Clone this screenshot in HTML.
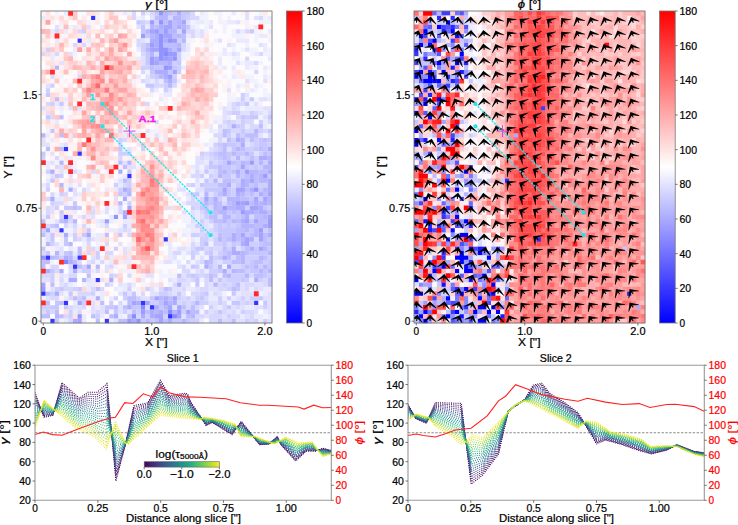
<!DOCTYPE html><html><head><meta charset="utf-8"><style>html,body{margin:0;padding:0;background:#fff;overflow:hidden}svg{display:block}</style></head><body><svg width="738" height="525" viewBox="0 0 738 525" font-family='"Liberation Sans", sans-serif'>
<style>text{stroke:#000;stroke-width:0.22px}</style>
<rect width="738" height="525" fill="#fff"/>
<g transform="translate(41,11) scale(4.5294,4.5217)">
<path fill="#3434ff" d="M11 1h1.06v1.06h-1.06zM8 6h1.06v1.06h-1.06zM5 30h1.06v1.06h-1.06zM8 31h1.06v1.06h-1.06zM19 36h1.06v1.06h-1.06zM5 45h1.06v1.06h-1.06zM4 48h1.06v1.06h-1.06zM27 50h1.06v1.06h-1.06zM1 54h1.06v1.06h-1.06zM8 54h1.06v1.06h-1.06zM7 56h1.06v1.06h-1.06zM12 59h1.06v1.06h-1.06zM0 62h1.06v1.06h-1.06zM5 64h1.06v1.06h-1.06zM22 64h1.06v1.06h-1.06zM47 64h1.06v1.06h-1.06zM24 65h1.06v1.06h-1.06zM28 67h1.06v1.06h-1.06zM2 68h1.06v1.06h-1.06zM14 68h1.06v1.06h-1.06z"/>
<path fill="#8282ff" d="M5 55h1.06v1.06h-1.06z"/>
<path fill="#8a8aff" d="M27 9h1.06v1.06h-1.06zM22 65h1.06v1.06h-1.06zM28 66h1.06v1.06h-1.06zM20 67h1.06v1.06h-1.06zM29 67h1.06v1.06h-1.06z"/>
<path fill="#9393ff" d="M26 0h1.06v1.06h-1.06zM26 2h1.06v1.06h-1.06zM26 5h1.06v1.06h-1.06zM26 6h1.06v1.06h-1.06zM28 6h1.06v1.06h-1.06zM26 7h1.06v1.06h-1.06zM26 8h1.06v1.06h-1.06zM27 8h1.06v1.06h-1.06zM26 9h1.06v1.06h-1.06zM26 10h1.06v1.06h-1.06zM29 10h1.06v1.06h-1.06zM27 12h1.06v1.06h-1.06zM47 39h1.06v1.06h-1.06zM16 45h1.06v1.06h-1.06zM0 54h1.06v1.06h-1.06zM8 67h1.06v1.06h-1.06zM21 68h1.06v1.06h-1.06z"/>
<path fill="#9c9cff" d="M24 2h1.06v1.06h-1.06zM25 4h1.06v1.06h-1.06zM27 4h1.06v1.06h-1.06zM22 5h1.06v1.06h-1.06zM29 6h1.06v1.06h-1.06zM24 7h1.06v1.06h-1.06zM28 9h1.06v1.06h-1.06zM29 9h1.06v1.06h-1.06zM24 10h1.06v1.06h-1.06zM27 10h1.06v1.06h-1.06zM24 11h1.06v1.06h-1.06zM28 12h1.06v1.06h-1.06zM28 14h1.06v1.06h-1.06zM46 33h1.06v1.06h-1.06zM45 35h1.06v1.06h-1.06zM49 36h1.06v1.06h-1.06zM43 42h1.06v1.06h-1.06zM45 42h1.06v1.06h-1.06zM40 43h1.06v1.06h-1.06zM44 44h1.06v1.06h-1.06zM14 46h1.06v1.06h-1.06zM50 46h1.06v1.06h-1.06zM50 47h1.06v1.06h-1.06zM48 48h1.06v1.06h-1.06zM0 61h1.06v1.06h-1.06zM22 66h1.06v1.06h-1.06zM30 66h1.06v1.06h-1.06zM19 68h1.06v1.06h-1.06z"/>
<path fill="#a4a4ff" d="M28 2h1.06v1.06h-1.06zM31 2h1.06v1.06h-1.06zM27 3h1.06v1.06h-1.06zM28 3h1.06v1.06h-1.06zM24 4h1.06v1.06h-1.06zM31 4h1.06v1.06h-1.06zM27 5h1.06v1.06h-1.06zM28 5h1.06v1.06h-1.06zM24 8h1.06v1.06h-1.06zM25 8h1.06v1.06h-1.06zM30 8h1.06v1.06h-1.06zM28 10h1.06v1.06h-1.06zM25 11h1.06v1.06h-1.06zM29 13h1.06v1.06h-1.06zM41 33h1.06v1.06h-1.06zM44 34h1.06v1.06h-1.06zM46 37h1.06v1.06h-1.06zM40 39h1.06v1.06h-1.06zM43 39h1.06v1.06h-1.06zM44 39h1.06v1.06h-1.06zM50 40h1.06v1.06h-1.06zM36 41h1.06v1.06h-1.06zM47 41h1.06v1.06h-1.06zM49 41h1.06v1.06h-1.06zM44 42h1.06v1.06h-1.06zM19 43h1.06v1.06h-1.06zM46 43h1.06v1.06h-1.06zM47 43h1.06v1.06h-1.06zM18 45h1.06v1.06h-1.06zM50 45h1.06v1.06h-1.06zM45 46h1.06v1.06h-1.06zM47 46h1.06v1.06h-1.06zM1 48h1.06v1.06h-1.06zM10 49h1.06v1.06h-1.06zM44 49h1.06v1.06h-1.06zM48 49h1.06v1.06h-1.06zM45 50h1.06v1.06h-1.06zM48 50h1.06v1.06h-1.06zM45 51h1.06v1.06h-1.06zM48 52h1.06v1.06h-1.06zM10 56h1.06v1.06h-1.06zM41 56h1.06v1.06h-1.06zM0 60h1.06v1.06h-1.06zM25 63h1.06v1.06h-1.06zM29 63h1.06v1.06h-1.06zM8 64h1.06v1.06h-1.06zM20 64h1.06v1.06h-1.06zM23 64h1.06v1.06h-1.06zM27 64h1.06v1.06h-1.06zM28 65h1.06v1.06h-1.06zM30 65h1.06v1.06h-1.06zM32 66h1.06v1.06h-1.06zM25 67h1.06v1.06h-1.06zM26 67h1.06v1.06h-1.06zM30 67h1.06v1.06h-1.06zM8 68h1.06v1.06h-1.06zM26 68h1.06v1.06h-1.06z"/>
<path fill="#adadff" d="M30 0h1.06v1.06h-1.06zM26 3h1.06v1.06h-1.06zM30 3h1.06v1.06h-1.06zM25 5h1.06v1.06h-1.06zM24 6h1.06v1.06h-1.06zM25 6h1.06v1.06h-1.06zM27 6h1.06v1.06h-1.06zM25 7h1.06v1.06h-1.06zM28 8h1.06v1.06h-1.06zM25 10h1.06v1.06h-1.06zM28 11h1.06v1.06h-1.06zM25 13h1.06v1.06h-1.06zM26 13h1.06v1.06h-1.06zM27 13h1.06v1.06h-1.06zM27 14h1.06v1.06h-1.06zM28 15h1.06v1.06h-1.06zM42 25h1.06v1.06h-1.06zM43 28h1.06v1.06h-1.06zM44 29h1.06v1.06h-1.06zM50 30h1.06v1.06h-1.06zM48 32h1.06v1.06h-1.06zM49 32h1.06v1.06h-1.06zM50 33h1.06v1.06h-1.06zM2 35h1.06v1.06h-1.06zM17 35h1.06v1.06h-1.06zM43 35h1.06v1.06h-1.06zM50 35h1.06v1.06h-1.06zM46 36h1.06v1.06h-1.06zM44 37h1.06v1.06h-1.06zM50 37h1.06v1.06h-1.06zM41 38h1.06v1.06h-1.06zM44 38h1.06v1.06h-1.06zM50 38h1.06v1.06h-1.06zM6 39h1.06v1.06h-1.06zM18 39h1.06v1.06h-1.06zM46 39h1.06v1.06h-1.06zM50 39h1.06v1.06h-1.06zM40 40h1.06v1.06h-1.06zM43 40h1.06v1.06h-1.06zM48 40h1.06v1.06h-1.06zM2 41h1.06v1.06h-1.06zM18 41h1.06v1.06h-1.06zM38 41h1.06v1.06h-1.06zM47 42h1.06v1.06h-1.06zM49 42h1.06v1.06h-1.06zM43 43h1.06v1.06h-1.06zM44 43h1.06v1.06h-1.06zM48 43h1.06v1.06h-1.06zM18 44h1.06v1.06h-1.06zM45 44h1.06v1.06h-1.06zM46 44h1.06v1.06h-1.06zM48 44h1.06v1.06h-1.06zM49 44h1.06v1.06h-1.06zM45 45h1.06v1.06h-1.06zM44 46h1.06v1.06h-1.06zM49 47h1.06v1.06h-1.06zM5 49h1.06v1.06h-1.06zM42 49h1.06v1.06h-1.06zM50 49h1.06v1.06h-1.06zM42 50h1.06v1.06h-1.06zM46 50h1.06v1.06h-1.06zM44 51h1.06v1.06h-1.06zM42 52h1.06v1.06h-1.06zM46 52h1.06v1.06h-1.06zM42 53h1.06v1.06h-1.06zM43 53h1.06v1.06h-1.06zM5 54h1.06v1.06h-1.06zM40 54h1.06v1.06h-1.06zM6 55h1.06v1.06h-1.06zM36 56h1.06v1.06h-1.06zM1 57h1.06v1.06h-1.06zM4 57h1.06v1.06h-1.06zM7 57h1.06v1.06h-1.06zM40 57h1.06v1.06h-1.06zM6 59h1.06v1.06h-1.06zM7 59h1.06v1.06h-1.06zM15 59h1.06v1.06h-1.06zM47 59h1.06v1.06h-1.06zM30 60h1.06v1.06h-1.06zM3 62h1.06v1.06h-1.06zM12 63h1.06v1.06h-1.06zM27 63h1.06v1.06h-1.06zM21 64h1.06v1.06h-1.06zM29 64h1.06v1.06h-1.06zM19 65h1.06v1.06h-1.06zM25 65h1.06v1.06h-1.06zM24 66h1.06v1.06h-1.06zM26 66h1.06v1.06h-1.06zM16 67h1.06v1.06h-1.06zM22 67h1.06v1.06h-1.06zM24 67h1.06v1.06h-1.06zM7 68h1.06v1.06h-1.06zM20 68h1.06v1.06h-1.06zM28 68h1.06v1.06h-1.06z"/>
<path fill="#b6b6ff" d="M27 0h1.06v1.06h-1.06zM26 1h1.06v1.06h-1.06zM27 1h1.06v1.06h-1.06zM29 1h1.06v1.06h-1.06zM30 1h1.06v1.06h-1.06zM30 2h1.06v1.06h-1.06zM24 3h1.06v1.06h-1.06zM31 3h1.06v1.06h-1.06zM23 4h1.06v1.06h-1.06zM26 4h1.06v1.06h-1.06zM28 4h1.06v1.06h-1.06zM29 4h1.06v1.06h-1.06zM24 5h1.06v1.06h-1.06zM30 5h1.06v1.06h-1.06zM31 6h1.06v1.06h-1.06zM30 7h1.06v1.06h-1.06zM23 8h1.06v1.06h-1.06zM24 9h1.06v1.06h-1.06zM26 11h1.06v1.06h-1.06zM27 11h1.06v1.06h-1.06zM3 12h1.06v1.06h-1.06zM26 14h1.06v1.06h-1.06zM28 16h1.06v1.06h-1.06zM47 26h1.06v1.06h-1.06zM0 27h1.06v1.06h-1.06zM44 28h1.06v1.06h-1.06zM43 30h1.06v1.06h-1.06zM42 31h1.06v1.06h-1.06zM45 31h1.06v1.06h-1.06zM43 32h1.06v1.06h-1.06zM50 32h1.06v1.06h-1.06zM4 33h1.06v1.06h-1.06zM19 33h1.06v1.06h-1.06zM44 33h1.06v1.06h-1.06zM48 33h1.06v1.06h-1.06zM49 34h1.06v1.06h-1.06zM50 34h1.06v1.06h-1.06zM40 35h1.06v1.06h-1.06zM46 35h1.06v1.06h-1.06zM47 35h1.06v1.06h-1.06zM39 36h1.06v1.06h-1.06zM43 36h1.06v1.06h-1.06zM48 36h1.06v1.06h-1.06zM38 37h1.06v1.06h-1.06zM45 37h1.06v1.06h-1.06zM48 37h1.06v1.06h-1.06zM49 37h1.06v1.06h-1.06zM4 38h1.06v1.06h-1.06zM45 38h1.06v1.06h-1.06zM49 39h1.06v1.06h-1.06zM19 40h1.06v1.06h-1.06zM36 40h1.06v1.06h-1.06zM44 40h1.06v1.06h-1.06zM41 41h1.06v1.06h-1.06zM42 41h1.06v1.06h-1.06zM43 41h1.06v1.06h-1.06zM50 41h1.06v1.06h-1.06zM17 42h1.06v1.06h-1.06zM36 42h1.06v1.06h-1.06zM38 42h1.06v1.06h-1.06zM42 42h1.06v1.06h-1.06zM48 42h1.06v1.06h-1.06zM50 42h1.06v1.06h-1.06zM38 43h1.06v1.06h-1.06zM41 43h1.06v1.06h-1.06zM42 43h1.06v1.06h-1.06zM39 44h1.06v1.06h-1.06zM40 44h1.06v1.06h-1.06zM47 44h1.06v1.06h-1.06zM40 45h1.06v1.06h-1.06zM41 45h1.06v1.06h-1.06zM49 45h1.06v1.06h-1.06zM5 46h1.06v1.06h-1.06zM7 46h1.06v1.06h-1.06zM40 46h1.06v1.06h-1.06zM42 46h1.06v1.06h-1.06zM44 47h1.06v1.06h-1.06zM45 47h1.06v1.06h-1.06zM46 47h1.06v1.06h-1.06zM45 48h1.06v1.06h-1.06zM47 48h1.06v1.06h-1.06zM47 49h1.06v1.06h-1.06zM39 50h1.06v1.06h-1.06zM44 50h1.06v1.06h-1.06zM1 51h1.06v1.06h-1.06zM6 51h1.06v1.06h-1.06zM49 52h1.06v1.06h-1.06zM3 53h1.06v1.06h-1.06zM44 53h1.06v1.06h-1.06zM50 53h1.06v1.06h-1.06zM2 54h1.06v1.06h-1.06zM6 54h1.06v1.06h-1.06zM44 54h1.06v1.06h-1.06zM48 54h1.06v1.06h-1.06zM36 55h1.06v1.06h-1.06zM44 55h1.06v1.06h-1.06zM12 56h1.06v1.06h-1.06zM39 56h1.06v1.06h-1.06zM47 56h1.06v1.06h-1.06zM49 56h1.06v1.06h-1.06zM42 57h1.06v1.06h-1.06zM48 57h1.06v1.06h-1.06zM50 57h1.06v1.06h-1.06zM41 58h1.06v1.06h-1.06zM45 58h1.06v1.06h-1.06zM9 59h1.06v1.06h-1.06zM38 60h1.06v1.06h-1.06zM26 63h1.06v1.06h-1.06zM28 64h1.06v1.06h-1.06zM34 64h1.06v1.06h-1.06zM27 65h1.06v1.06h-1.06zM25 66h1.06v1.06h-1.06zM29 66h1.06v1.06h-1.06zM3 67h1.06v1.06h-1.06zM33 67h1.06v1.06h-1.06zM23 68h1.06v1.06h-1.06zM31 68h1.06v1.06h-1.06z"/>
<path fill="#bebeff" d="M28 0h1.06v1.06h-1.06zM25 1h1.06v1.06h-1.06zM27 2h1.06v1.06h-1.06zM29 2h1.06v1.06h-1.06zM25 3h1.06v1.06h-1.06zM29 3h1.06v1.06h-1.06zM29 5h1.06v1.06h-1.06zM31 5h1.06v1.06h-1.06zM23 7h1.06v1.06h-1.06zM27 7h1.06v1.06h-1.06zM28 7h1.06v1.06h-1.06zM29 7h1.06v1.06h-1.06zM29 8h1.06v1.06h-1.06zM24 12h1.06v1.06h-1.06zM27 15h1.06v1.06h-1.06zM3 19h1.06v1.06h-1.06zM4 23h1.06v1.06h-1.06zM48 25h1.06v1.06h-1.06zM40 26h1.06v1.06h-1.06zM4 27h1.06v1.06h-1.06zM40 27h1.06v1.06h-1.06zM43 27h1.06v1.06h-1.06zM45 27h1.06v1.06h-1.06zM46 27h1.06v1.06h-1.06zM47 27h1.06v1.06h-1.06zM41 28h1.06v1.06h-1.06zM46 28h1.06v1.06h-1.06zM49 28h1.06v1.06h-1.06zM40 29h1.06v1.06h-1.06zM1 30h1.06v1.06h-1.06zM4 30h1.06v1.06h-1.06zM40 30h1.06v1.06h-1.06zM44 30h1.06v1.06h-1.06zM48 30h1.06v1.06h-1.06zM39 31h1.06v1.06h-1.06zM40 31h1.06v1.06h-1.06zM49 31h1.06v1.06h-1.06zM40 32h1.06v1.06h-1.06zM46 32h1.06v1.06h-1.06zM17 33h1.06v1.06h-1.06zM42 33h1.06v1.06h-1.06zM45 33h1.06v1.06h-1.06zM18 34h1.06v1.06h-1.06zM39 34h1.06v1.06h-1.06zM39 35h1.06v1.06h-1.06zM42 35h1.06v1.06h-1.06zM48 35h1.06v1.06h-1.06zM49 35h1.06v1.06h-1.06zM45 36h1.06v1.06h-1.06zM47 36h1.06v1.06h-1.06zM18 37h1.06v1.06h-1.06zM40 37h1.06v1.06h-1.06zM41 37h1.06v1.06h-1.06zM47 37h1.06v1.06h-1.06zM39 38h1.06v1.06h-1.06zM40 38h1.06v1.06h-1.06zM47 38h1.06v1.06h-1.06zM19 39h1.06v1.06h-1.06zM45 39h1.06v1.06h-1.06zM39 40h1.06v1.06h-1.06zM46 40h1.06v1.06h-1.06zM49 40h1.06v1.06h-1.06zM44 41h1.06v1.06h-1.06zM45 41h1.06v1.06h-1.06zM39 42h1.06v1.06h-1.06zM41 42h1.06v1.06h-1.06zM46 42h1.06v1.06h-1.06zM7 43h1.06v1.06h-1.06zM39 43h1.06v1.06h-1.06zM38 44h1.06v1.06h-1.06zM42 44h1.06v1.06h-1.06zM50 44h1.06v1.06h-1.06zM37 45h1.06v1.06h-1.06zM38 45h1.06v1.06h-1.06zM44 45h1.06v1.06h-1.06zM47 45h1.06v1.06h-1.06zM48 45h1.06v1.06h-1.06zM0 46h1.06v1.06h-1.06zM4 46h1.06v1.06h-1.06zM38 46h1.06v1.06h-1.06zM39 46h1.06v1.06h-1.06zM43 46h1.06v1.06h-1.06zM48 46h1.06v1.06h-1.06zM49 46h1.06v1.06h-1.06zM3 47h1.06v1.06h-1.06zM47 47h1.06v1.06h-1.06zM48 47h1.06v1.06h-1.06zM43 48h1.06v1.06h-1.06zM44 48h1.06v1.06h-1.06zM50 48h1.06v1.06h-1.06zM0 49h1.06v1.06h-1.06zM14 49h1.06v1.06h-1.06zM39 49h1.06v1.06h-1.06zM43 49h1.06v1.06h-1.06zM46 49h1.06v1.06h-1.06zM49 49h1.06v1.06h-1.06zM41 50h1.06v1.06h-1.06zM43 50h1.06v1.06h-1.06zM49 50h1.06v1.06h-1.06zM36 51h1.06v1.06h-1.06zM49 51h1.06v1.06h-1.06zM50 51h1.06v1.06h-1.06zM8 52h1.06v1.06h-1.06zM40 52h1.06v1.06h-1.06zM45 52h1.06v1.06h-1.06zM6 53h1.06v1.06h-1.06zM8 53h1.06v1.06h-1.06zM41 53h1.06v1.06h-1.06zM45 53h1.06v1.06h-1.06zM3 54h1.06v1.06h-1.06zM37 54h1.06v1.06h-1.06zM41 54h1.06v1.06h-1.06zM43 54h1.06v1.06h-1.06zM49 54h1.06v1.06h-1.06zM0 55h1.06v1.06h-1.06zM1 55h1.06v1.06h-1.06zM7 55h1.06v1.06h-1.06zM37 55h1.06v1.06h-1.06zM42 55h1.06v1.06h-1.06zM43 55h1.06v1.06h-1.06zM47 55h1.06v1.06h-1.06zM48 55h1.06v1.06h-1.06zM0 56h1.06v1.06h-1.06zM8 56h1.06v1.06h-1.06zM45 56h1.06v1.06h-1.06zM43 57h1.06v1.06h-1.06zM44 57h1.06v1.06h-1.06zM10 58h1.06v1.06h-1.06zM30 58h1.06v1.06h-1.06zM37 58h1.06v1.06h-1.06zM40 58h1.06v1.06h-1.06zM47 58h1.06v1.06h-1.06zM48 58h1.06v1.06h-1.06zM37 59h1.06v1.06h-1.06zM50 59h1.06v1.06h-1.06zM2 60h1.06v1.06h-1.06zM43 60h1.06v1.06h-1.06zM50 60h1.06v1.06h-1.06zM12 61h1.06v1.06h-1.06zM27 61h1.06v1.06h-1.06zM42 61h1.06v1.06h-1.06zM1 62h1.06v1.06h-1.06zM7 63h1.06v1.06h-1.06zM9 63h1.06v1.06h-1.06zM19 63h1.06v1.06h-1.06zM20 63h1.06v1.06h-1.06zM28 63h1.06v1.06h-1.06zM1 64h1.06v1.06h-1.06zM4 64h1.06v1.06h-1.06zM13 64h1.06v1.06h-1.06zM19 64h1.06v1.06h-1.06zM26 64h1.06v1.06h-1.06zM16 65h1.06v1.06h-1.06zM18 65h1.06v1.06h-1.06zM31 65h1.06v1.06h-1.06zM33 65h1.06v1.06h-1.06zM3 66h1.06v1.06h-1.06zM14 66h1.06v1.06h-1.06zM20 66h1.06v1.06h-1.06zM23 66h1.06v1.06h-1.06zM27 66h1.06v1.06h-1.06zM33 66h1.06v1.06h-1.06zM34 66h1.06v1.06h-1.06zM0 67h1.06v1.06h-1.06zM1 67h1.06v1.06h-1.06zM4 67h1.06v1.06h-1.06zM11 67h1.06v1.06h-1.06zM15 67h1.06v1.06h-1.06zM19 67h1.06v1.06h-1.06zM32 67h1.06v1.06h-1.06zM12 68h1.06v1.06h-1.06zM17 68h1.06v1.06h-1.06zM18 68h1.06v1.06h-1.06zM25 68h1.06v1.06h-1.06zM27 68h1.06v1.06h-1.06zM39 68h1.06v1.06h-1.06zM42 68h1.06v1.06h-1.06z"/>
<path fill="#c7c7ff" d="M25 0h1.06v1.06h-1.06zM29 0h1.06v1.06h-1.06zM31 0h1.06v1.06h-1.06zM32 0h1.06v1.06h-1.06zM31 1h1.06v1.06h-1.06zM21 2h1.06v1.06h-1.06zM22 3h1.06v1.06h-1.06zM32 3h1.06v1.06h-1.06zM22 4h1.06v1.06h-1.06zM46 4h1.06v1.06h-1.06zM23 5h1.06v1.06h-1.06zM23 9h1.06v1.06h-1.06zM23 10h1.06v1.06h-1.06zM23 11h1.06v1.06h-1.06zM30 11h1.06v1.06h-1.06zM25 12h1.06v1.06h-1.06zM26 12h1.06v1.06h-1.06zM29 12h1.06v1.06h-1.06zM24 13h1.06v1.06h-1.06zM28 13h1.06v1.06h-1.06zM25 14h1.06v1.06h-1.06zM29 15h1.06v1.06h-1.06zM23 16h1.06v1.06h-1.06zM24 16h1.06v1.06h-1.06zM1 18h1.06v1.06h-1.06zM46 19h1.06v1.06h-1.06zM4 20h1.06v1.06h-1.06zM45 20h1.06v1.06h-1.06zM1 23h1.06v1.06h-1.06zM44 23h1.06v1.06h-1.06zM46 23h1.06v1.06h-1.06zM47 23h1.06v1.06h-1.06zM50 23h1.06v1.06h-1.06zM43 25h1.06v1.06h-1.06zM2 26h1.06v1.06h-1.06zM41 26h1.06v1.06h-1.06zM44 26h1.06v1.06h-1.06zM50 26h1.06v1.06h-1.06zM48 28h1.06v1.06h-1.06zM50 28h1.06v1.06h-1.06zM39 29h1.06v1.06h-1.06zM41 29h1.06v1.06h-1.06zM42 29h1.06v1.06h-1.06zM48 29h1.06v1.06h-1.06zM49 29h1.06v1.06h-1.06zM17 30h1.06v1.06h-1.06zM42 30h1.06v1.06h-1.06zM47 30h1.06v1.06h-1.06zM49 30h1.06v1.06h-1.06zM0 31h1.06v1.06h-1.06zM38 31h1.06v1.06h-1.06zM41 31h1.06v1.06h-1.06zM43 31h1.06v1.06h-1.06zM44 31h1.06v1.06h-1.06zM46 31h1.06v1.06h-1.06zM50 31h1.06v1.06h-1.06zM39 32h1.06v1.06h-1.06zM41 32h1.06v1.06h-1.06zM37 33h1.06v1.06h-1.06zM40 33h1.06v1.06h-1.06zM43 33h1.06v1.06h-1.06zM37 34h1.06v1.06h-1.06zM38 34h1.06v1.06h-1.06zM40 34h1.06v1.06h-1.06zM41 34h1.06v1.06h-1.06zM43 34h1.06v1.06h-1.06zM45 34h1.06v1.06h-1.06zM47 34h1.06v1.06h-1.06zM19 35h1.06v1.06h-1.06zM36 35h1.06v1.06h-1.06zM41 35h1.06v1.06h-1.06zM44 35h1.06v1.06h-1.06zM3 36h1.06v1.06h-1.06zM40 36h1.06v1.06h-1.06zM41 36h1.06v1.06h-1.06zM44 36h1.06v1.06h-1.06zM50 36h1.06v1.06h-1.06zM2 37h1.06v1.06h-1.06zM36 37h1.06v1.06h-1.06zM42 37h1.06v1.06h-1.06zM35 38h1.06v1.06h-1.06zM43 38h1.06v1.06h-1.06zM46 38h1.06v1.06h-1.06zM36 39h1.06v1.06h-1.06zM37 39h1.06v1.06h-1.06zM38 39h1.06v1.06h-1.06zM39 39h1.06v1.06h-1.06zM41 39h1.06v1.06h-1.06zM48 39h1.06v1.06h-1.06zM17 40h1.06v1.06h-1.06zM34 40h1.06v1.06h-1.06zM41 40h1.06v1.06h-1.06zM45 40h1.06v1.06h-1.06zM37 41h1.06v1.06h-1.06zM46 41h1.06v1.06h-1.06zM7 42h1.06v1.06h-1.06zM37 42h1.06v1.06h-1.06zM5 43h1.06v1.06h-1.06zM6 43h1.06v1.06h-1.06zM8 43h1.06v1.06h-1.06zM35 43h1.06v1.06h-1.06zM36 43h1.06v1.06h-1.06zM49 43h1.06v1.06h-1.06zM4 44h1.06v1.06h-1.06zM36 44h1.06v1.06h-1.06zM41 44h1.06v1.06h-1.06zM43 44h1.06v1.06h-1.06zM1 45h1.06v1.06h-1.06zM43 45h1.06v1.06h-1.06zM41 46h1.06v1.06h-1.06zM46 46h1.06v1.06h-1.06zM2 47h1.06v1.06h-1.06zM39 47h1.06v1.06h-1.06zM41 47h1.06v1.06h-1.06zM43 47h1.06v1.06h-1.06zM10 48h1.06v1.06h-1.06zM39 48h1.06v1.06h-1.06zM40 48h1.06v1.06h-1.06zM41 48h1.06v1.06h-1.06zM42 48h1.06v1.06h-1.06zM46 48h1.06v1.06h-1.06zM2 49h1.06v1.06h-1.06zM9 49h1.06v1.06h-1.06zM17 49h1.06v1.06h-1.06zM40 49h1.06v1.06h-1.06zM41 49h1.06v1.06h-1.06zM45 49h1.06v1.06h-1.06zM2 50h1.06v1.06h-1.06zM5 50h1.06v1.06h-1.06zM40 50h1.06v1.06h-1.06zM50 50h1.06v1.06h-1.06zM5 51h1.06v1.06h-1.06zM40 51h1.06v1.06h-1.06zM42 51h1.06v1.06h-1.06zM48 51h1.06v1.06h-1.06zM0 52h1.06v1.06h-1.06zM34 52h1.06v1.06h-1.06zM35 52h1.06v1.06h-1.06zM47 52h1.06v1.06h-1.06zM50 52h1.06v1.06h-1.06zM1 53h1.06v1.06h-1.06zM5 53h1.06v1.06h-1.06zM37 53h1.06v1.06h-1.06zM40 53h1.06v1.06h-1.06zM46 53h1.06v1.06h-1.06zM47 53h1.06v1.06h-1.06zM48 53h1.06v1.06h-1.06zM49 53h1.06v1.06h-1.06zM39 54h1.06v1.06h-1.06zM46 55h1.06v1.06h-1.06zM50 55h1.06v1.06h-1.06zM33 56h1.06v1.06h-1.06zM37 56h1.06v1.06h-1.06zM46 56h1.06v1.06h-1.06zM50 56h1.06v1.06h-1.06zM2 57h1.06v1.06h-1.06zM39 57h1.06v1.06h-1.06zM46 57h1.06v1.06h-1.06zM47 57h1.06v1.06h-1.06zM49 57h1.06v1.06h-1.06zM33 58h1.06v1.06h-1.06zM38 58h1.06v1.06h-1.06zM49 58h1.06v1.06h-1.06zM34 59h1.06v1.06h-1.06zM39 59h1.06v1.06h-1.06zM44 59h1.06v1.06h-1.06zM34 60h1.06v1.06h-1.06zM4 61h1.06v1.06h-1.06zM8 61h1.06v1.06h-1.06zM28 61h1.06v1.06h-1.06zM43 61h1.06v1.06h-1.06zM6 62h1.06v1.06h-1.06zM18 62h1.06v1.06h-1.06zM20 62h1.06v1.06h-1.06zM30 62h1.06v1.06h-1.06zM36 62h1.06v1.06h-1.06zM42 62h1.06v1.06h-1.06zM24 63h1.06v1.06h-1.06zM35 63h1.06v1.06h-1.06zM48 63h1.06v1.06h-1.06zM3 64h1.06v1.06h-1.06zM42 64h1.06v1.06h-1.06zM43 64h1.06v1.06h-1.06zM49 64h1.06v1.06h-1.06zM2 65h1.06v1.06h-1.06zM3 65h1.06v1.06h-1.06zM5 65h1.06v1.06h-1.06zM14 65h1.06v1.06h-1.06zM15 65h1.06v1.06h-1.06zM20 65h1.06v1.06h-1.06zM21 65h1.06v1.06h-1.06zM26 65h1.06v1.06h-1.06zM41 65h1.06v1.06h-1.06zM1 66h1.06v1.06h-1.06zM16 66h1.06v1.06h-1.06zM39 66h1.06v1.06h-1.06zM3 68h1.06v1.06h-1.06zM22 68h1.06v1.06h-1.06zM24 68h1.06v1.06h-1.06zM29 68h1.06v1.06h-1.06zM30 68h1.06v1.06h-1.06zM32 68h1.06v1.06h-1.06z"/>
<path fill="#cfcfff" d="M22 0h1.06v1.06h-1.06zM32 1h1.06v1.06h-1.06zM22 2h1.06v1.06h-1.06zM25 2h1.06v1.06h-1.06zM9 4h1.06v1.06h-1.06zM30 6h1.06v1.06h-1.06zM22 7h1.06v1.06h-1.06zM1 8h1.06v1.06h-1.06zM22 8h1.06v1.06h-1.06zM30 9h1.06v1.06h-1.06zM30 10h1.06v1.06h-1.06zM29 11h1.06v1.06h-1.06zM22 12h1.06v1.06h-1.06zM23 12h1.06v1.06h-1.06zM30 12h1.06v1.06h-1.06zM30 13h1.06v1.06h-1.06zM24 14h1.06v1.06h-1.06zM29 14h1.06v1.06h-1.06zM2 16h1.06v1.06h-1.06zM27 16h1.06v1.06h-1.06zM1 17h1.06v1.06h-1.06zM27 17h1.06v1.06h-1.06zM44 18h1.06v1.06h-1.06zM44 19h1.06v1.06h-1.06zM2 20h1.06v1.06h-1.06zM43 20h1.06v1.06h-1.06zM42 22h1.06v1.06h-1.06zM43 22h1.06v1.06h-1.06zM46 22h1.06v1.06h-1.06zM45 23h1.06v1.06h-1.06zM41 24h1.06v1.06h-1.06zM44 24h1.06v1.06h-1.06zM48 24h1.06v1.06h-1.06zM44 25h1.06v1.06h-1.06zM48 26h1.06v1.06h-1.06zM41 27h1.06v1.06h-1.06zM44 27h1.06v1.06h-1.06zM17 28h1.06v1.06h-1.06zM42 28h1.06v1.06h-1.06zM47 28h1.06v1.06h-1.06zM38 29h1.06v1.06h-1.06zM43 29h1.06v1.06h-1.06zM47 29h1.06v1.06h-1.06zM50 29h1.06v1.06h-1.06zM22 30h1.06v1.06h-1.06zM39 30h1.06v1.06h-1.06zM45 30h1.06v1.06h-1.06zM46 30h1.06v1.06h-1.06zM17 31h1.06v1.06h-1.06zM18 31h1.06v1.06h-1.06zM19 31h1.06v1.06h-1.06zM35 31h1.06v1.06h-1.06zM37 31h1.06v1.06h-1.06zM48 31h1.06v1.06h-1.06zM0 32h1.06v1.06h-1.06zM38 32h1.06v1.06h-1.06zM45 32h1.06v1.06h-1.06zM47 32h1.06v1.06h-1.06zM39 33h1.06v1.06h-1.06zM47 33h1.06v1.06h-1.06zM49 33h1.06v1.06h-1.06zM42 34h1.06v1.06h-1.06zM46 34h1.06v1.06h-1.06zM48 34h1.06v1.06h-1.06zM1 35h1.06v1.06h-1.06zM4 36h1.06v1.06h-1.06zM35 36h1.06v1.06h-1.06zM37 36h1.06v1.06h-1.06zM19 37h1.06v1.06h-1.06zM43 37h1.06v1.06h-1.06zM16 38h1.06v1.06h-1.06zM19 38h1.06v1.06h-1.06zM33 38h1.06v1.06h-1.06zM36 38h1.06v1.06h-1.06zM37 38h1.06v1.06h-1.06zM38 38h1.06v1.06h-1.06zM48 38h1.06v1.06h-1.06zM49 38h1.06v1.06h-1.06zM1 39h1.06v1.06h-1.06zM17 39h1.06v1.06h-1.06zM42 39h1.06v1.06h-1.06zM4 40h1.06v1.06h-1.06zM18 40h1.06v1.06h-1.06zM33 40h1.06v1.06h-1.06zM38 40h1.06v1.06h-1.06zM42 40h1.06v1.06h-1.06zM47 40h1.06v1.06h-1.06zM39 41h1.06v1.06h-1.06zM48 41h1.06v1.06h-1.06zM2 42h1.06v1.06h-1.06zM19 42h1.06v1.06h-1.06zM35 42h1.06v1.06h-1.06zM3 43h1.06v1.06h-1.06zM33 43h1.06v1.06h-1.06zM45 43h1.06v1.06h-1.06zM50 43h1.06v1.06h-1.06zM37 44h1.06v1.06h-1.06zM4 45h1.06v1.06h-1.06zM6 45h1.06v1.06h-1.06zM36 45h1.06v1.06h-1.06zM42 45h1.06v1.06h-1.06zM35 46h1.06v1.06h-1.06zM37 46h1.06v1.06h-1.06zM18 47h1.06v1.06h-1.06zM34 47h1.06v1.06h-1.06zM38 47h1.06v1.06h-1.06zM40 47h1.06v1.06h-1.06zM42 47h1.06v1.06h-1.06zM0 48h1.06v1.06h-1.06zM35 48h1.06v1.06h-1.06zM38 48h1.06v1.06h-1.06zM49 48h1.06v1.06h-1.06zM7 49h1.06v1.06h-1.06zM33 49h1.06v1.06h-1.06zM34 49h1.06v1.06h-1.06zM36 49h1.06v1.06h-1.06zM37 49h1.06v1.06h-1.06zM7 50h1.06v1.06h-1.06zM10 50h1.06v1.06h-1.06zM35 50h1.06v1.06h-1.06zM36 50h1.06v1.06h-1.06zM38 50h1.06v1.06h-1.06zM2 51h1.06v1.06h-1.06zM35 51h1.06v1.06h-1.06zM38 51h1.06v1.06h-1.06zM39 51h1.06v1.06h-1.06zM43 51h1.06v1.06h-1.06zM46 51h1.06v1.06h-1.06zM47 51h1.06v1.06h-1.06zM16 52h1.06v1.06h-1.06zM37 52h1.06v1.06h-1.06zM41 52h1.06v1.06h-1.06zM44 52h1.06v1.06h-1.06zM12 53h1.06v1.06h-1.06zM33 53h1.06v1.06h-1.06zM36 53h1.06v1.06h-1.06zM39 53h1.06v1.06h-1.06zM4 54h1.06v1.06h-1.06zM12 54h1.06v1.06h-1.06zM33 54h1.06v1.06h-1.06zM38 54h1.06v1.06h-1.06zM45 54h1.06v1.06h-1.06zM46 54h1.06v1.06h-1.06zM47 54h1.06v1.06h-1.06zM50 54h1.06v1.06h-1.06zM40 55h1.06v1.06h-1.06zM41 55h1.06v1.06h-1.06zM45 55h1.06v1.06h-1.06zM49 55h1.06v1.06h-1.06zM9 56h1.06v1.06h-1.06zM34 56h1.06v1.06h-1.06zM44 56h1.06v1.06h-1.06zM48 56h1.06v1.06h-1.06zM9 57h1.06v1.06h-1.06zM10 57h1.06v1.06h-1.06zM37 57h1.06v1.06h-1.06zM38 57h1.06v1.06h-1.06zM45 57h1.06v1.06h-1.06zM2 58h1.06v1.06h-1.06zM15 58h1.06v1.06h-1.06zM32 58h1.06v1.06h-1.06zM34 58h1.06v1.06h-1.06zM36 58h1.06v1.06h-1.06zM42 58h1.06v1.06h-1.06zM43 58h1.06v1.06h-1.06zM44 58h1.06v1.06h-1.06zM50 58h1.06v1.06h-1.06zM2 59h1.06v1.06h-1.06zM41 59h1.06v1.06h-1.06zM42 59h1.06v1.06h-1.06zM43 59h1.06v1.06h-1.06zM45 59h1.06v1.06h-1.06zM48 59h1.06v1.06h-1.06zM14 60h1.06v1.06h-1.06zM40 60h1.06v1.06h-1.06zM42 60h1.06v1.06h-1.06zM3 61h1.06v1.06h-1.06zM7 61h1.06v1.06h-1.06zM19 61h1.06v1.06h-1.06zM23 61h1.06v1.06h-1.06zM41 61h1.06v1.06h-1.06zM2 62h1.06v1.06h-1.06zM11 62h1.06v1.06h-1.06zM26 62h1.06v1.06h-1.06zM27 62h1.06v1.06h-1.06zM35 62h1.06v1.06h-1.06zM8 63h1.06v1.06h-1.06zM16 63h1.06v1.06h-1.06zM18 63h1.06v1.06h-1.06zM21 63h1.06v1.06h-1.06zM30 63h1.06v1.06h-1.06zM32 63h1.06v1.06h-1.06zM34 63h1.06v1.06h-1.06zM39 63h1.06v1.06h-1.06zM41 63h1.06v1.06h-1.06zM44 63h1.06v1.06h-1.06zM46 63h1.06v1.06h-1.06zM47 63h1.06v1.06h-1.06zM9 64h1.06v1.06h-1.06zM15 64h1.06v1.06h-1.06zM24 64h1.06v1.06h-1.06zM25 64h1.06v1.06h-1.06zM31 64h1.06v1.06h-1.06zM33 64h1.06v1.06h-1.06zM35 64h1.06v1.06h-1.06zM36 64h1.06v1.06h-1.06zM39 64h1.06v1.06h-1.06zM45 64h1.06v1.06h-1.06zM0 65h1.06v1.06h-1.06zM1 65h1.06v1.06h-1.06zM37 65h1.06v1.06h-1.06zM49 65h1.06v1.06h-1.06zM6 66h1.06v1.06h-1.06zM18 66h1.06v1.06h-1.06zM21 66h1.06v1.06h-1.06zM31 66h1.06v1.06h-1.06zM36 66h1.06v1.06h-1.06zM44 66h1.06v1.06h-1.06zM6 67h1.06v1.06h-1.06zM12 67h1.06v1.06h-1.06zM23 67h1.06v1.06h-1.06zM27 67h1.06v1.06h-1.06zM41 67h1.06v1.06h-1.06zM33 68h1.06v1.06h-1.06zM34 68h1.06v1.06h-1.06zM45 68h1.06v1.06h-1.06zM47 68h1.06v1.06h-1.06zM49 68h1.06v1.06h-1.06z"/>
<path fill="#d8d8ff" d="M20 0h1.06v1.06h-1.06zM24 0h1.06v1.06h-1.06zM33 0h1.06v1.06h-1.06zM20 1h1.06v1.06h-1.06zM28 1h1.06v1.06h-1.06zM33 1h1.06v1.06h-1.06zM34 1h1.06v1.06h-1.06zM48 1h1.06v1.06h-1.06zM23 2h1.06v1.06h-1.06zM3 4h1.06v1.06h-1.06zM8 4h1.06v1.06h-1.06zM30 4h1.06v1.06h-1.06zM32 4h1.06v1.06h-1.06zM33 4h1.06v1.06h-1.06zM43 4h1.06v1.06h-1.06zM45 4h1.06v1.06h-1.06zM33 5h1.06v1.06h-1.06zM21 6h1.06v1.06h-1.06zM7 7h1.06v1.06h-1.06zM9 7h1.06v1.06h-1.06zM21 7h1.06v1.06h-1.06zM31 7h1.06v1.06h-1.06zM31 8h1.06v1.06h-1.06zM0 9h1.06v1.06h-1.06zM3 9h1.06v1.06h-1.06zM22 9h1.06v1.06h-1.06zM25 9h1.06v1.06h-1.06zM48 9h1.06v1.06h-1.06zM45 10h1.06v1.06h-1.06zM47 11h1.06v1.06h-1.06zM22 13h1.06v1.06h-1.06zM47 13h1.06v1.06h-1.06zM2 14h1.06v1.06h-1.06zM8 14h1.06v1.06h-1.06zM22 15h1.06v1.06h-1.06zM25 15h1.06v1.06h-1.06zM25 16h1.06v1.06h-1.06zM26 16h1.06v1.06h-1.06zM29 16h1.06v1.06h-1.06zM24 17h1.06v1.06h-1.06zM1 20h1.06v1.06h-1.06zM23 20h1.06v1.06h-1.06zM42 20h1.06v1.06h-1.06zM44 20h1.06v1.06h-1.06zM42 21h1.06v1.06h-1.06zM41 22h1.06v1.06h-1.06zM47 22h1.06v1.06h-1.06zM50 22h1.06v1.06h-1.06zM2 23h1.06v1.06h-1.06zM43 23h1.06v1.06h-1.06zM25 24h1.06v1.06h-1.06zM40 24h1.06v1.06h-1.06zM42 24h1.06v1.06h-1.06zM45 24h1.06v1.06h-1.06zM46 24h1.06v1.06h-1.06zM50 24h1.06v1.06h-1.06zM39 25h1.06v1.06h-1.06zM41 25h1.06v1.06h-1.06zM46 25h1.06v1.06h-1.06zM47 25h1.06v1.06h-1.06zM17 26h1.06v1.06h-1.06zM42 26h1.06v1.06h-1.06zM43 26h1.06v1.06h-1.06zM45 26h1.06v1.06h-1.06zM46 26h1.06v1.06h-1.06zM49 26h1.06v1.06h-1.06zM38 27h1.06v1.06h-1.06zM39 27h1.06v1.06h-1.06zM50 27h1.06v1.06h-1.06zM18 28h1.06v1.06h-1.06zM39 28h1.06v1.06h-1.06zM45 28h1.06v1.06h-1.06zM17 29h1.06v1.06h-1.06zM46 29h1.06v1.06h-1.06zM38 30h1.06v1.06h-1.06zM36 31h1.06v1.06h-1.06zM3 32h1.06v1.06h-1.06zM17 32h1.06v1.06h-1.06zM35 32h1.06v1.06h-1.06zM37 32h1.06v1.06h-1.06zM42 32h1.06v1.06h-1.06zM44 32h1.06v1.06h-1.06zM38 33h1.06v1.06h-1.06zM3 34h1.06v1.06h-1.06zM36 34h1.06v1.06h-1.06zM7 35h1.06v1.06h-1.06zM11 35h1.06v1.06h-1.06zM34 35h1.06v1.06h-1.06zM38 35h1.06v1.06h-1.06zM33 36h1.06v1.06h-1.06zM34 36h1.06v1.06h-1.06zM38 36h1.06v1.06h-1.06zM42 36h1.06v1.06h-1.06zM37 37h1.06v1.06h-1.06zM1 38h1.06v1.06h-1.06zM18 38h1.06v1.06h-1.06zM32 38h1.06v1.06h-1.06zM42 38h1.06v1.06h-1.06zM9 39h1.06v1.06h-1.06zM2 40h1.06v1.06h-1.06zM5 40h1.06v1.06h-1.06zM1 41h1.06v1.06h-1.06zM33 41h1.06v1.06h-1.06zM35 41h1.06v1.06h-1.06zM3 42h1.06v1.06h-1.06zM4 42h1.06v1.06h-1.06zM32 42h1.06v1.06h-1.06zM33 42h1.06v1.06h-1.06zM34 42h1.06v1.06h-1.06zM40 42h1.06v1.06h-1.06zM1 43h1.06v1.06h-1.06zM17 43h1.06v1.06h-1.06zM34 43h1.06v1.06h-1.06zM37 43h1.06v1.06h-1.06zM1 44h1.06v1.06h-1.06zM11 44h1.06v1.06h-1.06zM17 44h1.06v1.06h-1.06zM35 44h1.06v1.06h-1.06zM9 45h1.06v1.06h-1.06zM39 45h1.06v1.06h-1.06zM46 45h1.06v1.06h-1.06zM6 46h1.06v1.06h-1.06zM1 47h1.06v1.06h-1.06zM5 47h1.06v1.06h-1.06zM7 47h1.06v1.06h-1.06zM9 47h1.06v1.06h-1.06zM14 47h1.06v1.06h-1.06zM35 47h1.06v1.06h-1.06zM18 48h1.06v1.06h-1.06zM37 48h1.06v1.06h-1.06zM19 49h1.06v1.06h-1.06zM35 49h1.06v1.06h-1.06zM38 49h1.06v1.06h-1.06zM8 50h1.06v1.06h-1.06zM47 50h1.06v1.06h-1.06zM10 51h1.06v1.06h-1.06zM14 51h1.06v1.06h-1.06zM33 51h1.06v1.06h-1.06zM41 51h1.06v1.06h-1.06zM11 52h1.06v1.06h-1.06zM33 52h1.06v1.06h-1.06zM36 52h1.06v1.06h-1.06zM38 52h1.06v1.06h-1.06zM39 52h1.06v1.06h-1.06zM0 53h1.06v1.06h-1.06zM10 53h1.06v1.06h-1.06zM14 53h1.06v1.06h-1.06zM15 53h1.06v1.06h-1.06zM29 53h1.06v1.06h-1.06zM30 53h1.06v1.06h-1.06zM34 53h1.06v1.06h-1.06zM7 54h1.06v1.06h-1.06zM42 54h1.06v1.06h-1.06zM8 55h1.06v1.06h-1.06zM11 55h1.06v1.06h-1.06zM13 55h1.06v1.06h-1.06zM32 55h1.06v1.06h-1.06zM35 55h1.06v1.06h-1.06zM38 55h1.06v1.06h-1.06zM2 56h1.06v1.06h-1.06zM3 56h1.06v1.06h-1.06zM6 56h1.06v1.06h-1.06zM15 56h1.06v1.06h-1.06zM31 56h1.06v1.06h-1.06zM38 56h1.06v1.06h-1.06zM42 56h1.06v1.06h-1.06zM43 56h1.06v1.06h-1.06zM3 57h1.06v1.06h-1.06zM12 57h1.06v1.06h-1.06zM31 57h1.06v1.06h-1.06zM32 57h1.06v1.06h-1.06zM35 57h1.06v1.06h-1.06zM41 57h1.06v1.06h-1.06zM0 58h1.06v1.06h-1.06zM1 58h1.06v1.06h-1.06zM6 58h1.06v1.06h-1.06zM7 58h1.06v1.06h-1.06zM16 58h1.06v1.06h-1.06zM19 58h1.06v1.06h-1.06zM35 58h1.06v1.06h-1.06zM46 58h1.06v1.06h-1.06zM4 59h1.06v1.06h-1.06zM30 59h1.06v1.06h-1.06zM31 59h1.06v1.06h-1.06zM33 59h1.06v1.06h-1.06zM36 59h1.06v1.06h-1.06zM40 59h1.06v1.06h-1.06zM49 59h1.06v1.06h-1.06zM5 60h1.06v1.06h-1.06zM19 60h1.06v1.06h-1.06zM29 60h1.06v1.06h-1.06zM36 60h1.06v1.06h-1.06zM39 60h1.06v1.06h-1.06zM41 60h1.06v1.06h-1.06zM45 60h1.06v1.06h-1.06zM46 60h1.06v1.06h-1.06zM49 60h1.06v1.06h-1.06zM5 61h1.06v1.06h-1.06zM6 61h1.06v1.06h-1.06zM11 61h1.06v1.06h-1.06zM13 61h1.06v1.06h-1.06zM26 61h1.06v1.06h-1.06zM31 61h1.06v1.06h-1.06zM35 61h1.06v1.06h-1.06zM36 61h1.06v1.06h-1.06zM39 61h1.06v1.06h-1.06zM40 61h1.06v1.06h-1.06zM45 61h1.06v1.06h-1.06zM47 61h1.06v1.06h-1.06zM8 62h1.06v1.06h-1.06zM9 62h1.06v1.06h-1.06zM10 62h1.06v1.06h-1.06zM22 62h1.06v1.06h-1.06zM28 62h1.06v1.06h-1.06zM33 62h1.06v1.06h-1.06zM34 62h1.06v1.06h-1.06zM38 62h1.06v1.06h-1.06zM2 63h1.06v1.06h-1.06zM3 63h1.06v1.06h-1.06zM6 63h1.06v1.06h-1.06zM31 63h1.06v1.06h-1.06zM36 63h1.06v1.06h-1.06zM17 64h1.06v1.06h-1.06zM30 64h1.06v1.06h-1.06zM32 64h1.06v1.06h-1.06zM40 64h1.06v1.06h-1.06zM44 64h1.06v1.06h-1.06zM46 64h1.06v1.06h-1.06zM6 65h1.06v1.06h-1.06zM9 65h1.06v1.06h-1.06zM23 65h1.06v1.06h-1.06zM32 65h1.06v1.06h-1.06zM34 65h1.06v1.06h-1.06zM40 65h1.06v1.06h-1.06zM43 65h1.06v1.06h-1.06zM0 66h1.06v1.06h-1.06zM2 66h1.06v1.06h-1.06zM8 66h1.06v1.06h-1.06zM12 66h1.06v1.06h-1.06zM38 66h1.06v1.06h-1.06zM40 66h1.06v1.06h-1.06zM42 66h1.06v1.06h-1.06zM45 66h1.06v1.06h-1.06zM46 66h1.06v1.06h-1.06zM5 67h1.06v1.06h-1.06zM21 67h1.06v1.06h-1.06zM34 67h1.06v1.06h-1.06zM35 67h1.06v1.06h-1.06zM37 67h1.06v1.06h-1.06zM38 67h1.06v1.06h-1.06zM39 67h1.06v1.06h-1.06zM42 67h1.06v1.06h-1.06zM43 67h1.06v1.06h-1.06zM46 67h1.06v1.06h-1.06zM6 68h1.06v1.06h-1.06zM37 68h1.06v1.06h-1.06zM38 68h1.06v1.06h-1.06zM40 68h1.06v1.06h-1.06zM41 68h1.06v1.06h-1.06zM46 68h1.06v1.06h-1.06z"/>
<path fill="#e1e1ff" d="M45 0h1.06v1.06h-1.06zM24 1h1.06v1.06h-1.06zM45 1h1.06v1.06h-1.06zM47 1h1.06v1.06h-1.06zM32 2h1.06v1.06h-1.06zM43 2h1.06v1.06h-1.06zM3 3h1.06v1.06h-1.06zM10 3h1.06v1.06h-1.06zM21 3h1.06v1.06h-1.06zM37 3h1.06v1.06h-1.06zM35 4h1.06v1.06h-1.06zM35 5h1.06v1.06h-1.06zM22 6h1.06v1.06h-1.06zM39 6h1.06v1.06h-1.06zM41 7h1.06v1.06h-1.06zM48 7h1.06v1.06h-1.06zM45 8h1.06v1.06h-1.06zM6 9h1.06v1.06h-1.06zM42 9h1.06v1.06h-1.06zM22 10h1.06v1.06h-1.06zM4 11h1.06v1.06h-1.06zM22 11h1.06v1.06h-1.06zM43 11h1.06v1.06h-1.06zM23 14h1.06v1.06h-1.06zM23 15h1.06v1.06h-1.06zM45 15h1.06v1.06h-1.06zM49 15h1.06v1.06h-1.06zM1 16h1.06v1.06h-1.06zM28 17h1.06v1.06h-1.06zM41 17h1.06v1.06h-1.06zM45 18h1.06v1.06h-1.06zM48 19h1.06v1.06h-1.06zM49 19h1.06v1.06h-1.06zM47 20h1.06v1.06h-1.06zM0 21h1.06v1.06h-1.06zM6 21h1.06v1.06h-1.06zM8 21h1.06v1.06h-1.06zM40 21h1.06v1.06h-1.06zM43 21h1.06v1.06h-1.06zM49 21h1.06v1.06h-1.06zM50 21h1.06v1.06h-1.06zM1 22h1.06v1.06h-1.06zM40 22h1.06v1.06h-1.06zM44 22h1.06v1.06h-1.06zM45 22h1.06v1.06h-1.06zM48 22h1.06v1.06h-1.06zM40 23h1.06v1.06h-1.06zM49 23h1.06v1.06h-1.06zM43 24h1.06v1.06h-1.06zM40 25h1.06v1.06h-1.06zM23 26h1.06v1.06h-1.06zM39 26h1.06v1.06h-1.06zM25 27h1.06v1.06h-1.06zM42 27h1.06v1.06h-1.06zM48 27h1.06v1.06h-1.06zM0 28h1.06v1.06h-1.06zM0 29h1.06v1.06h-1.06zM1 29h1.06v1.06h-1.06zM5 29h1.06v1.06h-1.06zM45 29h1.06v1.06h-1.06zM19 30h1.06v1.06h-1.06zM37 30h1.06v1.06h-1.06zM41 30h1.06v1.06h-1.06zM2 31h1.06v1.06h-1.06zM47 31h1.06v1.06h-1.06zM34 32h1.06v1.06h-1.06zM36 32h1.06v1.06h-1.06zM2 33h1.06v1.06h-1.06zM18 33h1.06v1.06h-1.06zM34 33h1.06v1.06h-1.06zM35 33h1.06v1.06h-1.06zM4 34h1.06v1.06h-1.06zM6 34h1.06v1.06h-1.06zM19 34h1.06v1.06h-1.06zM20 34h1.06v1.06h-1.06zM34 34h1.06v1.06h-1.06zM4 35h1.06v1.06h-1.06zM37 35h1.06v1.06h-1.06zM2 36h1.06v1.06h-1.06zM6 36h1.06v1.06h-1.06zM17 37h1.06v1.06h-1.06zM34 37h1.06v1.06h-1.06zM39 37h1.06v1.06h-1.06zM8 38h1.06v1.06h-1.06zM7 39h1.06v1.06h-1.06zM30 39h1.06v1.06h-1.06zM31 39h1.06v1.06h-1.06zM34 39h1.06v1.06h-1.06zM35 39h1.06v1.06h-1.06zM7 40h1.06v1.06h-1.06zM32 40h1.06v1.06h-1.06zM37 40h1.06v1.06h-1.06zM6 41h1.06v1.06h-1.06zM16 41h1.06v1.06h-1.06zM40 41h1.06v1.06h-1.06zM2 43h1.06v1.06h-1.06zM11 43h1.06v1.06h-1.06zM14 43h1.06v1.06h-1.06zM28 43h1.06v1.06h-1.06zM2 44h1.06v1.06h-1.06zM14 44h1.06v1.06h-1.06zM31 44h1.06v1.06h-1.06zM33 44h1.06v1.06h-1.06zM11 45h1.06v1.06h-1.06zM19 45h1.06v1.06h-1.06zM33 45h1.06v1.06h-1.06zM35 45h1.06v1.06h-1.06zM3 46h1.06v1.06h-1.06zM13 46h1.06v1.06h-1.06zM33 46h1.06v1.06h-1.06zM36 46h1.06v1.06h-1.06zM36 47h1.06v1.06h-1.06zM3 48h1.06v1.06h-1.06zM7 48h1.06v1.06h-1.06zM17 48h1.06v1.06h-1.06zM19 48h1.06v1.06h-1.06zM36 48h1.06v1.06h-1.06zM1 49h1.06v1.06h-1.06zM1 50h1.06v1.06h-1.06zM11 50h1.06v1.06h-1.06zM37 50h1.06v1.06h-1.06zM3 51h1.06v1.06h-1.06zM17 51h1.06v1.06h-1.06zM4 52h1.06v1.06h-1.06zM18 52h1.06v1.06h-1.06zM30 52h1.06v1.06h-1.06zM31 52h1.06v1.06h-1.06zM43 52h1.06v1.06h-1.06zM4 53h1.06v1.06h-1.06zM18 53h1.06v1.06h-1.06zM32 53h1.06v1.06h-1.06zM38 53h1.06v1.06h-1.06zM11 54h1.06v1.06h-1.06zM29 54h1.06v1.06h-1.06zM35 54h1.06v1.06h-1.06zM10 55h1.06v1.06h-1.06zM27 55h1.06v1.06h-1.06zM28 55h1.06v1.06h-1.06zM34 55h1.06v1.06h-1.06zM39 55h1.06v1.06h-1.06zM14 56h1.06v1.06h-1.06zM30 56h1.06v1.06h-1.06zM6 57h1.06v1.06h-1.06zM8 57h1.06v1.06h-1.06zM14 57h1.06v1.06h-1.06zM34 57h1.06v1.06h-1.06zM4 58h1.06v1.06h-1.06zM23 58h1.06v1.06h-1.06zM24 58h1.06v1.06h-1.06zM31 58h1.06v1.06h-1.06zM0 59h1.06v1.06h-1.06zM1 59h1.06v1.06h-1.06zM10 59h1.06v1.06h-1.06zM13 59h1.06v1.06h-1.06zM28 59h1.06v1.06h-1.06zM32 59h1.06v1.06h-1.06zM38 59h1.06v1.06h-1.06zM4 60h1.06v1.06h-1.06zM15 60h1.06v1.06h-1.06zM17 60h1.06v1.06h-1.06zM31 60h1.06v1.06h-1.06zM32 60h1.06v1.06h-1.06zM37 60h1.06v1.06h-1.06zM44 60h1.06v1.06h-1.06zM47 60h1.06v1.06h-1.06zM48 60h1.06v1.06h-1.06zM2 61h1.06v1.06h-1.06zM24 61h1.06v1.06h-1.06zM29 61h1.06v1.06h-1.06zM30 61h1.06v1.06h-1.06zM34 61h1.06v1.06h-1.06zM37 61h1.06v1.06h-1.06zM38 61h1.06v1.06h-1.06zM44 61h1.06v1.06h-1.06zM48 61h1.06v1.06h-1.06zM4 62h1.06v1.06h-1.06zM17 62h1.06v1.06h-1.06zM19 62h1.06v1.06h-1.06zM24 62h1.06v1.06h-1.06zM25 62h1.06v1.06h-1.06zM29 62h1.06v1.06h-1.06zM31 62h1.06v1.06h-1.06zM39 62h1.06v1.06h-1.06zM44 62h1.06v1.06h-1.06zM45 62h1.06v1.06h-1.06zM46 62h1.06v1.06h-1.06zM50 62h1.06v1.06h-1.06zM1 63h1.06v1.06h-1.06zM22 63h1.06v1.06h-1.06zM23 63h1.06v1.06h-1.06zM33 63h1.06v1.06h-1.06zM43 63h1.06v1.06h-1.06zM45 63h1.06v1.06h-1.06zM49 63h1.06v1.06h-1.06zM50 63h1.06v1.06h-1.06zM11 64h1.06v1.06h-1.06zM37 64h1.06v1.06h-1.06zM38 64h1.06v1.06h-1.06zM50 64h1.06v1.06h-1.06zM7 65h1.06v1.06h-1.06zM8 65h1.06v1.06h-1.06zM11 65h1.06v1.06h-1.06zM13 65h1.06v1.06h-1.06zM17 65h1.06v1.06h-1.06zM29 65h1.06v1.06h-1.06zM35 65h1.06v1.06h-1.06zM38 65h1.06v1.06h-1.06zM42 65h1.06v1.06h-1.06zM44 65h1.06v1.06h-1.06zM47 65h1.06v1.06h-1.06zM48 65h1.06v1.06h-1.06zM50 65h1.06v1.06h-1.06zM11 66h1.06v1.06h-1.06zM13 66h1.06v1.06h-1.06zM17 66h1.06v1.06h-1.06zM19 66h1.06v1.06h-1.06zM37 66h1.06v1.06h-1.06zM41 66h1.06v1.06h-1.06zM47 66h1.06v1.06h-1.06zM50 66h1.06v1.06h-1.06zM31 67h1.06v1.06h-1.06zM36 67h1.06v1.06h-1.06zM40 67h1.06v1.06h-1.06zM45 67h1.06v1.06h-1.06zM16 68h1.06v1.06h-1.06zM43 68h1.06v1.06h-1.06zM44 68h1.06v1.06h-1.06zM50 68h1.06v1.06h-1.06z"/>
<path fill="#e9e9ff" d="M5 0h1.06v1.06h-1.06zM18 0h1.06v1.06h-1.06zM23 0h1.06v1.06h-1.06zM35 0h1.06v1.06h-1.06zM42 0h1.06v1.06h-1.06zM0 1h1.06v1.06h-1.06zM22 1h1.06v1.06h-1.06zM50 1h1.06v1.06h-1.06zM34 2h1.06v1.06h-1.06zM35 2h1.06v1.06h-1.06zM37 2h1.06v1.06h-1.06zM41 2h1.06v1.06h-1.06zM42 2h1.06v1.06h-1.06zM7 3h1.06v1.06h-1.06zM13 3h1.06v1.06h-1.06zM23 3h1.06v1.06h-1.06zM33 3h1.06v1.06h-1.06zM47 3h1.06v1.06h-1.06zM2 4h1.06v1.06h-1.06zM5 4h1.06v1.06h-1.06zM34 4h1.06v1.06h-1.06zM44 4h1.06v1.06h-1.06zM50 4h1.06v1.06h-1.06zM32 5h1.06v1.06h-1.06zM34 5h1.06v1.06h-1.06zM48 5h1.06v1.06h-1.06zM49 5h1.06v1.06h-1.06zM3 6h1.06v1.06h-1.06zM10 6h1.06v1.06h-1.06zM23 6h1.06v1.06h-1.06zM43 6h1.06v1.06h-1.06zM44 6h1.06v1.06h-1.06zM45 6h1.06v1.06h-1.06zM32 7h1.06v1.06h-1.06zM42 7h1.06v1.06h-1.06zM49 7h1.06v1.06h-1.06zM7 8h1.06v1.06h-1.06zM21 8h1.06v1.06h-1.06zM32 8h1.06v1.06h-1.06zM40 8h1.06v1.06h-1.06zM49 8h1.06v1.06h-1.06zM2 9h1.06v1.06h-1.06zM40 9h1.06v1.06h-1.06zM43 9h1.06v1.06h-1.06zM47 9h1.06v1.06h-1.06zM2 10h1.06v1.06h-1.06zM21 10h1.06v1.06h-1.06zM39 10h1.06v1.06h-1.06zM50 10h1.06v1.06h-1.06zM39 11h1.06v1.06h-1.06zM45 11h1.06v1.06h-1.06zM46 11h1.06v1.06h-1.06zM31 12h1.06v1.06h-1.06zM40 12h1.06v1.06h-1.06zM42 12h1.06v1.06h-1.06zM45 12h1.06v1.06h-1.06zM49 12h1.06v1.06h-1.06zM21 14h1.06v1.06h-1.06zM42 14h1.06v1.06h-1.06zM49 14h1.06v1.06h-1.06zM24 15h1.06v1.06h-1.06zM26 15h1.06v1.06h-1.06zM30 15h1.06v1.06h-1.06zM43 16h1.06v1.06h-1.06zM47 16h1.06v1.06h-1.06zM25 17h1.06v1.06h-1.06zM46 17h1.06v1.06h-1.06zM27 18h1.06v1.06h-1.06zM28 18h1.06v1.06h-1.06zM5 19h1.06v1.06h-1.06zM26 19h1.06v1.06h-1.06zM43 19h1.06v1.06h-1.06zM45 19h1.06v1.06h-1.06zM50 19h1.06v1.06h-1.06zM3 20h1.06v1.06h-1.06zM41 20h1.06v1.06h-1.06zM4 21h1.06v1.06h-1.06zM41 21h1.06v1.06h-1.06zM45 21h1.06v1.06h-1.06zM46 21h1.06v1.06h-1.06zM47 21h1.06v1.06h-1.06zM48 21h1.06v1.06h-1.06zM49 22h1.06v1.06h-1.06zM41 23h1.06v1.06h-1.06zM3 24h1.06v1.06h-1.06zM38 24h1.06v1.06h-1.06zM49 24h1.06v1.06h-1.06zM37 25h1.06v1.06h-1.06zM45 25h1.06v1.06h-1.06zM49 25h1.06v1.06h-1.06zM37 26h1.06v1.06h-1.06zM1 27h1.06v1.06h-1.06zM6 27h1.06v1.06h-1.06zM18 27h1.06v1.06h-1.06zM2 28h1.06v1.06h-1.06zM27 28h1.06v1.06h-1.06zM40 28h1.06v1.06h-1.06zM4 29h1.06v1.06h-1.06zM21 29h1.06v1.06h-1.06zM36 29h1.06v1.06h-1.06zM6 32h1.06v1.06h-1.06zM1 33h1.06v1.06h-1.06zM36 33h1.06v1.06h-1.06zM1 34h1.06v1.06h-1.06zM33 34h1.06v1.06h-1.06zM8 35h1.06v1.06h-1.06zM35 35h1.06v1.06h-1.06zM18 36h1.06v1.06h-1.06zM1 37h1.06v1.06h-1.06zM7 37h1.06v1.06h-1.06zM0 38h1.06v1.06h-1.06zM6 38h1.06v1.06h-1.06zM10 38h1.06v1.06h-1.06zM17 38h1.06v1.06h-1.06zM30 38h1.06v1.06h-1.06zM34 38h1.06v1.06h-1.06zM10 39h1.06v1.06h-1.06zM14 39h1.06v1.06h-1.06zM16 39h1.06v1.06h-1.06zM8 40h1.06v1.06h-1.06zM29 40h1.06v1.06h-1.06zM35 40h1.06v1.06h-1.06zM3 41h1.06v1.06h-1.06zM4 41h1.06v1.06h-1.06zM30 41h1.06v1.06h-1.06zM32 41h1.06v1.06h-1.06zM34 41h1.06v1.06h-1.06zM5 42h1.06v1.06h-1.06zM31 42h1.06v1.06h-1.06zM7 44h1.06v1.06h-1.06zM34 44h1.06v1.06h-1.06zM0 45h1.06v1.06h-1.06zM8 45h1.06v1.06h-1.06zM10 45h1.06v1.06h-1.06zM15 45h1.06v1.06h-1.06zM34 45h1.06v1.06h-1.06zM12 46h1.06v1.06h-1.06zM15 46h1.06v1.06h-1.06zM18 46h1.06v1.06h-1.06zM19 46h1.06v1.06h-1.06zM34 46h1.06v1.06h-1.06zM6 47h1.06v1.06h-1.06zM13 47h1.06v1.06h-1.06zM19 47h1.06v1.06h-1.06zM32 47h1.06v1.06h-1.06zM33 47h1.06v1.06h-1.06zM37 47h1.06v1.06h-1.06zM2 48h1.06v1.06h-1.06zM15 48h1.06v1.06h-1.06zM16 48h1.06v1.06h-1.06zM33 48h1.06v1.06h-1.06zM34 48h1.06v1.06h-1.06zM4 49h1.06v1.06h-1.06zM6 49h1.06v1.06h-1.06zM12 49h1.06v1.06h-1.06zM13 49h1.06v1.06h-1.06zM28 49h1.06v1.06h-1.06zM31 49h1.06v1.06h-1.06zM9 50h1.06v1.06h-1.06zM12 50h1.06v1.06h-1.06zM33 50h1.06v1.06h-1.06zM28 51h1.06v1.06h-1.06zM34 51h1.06v1.06h-1.06zM3 52h1.06v1.06h-1.06zM6 52h1.06v1.06h-1.06zM12 52h1.06v1.06h-1.06zM19 52h1.06v1.06h-1.06zM28 52h1.06v1.06h-1.06zM32 52h1.06v1.06h-1.06zM7 53h1.06v1.06h-1.06zM28 53h1.06v1.06h-1.06zM15 54h1.06v1.06h-1.06zM19 54h1.06v1.06h-1.06zM28 54h1.06v1.06h-1.06zM15 55h1.06v1.06h-1.06zM18 55h1.06v1.06h-1.06zM19 55h1.06v1.06h-1.06zM30 55h1.06v1.06h-1.06zM11 57h1.06v1.06h-1.06zM36 57h1.06v1.06h-1.06zM5 58h1.06v1.06h-1.06zM39 58h1.06v1.06h-1.06zM11 59h1.06v1.06h-1.06zM22 59h1.06v1.06h-1.06zM29 59h1.06v1.06h-1.06zM46 59h1.06v1.06h-1.06zM6 60h1.06v1.06h-1.06zM10 60h1.06v1.06h-1.06zM11 60h1.06v1.06h-1.06zM18 60h1.06v1.06h-1.06zM20 60h1.06v1.06h-1.06zM25 60h1.06v1.06h-1.06zM10 61h1.06v1.06h-1.06zM16 61h1.06v1.06h-1.06zM18 61h1.06v1.06h-1.06zM32 61h1.06v1.06h-1.06zM33 61h1.06v1.06h-1.06zM46 61h1.06v1.06h-1.06zM49 61h1.06v1.06h-1.06zM50 61h1.06v1.06h-1.06zM13 62h1.06v1.06h-1.06zM37 62h1.06v1.06h-1.06zM43 62h1.06v1.06h-1.06zM49 62h1.06v1.06h-1.06zM5 63h1.06v1.06h-1.06zM10 63h1.06v1.06h-1.06zM11 63h1.06v1.06h-1.06zM13 63h1.06v1.06h-1.06zM15 63h1.06v1.06h-1.06zM37 63h1.06v1.06h-1.06zM38 63h1.06v1.06h-1.06zM40 63h1.06v1.06h-1.06zM42 63h1.06v1.06h-1.06zM7 64h1.06v1.06h-1.06zM12 65h1.06v1.06h-1.06zM39 65h1.06v1.06h-1.06zM45 65h1.06v1.06h-1.06zM46 65h1.06v1.06h-1.06zM7 66h1.06v1.06h-1.06zM43 66h1.06v1.06h-1.06zM49 66h1.06v1.06h-1.06zM9 67h1.06v1.06h-1.06zM13 67h1.06v1.06h-1.06zM17 67h1.06v1.06h-1.06zM44 67h1.06v1.06h-1.06zM47 67h1.06v1.06h-1.06zM48 67h1.06v1.06h-1.06zM50 67h1.06v1.06h-1.06zM5 68h1.06v1.06h-1.06zM9 68h1.06v1.06h-1.06zM15 68h1.06v1.06h-1.06zM35 68h1.06v1.06h-1.06zM48 68h1.06v1.06h-1.06z"/>
<path fill="#f2f2ff" d="M3 0h1.06v1.06h-1.06zM16 0h1.06v1.06h-1.06zM19 0h1.06v1.06h-1.06zM36 0h1.06v1.06h-1.06zM38 0h1.06v1.06h-1.06zM39 0h1.06v1.06h-1.06zM48 0h1.06v1.06h-1.06zM12 1h1.06v1.06h-1.06zM21 1h1.06v1.06h-1.06zM35 1h1.06v1.06h-1.06zM36 1h1.06v1.06h-1.06zM39 1h1.06v1.06h-1.06zM41 1h1.06v1.06h-1.06zM49 1h1.06v1.06h-1.06zM2 2h1.06v1.06h-1.06zM10 2h1.06v1.06h-1.06zM33 2h1.06v1.06h-1.06zM36 2h1.06v1.06h-1.06zM39 2h1.06v1.06h-1.06zM40 2h1.06v1.06h-1.06zM45 2h1.06v1.06h-1.06zM48 2h1.06v1.06h-1.06zM49 2h1.06v1.06h-1.06zM50 2h1.06v1.06h-1.06zM4 3h1.06v1.06h-1.06zM6 3h1.06v1.06h-1.06zM34 3h1.06v1.06h-1.06zM36 3h1.06v1.06h-1.06zM40 3h1.06v1.06h-1.06zM45 3h1.06v1.06h-1.06zM36 4h1.06v1.06h-1.06zM38 4h1.06v1.06h-1.06zM40 4h1.06v1.06h-1.06zM42 4h1.06v1.06h-1.06zM47 4h1.06v1.06h-1.06zM0 5h1.06v1.06h-1.06zM9 5h1.06v1.06h-1.06zM42 5h1.06v1.06h-1.06zM43 5h1.06v1.06h-1.06zM44 5h1.06v1.06h-1.06zM47 5h1.06v1.06h-1.06zM32 6h1.06v1.06h-1.06zM38 6h1.06v1.06h-1.06zM47 6h1.06v1.06h-1.06zM50 6h1.06v1.06h-1.06zM10 7h1.06v1.06h-1.06zM36 7h1.06v1.06h-1.06zM45 7h1.06v1.06h-1.06zM42 8h1.06v1.06h-1.06zM44 8h1.06v1.06h-1.06zM46 8h1.06v1.06h-1.06zM47 8h1.06v1.06h-1.06zM50 8h1.06v1.06h-1.06zM7 9h1.06v1.06h-1.06zM31 9h1.06v1.06h-1.06zM32 9h1.06v1.06h-1.06zM36 9h1.06v1.06h-1.06zM38 9h1.06v1.06h-1.06zM41 9h1.06v1.06h-1.06zM46 9h1.06v1.06h-1.06zM49 9h1.06v1.06h-1.06zM50 9h1.06v1.06h-1.06zM31 10h1.06v1.06h-1.06zM42 10h1.06v1.06h-1.06zM43 10h1.06v1.06h-1.06zM9 11h1.06v1.06h-1.06zM12 11h1.06v1.06h-1.06zM44 11h1.06v1.06h-1.06zM48 11h1.06v1.06h-1.06zM39 12h1.06v1.06h-1.06zM46 12h1.06v1.06h-1.06zM47 12h1.06v1.06h-1.06zM50 12h1.06v1.06h-1.06zM23 13h1.06v1.06h-1.06zM42 13h1.06v1.06h-1.06zM49 13h1.06v1.06h-1.06zM4 14h1.06v1.06h-1.06zM40 14h1.06v1.06h-1.06zM43 14h1.06v1.06h-1.06zM45 14h1.06v1.06h-1.06zM46 14h1.06v1.06h-1.06zM50 14h1.06v1.06h-1.06zM20 15h1.06v1.06h-1.06zM46 15h1.06v1.06h-1.06zM47 15h1.06v1.06h-1.06zM41 16h1.06v1.06h-1.06zM44 16h1.06v1.06h-1.06zM48 16h1.06v1.06h-1.06zM43 17h1.06v1.06h-1.06zM45 17h1.06v1.06h-1.06zM47 17h1.06v1.06h-1.06zM49 17h1.06v1.06h-1.06zM0 18h1.06v1.06h-1.06zM24 18h1.06v1.06h-1.06zM26 18h1.06v1.06h-1.06zM41 18h1.06v1.06h-1.06zM49 18h1.06v1.06h-1.06zM50 18h1.06v1.06h-1.06zM41 19h1.06v1.06h-1.06zM42 19h1.06v1.06h-1.06zM47 19h1.06v1.06h-1.06zM5 20h1.06v1.06h-1.06zM27 20h1.06v1.06h-1.06zM29 20h1.06v1.06h-1.06zM46 20h1.06v1.06h-1.06zM48 20h1.06v1.06h-1.06zM3 21h1.06v1.06h-1.06zM39 21h1.06v1.06h-1.06zM44 21h1.06v1.06h-1.06zM4 22h1.06v1.06h-1.06zM27 23h1.06v1.06h-1.06zM38 23h1.06v1.06h-1.06zM39 23h1.06v1.06h-1.06zM48 23h1.06v1.06h-1.06zM2 24h1.06v1.06h-1.06zM39 24h1.06v1.06h-1.06zM5 25h1.06v1.06h-1.06zM50 25h1.06v1.06h-1.06zM1 26h1.06v1.06h-1.06zM20 26h1.06v1.06h-1.06zM21 26h1.06v1.06h-1.06zM24 26h1.06v1.06h-1.06zM25 26h1.06v1.06h-1.06zM38 26h1.06v1.06h-1.06zM23 27h1.06v1.06h-1.06zM26 27h1.06v1.06h-1.06zM49 27h1.06v1.06h-1.06zM16 28h1.06v1.06h-1.06zM24 28h1.06v1.06h-1.06zM34 28h1.06v1.06h-1.06zM37 28h1.06v1.06h-1.06zM38 28h1.06v1.06h-1.06zM37 29h1.06v1.06h-1.06zM18 30h1.06v1.06h-1.06zM15 31h1.06v1.06h-1.06zM4 32h1.06v1.06h-1.06zM8 32h1.06v1.06h-1.06zM19 32h1.06v1.06h-1.06zM3 33h1.06v1.06h-1.06zM7 33h1.06v1.06h-1.06zM16 33h1.06v1.06h-1.06zM7 34h1.06v1.06h-1.06zM13 34h1.06v1.06h-1.06zM17 34h1.06v1.06h-1.06zM21 34h1.06v1.06h-1.06zM35 34h1.06v1.06h-1.06zM5 35h1.06v1.06h-1.06zM14 35h1.06v1.06h-1.06zM33 35h1.06v1.06h-1.06zM1 36h1.06v1.06h-1.06zM12 36h1.06v1.06h-1.06zM17 36h1.06v1.06h-1.06zM32 36h1.06v1.06h-1.06zM36 36h1.06v1.06h-1.06zM16 37h1.06v1.06h-1.06zM35 37h1.06v1.06h-1.06zM5 38h1.06v1.06h-1.06zM0 39h1.06v1.06h-1.06zM5 39h1.06v1.06h-1.06zM3 40h1.06v1.06h-1.06zM31 40h1.06v1.06h-1.06zM7 41h1.06v1.06h-1.06zM19 41h1.06v1.06h-1.06zM18 42h1.06v1.06h-1.06zM15 43h1.06v1.06h-1.06zM16 43h1.06v1.06h-1.06zM0 44h1.06v1.06h-1.06zM13 44h1.06v1.06h-1.06zM16 44h1.06v1.06h-1.06zM32 44h1.06v1.06h-1.06zM17 45h1.06v1.06h-1.06zM31 45h1.06v1.06h-1.06zM32 45h1.06v1.06h-1.06zM1 46h1.06v1.06h-1.06zM2 46h1.06v1.06h-1.06zM16 46h1.06v1.06h-1.06zM29 46h1.06v1.06h-1.06zM31 46h1.06v1.06h-1.06zM32 46h1.06v1.06h-1.06zM8 47h1.06v1.06h-1.06zM10 47h1.06v1.06h-1.06zM12 47h1.06v1.06h-1.06zM17 47h1.06v1.06h-1.06zM5 48h1.06v1.06h-1.06zM6 48h1.06v1.06h-1.06zM31 48h1.06v1.06h-1.06zM32 48h1.06v1.06h-1.06zM11 49h1.06v1.06h-1.06zM32 49h1.06v1.06h-1.06zM0 50h1.06v1.06h-1.06zM4 50h1.06v1.06h-1.06zM15 50h1.06v1.06h-1.06zM34 50h1.06v1.06h-1.06zM0 51h1.06v1.06h-1.06zM4 51h1.06v1.06h-1.06zM9 51h1.06v1.06h-1.06zM12 51h1.06v1.06h-1.06zM19 51h1.06v1.06h-1.06zM27 51h1.06v1.06h-1.06zM32 51h1.06v1.06h-1.06zM37 51h1.06v1.06h-1.06zM2 52h1.06v1.06h-1.06zM7 52h1.06v1.06h-1.06zM9 52h1.06v1.06h-1.06zM29 52h1.06v1.06h-1.06zM2 53h1.06v1.06h-1.06zM31 53h1.06v1.06h-1.06zM35 53h1.06v1.06h-1.06zM13 54h1.06v1.06h-1.06zM31 54h1.06v1.06h-1.06zM34 54h1.06v1.06h-1.06zM36 54h1.06v1.06h-1.06zM2 55h1.06v1.06h-1.06zM12 55h1.06v1.06h-1.06zM14 55h1.06v1.06h-1.06zM26 55h1.06v1.06h-1.06zM29 55h1.06v1.06h-1.06zM33 55h1.06v1.06h-1.06zM16 56h1.06v1.06h-1.06zM32 56h1.06v1.06h-1.06zM35 56h1.06v1.06h-1.06zM40 56h1.06v1.06h-1.06zM18 57h1.06v1.06h-1.06zM19 57h1.06v1.06h-1.06zM20 57h1.06v1.06h-1.06zM26 57h1.06v1.06h-1.06zM28 57h1.06v1.06h-1.06zM33 57h1.06v1.06h-1.06zM22 58h1.06v1.06h-1.06zM26 58h1.06v1.06h-1.06zM27 58h1.06v1.06h-1.06zM28 58h1.06v1.06h-1.06zM29 58h1.06v1.06h-1.06zM3 59h1.06v1.06h-1.06zM5 59h1.06v1.06h-1.06zM24 59h1.06v1.06h-1.06zM26 59h1.06v1.06h-1.06zM35 59h1.06v1.06h-1.06zM7 60h1.06v1.06h-1.06zM9 60h1.06v1.06h-1.06zM23 60h1.06v1.06h-1.06zM28 60h1.06v1.06h-1.06zM1 61h1.06v1.06h-1.06zM17 61h1.06v1.06h-1.06zM21 61h1.06v1.06h-1.06zM25 61h1.06v1.06h-1.06zM5 62h1.06v1.06h-1.06zM12 62h1.06v1.06h-1.06zM21 62h1.06v1.06h-1.06zM40 62h1.06v1.06h-1.06zM48 62h1.06v1.06h-1.06zM0 63h1.06v1.06h-1.06zM18 64h1.06v1.06h-1.06zM41 64h1.06v1.06h-1.06zM4 65h1.06v1.06h-1.06zM10 66h1.06v1.06h-1.06zM15 66h1.06v1.06h-1.06zM35 66h1.06v1.06h-1.06zM18 67h1.06v1.06h-1.06zM49 67h1.06v1.06h-1.06zM4 68h1.06v1.06h-1.06z"/>
<path fill="#fbfbff" d="M4 0h1.06v1.06h-1.06zM8 0h1.06v1.06h-1.06zM9 0h1.06v1.06h-1.06zM13 0h1.06v1.06h-1.06zM21 0h1.06v1.06h-1.06zM34 0h1.06v1.06h-1.06zM40 0h1.06v1.06h-1.06zM41 0h1.06v1.06h-1.06zM43 0h1.06v1.06h-1.06zM47 0h1.06v1.06h-1.06zM8 1h1.06v1.06h-1.06zM10 1h1.06v1.06h-1.06zM17 1h1.06v1.06h-1.06zM23 1h1.06v1.06h-1.06zM43 1h1.06v1.06h-1.06zM44 1h1.06v1.06h-1.06zM46 1h1.06v1.06h-1.06zM3 2h1.06v1.06h-1.06zM13 2h1.06v1.06h-1.06zM47 2h1.06v1.06h-1.06zM35 3h1.06v1.06h-1.06zM41 3h1.06v1.06h-1.06zM49 3h1.06v1.06h-1.06zM18 4h1.06v1.06h-1.06zM21 4h1.06v1.06h-1.06zM39 4h1.06v1.06h-1.06zM49 4h1.06v1.06h-1.06zM21 5h1.06v1.06h-1.06zM40 5h1.06v1.06h-1.06zM41 5h1.06v1.06h-1.06zM46 5h1.06v1.06h-1.06zM6 6h1.06v1.06h-1.06zM37 6h1.06v1.06h-1.06zM40 6h1.06v1.06h-1.06zM46 6h1.06v1.06h-1.06zM48 6h1.06v1.06h-1.06zM49 6h1.06v1.06h-1.06zM20 7h1.06v1.06h-1.06zM33 7h1.06v1.06h-1.06zM35 7h1.06v1.06h-1.06zM38 7h1.06v1.06h-1.06zM39 7h1.06v1.06h-1.06zM43 7h1.06v1.06h-1.06zM44 7h1.06v1.06h-1.06zM47 7h1.06v1.06h-1.06zM33 8h1.06v1.06h-1.06zM37 8h1.06v1.06h-1.06zM39 8h1.06v1.06h-1.06zM43 8h1.06v1.06h-1.06zM8 9h1.06v1.06h-1.06zM9 9h1.06v1.06h-1.06zM21 9h1.06v1.06h-1.06zM40 10h1.06v1.06h-1.06zM41 10h1.06v1.06h-1.06zM44 10h1.06v1.06h-1.06zM46 10h1.06v1.06h-1.06zM47 10h1.06v1.06h-1.06zM48 10h1.06v1.06h-1.06zM49 10h1.06v1.06h-1.06zM31 11h1.06v1.06h-1.06zM38 11h1.06v1.06h-1.06zM41 11h1.06v1.06h-1.06zM42 11h1.06v1.06h-1.06zM50 11h1.06v1.06h-1.06zM0 12h1.06v1.06h-1.06zM41 12h1.06v1.06h-1.06zM43 12h1.06v1.06h-1.06zM44 12h1.06v1.06h-1.06zM7 13h1.06v1.06h-1.06zM45 13h1.06v1.06h-1.06zM46 13h1.06v1.06h-1.06zM48 13h1.06v1.06h-1.06zM50 13h1.06v1.06h-1.06zM6 14h1.06v1.06h-1.06zM22 14h1.06v1.06h-1.06zM41 14h1.06v1.06h-1.06zM47 14h1.06v1.06h-1.06zM4 15h1.06v1.06h-1.06zM6 15h1.06v1.06h-1.06zM40 15h1.06v1.06h-1.06zM42 15h1.06v1.06h-1.06zM43 15h1.06v1.06h-1.06zM44 15h1.06v1.06h-1.06zM48 15h1.06v1.06h-1.06zM5 16h1.06v1.06h-1.06zM22 16h1.06v1.06h-1.06zM46 16h1.06v1.06h-1.06zM49 16h1.06v1.06h-1.06zM0 17h1.06v1.06h-1.06zM23 17h1.06v1.06h-1.06zM26 17h1.06v1.06h-1.06zM29 17h1.06v1.06h-1.06zM30 17h1.06v1.06h-1.06zM48 17h1.06v1.06h-1.06zM50 17h1.06v1.06h-1.06zM39 18h1.06v1.06h-1.06zM46 18h1.06v1.06h-1.06zM47 18h1.06v1.06h-1.06zM48 18h1.06v1.06h-1.06zM23 19h1.06v1.06h-1.06zM24 19h1.06v1.06h-1.06zM28 19h1.06v1.06h-1.06zM39 19h1.06v1.06h-1.06zM40 19h1.06v1.06h-1.06zM7 20h1.06v1.06h-1.06zM24 20h1.06v1.06h-1.06zM26 20h1.06v1.06h-1.06zM50 20h1.06v1.06h-1.06zM21 21h1.06v1.06h-1.06zM22 21h1.06v1.06h-1.06zM25 21h1.06v1.06h-1.06zM5 22h1.06v1.06h-1.06zM6 22h1.06v1.06h-1.06zM0 23h1.06v1.06h-1.06zM5 23h1.06v1.06h-1.06zM42 23h1.06v1.06h-1.06zM4 24h1.06v1.06h-1.06zM0 25h1.06v1.06h-1.06zM6 25h1.06v1.06h-1.06zM30 25h1.06v1.06h-1.06zM0 26h1.06v1.06h-1.06zM29 26h1.06v1.06h-1.06zM36 26h1.06v1.06h-1.06zM36 27h1.06v1.06h-1.06zM9 28h1.06v1.06h-1.06zM35 28h1.06v1.06h-1.06zM18 29h1.06v1.06h-1.06zM19 29h1.06v1.06h-1.06zM0 30h1.06v1.06h-1.06zM33 30h1.06v1.06h-1.06zM34 30h1.06v1.06h-1.06zM36 30h1.06v1.06h-1.06zM20 31h1.06v1.06h-1.06zM1 32h1.06v1.06h-1.06zM27 32h1.06v1.06h-1.06zM9 33h1.06v1.06h-1.06zM10 33h1.06v1.06h-1.06zM33 33h1.06v1.06h-1.06zM9 34h1.06v1.06h-1.06zM30 34h1.06v1.06h-1.06zM13 35h1.06v1.06h-1.06zM16 35h1.06v1.06h-1.06zM16 36h1.06v1.06h-1.06zM4 37h1.06v1.06h-1.06zM15 37h1.06v1.06h-1.06zM32 37h1.06v1.06h-1.06zM33 37h1.06v1.06h-1.06zM15 38h1.06v1.06h-1.06zM27 38h1.06v1.06h-1.06zM28 38h1.06v1.06h-1.06zM31 38h1.06v1.06h-1.06zM2 39h1.06v1.06h-1.06zM3 39h1.06v1.06h-1.06zM8 39h1.06v1.06h-1.06zM11 39h1.06v1.06h-1.06zM32 39h1.06v1.06h-1.06zM33 39h1.06v1.06h-1.06zM1 40h1.06v1.06h-1.06zM6 40h1.06v1.06h-1.06zM15 40h1.06v1.06h-1.06zM27 40h1.06v1.06h-1.06zM13 41h1.06v1.06h-1.06zM15 41h1.06v1.06h-1.06zM30 42h1.06v1.06h-1.06zM32 43h1.06v1.06h-1.06zM15 44h1.06v1.06h-1.06zM28 44h1.06v1.06h-1.06zM30 44h1.06v1.06h-1.06zM13 45h1.06v1.06h-1.06zM14 45h1.06v1.06h-1.06zM4 47h1.06v1.06h-1.06zM15 47h1.06v1.06h-1.06zM29 47h1.06v1.06h-1.06zM30 47h1.06v1.06h-1.06zM31 47h1.06v1.06h-1.06zM20 48h1.06v1.06h-1.06zM29 48h1.06v1.06h-1.06zM30 49h1.06v1.06h-1.06zM3 50h1.06v1.06h-1.06zM6 50h1.06v1.06h-1.06zM17 50h1.06v1.06h-1.06zM7 51h1.06v1.06h-1.06zM11 51h1.06v1.06h-1.06zM15 51h1.06v1.06h-1.06zM16 51h1.06v1.06h-1.06zM30 51h1.06v1.06h-1.06zM5 52h1.06v1.06h-1.06zM27 52h1.06v1.06h-1.06zM27 53h1.06v1.06h-1.06zM10 54h1.06v1.06h-1.06zM30 54h1.06v1.06h-1.06zM32 54h1.06v1.06h-1.06zM9 55h1.06v1.06h-1.06zM31 55h1.06v1.06h-1.06zM5 56h1.06v1.06h-1.06zM26 56h1.06v1.06h-1.06zM27 56h1.06v1.06h-1.06zM28 56h1.06v1.06h-1.06zM29 56h1.06v1.06h-1.06zM5 57h1.06v1.06h-1.06zM16 57h1.06v1.06h-1.06zM27 57h1.06v1.06h-1.06zM30 57h1.06v1.06h-1.06zM8 58h1.06v1.06h-1.06zM12 58h1.06v1.06h-1.06zM8 59h1.06v1.06h-1.06zM18 59h1.06v1.06h-1.06zM19 59h1.06v1.06h-1.06zM27 59h1.06v1.06h-1.06zM16 60h1.06v1.06h-1.06zM27 60h1.06v1.06h-1.06zM33 60h1.06v1.06h-1.06zM35 60h1.06v1.06h-1.06zM15 62h1.06v1.06h-1.06zM16 62h1.06v1.06h-1.06zM23 62h1.06v1.06h-1.06zM41 62h1.06v1.06h-1.06zM14 63h1.06v1.06h-1.06zM2 64h1.06v1.06h-1.06zM14 64h1.06v1.06h-1.06zM48 64h1.06v1.06h-1.06zM48 66h1.06v1.06h-1.06zM10 67h1.06v1.06h-1.06zM1 68h1.06v1.06h-1.06zM10 68h1.06v1.06h-1.06zM11 68h1.06v1.06h-1.06zM13 68h1.06v1.06h-1.06zM36 68h1.06v1.06h-1.06z"/>
<path fill="#fffbfb" d="M2 0h1.06v1.06h-1.06zM37 0h1.06v1.06h-1.06zM46 0h1.06v1.06h-1.06zM50 0h1.06v1.06h-1.06zM13 1h1.06v1.06h-1.06zM18 1h1.06v1.06h-1.06zM37 1h1.06v1.06h-1.06zM38 1h1.06v1.06h-1.06zM40 1h1.06v1.06h-1.06zM42 1h1.06v1.06h-1.06zM6 2h1.06v1.06h-1.06zM7 2h1.06v1.06h-1.06zM19 2h1.06v1.06h-1.06zM20 2h1.06v1.06h-1.06zM38 2h1.06v1.06h-1.06zM46 2h1.06v1.06h-1.06zM1 3h1.06v1.06h-1.06zM2 3h1.06v1.06h-1.06zM12 3h1.06v1.06h-1.06zM20 3h1.06v1.06h-1.06zM38 3h1.06v1.06h-1.06zM39 3h1.06v1.06h-1.06zM42 3h1.06v1.06h-1.06zM43 3h1.06v1.06h-1.06zM44 3h1.06v1.06h-1.06zM50 3h1.06v1.06h-1.06zM15 4h1.06v1.06h-1.06zM37 4h1.06v1.06h-1.06zM41 4h1.06v1.06h-1.06zM11 5h1.06v1.06h-1.06zM13 5h1.06v1.06h-1.06zM37 5h1.06v1.06h-1.06zM38 5h1.06v1.06h-1.06zM39 5h1.06v1.06h-1.06zM2 6h1.06v1.06h-1.06zM7 6h1.06v1.06h-1.06zM34 6h1.06v1.06h-1.06zM42 6h1.06v1.06h-1.06zM14 7h1.06v1.06h-1.06zM34 7h1.06v1.06h-1.06zM40 7h1.06v1.06h-1.06zM46 7h1.06v1.06h-1.06zM50 7h1.06v1.06h-1.06zM5 8h1.06v1.06h-1.06zM6 8h1.06v1.06h-1.06zM13 8h1.06v1.06h-1.06zM20 8h1.06v1.06h-1.06zM38 8h1.06v1.06h-1.06zM41 8h1.06v1.06h-1.06zM48 8h1.06v1.06h-1.06zM33 9h1.06v1.06h-1.06zM44 9h1.06v1.06h-1.06zM45 9h1.06v1.06h-1.06zM8 10h1.06v1.06h-1.06zM38 10h1.06v1.06h-1.06zM0 11h1.06v1.06h-1.06zM40 11h1.06v1.06h-1.06zM49 11h1.06v1.06h-1.06zM48 12h1.06v1.06h-1.06zM21 13h1.06v1.06h-1.06zM31 13h1.06v1.06h-1.06zM40 13h1.06v1.06h-1.06zM41 13h1.06v1.06h-1.06zM1 14h1.06v1.06h-1.06zM5 14h1.06v1.06h-1.06zM19 14h1.06v1.06h-1.06zM39 14h1.06v1.06h-1.06zM48 14h1.06v1.06h-1.06zM31 15h1.06v1.06h-1.06zM3 16h1.06v1.06h-1.06zM7 16h1.06v1.06h-1.06zM21 16h1.06v1.06h-1.06zM39 16h1.06v1.06h-1.06zM42 16h1.06v1.06h-1.06zM50 16h1.06v1.06h-1.06zM2 17h1.06v1.06h-1.06zM8 17h1.06v1.06h-1.06zM39 17h1.06v1.06h-1.06zM42 17h1.06v1.06h-1.06zM44 17h1.06v1.06h-1.06zM25 18h1.06v1.06h-1.06zM29 18h1.06v1.06h-1.06zM40 18h1.06v1.06h-1.06zM43 18h1.06v1.06h-1.06zM1 19h1.06v1.06h-1.06zM22 19h1.06v1.06h-1.06zM25 19h1.06v1.06h-1.06zM38 19h1.06v1.06h-1.06zM28 20h1.06v1.06h-1.06zM38 20h1.06v1.06h-1.06zM40 20h1.06v1.06h-1.06zM49 20h1.06v1.06h-1.06zM38 21h1.06v1.06h-1.06zM3 22h1.06v1.06h-1.06zM11 22h1.06v1.06h-1.06zM28 22h1.06v1.06h-1.06zM29 22h1.06v1.06h-1.06zM38 22h1.06v1.06h-1.06zM39 22h1.06v1.06h-1.06zM24 23h1.06v1.06h-1.06zM25 23h1.06v1.06h-1.06zM31 23h1.06v1.06h-1.06zM26 24h1.06v1.06h-1.06zM27 24h1.06v1.06h-1.06zM28 24h1.06v1.06h-1.06zM47 24h1.06v1.06h-1.06zM16 25h1.06v1.06h-1.06zM23 25h1.06v1.06h-1.06zM24 25h1.06v1.06h-1.06zM38 25h1.06v1.06h-1.06zM8 26h1.06v1.06h-1.06zM19 26h1.06v1.06h-1.06zM22 26h1.06v1.06h-1.06zM14 27h1.06v1.06h-1.06zM28 27h1.06v1.06h-1.06zM35 27h1.06v1.06h-1.06zM37 27h1.06v1.06h-1.06zM4 28h1.06v1.06h-1.06zM7 28h1.06v1.06h-1.06zM22 28h1.06v1.06h-1.06zM36 28h1.06v1.06h-1.06zM20 29h1.06v1.06h-1.06zM30 29h1.06v1.06h-1.06zM9 30h1.06v1.06h-1.06zM21 30h1.06v1.06h-1.06zM24 30h1.06v1.06h-1.06zM3 31h1.06v1.06h-1.06zM6 31h1.06v1.06h-1.06zM16 31h1.06v1.06h-1.06zM23 31h1.06v1.06h-1.06zM25 31h1.06v1.06h-1.06zM32 31h1.06v1.06h-1.06zM33 31h1.06v1.06h-1.06zM23 32h1.06v1.06h-1.06zM32 32h1.06v1.06h-1.06zM33 32h1.06v1.06h-1.06zM8 33h1.06v1.06h-1.06zM15 33h1.06v1.06h-1.06zM21 33h1.06v1.06h-1.06zM32 33h1.06v1.06h-1.06zM0 34h1.06v1.06h-1.06zM8 34h1.06v1.06h-1.06zM9 35h1.06v1.06h-1.06zM18 35h1.06v1.06h-1.06zM28 35h1.06v1.06h-1.06zM31 35h1.06v1.06h-1.06zM0 36h1.06v1.06h-1.06zM5 36h1.06v1.06h-1.06zM7 36h1.06v1.06h-1.06zM30 36h1.06v1.06h-1.06zM0 37h1.06v1.06h-1.06zM9 37h1.06v1.06h-1.06zM20 37h1.06v1.06h-1.06zM30 37h1.06v1.06h-1.06zM31 37h1.06v1.06h-1.06zM2 38h1.06v1.06h-1.06zM9 38h1.06v1.06h-1.06zM13 38h1.06v1.06h-1.06zM29 38h1.06v1.06h-1.06zM13 39h1.06v1.06h-1.06zM20 40h1.06v1.06h-1.06zM30 40h1.06v1.06h-1.06zM10 41h1.06v1.06h-1.06zM14 41h1.06v1.06h-1.06zM17 41h1.06v1.06h-1.06zM28 41h1.06v1.06h-1.06zM31 41h1.06v1.06h-1.06zM1 42h1.06v1.06h-1.06zM8 42h1.06v1.06h-1.06zM29 42h1.06v1.06h-1.06zM4 43h1.06v1.06h-1.06zM9 43h1.06v1.06h-1.06zM13 43h1.06v1.06h-1.06zM18 43h1.06v1.06h-1.06zM31 43h1.06v1.06h-1.06zM8 44h1.06v1.06h-1.06zM27 44h1.06v1.06h-1.06zM3 45h1.06v1.06h-1.06zM12 45h1.06v1.06h-1.06zM27 45h1.06v1.06h-1.06zM8 46h1.06v1.06h-1.06zM30 46h1.06v1.06h-1.06zM11 47h1.06v1.06h-1.06zM16 47h1.06v1.06h-1.06zM28 47h1.06v1.06h-1.06zM12 48h1.06v1.06h-1.06zM13 48h1.06v1.06h-1.06zM27 48h1.06v1.06h-1.06zM15 49h1.06v1.06h-1.06zM27 49h1.06v1.06h-1.06zM18 50h1.06v1.06h-1.06zM19 50h1.06v1.06h-1.06zM31 50h1.06v1.06h-1.06zM8 51h1.06v1.06h-1.06zM18 51h1.06v1.06h-1.06zM29 51h1.06v1.06h-1.06zM26 52h1.06v1.06h-1.06zM13 53h1.06v1.06h-1.06zM16 53h1.06v1.06h-1.06zM26 54h1.06v1.06h-1.06zM3 55h1.06v1.06h-1.06zM4 56h1.06v1.06h-1.06zM13 56h1.06v1.06h-1.06zM17 56h1.06v1.06h-1.06zM25 56h1.06v1.06h-1.06zM9 58h1.06v1.06h-1.06zM14 58h1.06v1.06h-1.06zM18 58h1.06v1.06h-1.06zM25 58h1.06v1.06h-1.06zM23 59h1.06v1.06h-1.06zM25 59h1.06v1.06h-1.06zM8 60h1.06v1.06h-1.06zM13 60h1.06v1.06h-1.06zM21 60h1.06v1.06h-1.06zM14 61h1.06v1.06h-1.06zM15 61h1.06v1.06h-1.06zM32 62h1.06v1.06h-1.06zM17 63h1.06v1.06h-1.06zM6 64h1.06v1.06h-1.06zM16 64h1.06v1.06h-1.06zM10 65h1.06v1.06h-1.06zM36 65h1.06v1.06h-1.06zM4 66h1.06v1.06h-1.06zM2 67h1.06v1.06h-1.06z"/>
<path fill="#fff2f2" d="M0 0h1.06v1.06h-1.06zM17 0h1.06v1.06h-1.06zM44 0h1.06v1.06h-1.06zM3 1h1.06v1.06h-1.06zM5 1h1.06v1.06h-1.06zM11 2h1.06v1.06h-1.06zM15 2h1.06v1.06h-1.06zM44 2h1.06v1.06h-1.06zM0 3h1.06v1.06h-1.06zM11 3h1.06v1.06h-1.06zM19 3h1.06v1.06h-1.06zM46 3h1.06v1.06h-1.06zM6 4h1.06v1.06h-1.06zM14 4h1.06v1.06h-1.06zM17 4h1.06v1.06h-1.06zM20 4h1.06v1.06h-1.06zM48 4h1.06v1.06h-1.06zM4 5h1.06v1.06h-1.06zM5 5h1.06v1.06h-1.06zM16 5h1.06v1.06h-1.06zM45 5h1.06v1.06h-1.06zM50 5h1.06v1.06h-1.06zM4 6h1.06v1.06h-1.06zM12 6h1.06v1.06h-1.06zM20 6h1.06v1.06h-1.06zM33 6h1.06v1.06h-1.06zM35 6h1.06v1.06h-1.06zM41 6h1.06v1.06h-1.06zM0 7h1.06v1.06h-1.06zM2 7h1.06v1.06h-1.06zM6 7h1.06v1.06h-1.06zM37 7h1.06v1.06h-1.06zM19 8h1.06v1.06h-1.06zM35 8h1.06v1.06h-1.06zM4 9h1.06v1.06h-1.06zM18 9h1.06v1.06h-1.06zM20 9h1.06v1.06h-1.06zM39 9h1.06v1.06h-1.06zM0 10h1.06v1.06h-1.06zM1 10h1.06v1.06h-1.06zM3 10h1.06v1.06h-1.06zM4 10h1.06v1.06h-1.06zM7 10h1.06v1.06h-1.06zM32 10h1.06v1.06h-1.06zM37 10h1.06v1.06h-1.06zM1 12h1.06v1.06h-1.06zM4 12h1.06v1.06h-1.06zM3 13h1.06v1.06h-1.06zM6 13h1.06v1.06h-1.06zM11 13h1.06v1.06h-1.06zM20 13h1.06v1.06h-1.06zM38 13h1.06v1.06h-1.06zM44 13h1.06v1.06h-1.06zM7 14h1.06v1.06h-1.06zM30 14h1.06v1.06h-1.06zM38 14h1.06v1.06h-1.06zM2 15h1.06v1.06h-1.06zM5 15h1.06v1.06h-1.06zM21 15h1.06v1.06h-1.06zM39 15h1.06v1.06h-1.06zM41 15h1.06v1.06h-1.06zM50 15h1.06v1.06h-1.06zM0 16h1.06v1.06h-1.06zM4 16h1.06v1.06h-1.06zM30 16h1.06v1.06h-1.06zM40 16h1.06v1.06h-1.06zM3 17h1.06v1.06h-1.06zM4 17h1.06v1.06h-1.06zM22 17h1.06v1.06h-1.06zM40 17h1.06v1.06h-1.06zM4 18h1.06v1.06h-1.06zM5 18h1.06v1.06h-1.06zM7 18h1.06v1.06h-1.06zM21 18h1.06v1.06h-1.06zM42 18h1.06v1.06h-1.06zM8 19h1.06v1.06h-1.06zM27 19h1.06v1.06h-1.06zM30 19h1.06v1.06h-1.06zM0 20h1.06v1.06h-1.06zM9 20h1.06v1.06h-1.06zM39 20h1.06v1.06h-1.06zM5 21h1.06v1.06h-1.06zM16 21h1.06v1.06h-1.06zM24 21h1.06v1.06h-1.06zM25 22h1.06v1.06h-1.06zM26 22h1.06v1.06h-1.06zM37 22h1.06v1.06h-1.06zM7 23h1.06v1.06h-1.06zM8 23h1.06v1.06h-1.06zM29 23h1.06v1.06h-1.06zM37 23h1.06v1.06h-1.06zM5 24h1.06v1.06h-1.06zM24 24h1.06v1.06h-1.06zM35 24h1.06v1.06h-1.06zM37 24h1.06v1.06h-1.06zM4 25h1.06v1.06h-1.06zM18 25h1.06v1.06h-1.06zM25 25h1.06v1.06h-1.06zM27 25h1.06v1.06h-1.06zM30 26h1.06v1.06h-1.06zM35 26h1.06v1.06h-1.06zM2 27h1.06v1.06h-1.06zM24 27h1.06v1.06h-1.06zM1 28h1.06v1.06h-1.06zM5 28h1.06v1.06h-1.06zM26 28h1.06v1.06h-1.06zM30 28h1.06v1.06h-1.06zM2 29h1.06v1.06h-1.06zM3 29h1.06v1.06h-1.06zM6 29h1.06v1.06h-1.06zM7 29h1.06v1.06h-1.06zM16 29h1.06v1.06h-1.06zM35 29h1.06v1.06h-1.06zM2 30h1.06v1.06h-1.06zM6 30h1.06v1.06h-1.06zM7 30h1.06v1.06h-1.06zM27 30h1.06v1.06h-1.06zM28 30h1.06v1.06h-1.06zM35 30h1.06v1.06h-1.06zM1 31h1.06v1.06h-1.06zM5 31h1.06v1.06h-1.06zM21 31h1.06v1.06h-1.06zM28 31h1.06v1.06h-1.06zM29 31h1.06v1.06h-1.06zM31 31h1.06v1.06h-1.06zM34 31h1.06v1.06h-1.06zM2 32h1.06v1.06h-1.06zM7 32h1.06v1.06h-1.06zM9 32h1.06v1.06h-1.06zM18 32h1.06v1.06h-1.06zM29 32h1.06v1.06h-1.06zM30 32h1.06v1.06h-1.06zM31 32h1.06v1.06h-1.06zM5 33h1.06v1.06h-1.06zM11 33h1.06v1.06h-1.06zM22 33h1.06v1.06h-1.06zM30 33h1.06v1.06h-1.06zM2 34h1.06v1.06h-1.06zM12 34h1.06v1.06h-1.06zM31 34h1.06v1.06h-1.06zM0 35h1.06v1.06h-1.06zM20 35h1.06v1.06h-1.06zM27 35h1.06v1.06h-1.06zM30 35h1.06v1.06h-1.06zM11 36h1.06v1.06h-1.06zM20 36h1.06v1.06h-1.06zM29 36h1.06v1.06h-1.06zM10 37h1.06v1.06h-1.06zM11 37h1.06v1.06h-1.06zM12 37h1.06v1.06h-1.06zM14 37h1.06v1.06h-1.06zM7 38h1.06v1.06h-1.06zM12 38h1.06v1.06h-1.06zM14 38h1.06v1.06h-1.06zM29 39h1.06v1.06h-1.06zM28 40h1.06v1.06h-1.06zM8 41h1.06v1.06h-1.06zM29 41h1.06v1.06h-1.06zM6 42h1.06v1.06h-1.06zM9 42h1.06v1.06h-1.06zM11 42h1.06v1.06h-1.06zM13 42h1.06v1.06h-1.06zM15 42h1.06v1.06h-1.06zM20 42h1.06v1.06h-1.06zM28 42h1.06v1.06h-1.06zM3 44h1.06v1.06h-1.06zM9 44h1.06v1.06h-1.06zM29 44h1.06v1.06h-1.06zM7 45h1.06v1.06h-1.06zM29 45h1.06v1.06h-1.06zM17 46h1.06v1.06h-1.06zM11 48h1.06v1.06h-1.06zM28 48h1.06v1.06h-1.06zM30 48h1.06v1.06h-1.06zM18 49h1.06v1.06h-1.06zM30 50h1.06v1.06h-1.06zM32 50h1.06v1.06h-1.06zM13 51h1.06v1.06h-1.06zM1 52h1.06v1.06h-1.06zM15 52h1.06v1.06h-1.06zM17 52h1.06v1.06h-1.06zM17 53h1.06v1.06h-1.06zM20 53h1.06v1.06h-1.06zM20 55h1.06v1.06h-1.06zM21 55h1.06v1.06h-1.06zM25 55h1.06v1.06h-1.06zM1 56h1.06v1.06h-1.06zM11 56h1.06v1.06h-1.06zM18 56h1.06v1.06h-1.06zM13 57h1.06v1.06h-1.06zM25 57h1.06v1.06h-1.06zM29 57h1.06v1.06h-1.06zM11 58h1.06v1.06h-1.06zM13 58h1.06v1.06h-1.06zM20 58h1.06v1.06h-1.06zM21 58h1.06v1.06h-1.06zM16 59h1.06v1.06h-1.06zM20 59h1.06v1.06h-1.06zM1 60h1.06v1.06h-1.06zM3 60h1.06v1.06h-1.06zM22 60h1.06v1.06h-1.06zM20 61h1.06v1.06h-1.06zM4 63h1.06v1.06h-1.06zM9 66h1.06v1.06h-1.06zM14 67h1.06v1.06h-1.06zM0 68h1.06v1.06h-1.06z"/>
<path fill="#ffe9e9" d="M12 0h1.06v1.06h-1.06zM14 0h1.06v1.06h-1.06zM49 0h1.06v1.06h-1.06zM1 1h1.06v1.06h-1.06zM9 1h1.06v1.06h-1.06zM14 1h1.06v1.06h-1.06zM0 2h1.06v1.06h-1.06zM4 2h1.06v1.06h-1.06zM12 2h1.06v1.06h-1.06zM8 3h1.06v1.06h-1.06zM17 3h1.06v1.06h-1.06zM11 4h1.06v1.06h-1.06zM12 4h1.06v1.06h-1.06zM2 5h1.06v1.06h-1.06zM8 5h1.06v1.06h-1.06zM19 5h1.06v1.06h-1.06zM36 5h1.06v1.06h-1.06zM1 6h1.06v1.06h-1.06zM9 6h1.06v1.06h-1.06zM11 6h1.06v1.06h-1.06zM1 7h1.06v1.06h-1.06zM9 8h1.06v1.06h-1.06zM11 8h1.06v1.06h-1.06zM11 9h1.06v1.06h-1.06zM37 9h1.06v1.06h-1.06zM10 10h1.06v1.06h-1.06zM11 10h1.06v1.06h-1.06zM19 10h1.06v1.06h-1.06zM20 10h1.06v1.06h-1.06zM35 10h1.06v1.06h-1.06zM3 11h1.06v1.06h-1.06zM37 12h1.06v1.06h-1.06zM4 13h1.06v1.06h-1.06zM10 13h1.06v1.06h-1.06zM12 13h1.06v1.06h-1.06zM39 13h1.06v1.06h-1.06zM43 13h1.06v1.06h-1.06zM3 14h1.06v1.06h-1.06zM44 14h1.06v1.06h-1.06zM1 15h1.06v1.06h-1.06zM9 15h1.06v1.06h-1.06zM38 15h1.06v1.06h-1.06zM6 16h1.06v1.06h-1.06zM9 16h1.06v1.06h-1.06zM20 16h1.06v1.06h-1.06zM37 16h1.06v1.06h-1.06zM45 16h1.06v1.06h-1.06zM21 17h1.06v1.06h-1.06zM38 17h1.06v1.06h-1.06zM8 18h1.06v1.06h-1.06zM22 18h1.06v1.06h-1.06zM23 18h1.06v1.06h-1.06zM30 18h1.06v1.06h-1.06zM0 19h1.06v1.06h-1.06zM7 19h1.06v1.06h-1.06zM29 19h1.06v1.06h-1.06zM21 20h1.06v1.06h-1.06zM25 20h1.06v1.06h-1.06zM37 20h1.06v1.06h-1.06zM9 21h1.06v1.06h-1.06zM23 21h1.06v1.06h-1.06zM29 21h1.06v1.06h-1.06zM0 22h1.06v1.06h-1.06zM8 22h1.06v1.06h-1.06zM13 22h1.06v1.06h-1.06zM17 22h1.06v1.06h-1.06zM21 22h1.06v1.06h-1.06zM27 22h1.06v1.06h-1.06zM31 22h1.06v1.06h-1.06zM6 23h1.06v1.06h-1.06zM12 23h1.06v1.06h-1.06zM28 23h1.06v1.06h-1.06zM30 23h1.06v1.06h-1.06zM32 23h1.06v1.06h-1.06zM0 24h1.06v1.06h-1.06zM17 24h1.06v1.06h-1.06zM18 24h1.06v1.06h-1.06zM21 24h1.06v1.06h-1.06zM31 24h1.06v1.06h-1.06zM32 24h1.06v1.06h-1.06zM1 25h1.06v1.06h-1.06zM2 25h1.06v1.06h-1.06zM26 25h1.06v1.06h-1.06zM28 25h1.06v1.06h-1.06zM32 25h1.06v1.06h-1.06zM35 25h1.06v1.06h-1.06zM3 26h1.06v1.06h-1.06zM16 26h1.06v1.06h-1.06zM18 26h1.06v1.06h-1.06zM26 26h1.06v1.06h-1.06zM33 26h1.06v1.06h-1.06zM29 27h1.06v1.06h-1.06zM33 27h1.06v1.06h-1.06zM3 28h1.06v1.06h-1.06zM8 28h1.06v1.06h-1.06zM11 28h1.06v1.06h-1.06zM32 28h1.06v1.06h-1.06zM33 28h1.06v1.06h-1.06zM33 29h1.06v1.06h-1.06zM34 29h1.06v1.06h-1.06zM20 30h1.06v1.06h-1.06zM23 30h1.06v1.06h-1.06zM25 30h1.06v1.06h-1.06zM32 30h1.06v1.06h-1.06zM22 31h1.06v1.06h-1.06zM16 32h1.06v1.06h-1.06zM21 32h1.06v1.06h-1.06zM29 34h1.06v1.06h-1.06zM32 34h1.06v1.06h-1.06zM3 35h1.06v1.06h-1.06zM14 36h1.06v1.06h-1.06zM27 36h1.06v1.06h-1.06zM5 37h1.06v1.06h-1.06zM27 37h1.06v1.06h-1.06zM29 37h1.06v1.06h-1.06zM12 39h1.06v1.06h-1.06zM15 39h1.06v1.06h-1.06zM21 39h1.06v1.06h-1.06zM12 40h1.06v1.06h-1.06zM13 40h1.06v1.06h-1.06zM12 41h1.06v1.06h-1.06zM0 42h1.06v1.06h-1.06zM10 42h1.06v1.06h-1.06zM0 43h1.06v1.06h-1.06zM5 44h1.06v1.06h-1.06zM6 44h1.06v1.06h-1.06zM2 45h1.06v1.06h-1.06zM30 45h1.06v1.06h-1.06zM9 46h1.06v1.06h-1.06zM11 46h1.06v1.06h-1.06zM28 46h1.06v1.06h-1.06zM8 48h1.06v1.06h-1.06zM14 48h1.06v1.06h-1.06zM29 50h1.06v1.06h-1.06zM20 51h1.06v1.06h-1.06zM31 51h1.06v1.06h-1.06zM14 52h1.06v1.06h-1.06zM26 53h1.06v1.06h-1.06zM27 54h1.06v1.06h-1.06zM17 55h1.06v1.06h-1.06zM15 57h1.06v1.06h-1.06zM17 57h1.06v1.06h-1.06zM3 58h1.06v1.06h-1.06zM14 59h1.06v1.06h-1.06zM12 60h1.06v1.06h-1.06zM7 62h1.06v1.06h-1.06zM12 64h1.06v1.06h-1.06z"/>
<path fill="#ffe1e1" d="M1 0h1.06v1.06h-1.06zM10 0h1.06v1.06h-1.06zM11 0h1.06v1.06h-1.06zM2 1h1.06v1.06h-1.06zM6 1h1.06v1.06h-1.06zM5 2h1.06v1.06h-1.06zM9 2h1.06v1.06h-1.06zM18 2h1.06v1.06h-1.06zM10 4h1.06v1.06h-1.06zM7 5h1.06v1.06h-1.06zM20 5h1.06v1.06h-1.06zM0 6h1.06v1.06h-1.06zM14 6h1.06v1.06h-1.06zM18 6h1.06v1.06h-1.06zM36 6h1.06v1.06h-1.06zM3 7h1.06v1.06h-1.06zM5 7h1.06v1.06h-1.06zM8 7h1.06v1.06h-1.06zM0 8h1.06v1.06h-1.06zM3 8h1.06v1.06h-1.06zM16 8h1.06v1.06h-1.06zM12 9h1.06v1.06h-1.06zM17 9h1.06v1.06h-1.06zM34 9h1.06v1.06h-1.06zM9 10h1.06v1.06h-1.06zM13 10h1.06v1.06h-1.06zM33 10h1.06v1.06h-1.06zM36 10h1.06v1.06h-1.06zM1 11h1.06v1.06h-1.06zM2 11h1.06v1.06h-1.06zM5 11h1.06v1.06h-1.06zM8 11h1.06v1.06h-1.06zM14 11h1.06v1.06h-1.06zM36 11h1.06v1.06h-1.06zM37 11h1.06v1.06h-1.06zM5 12h1.06v1.06h-1.06zM20 12h1.06v1.06h-1.06zM38 12h1.06v1.06h-1.06zM8 13h1.06v1.06h-1.06zM37 13h1.06v1.06h-1.06zM0 14h1.06v1.06h-1.06zM14 14h1.06v1.06h-1.06zM37 14h1.06v1.06h-1.06zM14 15h1.06v1.06h-1.06zM34 15h1.06v1.06h-1.06zM36 16h1.06v1.06h-1.06zM6 17h1.06v1.06h-1.06zM32 17h1.06v1.06h-1.06zM3 18h1.06v1.06h-1.06zM11 18h1.06v1.06h-1.06zM31 18h1.06v1.06h-1.06zM4 19h1.06v1.06h-1.06zM12 19h1.06v1.06h-1.06zM30 20h1.06v1.06h-1.06zM1 21h1.06v1.06h-1.06zM36 21h1.06v1.06h-1.06zM7 22h1.06v1.06h-1.06zM30 22h1.06v1.06h-1.06zM35 22h1.06v1.06h-1.06zM36 22h1.06v1.06h-1.06zM19 23h1.06v1.06h-1.06zM26 23h1.06v1.06h-1.06zM36 23h1.06v1.06h-1.06zM6 24h1.06v1.06h-1.06zM12 24h1.06v1.06h-1.06zM22 24h1.06v1.06h-1.06zM23 24h1.06v1.06h-1.06zM29 24h1.06v1.06h-1.06zM34 24h1.06v1.06h-1.06zM36 24h1.06v1.06h-1.06zM20 25h1.06v1.06h-1.06zM22 25h1.06v1.06h-1.06zM36 25h1.06v1.06h-1.06zM5 26h1.06v1.06h-1.06zM10 26h1.06v1.06h-1.06zM27 26h1.06v1.06h-1.06zM32 26h1.06v1.06h-1.06zM17 27h1.06v1.06h-1.06zM27 27h1.06v1.06h-1.06zM30 27h1.06v1.06h-1.06zM6 28h1.06v1.06h-1.06zM19 28h1.06v1.06h-1.06zM21 28h1.06v1.06h-1.06zM31 28h1.06v1.06h-1.06zM15 29h1.06v1.06h-1.06zM23 29h1.06v1.06h-1.06zM27 29h1.06v1.06h-1.06zM30 30h1.06v1.06h-1.06zM4 31h1.06v1.06h-1.06zM9 31h1.06v1.06h-1.06zM12 31h1.06v1.06h-1.06zM26 31h1.06v1.06h-1.06zM5 32h1.06v1.06h-1.06zM10 32h1.06v1.06h-1.06zM14 32h1.06v1.06h-1.06zM15 32h1.06v1.06h-1.06zM26 32h1.06v1.06h-1.06zM20 33h1.06v1.06h-1.06zM27 33h1.06v1.06h-1.06zM26 34h1.06v1.06h-1.06zM21 35h1.06v1.06h-1.06zM32 35h1.06v1.06h-1.06zM28 36h1.06v1.06h-1.06zM31 36h1.06v1.06h-1.06zM8 37h1.06v1.06h-1.06zM21 37h1.06v1.06h-1.06zM11 38h1.06v1.06h-1.06zM20 38h1.06v1.06h-1.06zM20 39h1.06v1.06h-1.06zM26 39h1.06v1.06h-1.06zM28 39h1.06v1.06h-1.06zM10 40h1.06v1.06h-1.06zM11 40h1.06v1.06h-1.06zM26 42h1.06v1.06h-1.06zM12 43h1.06v1.06h-1.06zM20 43h1.06v1.06h-1.06zM12 44h1.06v1.06h-1.06zM28 45h1.06v1.06h-1.06zM20 46h1.06v1.06h-1.06zM26 48h1.06v1.06h-1.06zM3 49h1.06v1.06h-1.06zM8 49h1.06v1.06h-1.06zM13 50h1.06v1.06h-1.06zM26 50h1.06v1.06h-1.06zM28 50h1.06v1.06h-1.06zM9 53h1.06v1.06h-1.06zM19 53h1.06v1.06h-1.06zM24 53h1.06v1.06h-1.06zM16 54h1.06v1.06h-1.06zM17 54h1.06v1.06h-1.06zM25 54h1.06v1.06h-1.06zM24 60h1.06v1.06h-1.06zM22 61h1.06v1.06h-1.06zM14 62h1.06v1.06h-1.06zM5 66h1.06v1.06h-1.06zM7 67h1.06v1.06h-1.06z"/>
<path fill="#ffd8d8" d="M4 1h1.06v1.06h-1.06zM19 1h1.06v1.06h-1.06zM8 2h1.06v1.06h-1.06zM14 2h1.06v1.06h-1.06zM17 2h1.06v1.06h-1.06zM15 3h1.06v1.06h-1.06zM16 3h1.06v1.06h-1.06zM4 4h1.06v1.06h-1.06zM7 4h1.06v1.06h-1.06zM13 4h1.06v1.06h-1.06zM16 4h1.06v1.06h-1.06zM19 4h1.06v1.06h-1.06zM6 5h1.06v1.06h-1.06zM10 5h1.06v1.06h-1.06zM14 5h1.06v1.06h-1.06zM5 6h1.06v1.06h-1.06zM17 6h1.06v1.06h-1.06zM19 6h1.06v1.06h-1.06zM16 7h1.06v1.06h-1.06zM19 7h1.06v1.06h-1.06zM34 8h1.06v1.06h-1.06zM36 8h1.06v1.06h-1.06zM1 9h1.06v1.06h-1.06zM16 9h1.06v1.06h-1.06zM34 10h1.06v1.06h-1.06zM15 11h1.06v1.06h-1.06zM21 11h1.06v1.06h-1.06zM32 11h1.06v1.06h-1.06zM2 12h1.06v1.06h-1.06zM6 12h1.06v1.06h-1.06zM21 12h1.06v1.06h-1.06zM0 15h1.06v1.06h-1.06zM10 15h1.06v1.06h-1.06zM19 15h1.06v1.06h-1.06zM37 15h1.06v1.06h-1.06zM31 16h1.06v1.06h-1.06zM33 16h1.06v1.06h-1.06zM38 16h1.06v1.06h-1.06zM31 17h1.06v1.06h-1.06zM2 18h1.06v1.06h-1.06zM17 18h1.06v1.06h-1.06zM2 19h1.06v1.06h-1.06zM10 19h1.06v1.06h-1.06zM33 20h1.06v1.06h-1.06zM34 20h1.06v1.06h-1.06zM2 21h1.06v1.06h-1.06zM18 21h1.06v1.06h-1.06zM20 21h1.06v1.06h-1.06zM34 21h1.06v1.06h-1.06zM37 21h1.06v1.06h-1.06zM10 22h1.06v1.06h-1.06zM18 22h1.06v1.06h-1.06zM20 22h1.06v1.06h-1.06zM22 22h1.06v1.06h-1.06zM24 22h1.06v1.06h-1.06zM32 22h1.06v1.06h-1.06zM22 23h1.06v1.06h-1.06zM23 23h1.06v1.06h-1.06zM33 23h1.06v1.06h-1.06zM1 24h1.06v1.06h-1.06zM20 24h1.06v1.06h-1.06zM3 25h1.06v1.06h-1.06zM7 25h1.06v1.06h-1.06zM14 25h1.06v1.06h-1.06zM15 25h1.06v1.06h-1.06zM31 25h1.06v1.06h-1.06zM33 25h1.06v1.06h-1.06zM7 26h1.06v1.06h-1.06zM11 27h1.06v1.06h-1.06zM34 27h1.06v1.06h-1.06zM14 29h1.06v1.06h-1.06zM25 29h1.06v1.06h-1.06zM28 29h1.06v1.06h-1.06zM15 30h1.06v1.06h-1.06zM30 31h1.06v1.06h-1.06zM12 32h1.06v1.06h-1.06zM13 32h1.06v1.06h-1.06zM20 32h1.06v1.06h-1.06zM22 32h1.06v1.06h-1.06zM24 32h1.06v1.06h-1.06zM25 32h1.06v1.06h-1.06zM28 32h1.06v1.06h-1.06zM29 33h1.06v1.06h-1.06zM31 33h1.06v1.06h-1.06zM23 34h1.06v1.06h-1.06zM27 34h1.06v1.06h-1.06zM10 35h1.06v1.06h-1.06zM25 35h1.06v1.06h-1.06zM8 36h1.06v1.06h-1.06zM15 36h1.06v1.06h-1.06zM21 36h1.06v1.06h-1.06zM3 37h1.06v1.06h-1.06zM6 37h1.06v1.06h-1.06zM3 38h1.06v1.06h-1.06zM26 38h1.06v1.06h-1.06zM5 41h1.06v1.06h-1.06zM11 41h1.06v1.06h-1.06zM20 41h1.06v1.06h-1.06zM27 41h1.06v1.06h-1.06zM16 42h1.06v1.06h-1.06zM27 43h1.06v1.06h-1.06zM29 43h1.06v1.06h-1.06zM26 47h1.06v1.06h-1.06zM9 48h1.06v1.06h-1.06zM16 49h1.06v1.06h-1.06zM14 50h1.06v1.06h-1.06zM16 50h1.06v1.06h-1.06zM20 50h1.06v1.06h-1.06zM11 53h1.06v1.06h-1.06zM18 54h1.06v1.06h-1.06zM22 56h1.06v1.06h-1.06zM24 56h1.06v1.06h-1.06zM17 58h1.06v1.06h-1.06zM26 60h1.06v1.06h-1.06zM9 61h1.06v1.06h-1.06z"/>
<path fill="#ffcfcf" d="M15 0h1.06v1.06h-1.06zM18 3h1.06v1.06h-1.06zM15 5h1.06v1.06h-1.06zM13 7h1.06v1.06h-1.06zM15 7h1.06v1.06h-1.06zM12 8h1.06v1.06h-1.06zM14 8h1.06v1.06h-1.06zM5 9h1.06v1.06h-1.06zM10 9h1.06v1.06h-1.06zM14 9h1.06v1.06h-1.06zM35 9h1.06v1.06h-1.06zM18 10h1.06v1.06h-1.06zM6 11h1.06v1.06h-1.06zM7 11h1.06v1.06h-1.06zM11 11h1.06v1.06h-1.06zM35 11h1.06v1.06h-1.06zM9 12h1.06v1.06h-1.06zM12 12h1.06v1.06h-1.06zM35 12h1.06v1.06h-1.06zM0 13h1.06v1.06h-1.06zM16 14h1.06v1.06h-1.06zM20 14h1.06v1.06h-1.06zM34 14h1.06v1.06h-1.06zM36 14h1.06v1.06h-1.06zM33 15h1.06v1.06h-1.06zM36 15h1.06v1.06h-1.06zM13 16h1.06v1.06h-1.06zM17 16h1.06v1.06h-1.06zM32 16h1.06v1.06h-1.06zM35 16h1.06v1.06h-1.06zM7 17h1.06v1.06h-1.06zM19 17h1.06v1.06h-1.06zM20 17h1.06v1.06h-1.06zM36 17h1.06v1.06h-1.06zM37 17h1.06v1.06h-1.06zM6 18h1.06v1.06h-1.06zM9 18h1.06v1.06h-1.06zM14 18h1.06v1.06h-1.06zM32 18h1.06v1.06h-1.06zM37 18h1.06v1.06h-1.06zM38 18h1.06v1.06h-1.06zM6 19h1.06v1.06h-1.06zM11 19h1.06v1.06h-1.06zM19 19h1.06v1.06h-1.06zM21 19h1.06v1.06h-1.06zM31 19h1.06v1.06h-1.06zM33 19h1.06v1.06h-1.06zM37 19h1.06v1.06h-1.06zM17 20h1.06v1.06h-1.06zM19 20h1.06v1.06h-1.06zM35 20h1.06v1.06h-1.06zM19 21h1.06v1.06h-1.06zM26 21h1.06v1.06h-1.06zM32 21h1.06v1.06h-1.06zM33 21h1.06v1.06h-1.06zM35 21h1.06v1.06h-1.06zM2 22h1.06v1.06h-1.06zM33 22h1.06v1.06h-1.06zM20 23h1.06v1.06h-1.06zM21 23h1.06v1.06h-1.06zM30 24h1.06v1.06h-1.06zM34 25h1.06v1.06h-1.06zM6 26h1.06v1.06h-1.06zM31 26h1.06v1.06h-1.06zM34 26h1.06v1.06h-1.06zM3 27h1.06v1.06h-1.06zM16 27h1.06v1.06h-1.06zM20 27h1.06v1.06h-1.06zM21 27h1.06v1.06h-1.06zM32 27h1.06v1.06h-1.06zM13 28h1.06v1.06h-1.06zM23 28h1.06v1.06h-1.06zM13 29h1.06v1.06h-1.06zM31 29h1.06v1.06h-1.06zM32 29h1.06v1.06h-1.06zM13 30h1.06v1.06h-1.06zM31 30h1.06v1.06h-1.06zM14 31h1.06v1.06h-1.06zM24 31h1.06v1.06h-1.06zM12 33h1.06v1.06h-1.06zM25 33h1.06v1.06h-1.06zM28 33h1.06v1.06h-1.06zM15 34h1.06v1.06h-1.06zM28 34h1.06v1.06h-1.06zM12 35h1.06v1.06h-1.06zM29 35h1.06v1.06h-1.06zM9 36h1.06v1.06h-1.06zM13 36h1.06v1.06h-1.06zM13 37h1.06v1.06h-1.06zM27 39h1.06v1.06h-1.06zM9 40h1.06v1.06h-1.06zM14 40h1.06v1.06h-1.06zM16 40h1.06v1.06h-1.06zM26 40h1.06v1.06h-1.06zM9 41h1.06v1.06h-1.06zM12 42h1.06v1.06h-1.06zM30 43h1.06v1.06h-1.06zM10 44h1.06v1.06h-1.06zM20 45h1.06v1.06h-1.06zM26 45h1.06v1.06h-1.06zM27 46h1.06v1.06h-1.06zM24 47h1.06v1.06h-1.06zM27 47h1.06v1.06h-1.06zM25 48h1.06v1.06h-1.06zM29 49h1.06v1.06h-1.06zM26 51h1.06v1.06h-1.06zM10 52h1.06v1.06h-1.06zM20 52h1.06v1.06h-1.06zM14 54h1.06v1.06h-1.06zM22 55h1.06v1.06h-1.06zM23 55h1.06v1.06h-1.06zM19 56h1.06v1.06h-1.06zM21 57h1.06v1.06h-1.06zM24 57h1.06v1.06h-1.06zM17 59h1.06v1.06h-1.06zM21 59h1.06v1.06h-1.06z"/>
<path fill="#ffc7c7" d="M7 0h1.06v1.06h-1.06zM7 1h1.06v1.06h-1.06zM15 1h1.06v1.06h-1.06zM16 1h1.06v1.06h-1.06zM16 2h1.06v1.06h-1.06zM9 3h1.06v1.06h-1.06zM14 3h1.06v1.06h-1.06zM1 5h1.06v1.06h-1.06zM11 7h1.06v1.06h-1.06zM2 8h1.06v1.06h-1.06zM4 8h1.06v1.06h-1.06zM5 10h1.06v1.06h-1.06zM12 10h1.06v1.06h-1.06zM16 11h1.06v1.06h-1.06zM18 11h1.06v1.06h-1.06zM19 11h1.06v1.06h-1.06zM33 11h1.06v1.06h-1.06zM10 12h1.06v1.06h-1.06zM32 12h1.06v1.06h-1.06zM33 12h1.06v1.06h-1.06zM36 12h1.06v1.06h-1.06zM9 13h1.06v1.06h-1.06zM14 13h1.06v1.06h-1.06zM18 13h1.06v1.06h-1.06zM34 13h1.06v1.06h-1.06zM15 14h1.06v1.06h-1.06zM31 14h1.06v1.06h-1.06zM3 15h1.06v1.06h-1.06zM17 15h1.06v1.06h-1.06zM32 15h1.06v1.06h-1.06zM8 16h1.06v1.06h-1.06zM10 16h1.06v1.06h-1.06zM15 16h1.06v1.06h-1.06zM18 16h1.06v1.06h-1.06zM19 16h1.06v1.06h-1.06zM5 17h1.06v1.06h-1.06zM15 17h1.06v1.06h-1.06zM13 18h1.06v1.06h-1.06zM18 18h1.06v1.06h-1.06zM34 18h1.06v1.06h-1.06zM20 19h1.06v1.06h-1.06zM32 19h1.06v1.06h-1.06zM35 19h1.06v1.06h-1.06zM20 20h1.06v1.06h-1.06zM22 20h1.06v1.06h-1.06zM36 20h1.06v1.06h-1.06zM10 21h1.06v1.06h-1.06zM27 21h1.06v1.06h-1.06zM31 21h1.06v1.06h-1.06zM12 22h1.06v1.06h-1.06zM3 23h1.06v1.06h-1.06zM9 23h1.06v1.06h-1.06zM14 23h1.06v1.06h-1.06zM17 23h1.06v1.06h-1.06zM34 23h1.06v1.06h-1.06zM35 23h1.06v1.06h-1.06zM8 25h1.06v1.06h-1.06zM17 25h1.06v1.06h-1.06zM19 25h1.06v1.06h-1.06zM21 25h1.06v1.06h-1.06zM29 25h1.06v1.06h-1.06zM7 27h1.06v1.06h-1.06zM13 27h1.06v1.06h-1.06zM19 27h1.06v1.06h-1.06zM20 28h1.06v1.06h-1.06zM25 28h1.06v1.06h-1.06zM29 28h1.06v1.06h-1.06zM22 29h1.06v1.06h-1.06zM26 29h1.06v1.06h-1.06zM12 30h1.06v1.06h-1.06zM16 30h1.06v1.06h-1.06zM29 30h1.06v1.06h-1.06zM14 33h1.06v1.06h-1.06zM23 33h1.06v1.06h-1.06zM26 33h1.06v1.06h-1.06zM25 34h1.06v1.06h-1.06zM23 35h1.06v1.06h-1.06zM25 36h1.06v1.06h-1.06zM26 37h1.06v1.06h-1.06zM28 37h1.06v1.06h-1.06zM22 38h1.06v1.06h-1.06zM0 40h1.06v1.06h-1.06zM0 41h1.06v1.06h-1.06zM27 42h1.06v1.06h-1.06zM20 44h1.06v1.06h-1.06zM26 49h1.06v1.06h-1.06z"/>
<path fill="#ffbebe" d="M5 3h1.06v1.06h-1.06zM1 4h1.06v1.06h-1.06zM12 5h1.06v1.06h-1.06zM12 7h1.06v1.06h-1.06zM18 8h1.06v1.06h-1.06zM15 10h1.06v1.06h-1.06zM17 10h1.06v1.06h-1.06zM34 11h1.06v1.06h-1.06zM8 12h1.06v1.06h-1.06zM34 12h1.06v1.06h-1.06zM5 13h1.06v1.06h-1.06zM19 13h1.06v1.06h-1.06zM35 13h1.06v1.06h-1.06zM10 14h1.06v1.06h-1.06zM17 14h1.06v1.06h-1.06zM32 14h1.06v1.06h-1.06zM33 14h1.06v1.06h-1.06zM35 15h1.06v1.06h-1.06zM14 16h1.06v1.06h-1.06zM34 16h1.06v1.06h-1.06zM20 18h1.06v1.06h-1.06zM35 18h1.06v1.06h-1.06zM36 18h1.06v1.06h-1.06zM9 19h1.06v1.06h-1.06zM18 19h1.06v1.06h-1.06zM6 20h1.06v1.06h-1.06zM11 20h1.06v1.06h-1.06zM32 20h1.06v1.06h-1.06zM11 21h1.06v1.06h-1.06zM17 21h1.06v1.06h-1.06zM23 22h1.06v1.06h-1.06zM10 23h1.06v1.06h-1.06zM15 23h1.06v1.06h-1.06zM16 23h1.06v1.06h-1.06zM7 24h1.06v1.06h-1.06zM15 24h1.06v1.06h-1.06zM11 26h1.06v1.06h-1.06zM28 26h1.06v1.06h-1.06zM10 27h1.06v1.06h-1.06zM31 27h1.06v1.06h-1.06zM12 28h1.06v1.06h-1.06zM8 29h1.06v1.06h-1.06zM11 29h1.06v1.06h-1.06zM12 29h1.06v1.06h-1.06zM24 29h1.06v1.06h-1.06zM10 30h1.06v1.06h-1.06zM14 30h1.06v1.06h-1.06zM26 30h1.06v1.06h-1.06zM13 31h1.06v1.06h-1.06zM27 31h1.06v1.06h-1.06zM13 33h1.06v1.06h-1.06zM5 34h1.06v1.06h-1.06zM14 34h1.06v1.06h-1.06zM22 34h1.06v1.06h-1.06zM26 35h1.06v1.06h-1.06zM10 36h1.06v1.06h-1.06zM22 36h1.06v1.06h-1.06zM26 41h1.06v1.06h-1.06zM21 42h1.06v1.06h-1.06zM22 42h1.06v1.06h-1.06zM26 44h1.06v1.06h-1.06zM25 46h1.06v1.06h-1.06zM25 49h1.06v1.06h-1.06zM25 50h1.06v1.06h-1.06zM22 51h1.06v1.06h-1.06zM25 51h1.06v1.06h-1.06zM25 52h1.06v1.06h-1.06zM21 54h1.06v1.06h-1.06zM16 55h1.06v1.06h-1.06zM24 55h1.06v1.06h-1.06zM21 56h1.06v1.06h-1.06zM23 56h1.06v1.06h-1.06zM22 57h1.06v1.06h-1.06z"/>
<path fill="#ffb6b6" d="M0 4h1.06v1.06h-1.06zM13 6h1.06v1.06h-1.06zM15 6h1.06v1.06h-1.06zM4 7h1.06v1.06h-1.06zM17 7h1.06v1.06h-1.06zM13 9h1.06v1.06h-1.06zM6 10h1.06v1.06h-1.06zM10 11h1.06v1.06h-1.06zM20 11h1.06v1.06h-1.06zM7 12h1.06v1.06h-1.06zM13 12h1.06v1.06h-1.06zM16 12h1.06v1.06h-1.06zM17 12h1.06v1.06h-1.06zM18 12h1.06v1.06h-1.06zM15 13h1.06v1.06h-1.06zM33 13h1.06v1.06h-1.06zM36 13h1.06v1.06h-1.06zM13 14h1.06v1.06h-1.06zM18 14h1.06v1.06h-1.06zM35 14h1.06v1.06h-1.06zM7 15h1.06v1.06h-1.06zM16 15h1.06v1.06h-1.06zM9 17h1.06v1.06h-1.06zM16 17h1.06v1.06h-1.06zM33 17h1.06v1.06h-1.06zM16 18h1.06v1.06h-1.06zM33 18h1.06v1.06h-1.06zM16 19h1.06v1.06h-1.06zM36 19h1.06v1.06h-1.06zM10 20h1.06v1.06h-1.06zM12 20h1.06v1.06h-1.06zM16 20h1.06v1.06h-1.06zM7 21h1.06v1.06h-1.06zM14 21h1.06v1.06h-1.06zM30 21h1.06v1.06h-1.06zM11 23h1.06v1.06h-1.06zM13 23h1.06v1.06h-1.06zM18 23h1.06v1.06h-1.06zM13 24h1.06v1.06h-1.06zM16 24h1.06v1.06h-1.06zM19 24h1.06v1.06h-1.06zM33 24h1.06v1.06h-1.06zM8 27h1.06v1.06h-1.06zM14 28h1.06v1.06h-1.06zM15 28h1.06v1.06h-1.06zM29 29h1.06v1.06h-1.06zM8 30h1.06v1.06h-1.06zM10 31h1.06v1.06h-1.06zM11 31h1.06v1.06h-1.06zM24 33h1.06v1.06h-1.06zM10 34h1.06v1.06h-1.06zM22 37h1.06v1.06h-1.06zM23 37h1.06v1.06h-1.06zM23 38h1.06v1.06h-1.06zM4 39h1.06v1.06h-1.06zM21 41h1.06v1.06h-1.06zM10 43h1.06v1.06h-1.06zM26 43h1.06v1.06h-1.06zM10 46h1.06v1.06h-1.06zM21 48h1.06v1.06h-1.06zM21 52h1.06v1.06h-1.06zM25 53h1.06v1.06h-1.06zM20 54h1.06v1.06h-1.06zM22 54h1.06v1.06h-1.06zM23 54h1.06v1.06h-1.06zM24 54h1.06v1.06h-1.06z"/>
<path fill="#ffadad" d="M18 5h1.06v1.06h-1.06zM10 8h1.06v1.06h-1.06zM15 9h1.06v1.06h-1.06zM16 10h1.06v1.06h-1.06zM13 11h1.06v1.06h-1.06zM11 12h1.06v1.06h-1.06zM1 13h1.06v1.06h-1.06zM16 13h1.06v1.06h-1.06zM32 13h1.06v1.06h-1.06zM9 14h1.06v1.06h-1.06zM11 15h1.06v1.06h-1.06zM18 15h1.06v1.06h-1.06zM12 17h1.06v1.06h-1.06zM13 17h1.06v1.06h-1.06zM35 17h1.06v1.06h-1.06zM19 18h1.06v1.06h-1.06zM13 19h1.06v1.06h-1.06zM34 19h1.06v1.06h-1.06zM15 20h1.06v1.06h-1.06zM18 20h1.06v1.06h-1.06zM31 20h1.06v1.06h-1.06zM12 21h1.06v1.06h-1.06zM14 22h1.06v1.06h-1.06zM16 22h1.06v1.06h-1.06zM34 22h1.06v1.06h-1.06zM8 24h1.06v1.06h-1.06zM10 25h1.06v1.06h-1.06zM13 25h1.06v1.06h-1.06zM4 26h1.06v1.06h-1.06zM12 26h1.06v1.06h-1.06zM15 26h1.06v1.06h-1.06zM5 27h1.06v1.06h-1.06zM9 27h1.06v1.06h-1.06zM28 28h1.06v1.06h-1.06zM10 29h1.06v1.06h-1.06zM3 30h1.06v1.06h-1.06zM7 31h1.06v1.06h-1.06zM22 35h1.06v1.06h-1.06zM23 36h1.06v1.06h-1.06zM26 36h1.06v1.06h-1.06zM21 38h1.06v1.06h-1.06zM21 40h1.06v1.06h-1.06zM25 40h1.06v1.06h-1.06zM22 41h1.06v1.06h-1.06zM25 45h1.06v1.06h-1.06zM23 46h1.06v1.06h-1.06zM20 47h1.06v1.06h-1.06zM20 49h1.06v1.06h-1.06zM23 50h1.06v1.06h-1.06zM21 53h1.06v1.06h-1.06zM23 57h1.06v1.06h-1.06z"/>
<path fill="#ffa4a4" d="M1 2h1.06v1.06h-1.06zM17 5h1.06v1.06h-1.06zM15 8h1.06v1.06h-1.06zM17 8h1.06v1.06h-1.06zM19 9h1.06v1.06h-1.06zM14 10h1.06v1.06h-1.06zM19 12h1.06v1.06h-1.06zM13 13h1.06v1.06h-1.06zM17 13h1.06v1.06h-1.06zM12 15h1.06v1.06h-1.06zM11 17h1.06v1.06h-1.06zM17 17h1.06v1.06h-1.06zM18 17h1.06v1.06h-1.06zM34 17h1.06v1.06h-1.06zM14 19h1.06v1.06h-1.06zM13 21h1.06v1.06h-1.06zM9 22h1.06v1.06h-1.06zM19 22h1.06v1.06h-1.06zM9 24h1.06v1.06h-1.06zM11 24h1.06v1.06h-1.06zM14 24h1.06v1.06h-1.06zM9 26h1.06v1.06h-1.06zM14 26h1.06v1.06h-1.06zM12 27h1.06v1.06h-1.06zM11 34h1.06v1.06h-1.06zM24 35h1.06v1.06h-1.06zM22 39h1.06v1.06h-1.06zM24 39h1.06v1.06h-1.06zM25 39h1.06v1.06h-1.06zM23 40h1.06v1.06h-1.06zM24 42h1.06v1.06h-1.06zM22 43h1.06v1.06h-1.06zM25 44h1.06v1.06h-1.06zM26 46h1.06v1.06h-1.06zM21 47h1.06v1.06h-1.06zM25 47h1.06v1.06h-1.06z"/>
<path fill="#ff9c9c" d="M16 6h1.06v1.06h-1.06zM8 8h1.06v1.06h-1.06zM11 14h1.06v1.06h-1.06zM15 15h1.06v1.06h-1.06zM11 16h1.06v1.06h-1.06zM16 16h1.06v1.06h-1.06zM10 18h1.06v1.06h-1.06zM17 19h1.06v1.06h-1.06zM13 20h1.06v1.06h-1.06zM9 25h1.06v1.06h-1.06zM13 26h1.06v1.06h-1.06zM24 36h1.06v1.06h-1.06zM25 37h1.06v1.06h-1.06zM24 40h1.06v1.06h-1.06zM23 41h1.06v1.06h-1.06zM23 42h1.06v1.06h-1.06zM21 43h1.06v1.06h-1.06zM25 43h1.06v1.06h-1.06zM24 44h1.06v1.06h-1.06zM21 45h1.06v1.06h-1.06zM22 45h1.06v1.06h-1.06zM23 45h1.06v1.06h-1.06zM24 46h1.06v1.06h-1.06zM22 49h1.06v1.06h-1.06zM21 51h1.06v1.06h-1.06zM23 51h1.06v1.06h-1.06zM24 51h1.06v1.06h-1.06zM24 52h1.06v1.06h-1.06zM22 53h1.06v1.06h-1.06zM23 53h1.06v1.06h-1.06z"/>
<path fill="#ff9393" d="M18 7h1.06v1.06h-1.06zM17 11h1.06v1.06h-1.06zM12 18h1.06v1.06h-1.06zM15 19h1.06v1.06h-1.06zM15 21h1.06v1.06h-1.06zM15 22h1.06v1.06h-1.06zM10 24h1.06v1.06h-1.06zM11 25h1.06v1.06h-1.06zM11 30h1.06v1.06h-1.06zM24 34h1.06v1.06h-1.06zM25 38h1.06v1.06h-1.06zM25 41h1.06v1.06h-1.06zM25 42h1.06v1.06h-1.06zM23 43h1.06v1.06h-1.06zM24 45h1.06v1.06h-1.06zM23 48h1.06v1.06h-1.06zM24 48h1.06v1.06h-1.06zM21 49h1.06v1.06h-1.06zM22 50h1.06v1.06h-1.06z"/>
<path fill="#ff8a8a" d="M13 15h1.06v1.06h-1.06zM15 18h1.06v1.06h-1.06zM12 25h1.06v1.06h-1.06zM11 32h1.06v1.06h-1.06zM23 39h1.06v1.06h-1.06zM24 41h1.06v1.06h-1.06zM21 46h1.06v1.06h-1.06zM22 47h1.06v1.06h-1.06zM23 47h1.06v1.06h-1.06zM22 48h1.06v1.06h-1.06zM24 49h1.06v1.06h-1.06zM22 52h1.06v1.06h-1.06z"/>
<path fill="#ff8282" d="M12 14h1.06v1.06h-1.06zM10 17h1.06v1.06h-1.06zM14 20h1.06v1.06h-1.06zM24 38h1.06v1.06h-1.06zM24 43h1.06v1.06h-1.06zM22 44h1.06v1.06h-1.06zM24 50h1.06v1.06h-1.06z"/>
<path fill="#ff7979" d="M15 12h1.06v1.06h-1.06zM14 17h1.06v1.06h-1.06zM9 29h1.06v1.06h-1.06zM24 37h1.06v1.06h-1.06zM22 40h1.06v1.06h-1.06zM23 44h1.06v1.06h-1.06zM23 49h1.06v1.06h-1.06z"/>
<path fill="#ff7070" d="M21 44h1.06v1.06h-1.06zM22 46h1.06v1.06h-1.06z"/>
<path fill="#ff6868" d="M12 16h1.06v1.06h-1.06zM15 27h1.06v1.06h-1.06zM21 50h1.06v1.06h-1.06z"/>
<path fill="#ff5656" d="M23 52h1.06v1.06h-1.06z"/>
<path fill="#ff2b2b" d="M6 0h1.06v1.06h-1.06zM48 3h1.06v1.06h-1.06zM3 5h1.06v1.06h-1.06zM14 12h1.06v1.06h-1.06zM2 13h1.06v1.06h-1.06zM8 15h1.06v1.06h-1.06zM8 20h1.06v1.06h-1.06zM28 21h1.06v1.06h-1.06zM22 27h1.06v1.06h-1.06zM10 28h1.06v1.06h-1.06zM0 33h1.06v1.06h-1.06zM6 33h1.06v1.06h-1.06zM16 34h1.06v1.06h-1.06zM6 35h1.06v1.06h-1.06zM15 35h1.06v1.06h-1.06zM14 42h1.06v1.06h-1.06zM19 44h1.06v1.06h-1.06zM0 47h1.06v1.06h-1.06zM13 52h1.06v1.06h-1.06zM9 54h1.06v1.06h-1.06zM4 55h1.06v1.06h-1.06zM20 56h1.06v1.06h-1.06zM0 57h1.06v1.06h-1.06zM47 62h1.06v1.06h-1.06zM0 64h1.06v1.06h-1.06zM10 64h1.06v1.06h-1.06z"/>
</g>
<rect x="41" y="11" width="231" height="312" fill="none" stroke="#777" stroke-width="0.9"/>
<line x1="43.3" y1="323" x2="43.3" y2="325.5" stroke="#555" stroke-width="0.8"/>
<text x="43.30" y="335.20" font-size="10.7" text-anchor="middle" textLength="5.6" lengthAdjust="spacingAndGlyphs">0</text>
<line x1="151.8" y1="323" x2="151.8" y2="325.5" stroke="#555" stroke-width="0.8"/>
<text x="151.80" y="335.20" font-size="10.7" text-anchor="middle" textLength="15.3" lengthAdjust="spacingAndGlyphs">1.0</text>
<line x1="264.9" y1="323" x2="264.9" y2="325.5" stroke="#555" stroke-width="0.8"/>
<text x="264.90" y="335.20" font-size="10.7" text-anchor="middle" textLength="15.3" lengthAdjust="spacingAndGlyphs">2.0</text>
<line x1="38.5" y1="321.2" x2="41" y2="321.2" stroke="#555" stroke-width="0.8"/>
<text x="37.30" y="325.30" font-size="10.7" text-anchor="end" textLength="5.6" lengthAdjust="spacingAndGlyphs">0</text>
<line x1="38.5" y1="208.2" x2="41" y2="208.2" stroke="#555" stroke-width="0.8"/>
<text x="37.30" y="212.30" font-size="10.7" text-anchor="end" textLength="21.2" lengthAdjust="spacingAndGlyphs">0.75</text>
<line x1="38.5" y1="94.6" x2="41" y2="94.6" stroke="#555" stroke-width="0.8"/>
<text x="37.30" y="98.70" font-size="10.7" text-anchor="end" textLength="14.4" lengthAdjust="spacingAndGlyphs">1.5</text>
<g font-family='"Liberation Sans", sans-serif'>
</g>
<defs><linearGradient id="bwr286" x1="0" y1="1" x2="0" y2="0"><stop offset="0" stop-color="#0000ff"/><stop offset="0.5" stop-color="#ffffff"/><stop offset="1" stop-color="#ff0000"/></linearGradient></defs>
<rect x="286.5" y="11" width="15.7" height="312" fill="url(#bwr286)" stroke="#777" stroke-width="0.8"/>
<line x1="302.2" y1="11.00" x2="304.7" y2="11.00" stroke="#555" stroke-width="0.8"/>
<text x="306.50" y="15.10" font-size="10.7" textLength="17.6" lengthAdjust="spacingAndGlyphs">180</text>
<line x1="302.2" y1="45.67" x2="304.7" y2="45.67" stroke="#555" stroke-width="0.8"/>
<text x="306.50" y="49.77" font-size="10.7" textLength="17.6" lengthAdjust="spacingAndGlyphs">160</text>
<line x1="302.2" y1="80.33" x2="304.7" y2="80.33" stroke="#555" stroke-width="0.8"/>
<text x="306.50" y="84.43" font-size="10.7" textLength="17.6" lengthAdjust="spacingAndGlyphs">140</text>
<line x1="302.2" y1="115.00" x2="304.7" y2="115.00" stroke="#555" stroke-width="0.8"/>
<text x="306.50" y="119.10" font-size="10.7" textLength="17.6" lengthAdjust="spacingAndGlyphs">120</text>
<line x1="302.2" y1="149.67" x2="304.7" y2="149.67" stroke="#555" stroke-width="0.8"/>
<text x="306.50" y="153.77" font-size="10.7" textLength="17.6" lengthAdjust="spacingAndGlyphs">100</text>
<line x1="302.2" y1="184.33" x2="304.7" y2="184.33" stroke="#555" stroke-width="0.8"/>
<text x="306.50" y="188.43" font-size="10.7" textLength="11.6" lengthAdjust="spacingAndGlyphs">80</text>
<line x1="302.2" y1="219.00" x2="304.7" y2="219.00" stroke="#555" stroke-width="0.8"/>
<text x="306.50" y="223.10" font-size="10.7" textLength="11.6" lengthAdjust="spacingAndGlyphs">60</text>
<line x1="302.2" y1="253.67" x2="304.7" y2="253.67" stroke="#555" stroke-width="0.8"/>
<text x="306.50" y="257.77" font-size="10.7" textLength="11.6" lengthAdjust="spacingAndGlyphs">40</text>
<line x1="302.2" y1="288.33" x2="304.7" y2="288.33" stroke="#555" stroke-width="0.8"/>
<text x="306.50" y="292.43" font-size="10.7" textLength="11.6" lengthAdjust="spacingAndGlyphs">20</text>
<line x1="302.2" y1="323.00" x2="304.7" y2="323.00" stroke="#555" stroke-width="0.8"/>
<text x="306.50" y="327.10" font-size="10.7" textLength="5.6" lengthAdjust="spacingAndGlyphs">0</text>
<g transform="translate(414,11) scale(4.5294,4.5217)">
<path fill="#0000ff" d="M7 2h1.06v1.06h-1.06zM5 3h1.06v1.06h-1.06zM2 4h1.06v1.06h-1.06zM1 5h1.06v1.06h-1.06zM4 6h1.06v1.06h-1.06zM1 7h1.06v1.06h-1.06zM3 7h1.06v1.06h-1.06zM10 9h1.06v1.06h-1.06zM5 11h1.06v1.06h-1.06zM9 11h1.06v1.06h-1.06zM1 13h1.06v1.06h-1.06zM6 13h1.06v1.06h-1.06zM0 14h1.06v1.06h-1.06zM3 14h1.06v1.06h-1.06zM2 15h1.06v1.06h-1.06zM3 15h1.06v1.06h-1.06zM5 15h1.06v1.06h-1.06zM0 19h1.06v1.06h-1.06zM5 19h1.06v1.06h-1.06zM2 20h1.06v1.06h-1.06zM0 22h1.06v1.06h-1.06zM3 23h1.06v1.06h-1.06zM0 26h1.06v1.06h-1.06zM0 28h1.06v1.06h-1.06zM0 29h1.06v1.06h-1.06zM11 35h1.06v1.06h-1.06zM7 37h1.06v1.06h-1.06zM9 39h1.06v1.06h-1.06zM2 41h1.06v1.06h-1.06zM9 45h1.06v1.06h-1.06zM11 46h1.06v1.06h-1.06zM10 49h1.06v1.06h-1.06zM11 49h1.06v1.06h-1.06zM10 53h1.06v1.06h-1.06zM14 53h1.06v1.06h-1.06zM9 54h1.06v1.06h-1.06zM10 54h1.06v1.06h-1.06zM11 54h1.06v1.06h-1.06zM16 54h1.06v1.06h-1.06zM10 55h1.06v1.06h-1.06zM6 56h1.06v1.06h-1.06zM4 57h1.06v1.06h-1.06zM9 57h1.06v1.06h-1.06zM11 57h1.06v1.06h-1.06zM12 57h1.06v1.06h-1.06zM15 58h1.06v1.06h-1.06zM0 59h1.06v1.06h-1.06zM17 60h1.06v1.06h-1.06zM11 61h1.06v1.06h-1.06zM0 62h1.06v1.06h-1.06zM1 62h1.06v1.06h-1.06zM10 62h1.06v1.06h-1.06zM7 63h1.06v1.06h-1.06zM14 65h1.06v1.06h-1.06zM15 65h1.06v1.06h-1.06zM17 65h1.06v1.06h-1.06zM2 66h1.06v1.06h-1.06zM9 66h1.06v1.06h-1.06zM13 66h1.06v1.06h-1.06zM16 66h1.06v1.06h-1.06zM18 66h1.06v1.06h-1.06zM1 67h1.06v1.06h-1.06zM7 67h1.06v1.06h-1.06zM2 68h1.06v1.06h-1.06zM14 68h1.06v1.06h-1.06zM15 68h1.06v1.06h-1.06z"/>
<path fill="#0909ff" d="M8 4h1.06v1.06h-1.06zM4 15h1.06v1.06h-1.06zM5 28h1.06v1.06h-1.06zM8 48h1.06v1.06h-1.06zM12 52h1.06v1.06h-1.06zM11 56h1.06v1.06h-1.06zM17 62h1.06v1.06h-1.06zM14 63h1.06v1.06h-1.06z"/>
<path fill="#1111ff" d="M9 5h1.06v1.06h-1.06zM3 13h1.06v1.06h-1.06zM2 46h1.06v1.06h-1.06zM6 60h1.06v1.06h-1.06zM10 67h1.06v1.06h-1.06z"/>
<path fill="#1a1aff" d="M6 4h1.06v1.06h-1.06zM8 12h1.06v1.06h-1.06zM10 13h1.06v1.06h-1.06zM2 19h1.06v1.06h-1.06zM2 28h1.06v1.06h-1.06zM3 48h1.06v1.06h-1.06zM14 52h1.06v1.06h-1.06zM15 52h1.06v1.06h-1.06zM12 59h1.06v1.06h-1.06zM47 62h1.06v1.06h-1.06zM19 67h1.06v1.06h-1.06z"/>
<path fill="#2323ff" d="M0 8h1.06v1.06h-1.06zM11 11h1.06v1.06h-1.06zM8 15h1.06v1.06h-1.06zM3 18h1.06v1.06h-1.06zM8 28h1.06v1.06h-1.06zM12 43h1.06v1.06h-1.06zM6 44h1.06v1.06h-1.06zM7 50h1.06v1.06h-1.06zM12 55h1.06v1.06h-1.06zM0 66h1.06v1.06h-1.06z"/>
<path fill="#2b2bff" d="M5 1h1.06v1.06h-1.06zM8 1h1.06v1.06h-1.06zM8 3h1.06v1.06h-1.06zM4 8h1.06v1.06h-1.06zM2 10h1.06v1.06h-1.06zM7 14h1.06v1.06h-1.06zM20 37h1.06v1.06h-1.06zM3 47h1.06v1.06h-1.06zM12 47h1.06v1.06h-1.06zM27 50h1.06v1.06h-1.06zM6 53h1.06v1.06h-1.06zM3 58h1.06v1.06h-1.06zM9 61h1.06v1.06h-1.06z"/>
<path fill="#3434ff" d="M0 9h1.06v1.06h-1.06zM6 45h1.06v1.06h-1.06zM5 47h1.06v1.06h-1.06zM9 52h1.06v1.06h-1.06zM6 54h1.06v1.06h-1.06zM11 65h1.06v1.06h-1.06z"/>
<path fill="#3d3dff" d="M6 0h1.06v1.06h-1.06zM7 0h1.06v1.06h-1.06zM8 6h1.06v1.06h-1.06zM10 10h1.06v1.06h-1.06zM7 16h1.06v1.06h-1.06zM2 17h1.06v1.06h-1.06zM28 21h1.06v1.06h-1.06zM12 34h1.06v1.06h-1.06zM10 41h1.06v1.06h-1.06zM7 43h1.06v1.06h-1.06zM8 46h1.06v1.06h-1.06zM13 61h1.06v1.06h-1.06zM16 62h1.06v1.06h-1.06zM8 66h1.06v1.06h-1.06z"/>
<path fill="#4545ff" d="M6 3h1.06v1.06h-1.06zM2 5h1.06v1.06h-1.06zM0 11h1.06v1.06h-1.06zM0 13h1.06v1.06h-1.06zM11 14h1.06v1.06h-1.06zM8 27h1.06v1.06h-1.06zM3 31h1.06v1.06h-1.06zM1 42h1.06v1.06h-1.06zM4 48h1.06v1.06h-1.06zM12 50h1.06v1.06h-1.06zM13 52h1.06v1.06h-1.06zM18 52h1.06v1.06h-1.06zM0 55h1.06v1.06h-1.06zM4 56h1.06v1.06h-1.06zM4 63h1.06v1.06h-1.06zM8 64h1.06v1.06h-1.06z"/>
<path fill="#4e4eff" d="M11 3h1.06v1.06h-1.06zM3 6h1.06v1.06h-1.06zM4 14h1.06v1.06h-1.06zM9 15h1.06v1.06h-1.06zM1 18h1.06v1.06h-1.06zM5 20h1.06v1.06h-1.06zM9 25h1.06v1.06h-1.06zM9 47h1.06v1.06h-1.06zM10 51h1.06v1.06h-1.06zM16 64h1.06v1.06h-1.06zM12 68h1.06v1.06h-1.06z"/>
<path fill="#5656ff" d="M10 0h1.06v1.06h-1.06zM7 3h1.06v1.06h-1.06zM10 5h1.06v1.06h-1.06zM5 9h1.06v1.06h-1.06zM7 10h1.06v1.06h-1.06zM2 12h1.06v1.06h-1.06zM3 16h1.06v1.06h-1.06zM2 22h1.06v1.06h-1.06zM1 25h1.06v1.06h-1.06zM9 33h1.06v1.06h-1.06zM0 34h1.06v1.06h-1.06zM10 47h1.06v1.06h-1.06zM16 57h1.06v1.06h-1.06zM10 58h1.06v1.06h-1.06zM9 64h1.06v1.06h-1.06zM8 68h1.06v1.06h-1.06z"/>
<path fill="#5f5fff" d="M3 3h1.06v1.06h-1.06zM11 7h1.06v1.06h-1.06zM1 15h1.06v1.06h-1.06zM9 16h1.06v1.06h-1.06zM4 21h1.06v1.06h-1.06zM0 46h1.06v1.06h-1.06zM6 48h1.06v1.06h-1.06zM12 56h1.06v1.06h-1.06zM18 56h1.06v1.06h-1.06zM13 58h1.06v1.06h-1.06zM8 61h1.06v1.06h-1.06zM7 64h1.06v1.06h-1.06z"/>
<path fill="#6868ff" d="M4 0h1.06v1.06h-1.06zM7 4h1.06v1.06h-1.06zM5 5h1.06v1.06h-1.06zM9 10h1.06v1.06h-1.06zM5 16h1.06v1.06h-1.06zM1 28h1.06v1.06h-1.06zM6 29h1.06v1.06h-1.06zM7 39h1.06v1.06h-1.06zM0 40h1.06v1.06h-1.06zM6 42h1.06v1.06h-1.06zM12 42h1.06v1.06h-1.06zM1 54h1.06v1.06h-1.06zM3 55h1.06v1.06h-1.06zM8 56h1.06v1.06h-1.06zM17 56h1.06v1.06h-1.06zM9 62h1.06v1.06h-1.06zM20 63h1.06v1.06h-1.06zM16 67h1.06v1.06h-1.06z"/>
<path fill="#7070ff" d="M9 0h1.06v1.06h-1.06zM2 3h1.06v1.06h-1.06zM4 11h1.06v1.06h-1.06zM7 36h1.06v1.06h-1.06zM12 39h1.06v1.06h-1.06zM7 45h1.06v1.06h-1.06zM6 47h1.06v1.06h-1.06zM5 56h1.06v1.06h-1.06zM14 58h1.06v1.06h-1.06zM16 63h1.06v1.06h-1.06zM10 65h1.06v1.06h-1.06zM3 66h1.06v1.06h-1.06zM6 67h1.06v1.06h-1.06zM9 68h1.06v1.06h-1.06z"/>
<path fill="#7979ff" d="M9 3h1.06v1.06h-1.06zM2 9h1.06v1.06h-1.06zM5 12h1.06v1.06h-1.06zM4 13h1.06v1.06h-1.06zM9 13h1.06v1.06h-1.06zM6 19h1.06v1.06h-1.06zM12 36h1.06v1.06h-1.06zM8 41h1.06v1.06h-1.06zM15 53h1.06v1.06h-1.06zM14 59h1.06v1.06h-1.06zM18 59h1.06v1.06h-1.06zM8 60h1.06v1.06h-1.06zM3 61h1.06v1.06h-1.06zM9 63h1.06v1.06h-1.06zM0 65h1.06v1.06h-1.06zM17 68h1.06v1.06h-1.06z"/>
<path fill="#8282ff" d="M10 8h1.06v1.06h-1.06zM1 14h1.06v1.06h-1.06zM9 14h1.06v1.06h-1.06zM5 32h1.06v1.06h-1.06zM12 38h1.06v1.06h-1.06zM11 51h1.06v1.06h-1.06zM10 52h1.06v1.06h-1.06zM10 61h1.06v1.06h-1.06zM15 61h1.06v1.06h-1.06z"/>
<path fill="#8a8aff" d="M8 7h1.06v1.06h-1.06zM6 16h1.06v1.06h-1.06zM1 33h1.06v1.06h-1.06zM3 35h1.06v1.06h-1.06zM6 35h1.06v1.06h-1.06zM4 43h1.06v1.06h-1.06zM8 49h1.06v1.06h-1.06zM13 56h1.06v1.06h-1.06zM1 60h1.06v1.06h-1.06zM20 61h1.06v1.06h-1.06zM5 62h1.06v1.06h-1.06zM14 62h1.06v1.06h-1.06zM11 63h1.06v1.06h-1.06zM11 64h1.06v1.06h-1.06zM19 65h1.06v1.06h-1.06zM1 68h1.06v1.06h-1.06zM10 68h1.06v1.06h-1.06z"/>
<path fill="#9393ff" d="M11 4h1.06v1.06h-1.06zM1 6h1.06v1.06h-1.06zM6 8h1.06v1.06h-1.06zM11 13h1.06v1.06h-1.06zM2 14h1.06v1.06h-1.06zM0 20h1.06v1.06h-1.06zM5 34h1.06v1.06h-1.06zM10 36h1.06v1.06h-1.06zM11 37h1.06v1.06h-1.06zM11 38h1.06v1.06h-1.06zM1 39h1.06v1.06h-1.06zM0 42h1.06v1.06h-1.06zM9 44h1.06v1.06h-1.06zM10 46h1.06v1.06h-1.06zM9 50h1.06v1.06h-1.06zM7 51h1.06v1.06h-1.06zM17 52h1.06v1.06h-1.06zM19 52h1.06v1.06h-1.06zM4 54h1.06v1.06h-1.06zM15 60h1.06v1.06h-1.06zM4 65h1.06v1.06h-1.06zM8 67h1.06v1.06h-1.06z"/>
<path fill="#9c9cff" d="M10 2h1.06v1.06h-1.06zM0 7h1.06v1.06h-1.06zM8 8h1.06v1.06h-1.06zM6 11h1.06v1.06h-1.06zM1 20h1.06v1.06h-1.06zM7 29h1.06v1.06h-1.06zM5 30h1.06v1.06h-1.06zM6 31h1.06v1.06h-1.06zM5 41h1.06v1.06h-1.06zM0 52h1.06v1.06h-1.06zM13 53h1.06v1.06h-1.06zM16 53h1.06v1.06h-1.06zM11 55h1.06v1.06h-1.06zM15 59h1.06v1.06h-1.06zM2 64h1.06v1.06h-1.06zM11 66h1.06v1.06h-1.06zM0 67h1.06v1.06h-1.06zM13 67h1.06v1.06h-1.06zM3 68h1.06v1.06h-1.06zM11 68h1.06v1.06h-1.06zM18 68h1.06v1.06h-1.06z"/>
<path fill="#a4a4ff" d="M3 9h1.06v1.06h-1.06zM4 9h1.06v1.06h-1.06zM2 16h1.06v1.06h-1.06zM7 17h1.06v1.06h-1.06zM5 22h1.06v1.06h-1.06zM6 24h1.06v1.06h-1.06zM8 29h1.06v1.06h-1.06zM8 32h1.06v1.06h-1.06zM7 33h1.06v1.06h-1.06zM4 34h1.06v1.06h-1.06zM5 37h1.06v1.06h-1.06zM0 48h1.06v1.06h-1.06zM1 51h1.06v1.06h-1.06zM12 54h1.06v1.06h-1.06zM2 60h1.06v1.06h-1.06zM3 60h1.06v1.06h-1.06zM4 64h1.06v1.06h-1.06zM1 66h1.06v1.06h-1.06zM14 66h1.06v1.06h-1.06zM12 67h1.06v1.06h-1.06z"/>
<path fill="#adadff" d="M11 0h1.06v1.06h-1.06zM3 2h1.06v1.06h-1.06zM3 4h1.06v1.06h-1.06zM11 6h1.06v1.06h-1.06zM2 7h1.06v1.06h-1.06zM8 10h1.06v1.06h-1.06zM7 15h1.06v1.06h-1.06zM22 27h1.06v1.06h-1.06zM2 31h1.06v1.06h-1.06zM0 32h1.06v1.06h-1.06zM1 32h1.06v1.06h-1.06zM3 34h1.06v1.06h-1.06zM9 36h1.06v1.06h-1.06zM9 38h1.06v1.06h-1.06zM7 44h1.06v1.06h-1.06zM5 51h1.06v1.06h-1.06zM7 55h1.06v1.06h-1.06zM14 56h1.06v1.06h-1.06zM1 57h1.06v1.06h-1.06zM5 59h1.06v1.06h-1.06zM6 63h1.06v1.06h-1.06zM6 64h1.06v1.06h-1.06zM49 65h1.06v1.06h-1.06z"/>
<path fill="#b6b6ff" d="M5 0h1.06v1.06h-1.06zM8 2h1.06v1.06h-1.06zM5 6h1.06v1.06h-1.06zM7 7h1.06v1.06h-1.06zM10 11h1.06v1.06h-1.06zM1 12h1.06v1.06h-1.06zM6 12h1.06v1.06h-1.06zM12 13h1.06v1.06h-1.06zM5 25h1.06v1.06h-1.06zM1 27h1.06v1.06h-1.06zM6 27h1.06v1.06h-1.06zM9 27h1.06v1.06h-1.06zM0 31h1.06v1.06h-1.06zM13 39h1.06v1.06h-1.06zM11 40h1.06v1.06h-1.06zM7 42h1.06v1.06h-1.06zM5 46h1.06v1.06h-1.06zM18 53h1.06v1.06h-1.06zM18 54h1.06v1.06h-1.06zM2 56h1.06v1.06h-1.06zM19 56h1.06v1.06h-1.06zM19 59h1.06v1.06h-1.06zM0 68h1.06v1.06h-1.06z"/>
<path fill="#bebeff" d="M0 1h1.06v1.06h-1.06zM5 4h1.06v1.06h-1.06zM1 10h1.06v1.06h-1.06zM1 11h1.06v1.06h-1.06zM3 11h1.06v1.06h-1.06zM11 12h1.06v1.06h-1.06zM8 14h1.06v1.06h-1.06zM10 24h1.06v1.06h-1.06zM4 27h1.06v1.06h-1.06zM8 33h1.06v1.06h-1.06zM10 35h1.06v1.06h-1.06zM4 36h1.06v1.06h-1.06zM12 37h1.06v1.06h-1.06zM14 37h1.06v1.06h-1.06zM5 38h1.06v1.06h-1.06zM1 41h1.06v1.06h-1.06zM8 44h1.06v1.06h-1.06zM11 47h1.06v1.06h-1.06zM11 52h1.06v1.06h-1.06zM3 56h1.06v1.06h-1.06zM15 57h1.06v1.06h-1.06zM4 58h1.06v1.06h-1.06zM7 59h1.06v1.06h-1.06zM6 61h1.06v1.06h-1.06zM5 64h1.06v1.06h-1.06zM1 65h1.06v1.06h-1.06z"/>
<path fill="#c7c7ff" d="M11 1h1.06v1.06h-1.06zM10 6h1.06v1.06h-1.06zM12 6h1.06v1.06h-1.06zM2 11h1.06v1.06h-1.06zM0 15h1.06v1.06h-1.06zM12 15h1.06v1.06h-1.06zM1 16h1.06v1.06h-1.06zM9 17h1.06v1.06h-1.06zM4 20h1.06v1.06h-1.06zM1 23h1.06v1.06h-1.06zM0 24h1.06v1.06h-1.06zM10 27h1.06v1.06h-1.06zM13 36h1.06v1.06h-1.06zM13 37h1.06v1.06h-1.06zM19 37h1.06v1.06h-1.06zM11 48h1.06v1.06h-1.06zM13 50h1.06v1.06h-1.06zM46 52h1.06v1.06h-1.06zM15 55h1.06v1.06h-1.06zM6 58h1.06v1.06h-1.06zM5 60h1.06v1.06h-1.06zM20 60h1.06v1.06h-1.06zM18 61h1.06v1.06h-1.06zM1 64h1.06v1.06h-1.06zM13 64h1.06v1.06h-1.06zM19 64h1.06v1.06h-1.06zM7 66h1.06v1.06h-1.06zM9 67h1.06v1.06h-1.06zM17 67h1.06v1.06h-1.06z"/>
<path fill="#cfcfff" d="M5 2h1.06v1.06h-1.06zM6 2h1.06v1.06h-1.06zM4 4h1.06v1.06h-1.06zM6 6h1.06v1.06h-1.06zM10 7h1.06v1.06h-1.06zM12 8h1.06v1.06h-1.06zM4 10h1.06v1.06h-1.06zM6 14h1.06v1.06h-1.06zM4 16h1.06v1.06h-1.06zM8 16h1.06v1.06h-1.06zM3 22h1.06v1.06h-1.06zM12 27h1.06v1.06h-1.06zM5 29h1.06v1.06h-1.06zM5 31h1.06v1.06h-1.06zM2 35h1.06v1.06h-1.06zM16 37h1.06v1.06h-1.06zM9 49h1.06v1.06h-1.06zM3 53h1.06v1.06h-1.06zM16 55h1.06v1.06h-1.06zM4 59h1.06v1.06h-1.06zM11 59h1.06v1.06h-1.06zM14 60h1.06v1.06h-1.06zM7 61h1.06v1.06h-1.06zM6 62h1.06v1.06h-1.06zM12 65h1.06v1.06h-1.06zM10 66h1.06v1.06h-1.06zM11 67h1.06v1.06h-1.06z"/>
<path fill="#d8d8ff" d="M9 2h1.06v1.06h-1.06zM12 2h1.06v1.06h-1.06zM7 5h1.06v1.06h-1.06zM13 10h1.06v1.06h-1.06zM8 11h1.06v1.06h-1.06zM6 18h1.06v1.06h-1.06zM7 23h1.06v1.06h-1.06zM9 23h1.06v1.06h-1.06zM2 29h1.06v1.06h-1.06zM16 35h1.06v1.06h-1.06zM10 37h1.06v1.06h-1.06zM10 39h1.06v1.06h-1.06zM7 40h1.06v1.06h-1.06zM12 40h1.06v1.06h-1.06zM0 41h1.06v1.06h-1.06zM2 45h1.06v1.06h-1.06zM12 45h1.06v1.06h-1.06zM6 49h1.06v1.06h-1.06zM14 50h1.06v1.06h-1.06zM14 51h1.06v1.06h-1.06zM11 53h1.06v1.06h-1.06zM10 56h1.06v1.06h-1.06zM16 58h1.06v1.06h-1.06zM2 62h1.06v1.06h-1.06zM7 62h1.06v1.06h-1.06zM12 64h1.06v1.06h-1.06zM5 68h1.06v1.06h-1.06zM13 68h1.06v1.06h-1.06z"/>
<path fill="#e1e1ff" d="M11 2h1.06v1.06h-1.06zM12 4h1.06v1.06h-1.06zM0 5h1.06v1.06h-1.06zM0 6h1.06v1.06h-1.06zM9 7h1.06v1.06h-1.06zM0 16h1.06v1.06h-1.06zM12 16h1.06v1.06h-1.06zM13 22h1.06v1.06h-1.06zM11 24h1.06v1.06h-1.06zM3 27h1.06v1.06h-1.06zM13 27h1.06v1.06h-1.06zM1 31h1.06v1.06h-1.06zM12 32h1.06v1.06h-1.06zM8 34h1.06v1.06h-1.06zM16 34h1.06v1.06h-1.06zM14 38h1.06v1.06h-1.06zM9 40h1.06v1.06h-1.06zM13 43h1.06v1.06h-1.06zM14 49h1.06v1.06h-1.06zM19 55h1.06v1.06h-1.06zM0 60h1.06v1.06h-1.06zM2 61h1.06v1.06h-1.06zM4 61h1.06v1.06h-1.06zM18 64h1.06v1.06h-1.06zM15 67h1.06v1.06h-1.06z"/>
<path fill="#e9e9ff" d="M12 3h1.06v1.06h-1.06zM15 3h1.06v1.06h-1.06zM4 5h1.06v1.06h-1.06zM12 5h1.06v1.06h-1.06zM5 7h1.06v1.06h-1.06zM12 7h1.06v1.06h-1.06zM2 8h1.06v1.06h-1.06zM1 9h1.06v1.06h-1.06zM14 14h1.06v1.06h-1.06zM14 15h1.06v1.06h-1.06zM13 17h1.06v1.06h-1.06zM9 21h1.06v1.06h-1.06zM7 22h1.06v1.06h-1.06zM0 23h1.06v1.06h-1.06zM13 26h1.06v1.06h-1.06zM4 31h1.06v1.06h-1.06zM13 32h1.06v1.06h-1.06zM13 33h1.06v1.06h-1.06zM15 35h1.06v1.06h-1.06zM4 37h1.06v1.06h-1.06zM8 38h1.06v1.06h-1.06zM0 39h1.06v1.06h-1.06zM3 40h1.06v1.06h-1.06zM10 40h1.06v1.06h-1.06zM14 40h1.06v1.06h-1.06zM11 45h1.06v1.06h-1.06zM8 50h1.06v1.06h-1.06zM17 51h1.06v1.06h-1.06zM5 53h1.06v1.06h-1.06zM17 53h1.06v1.06h-1.06zM20 53h1.06v1.06h-1.06zM13 54h1.06v1.06h-1.06zM14 54h1.06v1.06h-1.06zM15 54h1.06v1.06h-1.06zM7 57h1.06v1.06h-1.06zM20 59h1.06v1.06h-1.06zM12 60h1.06v1.06h-1.06zM19 61h1.06v1.06h-1.06zM4 67h1.06v1.06h-1.06z"/>
<path fill="#f2f2ff" d="M4 1h1.06v1.06h-1.06zM14 1h1.06v1.06h-1.06zM13 3h1.06v1.06h-1.06zM13 4h1.06v1.06h-1.06zM9 9h1.06v1.06h-1.06zM12 9h1.06v1.06h-1.06zM12 10h1.06v1.06h-1.06zM4 12h1.06v1.06h-1.06zM12 14h1.06v1.06h-1.06zM13 14h1.06v1.06h-1.06zM13 15h1.06v1.06h-1.06zM15 15h1.06v1.06h-1.06zM14 16h1.06v1.06h-1.06zM0 18h1.06v1.06h-1.06zM3 19h1.06v1.06h-1.06zM14 20h1.06v1.06h-1.06zM14 24h1.06v1.06h-1.06zM17 24h1.06v1.06h-1.06zM11 25h1.06v1.06h-1.06zM11 26h1.06v1.06h-1.06zM4 28h1.06v1.06h-1.06zM12 29h1.06v1.06h-1.06zM15 29h1.06v1.06h-1.06zM14 30h1.06v1.06h-1.06zM17 30h1.06v1.06h-1.06zM3 36h1.06v1.06h-1.06zM7 38h1.06v1.06h-1.06zM13 38h1.06v1.06h-1.06zM15 39h1.06v1.06h-1.06zM6 41h1.06v1.06h-1.06zM11 42h1.06v1.06h-1.06zM10 45h1.06v1.06h-1.06zM14 45h1.06v1.06h-1.06zM16 47h1.06v1.06h-1.06zM15 50h1.06v1.06h-1.06zM15 51h1.06v1.06h-1.06zM10 57h1.06v1.06h-1.06zM0 58h1.06v1.06h-1.06zM18 60h1.06v1.06h-1.06zM8 63h1.06v1.06h-1.06z"/>
<path fill="#fbfbff" d="M13 0h1.06v1.06h-1.06zM7 1h1.06v1.06h-1.06zM11 5h1.06v1.06h-1.06zM16 7h1.06v1.06h-1.06zM3 8h1.06v1.06h-1.06zM13 9h1.06v1.06h-1.06zM0 10h1.06v1.06h-1.06zM14 11h1.06v1.06h-1.06zM11 17h1.06v1.06h-1.06zM14 19h1.06v1.06h-1.06zM6 20h1.06v1.06h-1.06zM13 20h1.06v1.06h-1.06zM13 21h1.06v1.06h-1.06zM9 22h1.06v1.06h-1.06zM10 22h1.06v1.06h-1.06zM14 22h1.06v1.06h-1.06zM13 24h1.06v1.06h-1.06zM6 25h1.06v1.06h-1.06zM12 26h1.06v1.06h-1.06zM16 26h1.06v1.06h-1.06zM11 28h1.06v1.06h-1.06zM13 28h1.06v1.06h-1.06zM11 29h1.06v1.06h-1.06zM16 29h1.06v1.06h-1.06zM12 30h1.06v1.06h-1.06zM15 31h1.06v1.06h-1.06zM14 32h1.06v1.06h-1.06zM16 32h1.06v1.06h-1.06zM13 34h1.06v1.06h-1.06zM14 34h1.06v1.06h-1.06zM15 34h1.06v1.06h-1.06zM15 36h1.06v1.06h-1.06zM15 37h1.06v1.06h-1.06zM10 38h1.06v1.06h-1.06zM9 41h1.06v1.06h-1.06zM15 44h1.06v1.06h-1.06zM19 44h1.06v1.06h-1.06zM16 46h1.06v1.06h-1.06zM16 49h1.06v1.06h-1.06zM18 49h1.06v1.06h-1.06zM16 50h1.06v1.06h-1.06zM7 54h1.06v1.06h-1.06zM1 59h1.06v1.06h-1.06zM4 60h1.06v1.06h-1.06zM10 60h1.06v1.06h-1.06zM0 61h1.06v1.06h-1.06zM19 62h1.06v1.06h-1.06zM7 65h1.06v1.06h-1.06z"/>
<path fill="#fffbfb" d="M12 0h1.06v1.06h-1.06zM9 1h1.06v1.06h-1.06zM0 2h1.06v1.06h-1.06zM14 3h1.06v1.06h-1.06zM9 4h1.06v1.06h-1.06zM14 4h1.06v1.06h-1.06zM6 5h1.06v1.06h-1.06zM13 5h1.06v1.06h-1.06zM7 8h1.06v1.06h-1.06zM13 8h1.06v1.06h-1.06zM13 11h1.06v1.06h-1.06zM12 12h1.06v1.06h-1.06zM14 13h1.06v1.06h-1.06zM15 13h1.06v1.06h-1.06zM11 16h1.06v1.06h-1.06zM18 16h1.06v1.06h-1.06zM8 17h1.06v1.06h-1.06zM10 18h1.06v1.06h-1.06zM14 18h1.06v1.06h-1.06zM12 22h1.06v1.06h-1.06zM6 23h1.06v1.06h-1.06zM16 24h1.06v1.06h-1.06zM12 25h1.06v1.06h-1.06zM15 26h1.06v1.06h-1.06zM3 28h1.06v1.06h-1.06zM3 29h1.06v1.06h-1.06zM13 29h1.06v1.06h-1.06zM14 29h1.06v1.06h-1.06zM15 30h1.06v1.06h-1.06zM2 32h1.06v1.06h-1.06zM4 32h1.06v1.06h-1.06zM10 33h1.06v1.06h-1.06zM11 33h1.06v1.06h-1.06zM18 33h1.06v1.06h-1.06zM14 35h1.06v1.06h-1.06zM16 36h1.06v1.06h-1.06zM9 37h1.06v1.06h-1.06zM5 39h1.06v1.06h-1.06zM11 39h1.06v1.06h-1.06zM15 40h1.06v1.06h-1.06zM13 44h1.06v1.06h-1.06zM16 45h1.06v1.06h-1.06zM14 47h1.06v1.06h-1.06zM9 48h1.06v1.06h-1.06zM13 48h1.06v1.06h-1.06zM7 49h1.06v1.06h-1.06zM12 49h1.06v1.06h-1.06zM13 49h1.06v1.06h-1.06zM19 50h1.06v1.06h-1.06zM13 51h1.06v1.06h-1.06zM16 51h1.06v1.06h-1.06zM8 54h1.06v1.06h-1.06zM18 62h1.06v1.06h-1.06zM9 65h1.06v1.06h-1.06zM16 65h1.06v1.06h-1.06zM19 66h1.06v1.06h-1.06zM18 67h1.06v1.06h-1.06zM7 68h1.06v1.06h-1.06zM16 68h1.06v1.06h-1.06z"/>
<path fill="#fff2f2" d="M14 0h1.06v1.06h-1.06zM12 1h1.06v1.06h-1.06zM16 2h1.06v1.06h-1.06zM15 4h1.06v1.06h-1.06zM15 5h1.06v1.06h-1.06zM13 6h1.06v1.06h-1.06zM13 7h1.06v1.06h-1.06zM15 7h1.06v1.06h-1.06zM1 8h1.06v1.06h-1.06zM11 8h1.06v1.06h-1.06zM14 8h1.06v1.06h-1.06zM6 9h1.06v1.06h-1.06zM14 9h1.06v1.06h-1.06zM3 10h1.06v1.06h-1.06zM0 12h1.06v1.06h-1.06zM10 12h1.06v1.06h-1.06zM13 13h1.06v1.06h-1.06zM16 13h1.06v1.06h-1.06zM5 14h1.06v1.06h-1.06zM17 14h1.06v1.06h-1.06zM11 15h1.06v1.06h-1.06zM12 17h1.06v1.06h-1.06zM14 17h1.06v1.06h-1.06zM15 17h1.06v1.06h-1.06zM15 19h1.06v1.06h-1.06zM2 21h1.06v1.06h-1.06zM11 21h1.06v1.06h-1.06zM14 21h1.06v1.06h-1.06zM15 21h1.06v1.06h-1.06zM12 23h1.06v1.06h-1.06zM12 24h1.06v1.06h-1.06zM10 25h1.06v1.06h-1.06zM13 25h1.06v1.06h-1.06zM14 25h1.06v1.06h-1.06zM6 26h1.06v1.06h-1.06zM0 27h1.06v1.06h-1.06zM14 27h1.06v1.06h-1.06zM15 27h1.06v1.06h-1.06zM12 28h1.06v1.06h-1.06zM15 28h1.06v1.06h-1.06zM10 31h1.06v1.06h-1.06zM11 31h1.06v1.06h-1.06zM14 31h1.06v1.06h-1.06zM16 31h1.06v1.06h-1.06zM3 32h1.06v1.06h-1.06zM11 32h1.06v1.06h-1.06zM0 33h1.06v1.06h-1.06zM15 33h1.06v1.06h-1.06zM18 34h1.06v1.06h-1.06zM9 35h1.06v1.06h-1.06zM5 36h1.06v1.06h-1.06zM14 36h1.06v1.06h-1.06zM2 40h1.06v1.06h-1.06zM10 44h1.06v1.06h-1.06zM13 45h1.06v1.06h-1.06zM17 45h1.06v1.06h-1.06zM10 48h1.06v1.06h-1.06zM15 49h1.06v1.06h-1.06zM18 51h1.06v1.06h-1.06zM19 51h1.06v1.06h-1.06zM6 52h1.06v1.06h-1.06zM16 52h1.06v1.06h-1.06zM3 54h1.06v1.06h-1.06zM18 57h1.06v1.06h-1.06zM12 58h1.06v1.06h-1.06zM8 59h1.06v1.06h-1.06zM21 64h1.06v1.06h-1.06zM6 66h1.06v1.06h-1.06z"/>
<path fill="#ffe9e9" d="M41 0h1.06v1.06h-1.06zM13 1h1.06v1.06h-1.06zM15 1h1.06v1.06h-1.06zM47 1h1.06v1.06h-1.06zM4 2h1.06v1.06h-1.06zM14 2h1.06v1.06h-1.06zM17 2h1.06v1.06h-1.06zM16 4h1.06v1.06h-1.06zM14 6h1.06v1.06h-1.06zM17 6h1.06v1.06h-1.06zM11 9h1.06v1.06h-1.06zM5 10h1.06v1.06h-1.06zM12 11h1.06v1.06h-1.06zM14 12h1.06v1.06h-1.06zM10 14h1.06v1.06h-1.06zM38 16h1.06v1.06h-1.06zM5 17h1.06v1.06h-1.06zM16 17h1.06v1.06h-1.06zM12 18h1.06v1.06h-1.06zM3 20h1.06v1.06h-1.06zM15 20h1.06v1.06h-1.06zM6 21h1.06v1.06h-1.06zM12 21h1.06v1.06h-1.06zM16 22h1.06v1.06h-1.06zM13 23h1.06v1.06h-1.06zM14 23h1.06v1.06h-1.06zM15 25h1.06v1.06h-1.06zM16 25h1.06v1.06h-1.06zM17 25h1.06v1.06h-1.06zM14 26h1.06v1.06h-1.06zM11 27h1.06v1.06h-1.06zM14 28h1.06v1.06h-1.06zM16 28h1.06v1.06h-1.06zM19 30h1.06v1.06h-1.06zM12 31h1.06v1.06h-1.06zM12 33h1.06v1.06h-1.06zM17 34h1.06v1.06h-1.06zM13 35h1.06v1.06h-1.06zM3 38h1.06v1.06h-1.06zM15 38h1.06v1.06h-1.06zM8 40h1.06v1.06h-1.06zM16 40h1.06v1.06h-1.06zM17 41h1.06v1.06h-1.06zM4 42h1.06v1.06h-1.06zM10 42h1.06v1.06h-1.06zM2 47h1.06v1.06h-1.06zM17 48h1.06v1.06h-1.06zM9 55h1.06v1.06h-1.06zM20 55h1.06v1.06h-1.06zM16 56h1.06v1.06h-1.06zM21 57h1.06v1.06h-1.06zM21 59h1.06v1.06h-1.06zM11 60h1.06v1.06h-1.06zM17 66h1.06v1.06h-1.06z"/>
<path fill="#ffe1e1" d="M38 0h1.06v1.06h-1.06zM18 4h1.06v1.06h-1.06zM19 4h1.06v1.06h-1.06zM39 4h1.06v1.06h-1.06zM44 4h1.06v1.06h-1.06zM43 5h1.06v1.06h-1.06zM7 6h1.06v1.06h-1.06zM6 7h1.06v1.06h-1.06zM44 8h1.06v1.06h-1.06zM16 9h1.06v1.06h-1.06zM14 10h1.06v1.06h-1.06zM15 10h1.06v1.06h-1.06zM16 11h1.06v1.06h-1.06zM13 12h1.06v1.06h-1.06zM15 12h1.06v1.06h-1.06zM45 15h1.06v1.06h-1.06zM10 16h1.06v1.06h-1.06zM13 18h1.06v1.06h-1.06zM16 18h1.06v1.06h-1.06zM18 19h1.06v1.06h-1.06zM11 20h1.06v1.06h-1.06zM12 20h1.06v1.06h-1.06zM17 20h1.06v1.06h-1.06zM16 21h1.06v1.06h-1.06zM15 23h1.06v1.06h-1.06zM19 23h1.06v1.06h-1.06zM15 24h1.06v1.06h-1.06zM2 26h1.06v1.06h-1.06zM8 26h1.06v1.06h-1.06zM19 29h1.06v1.06h-1.06zM1 30h1.06v1.06h-1.06zM11 30h1.06v1.06h-1.06zM17 32h1.06v1.06h-1.06zM18 32h1.06v1.06h-1.06zM7 35h1.06v1.06h-1.06zM17 35h1.06v1.06h-1.06zM17 36h1.06v1.06h-1.06zM16 38h1.06v1.06h-1.06zM17 38h1.06v1.06h-1.06zM14 39h1.06v1.06h-1.06zM5 40h1.06v1.06h-1.06zM11 41h1.06v1.06h-1.06zM5 42h1.06v1.06h-1.06zM13 42h1.06v1.06h-1.06zM10 43h1.06v1.06h-1.06zM4 46h1.06v1.06h-1.06zM8 47h1.06v1.06h-1.06zM13 47h1.06v1.06h-1.06zM18 48h1.06v1.06h-1.06zM17 50h1.06v1.06h-1.06zM4 53h1.06v1.06h-1.06zM8 53h1.06v1.06h-1.06zM17 54h1.06v1.06h-1.06zM2 55h1.06v1.06h-1.06zM9 58h1.06v1.06h-1.06zM19 60h1.06v1.06h-1.06zM12 63h1.06v1.06h-1.06zM19 63h1.06v1.06h-1.06zM3 64h1.06v1.06h-1.06zM17 64h1.06v1.06h-1.06zM14 67h1.06v1.06h-1.06z"/>
<path fill="#ffd8d8" d="M40 0h1.06v1.06h-1.06zM3 1h1.06v1.06h-1.06zM16 1h1.06v1.06h-1.06zM13 2h1.06v1.06h-1.06zM47 2h1.06v1.06h-1.06zM48 2h1.06v1.06h-1.06zM17 3h1.06v1.06h-1.06zM44 3h1.06v1.06h-1.06zM48 3h1.06v1.06h-1.06zM0 4h1.06v1.06h-1.06zM3 5h1.06v1.06h-1.06zM16 5h1.06v1.06h-1.06zM17 5h1.06v1.06h-1.06zM48 5h1.06v1.06h-1.06zM16 6h1.06v1.06h-1.06zM38 6h1.06v1.06h-1.06zM14 7h1.06v1.06h-1.06zM49 7h1.06v1.06h-1.06zM16 8h1.06v1.06h-1.06zM17 8h1.06v1.06h-1.06zM18 9h1.06v1.06h-1.06zM18 12h1.06v1.06h-1.06zM5 13h1.06v1.06h-1.06zM46 13h1.06v1.06h-1.06zM15 14h1.06v1.06h-1.06zM39 14h1.06v1.06h-1.06zM16 15h1.06v1.06h-1.06zM49 15h1.06v1.06h-1.06zM13 16h1.06v1.06h-1.06zM15 16h1.06v1.06h-1.06zM17 17h1.06v1.06h-1.06zM18 17h1.06v1.06h-1.06zM15 18h1.06v1.06h-1.06zM49 18h1.06v1.06h-1.06zM11 19h1.06v1.06h-1.06zM12 19h1.06v1.06h-1.06zM0 21h1.06v1.06h-1.06zM3 21h1.06v1.06h-1.06zM7 21h1.06v1.06h-1.06zM10 21h1.06v1.06h-1.06zM15 22h1.06v1.06h-1.06zM10 23h1.06v1.06h-1.06zM46 24h1.06v1.06h-1.06zM19 25h1.06v1.06h-1.06zM3 26h1.06v1.06h-1.06zM43 26h1.06v1.06h-1.06zM2 27h1.06v1.06h-1.06zM9 28h1.06v1.06h-1.06zM10 28h1.06v1.06h-1.06zM17 28h1.06v1.06h-1.06zM4 29h1.06v1.06h-1.06zM0 30h1.06v1.06h-1.06zM6 30h1.06v1.06h-1.06zM38 30h1.06v1.06h-1.06zM13 31h1.06v1.06h-1.06zM10 32h1.06v1.06h-1.06zM7 34h1.06v1.06h-1.06zM16 43h1.06v1.06h-1.06zM12 44h1.06v1.06h-1.06zM15 45h1.06v1.06h-1.06zM15 46h1.06v1.06h-1.06zM18 47h1.06v1.06h-1.06zM14 48h1.06v1.06h-1.06zM6 50h1.06v1.06h-1.06zM5 52h1.06v1.06h-1.06zM20 52h1.06v1.06h-1.06zM0 56h1.06v1.06h-1.06zM9 56h1.06v1.06h-1.06zM5 58h1.06v1.06h-1.06zM9 59h1.06v1.06h-1.06zM3 62h1.06v1.06h-1.06zM8 62h1.06v1.06h-1.06zM1 63h1.06v1.06h-1.06z"/>
<path fill="#ffcfcf" d="M1 0h1.06v1.06h-1.06zM8 0h1.06v1.06h-1.06zM15 0h1.06v1.06h-1.06zM16 0h1.06v1.06h-1.06zM35 0h1.06v1.06h-1.06zM45 0h1.06v1.06h-1.06zM19 1h1.06v1.06h-1.06zM39 2h1.06v1.06h-1.06zM42 2h1.06v1.06h-1.06zM46 2h1.06v1.06h-1.06zM4 3h1.06v1.06h-1.06zM16 3h1.06v1.06h-1.06zM50 3h1.06v1.06h-1.06zM17 4h1.06v1.06h-1.06zM18 5h1.06v1.06h-1.06zM44 5h1.06v1.06h-1.06zM47 5h1.06v1.06h-1.06zM50 5h1.06v1.06h-1.06zM48 6h1.06v1.06h-1.06zM49 6h1.06v1.06h-1.06zM18 7h1.06v1.06h-1.06zM37 7h1.06v1.06h-1.06zM36 9h1.06v1.06h-1.06zM42 9h1.06v1.06h-1.06zM45 9h1.06v1.06h-1.06zM49 9h1.06v1.06h-1.06zM37 10h1.06v1.06h-1.06zM15 11h1.06v1.06h-1.06zM19 11h1.06v1.06h-1.06zM36 11h1.06v1.06h-1.06zM37 12h1.06v1.06h-1.06zM47 12h1.06v1.06h-1.06zM8 13h1.06v1.06h-1.06zM41 13h1.06v1.06h-1.06zM47 13h1.06v1.06h-1.06zM16 14h1.06v1.06h-1.06zM41 15h1.06v1.06h-1.06zM50 15h1.06v1.06h-1.06zM37 16h1.06v1.06h-1.06zM10 17h1.06v1.06h-1.06zM41 17h1.06v1.06h-1.06zM49 17h1.06v1.06h-1.06zM11 18h1.06v1.06h-1.06zM17 18h1.06v1.06h-1.06zM13 19h1.06v1.06h-1.06zM16 19h1.06v1.06h-1.06zM38 19h1.06v1.06h-1.06zM50 19h1.06v1.06h-1.06zM16 20h1.06v1.06h-1.06zM18 20h1.06v1.06h-1.06zM17 21h1.06v1.06h-1.06zM50 21h1.06v1.06h-1.06zM11 22h1.06v1.06h-1.06zM11 23h1.06v1.06h-1.06zM16 23h1.06v1.06h-1.06zM17 23h1.06v1.06h-1.06zM1 24h1.06v1.06h-1.06zM18 24h1.06v1.06h-1.06zM3 25h1.06v1.06h-1.06zM18 25h1.06v1.06h-1.06zM46 26h1.06v1.06h-1.06zM50 26h1.06v1.06h-1.06zM49 27h1.06v1.06h-1.06zM38 28h1.06v1.06h-1.06zM48 28h1.06v1.06h-1.06zM1 29h1.06v1.06h-1.06zM40 29h1.06v1.06h-1.06zM47 29h1.06v1.06h-1.06zM10 30h1.06v1.06h-1.06zM13 30h1.06v1.06h-1.06zM18 30h1.06v1.06h-1.06zM41 30h1.06v1.06h-1.06zM7 31h1.06v1.06h-1.06zM15 32h1.06v1.06h-1.06zM39 32h1.06v1.06h-1.06zM41 32h1.06v1.06h-1.06zM43 32h1.06v1.06h-1.06zM18 35h1.06v1.06h-1.06zM49 35h1.06v1.06h-1.06zM18 38h1.06v1.06h-1.06zM4 39h1.06v1.06h-1.06zM18 39h1.06v1.06h-1.06zM3 41h1.06v1.06h-1.06zM15 41h1.06v1.06h-1.06zM14 42h1.06v1.06h-1.06zM19 42h1.06v1.06h-1.06zM19 43h1.06v1.06h-1.06zM11 44h1.06v1.06h-1.06zM4 45h1.06v1.06h-1.06zM19 45h1.06v1.06h-1.06zM7 46h1.06v1.06h-1.06zM2 53h1.06v1.06h-1.06zM15 56h1.06v1.06h-1.06zM21 58h1.06v1.06h-1.06zM1 61h1.06v1.06h-1.06z"/>
<path fill="#ffc7c7" d="M17 0h1.06v1.06h-1.06zM42 0h1.06v1.06h-1.06zM43 0h1.06v1.06h-1.06zM35 1h1.06v1.06h-1.06zM45 1h1.06v1.06h-1.06zM15 2h1.06v1.06h-1.06zM19 2h1.06v1.06h-1.06zM40 2h1.06v1.06h-1.06zM49 2h1.06v1.06h-1.06zM18 3h1.06v1.06h-1.06zM40 3h1.06v1.06h-1.06zM47 3h1.06v1.06h-1.06zM10 4h1.06v1.06h-1.06zM37 4h1.06v1.06h-1.06zM47 4h1.06v1.06h-1.06zM14 5h1.06v1.06h-1.06zM40 5h1.06v1.06h-1.06zM41 5h1.06v1.06h-1.06zM46 5h1.06v1.06h-1.06zM49 5h1.06v1.06h-1.06zM37 6h1.06v1.06h-1.06zM17 7h1.06v1.06h-1.06zM39 7h1.06v1.06h-1.06zM44 7h1.06v1.06h-1.06zM15 8h1.06v1.06h-1.06zM19 8h1.06v1.06h-1.06zM40 8h1.06v1.06h-1.06zM41 8h1.06v1.06h-1.06zM42 8h1.06v1.06h-1.06zM15 9h1.06v1.06h-1.06zM19 9h1.06v1.06h-1.06zM43 9h1.06v1.06h-1.06zM48 9h1.06v1.06h-1.06zM17 10h1.06v1.06h-1.06zM18 10h1.06v1.06h-1.06zM39 10h1.06v1.06h-1.06zM18 11h1.06v1.06h-1.06zM39 11h1.06v1.06h-1.06zM41 11h1.06v1.06h-1.06zM45 11h1.06v1.06h-1.06zM46 11h1.06v1.06h-1.06zM50 11h1.06v1.06h-1.06zM46 12h1.06v1.06h-1.06zM7 13h1.06v1.06h-1.06zM17 13h1.06v1.06h-1.06zM19 13h1.06v1.06h-1.06zM45 13h1.06v1.06h-1.06zM48 13h1.06v1.06h-1.06zM50 13h1.06v1.06h-1.06zM19 14h1.06v1.06h-1.06zM36 14h1.06v1.06h-1.06zM44 14h1.06v1.06h-1.06zM50 14h1.06v1.06h-1.06zM37 15h1.06v1.06h-1.06zM16 16h1.06v1.06h-1.06zM42 16h1.06v1.06h-1.06zM47 16h1.06v1.06h-1.06zM4 17h1.06v1.06h-1.06zM39 18h1.06v1.06h-1.06zM41 18h1.06v1.06h-1.06zM42 18h1.06v1.06h-1.06zM49 19h1.06v1.06h-1.06zM9 20h1.06v1.06h-1.06zM18 21h1.06v1.06h-1.06zM19 21h1.06v1.06h-1.06zM37 21h1.06v1.06h-1.06zM38 21h1.06v1.06h-1.06zM44 21h1.06v1.06h-1.06zM49 21h1.06v1.06h-1.06zM35 22h1.06v1.06h-1.06zM4 23h1.06v1.06h-1.06zM35 23h1.06v1.06h-1.06zM46 23h1.06v1.06h-1.06zM42 24h1.06v1.06h-1.06zM48 24h1.06v1.06h-1.06zM50 24h1.06v1.06h-1.06zM0 25h1.06v1.06h-1.06zM7 25h1.06v1.06h-1.06zM19 26h1.06v1.06h-1.06zM39 26h1.06v1.06h-1.06zM42 27h1.06v1.06h-1.06zM43 27h1.06v1.06h-1.06zM7 28h1.06v1.06h-1.06zM18 28h1.06v1.06h-1.06zM43 29h1.06v1.06h-1.06zM45 29h1.06v1.06h-1.06zM48 29h1.06v1.06h-1.06zM36 30h1.06v1.06h-1.06zM17 31h1.06v1.06h-1.06zM19 31h1.06v1.06h-1.06zM16 33h1.06v1.06h-1.06zM42 33h1.06v1.06h-1.06zM11 36h1.06v1.06h-1.06zM0 37h1.06v1.06h-1.06zM42 37h1.06v1.06h-1.06zM33 38h1.06v1.06h-1.06zM50 38h1.06v1.06h-1.06zM6 39h1.06v1.06h-1.06zM42 39h1.06v1.06h-1.06zM4 41h1.06v1.06h-1.06zM14 41h1.06v1.06h-1.06zM1 43h1.06v1.06h-1.06zM9 43h1.06v1.06h-1.06zM15 43h1.06v1.06h-1.06zM5 45h1.06v1.06h-1.06zM4 47h1.06v1.06h-1.06zM7 48h1.06v1.06h-1.06zM20 50h1.06v1.06h-1.06zM4 52h1.06v1.06h-1.06zM19 53h1.06v1.06h-1.06zM50 54h1.06v1.06h-1.06zM13 55h1.06v1.06h-1.06zM17 55h1.06v1.06h-1.06zM33 55h1.06v1.06h-1.06zM38 56h1.06v1.06h-1.06zM44 56h1.06v1.06h-1.06zM7 60h1.06v1.06h-1.06zM21 61h1.06v1.06h-1.06zM2 63h1.06v1.06h-1.06zM5 66h1.06v1.06h-1.06zM46 68h1.06v1.06h-1.06z"/>
<path fill="#ffbebe" d="M19 0h1.06v1.06h-1.06zM36 0h1.06v1.06h-1.06zM37 0h1.06v1.06h-1.06zM39 0h1.06v1.06h-1.06zM6 1h1.06v1.06h-1.06zM17 1h1.06v1.06h-1.06zM36 1h1.06v1.06h-1.06zM37 1h1.06v1.06h-1.06zM39 1h1.06v1.06h-1.06zM41 1h1.06v1.06h-1.06zM42 1h1.06v1.06h-1.06zM43 1h1.06v1.06h-1.06zM46 1h1.06v1.06h-1.06zM49 1h1.06v1.06h-1.06zM36 2h1.06v1.06h-1.06zM37 2h1.06v1.06h-1.06zM43 2h1.06v1.06h-1.06zM45 2h1.06v1.06h-1.06zM37 3h1.06v1.06h-1.06zM38 3h1.06v1.06h-1.06zM39 3h1.06v1.06h-1.06zM41 3h1.06v1.06h-1.06zM45 3h1.06v1.06h-1.06zM46 3h1.06v1.06h-1.06zM40 4h1.06v1.06h-1.06zM42 4h1.06v1.06h-1.06zM43 4h1.06v1.06h-1.06zM48 4h1.06v1.06h-1.06zM49 4h1.06v1.06h-1.06zM8 5h1.06v1.06h-1.06zM36 5h1.06v1.06h-1.06zM38 5h1.06v1.06h-1.06zM15 6h1.06v1.06h-1.06zM18 6h1.06v1.06h-1.06zM19 6h1.06v1.06h-1.06zM43 6h1.06v1.06h-1.06zM44 6h1.06v1.06h-1.06zM50 6h1.06v1.06h-1.06zM47 7h1.06v1.06h-1.06zM50 7h1.06v1.06h-1.06zM35 8h1.06v1.06h-1.06zM47 8h1.06v1.06h-1.06zM39 9h1.06v1.06h-1.06zM44 9h1.06v1.06h-1.06zM47 9h1.06v1.06h-1.06zM50 9h1.06v1.06h-1.06zM40 10h1.06v1.06h-1.06zM41 10h1.06v1.06h-1.06zM46 10h1.06v1.06h-1.06zM47 10h1.06v1.06h-1.06zM17 11h1.06v1.06h-1.06zM40 11h1.06v1.06h-1.06zM42 11h1.06v1.06h-1.06zM19 12h1.06v1.06h-1.06zM39 12h1.06v1.06h-1.06zM49 12h1.06v1.06h-1.06zM50 12h1.06v1.06h-1.06zM39 13h1.06v1.06h-1.06zM40 13h1.06v1.06h-1.06zM42 13h1.06v1.06h-1.06zM44 13h1.06v1.06h-1.06zM35 14h1.06v1.06h-1.06zM41 14h1.06v1.06h-1.06zM42 14h1.06v1.06h-1.06zM45 14h1.06v1.06h-1.06zM49 14h1.06v1.06h-1.06zM6 15h1.06v1.06h-1.06zM36 15h1.06v1.06h-1.06zM44 15h1.06v1.06h-1.06zM17 16h1.06v1.06h-1.06zM39 16h1.06v1.06h-1.06zM41 16h1.06v1.06h-1.06zM46 16h1.06v1.06h-1.06zM19 17h1.06v1.06h-1.06zM20 17h1.06v1.06h-1.06zM38 17h1.06v1.06h-1.06zM19 18h1.06v1.06h-1.06zM35 18h1.06v1.06h-1.06zM44 18h1.06v1.06h-1.06zM46 18h1.06v1.06h-1.06zM48 18h1.06v1.06h-1.06zM19 19h1.06v1.06h-1.06zM37 19h1.06v1.06h-1.06zM40 19h1.06v1.06h-1.06zM42 19h1.06v1.06h-1.06zM46 19h1.06v1.06h-1.06zM19 20h1.06v1.06h-1.06zM40 20h1.06v1.06h-1.06zM41 21h1.06v1.06h-1.06zM18 22h1.06v1.06h-1.06zM36 22h1.06v1.06h-1.06zM38 22h1.06v1.06h-1.06zM41 22h1.06v1.06h-1.06zM45 22h1.06v1.06h-1.06zM41 23h1.06v1.06h-1.06zM48 23h1.06v1.06h-1.06zM49 23h1.06v1.06h-1.06zM50 23h1.06v1.06h-1.06zM19 24h1.06v1.06h-1.06zM35 24h1.06v1.06h-1.06zM38 24h1.06v1.06h-1.06zM41 24h1.06v1.06h-1.06zM45 24h1.06v1.06h-1.06zM44 25h1.06v1.06h-1.06zM46 25h1.06v1.06h-1.06zM47 25h1.06v1.06h-1.06zM49 25h1.06v1.06h-1.06zM1 26h1.06v1.06h-1.06zM17 26h1.06v1.06h-1.06zM49 26h1.06v1.06h-1.06zM18 27h1.06v1.06h-1.06zM50 27h1.06v1.06h-1.06zM19 28h1.06v1.06h-1.06zM37 28h1.06v1.06h-1.06zM41 28h1.06v1.06h-1.06zM18 29h1.06v1.06h-1.06zM20 29h1.06v1.06h-1.06zM3 30h1.06v1.06h-1.06zM16 30h1.06v1.06h-1.06zM40 30h1.06v1.06h-1.06zM43 30h1.06v1.06h-1.06zM20 31h1.06v1.06h-1.06zM39 31h1.06v1.06h-1.06zM37 32h1.06v1.06h-1.06zM3 33h1.06v1.06h-1.06zM17 33h1.06v1.06h-1.06zM50 33h1.06v1.06h-1.06zM1 34h1.06v1.06h-1.06zM48 34h1.06v1.06h-1.06zM47 35h1.06v1.06h-1.06zM48 35h1.06v1.06h-1.06zM8 36h1.06v1.06h-1.06zM19 36h1.06v1.06h-1.06zM2 39h1.06v1.06h-1.06zM16 39h1.06v1.06h-1.06zM13 40h1.06v1.06h-1.06zM17 40h1.06v1.06h-1.06zM49 40h1.06v1.06h-1.06zM19 41h1.06v1.06h-1.06zM20 45h1.06v1.06h-1.06zM6 46h1.06v1.06h-1.06zM14 46h1.06v1.06h-1.06zM12 48h1.06v1.06h-1.06zM19 48h1.06v1.06h-1.06zM20 51h1.06v1.06h-1.06zM50 51h1.06v1.06h-1.06zM8 52h1.06v1.06h-1.06zM40 54h1.06v1.06h-1.06zM8 57h1.06v1.06h-1.06zM35 57h1.06v1.06h-1.06zM22 59h1.06v1.06h-1.06zM47 60h1.06v1.06h-1.06zM5 61h1.06v1.06h-1.06zM12 62h1.06v1.06h-1.06zM15 62h1.06v1.06h-1.06zM50 64h1.06v1.06h-1.06zM22 65h1.06v1.06h-1.06zM15 66h1.06v1.06h-1.06zM21 66h1.06v1.06h-1.06zM2 67h1.06v1.06h-1.06zM4 68h1.06v1.06h-1.06zM45 68h1.06v1.06h-1.06z"/>
<path fill="#ffb6b6" d="M44 0h1.06v1.06h-1.06zM46 0h1.06v1.06h-1.06zM47 0h1.06v1.06h-1.06zM48 0h1.06v1.06h-1.06zM50 0h1.06v1.06h-1.06zM38 1h1.06v1.06h-1.06zM40 1h1.06v1.06h-1.06zM44 1h1.06v1.06h-1.06zM48 1h1.06v1.06h-1.06zM18 2h1.06v1.06h-1.06zM35 2h1.06v1.06h-1.06zM50 2h1.06v1.06h-1.06zM10 3h1.06v1.06h-1.06zM19 3h1.06v1.06h-1.06zM42 3h1.06v1.06h-1.06zM38 4h1.06v1.06h-1.06zM46 4h1.06v1.06h-1.06zM19 5h1.06v1.06h-1.06zM20 5h1.06v1.06h-1.06zM39 5h1.06v1.06h-1.06zM42 5h1.06v1.06h-1.06zM45 5h1.06v1.06h-1.06zM39 6h1.06v1.06h-1.06zM41 6h1.06v1.06h-1.06zM42 6h1.06v1.06h-1.06zM45 6h1.06v1.06h-1.06zM46 6h1.06v1.06h-1.06zM47 6h1.06v1.06h-1.06zM41 7h1.06v1.06h-1.06zM43 7h1.06v1.06h-1.06zM45 7h1.06v1.06h-1.06zM46 7h1.06v1.06h-1.06zM48 7h1.06v1.06h-1.06zM18 8h1.06v1.06h-1.06zM37 8h1.06v1.06h-1.06zM38 8h1.06v1.06h-1.06zM45 8h1.06v1.06h-1.06zM46 8h1.06v1.06h-1.06zM50 8h1.06v1.06h-1.06zM17 9h1.06v1.06h-1.06zM38 9h1.06v1.06h-1.06zM40 9h1.06v1.06h-1.06zM41 9h1.06v1.06h-1.06zM46 9h1.06v1.06h-1.06zM16 10h1.06v1.06h-1.06zM19 10h1.06v1.06h-1.06zM42 10h1.06v1.06h-1.06zM43 10h1.06v1.06h-1.06zM45 10h1.06v1.06h-1.06zM50 10h1.06v1.06h-1.06zM43 11h1.06v1.06h-1.06zM44 11h1.06v1.06h-1.06zM48 11h1.06v1.06h-1.06zM35 12h1.06v1.06h-1.06zM36 12h1.06v1.06h-1.06zM38 12h1.06v1.06h-1.06zM42 12h1.06v1.06h-1.06zM48 12h1.06v1.06h-1.06zM36 13h1.06v1.06h-1.06zM43 13h1.06v1.06h-1.06zM37 14h1.06v1.06h-1.06zM43 14h1.06v1.06h-1.06zM48 14h1.06v1.06h-1.06zM48 15h1.06v1.06h-1.06zM35 16h1.06v1.06h-1.06zM40 16h1.06v1.06h-1.06zM45 16h1.06v1.06h-1.06zM49 16h1.06v1.06h-1.06zM3 17h1.06v1.06h-1.06zM37 17h1.06v1.06h-1.06zM18 18h1.06v1.06h-1.06zM33 18h1.06v1.06h-1.06zM37 18h1.06v1.06h-1.06zM38 18h1.06v1.06h-1.06zM40 18h1.06v1.06h-1.06zM43 18h1.06v1.06h-1.06zM36 19h1.06v1.06h-1.06zM48 19h1.06v1.06h-1.06zM34 20h1.06v1.06h-1.06zM37 20h1.06v1.06h-1.06zM39 20h1.06v1.06h-1.06zM41 20h1.06v1.06h-1.06zM45 20h1.06v1.06h-1.06zM50 20h1.06v1.06h-1.06zM40 21h1.06v1.06h-1.06zM42 21h1.06v1.06h-1.06zM46 21h1.06v1.06h-1.06zM48 21h1.06v1.06h-1.06zM6 22h1.06v1.06h-1.06zM17 22h1.06v1.06h-1.06zM20 22h1.06v1.06h-1.06zM37 22h1.06v1.06h-1.06zM42 22h1.06v1.06h-1.06zM44 22h1.06v1.06h-1.06zM49 22h1.06v1.06h-1.06zM2 23h1.06v1.06h-1.06zM18 23h1.06v1.06h-1.06zM33 23h1.06v1.06h-1.06zM44 23h1.06v1.06h-1.06zM45 23h1.06v1.06h-1.06zM40 24h1.06v1.06h-1.06zM44 24h1.06v1.06h-1.06zM49 24h1.06v1.06h-1.06zM50 25h1.06v1.06h-1.06zM18 26h1.06v1.06h-1.06zM41 26h1.06v1.06h-1.06zM16 27h1.06v1.06h-1.06zM17 27h1.06v1.06h-1.06zM20 27h1.06v1.06h-1.06zM34 27h1.06v1.06h-1.06zM43 28h1.06v1.06h-1.06zM45 28h1.06v1.06h-1.06zM50 28h1.06v1.06h-1.06zM17 29h1.06v1.06h-1.06zM37 29h1.06v1.06h-1.06zM41 29h1.06v1.06h-1.06zM49 29h1.06v1.06h-1.06zM42 30h1.06v1.06h-1.06zM45 30h1.06v1.06h-1.06zM48 30h1.06v1.06h-1.06zM49 30h1.06v1.06h-1.06zM41 31h1.06v1.06h-1.06zM48 31h1.06v1.06h-1.06zM49 31h1.06v1.06h-1.06zM19 32h1.06v1.06h-1.06zM35 32h1.06v1.06h-1.06zM42 32h1.06v1.06h-1.06zM44 32h1.06v1.06h-1.06zM46 33h1.06v1.06h-1.06zM37 35h1.06v1.06h-1.06zM18 36h1.06v1.06h-1.06zM42 36h1.06v1.06h-1.06zM17 37h1.06v1.06h-1.06zM36 37h1.06v1.06h-1.06zM48 37h1.06v1.06h-1.06zM49 37h1.06v1.06h-1.06zM19 38h1.06v1.06h-1.06zM41 38h1.06v1.06h-1.06zM17 39h1.06v1.06h-1.06zM45 39h1.06v1.06h-1.06zM18 40h1.06v1.06h-1.06zM44 40h1.06v1.06h-1.06zM45 40h1.06v1.06h-1.06zM47 40h1.06v1.06h-1.06zM43 41h1.06v1.06h-1.06zM6 43h1.06v1.06h-1.06zM14 43h1.06v1.06h-1.06zM14 44h1.06v1.06h-1.06zM50 44h1.06v1.06h-1.06zM43 45h1.06v1.06h-1.06zM13 46h1.06v1.06h-1.06zM48 46h1.06v1.06h-1.06zM16 48h1.06v1.06h-1.06zM37 48h1.06v1.06h-1.06zM42 48h1.06v1.06h-1.06zM50 49h1.06v1.06h-1.06zM37 50h1.06v1.06h-1.06zM45 51h1.06v1.06h-1.06zM3 52h1.06v1.06h-1.06zM43 52h1.06v1.06h-1.06zM2 54h1.06v1.06h-1.06zM8 55h1.06v1.06h-1.06zM46 55h1.06v1.06h-1.06zM20 56h1.06v1.06h-1.06zM41 56h1.06v1.06h-1.06zM3 57h1.06v1.06h-1.06zM6 57h1.06v1.06h-1.06zM34 57h1.06v1.06h-1.06zM36 57h1.06v1.06h-1.06zM44 57h1.06v1.06h-1.06zM11 58h1.06v1.06h-1.06zM10 59h1.06v1.06h-1.06zM47 59h1.06v1.06h-1.06zM32 60h1.06v1.06h-1.06zM40 60h1.06v1.06h-1.06zM46 60h1.06v1.06h-1.06zM48 60h1.06v1.06h-1.06zM49 60h1.06v1.06h-1.06zM37 61h1.06v1.06h-1.06zM11 62h1.06v1.06h-1.06zM14 64h1.06v1.06h-1.06zM33 64h1.06v1.06h-1.06zM44 68h1.06v1.06h-1.06z"/>
<path fill="#ffadad" d="M18 0h1.06v1.06h-1.06zM1 1h1.06v1.06h-1.06zM10 1h1.06v1.06h-1.06zM41 2h1.06v1.06h-1.06zM44 2h1.06v1.06h-1.06zM43 3h1.06v1.06h-1.06zM49 3h1.06v1.06h-1.06zM35 4h1.06v1.06h-1.06zM50 4h1.06v1.06h-1.06zM21 5h1.06v1.06h-1.06zM37 5h1.06v1.06h-1.06zM36 6h1.06v1.06h-1.06zM40 6h1.06v1.06h-1.06zM19 7h1.06v1.06h-1.06zM38 7h1.06v1.06h-1.06zM40 7h1.06v1.06h-1.06zM20 8h1.06v1.06h-1.06zM34 8h1.06v1.06h-1.06zM36 8h1.06v1.06h-1.06zM49 8h1.06v1.06h-1.06zM37 9h1.06v1.06h-1.06zM35 10h1.06v1.06h-1.06zM36 10h1.06v1.06h-1.06zM38 10h1.06v1.06h-1.06zM48 10h1.06v1.06h-1.06zM35 11h1.06v1.06h-1.06zM47 11h1.06v1.06h-1.06zM16 12h1.06v1.06h-1.06zM17 12h1.06v1.06h-1.06zM41 12h1.06v1.06h-1.06zM45 12h1.06v1.06h-1.06zM18 13h1.06v1.06h-1.06zM37 13h1.06v1.06h-1.06zM49 13h1.06v1.06h-1.06zM20 14h1.06v1.06h-1.06zM38 14h1.06v1.06h-1.06zM46 14h1.06v1.06h-1.06zM47 14h1.06v1.06h-1.06zM19 15h1.06v1.06h-1.06zM34 15h1.06v1.06h-1.06zM46 15h1.06v1.06h-1.06zM47 15h1.06v1.06h-1.06zM36 16h1.06v1.06h-1.06zM43 16h1.06v1.06h-1.06zM50 16h1.06v1.06h-1.06zM1 17h1.06v1.06h-1.06zM36 17h1.06v1.06h-1.06zM43 17h1.06v1.06h-1.06zM45 17h1.06v1.06h-1.06zM50 17h1.06v1.06h-1.06zM2 18h1.06v1.06h-1.06zM47 18h1.06v1.06h-1.06zM17 19h1.06v1.06h-1.06zM20 19h1.06v1.06h-1.06zM39 19h1.06v1.06h-1.06zM20 20h1.06v1.06h-1.06zM48 20h1.06v1.06h-1.06zM49 20h1.06v1.06h-1.06zM45 21h1.06v1.06h-1.06zM47 22h1.06v1.06h-1.06zM50 22h1.06v1.06h-1.06zM20 23h1.06v1.06h-1.06zM37 23h1.06v1.06h-1.06zM40 23h1.06v1.06h-1.06zM42 23h1.06v1.06h-1.06zM7 24h1.06v1.06h-1.06zM34 24h1.06v1.06h-1.06zM36 24h1.06v1.06h-1.06zM39 24h1.06v1.06h-1.06zM43 24h1.06v1.06h-1.06zM42 25h1.06v1.06h-1.06zM43 25h1.06v1.06h-1.06zM48 25h1.06v1.06h-1.06zM10 26h1.06v1.06h-1.06zM37 26h1.06v1.06h-1.06zM38 26h1.06v1.06h-1.06zM42 26h1.06v1.06h-1.06zM44 26h1.06v1.06h-1.06zM48 26h1.06v1.06h-1.06zM19 27h1.06v1.06h-1.06zM41 27h1.06v1.06h-1.06zM48 27h1.06v1.06h-1.06zM36 28h1.06v1.06h-1.06zM42 28h1.06v1.06h-1.06zM46 28h1.06v1.06h-1.06zM47 28h1.06v1.06h-1.06zM49 28h1.06v1.06h-1.06zM34 29h1.06v1.06h-1.06zM44 29h1.06v1.06h-1.06zM46 29h1.06v1.06h-1.06zM20 30h1.06v1.06h-1.06zM38 31h1.06v1.06h-1.06zM42 31h1.06v1.06h-1.06zM43 31h1.06v1.06h-1.06zM50 31h1.06v1.06h-1.06zM36 32h1.06v1.06h-1.06zM49 32h1.06v1.06h-1.06zM14 33h1.06v1.06h-1.06zM19 33h1.06v1.06h-1.06zM40 33h1.06v1.06h-1.06zM47 33h1.06v1.06h-1.06zM40 34h1.06v1.06h-1.06zM47 34h1.06v1.06h-1.06zM49 34h1.06v1.06h-1.06zM4 35h1.06v1.06h-1.06zM20 35h1.06v1.06h-1.06zM32 35h1.06v1.06h-1.06zM34 35h1.06v1.06h-1.06zM36 35h1.06v1.06h-1.06zM38 35h1.06v1.06h-1.06zM40 35h1.06v1.06h-1.06zM32 36h1.06v1.06h-1.06zM33 36h1.06v1.06h-1.06zM35 36h1.06v1.06h-1.06zM36 36h1.06v1.06h-1.06zM45 36h1.06v1.06h-1.06zM49 36h1.06v1.06h-1.06zM44 37h1.06v1.06h-1.06zM42 38h1.06v1.06h-1.06zM43 38h1.06v1.06h-1.06zM49 38h1.06v1.06h-1.06zM19 39h1.06v1.06h-1.06zM34 39h1.06v1.06h-1.06zM36 39h1.06v1.06h-1.06zM48 39h1.06v1.06h-1.06zM49 39h1.06v1.06h-1.06zM50 39h1.06v1.06h-1.06zM20 40h1.06v1.06h-1.06zM42 40h1.06v1.06h-1.06zM12 41h1.06v1.06h-1.06zM32 41h1.06v1.06h-1.06zM33 41h1.06v1.06h-1.06zM43 42h1.06v1.06h-1.06zM48 42h1.06v1.06h-1.06zM49 42h1.06v1.06h-1.06zM17 44h1.06v1.06h-1.06zM8 45h1.06v1.06h-1.06zM35 45h1.06v1.06h-1.06zM37 45h1.06v1.06h-1.06zM41 45h1.06v1.06h-1.06zM47 45h1.06v1.06h-1.06zM43 46h1.06v1.06h-1.06zM20 47h1.06v1.06h-1.06zM44 47h1.06v1.06h-1.06zM47 48h1.06v1.06h-1.06zM20 49h1.06v1.06h-1.06zM4 50h1.06v1.06h-1.06zM18 50h1.06v1.06h-1.06zM21 50h1.06v1.06h-1.06zM40 50h1.06v1.06h-1.06zM44 50h1.06v1.06h-1.06zM47 50h1.06v1.06h-1.06zM48 50h1.06v1.06h-1.06zM37 51h1.06v1.06h-1.06zM47 51h1.06v1.06h-1.06zM35 52h1.06v1.06h-1.06zM48 52h1.06v1.06h-1.06zM9 53h1.06v1.06h-1.06zM33 53h1.06v1.06h-1.06zM47 53h1.06v1.06h-1.06zM48 54h1.06v1.06h-1.06zM31 55h1.06v1.06h-1.06zM43 57h1.06v1.06h-1.06zM47 57h1.06v1.06h-1.06zM13 59h1.06v1.06h-1.06zM39 59h1.06v1.06h-1.06zM38 60h1.06v1.06h-1.06zM39 60h1.06v1.06h-1.06zM35 61h1.06v1.06h-1.06zM38 61h1.06v1.06h-1.06zM39 61h1.06v1.06h-1.06zM31 62h1.06v1.06h-1.06zM38 62h1.06v1.06h-1.06zM42 62h1.06v1.06h-1.06zM13 63h1.06v1.06h-1.06zM21 63h1.06v1.06h-1.06zM39 63h1.06v1.06h-1.06zM38 64h1.06v1.06h-1.06zM45 64h1.06v1.06h-1.06zM49 64h1.06v1.06h-1.06zM13 65h1.06v1.06h-1.06zM47 65h1.06v1.06h-1.06zM30 66h1.06v1.06h-1.06zM50 66h1.06v1.06h-1.06zM22 67h1.06v1.06h-1.06zM33 67h1.06v1.06h-1.06zM36 67h1.06v1.06h-1.06zM21 68h1.06v1.06h-1.06z"/>
<path fill="#ffa4a4" d="M49 0h1.06v1.06h-1.06zM18 1h1.06v1.06h-1.06zM50 1h1.06v1.06h-1.06zM34 2h1.06v1.06h-1.06zM38 2h1.06v1.06h-1.06zM1 3h1.06v1.06h-1.06zM20 3h1.06v1.06h-1.06zM36 3h1.06v1.06h-1.06zM36 4h1.06v1.06h-1.06zM41 4h1.06v1.06h-1.06zM45 4h1.06v1.06h-1.06zM21 6h1.06v1.06h-1.06zM34 7h1.06v1.06h-1.06zM36 7h1.06v1.06h-1.06zM39 8h1.06v1.06h-1.06zM43 8h1.06v1.06h-1.06zM20 9h1.06v1.06h-1.06zM21 9h1.06v1.06h-1.06zM35 9h1.06v1.06h-1.06zM34 10h1.06v1.06h-1.06zM44 10h1.06v1.06h-1.06zM49 10h1.06v1.06h-1.06zM21 11h1.06v1.06h-1.06zM38 11h1.06v1.06h-1.06zM7 12h1.06v1.06h-1.06zM9 12h1.06v1.06h-1.06zM20 12h1.06v1.06h-1.06zM40 12h1.06v1.06h-1.06zM44 12h1.06v1.06h-1.06zM2 13h1.06v1.06h-1.06zM20 13h1.06v1.06h-1.06zM21 13h1.06v1.06h-1.06zM40 14h1.06v1.06h-1.06zM18 15h1.06v1.06h-1.06zM20 15h1.06v1.06h-1.06zM35 15h1.06v1.06h-1.06zM38 15h1.06v1.06h-1.06zM40 15h1.06v1.06h-1.06zM42 15h1.06v1.06h-1.06zM43 15h1.06v1.06h-1.06zM19 16h1.06v1.06h-1.06zM35 17h1.06v1.06h-1.06zM39 17h1.06v1.06h-1.06zM40 17h1.06v1.06h-1.06zM42 17h1.06v1.06h-1.06zM48 17h1.06v1.06h-1.06zM34 18h1.06v1.06h-1.06zM50 18h1.06v1.06h-1.06zM9 19h1.06v1.06h-1.06zM10 19h1.06v1.06h-1.06zM34 19h1.06v1.06h-1.06zM43 19h1.06v1.06h-1.06zM36 20h1.06v1.06h-1.06zM38 20h1.06v1.06h-1.06zM43 20h1.06v1.06h-1.06zM44 20h1.06v1.06h-1.06zM46 20h1.06v1.06h-1.06zM35 21h1.06v1.06h-1.06zM36 21h1.06v1.06h-1.06zM43 21h1.06v1.06h-1.06zM47 21h1.06v1.06h-1.06zM40 22h1.06v1.06h-1.06zM46 22h1.06v1.06h-1.06zM36 23h1.06v1.06h-1.06zM38 23h1.06v1.06h-1.06zM31 24h1.06v1.06h-1.06zM37 24h1.06v1.06h-1.06zM2 25h1.06v1.06h-1.06zM20 25h1.06v1.06h-1.06zM35 25h1.06v1.06h-1.06zM40 25h1.06v1.06h-1.06zM41 25h1.06v1.06h-1.06zM45 25h1.06v1.06h-1.06zM35 26h1.06v1.06h-1.06zM36 26h1.06v1.06h-1.06zM37 27h1.06v1.06h-1.06zM38 27h1.06v1.06h-1.06zM39 27h1.06v1.06h-1.06zM44 27h1.06v1.06h-1.06zM46 27h1.06v1.06h-1.06zM47 27h1.06v1.06h-1.06zM6 28h1.06v1.06h-1.06zM20 28h1.06v1.06h-1.06zM35 28h1.06v1.06h-1.06zM39 28h1.06v1.06h-1.06zM44 28h1.06v1.06h-1.06zM10 29h1.06v1.06h-1.06zM38 29h1.06v1.06h-1.06zM50 29h1.06v1.06h-1.06zM35 30h1.06v1.06h-1.06zM39 30h1.06v1.06h-1.06zM33 31h1.06v1.06h-1.06zM35 31h1.06v1.06h-1.06zM44 31h1.06v1.06h-1.06zM45 31h1.06v1.06h-1.06zM46 31h1.06v1.06h-1.06zM9 32h1.06v1.06h-1.06zM40 32h1.06v1.06h-1.06zM48 32h1.06v1.06h-1.06zM50 32h1.06v1.06h-1.06zM35 33h1.06v1.06h-1.06zM38 33h1.06v1.06h-1.06zM48 33h1.06v1.06h-1.06zM49 33h1.06v1.06h-1.06zM31 34h1.06v1.06h-1.06zM33 34h1.06v1.06h-1.06zM38 34h1.06v1.06h-1.06zM39 34h1.06v1.06h-1.06zM41 34h1.06v1.06h-1.06zM50 34h1.06v1.06h-1.06zM31 35h1.06v1.06h-1.06zM43 35h1.06v1.06h-1.06zM50 35h1.06v1.06h-1.06zM34 36h1.06v1.06h-1.06zM47 36h1.06v1.06h-1.06zM48 36h1.06v1.06h-1.06zM50 36h1.06v1.06h-1.06zM32 37h1.06v1.06h-1.06zM45 37h1.06v1.06h-1.06zM32 38h1.06v1.06h-1.06zM3 39h1.06v1.06h-1.06zM8 39h1.06v1.06h-1.06zM38 39h1.06v1.06h-1.06zM39 39h1.06v1.06h-1.06zM34 40h1.06v1.06h-1.06zM35 40h1.06v1.06h-1.06zM41 40h1.06v1.06h-1.06zM50 40h1.06v1.06h-1.06zM45 41h1.06v1.06h-1.06zM48 41h1.06v1.06h-1.06zM49 41h1.06v1.06h-1.06zM15 42h1.06v1.06h-1.06zM17 42h1.06v1.06h-1.06zM35 42h1.06v1.06h-1.06zM40 42h1.06v1.06h-1.06zM46 42h1.06v1.06h-1.06zM47 42h1.06v1.06h-1.06zM20 43h1.06v1.06h-1.06zM43 43h1.06v1.06h-1.06zM44 43h1.06v1.06h-1.06zM47 43h1.06v1.06h-1.06zM18 44h1.06v1.06h-1.06zM33 44h1.06v1.06h-1.06zM40 44h1.06v1.06h-1.06zM43 44h1.06v1.06h-1.06zM45 44h1.06v1.06h-1.06zM47 44h1.06v1.06h-1.06zM49 44h1.06v1.06h-1.06zM0 45h1.06v1.06h-1.06zM39 45h1.06v1.06h-1.06zM17 46h1.06v1.06h-1.06zM39 46h1.06v1.06h-1.06zM44 46h1.06v1.06h-1.06zM47 46h1.06v1.06h-1.06zM15 47h1.06v1.06h-1.06zM17 47h1.06v1.06h-1.06zM34 47h1.06v1.06h-1.06zM35 47h1.06v1.06h-1.06zM42 47h1.06v1.06h-1.06zM49 47h1.06v1.06h-1.06zM50 47h1.06v1.06h-1.06zM20 48h1.06v1.06h-1.06zM39 48h1.06v1.06h-1.06zM48 48h1.06v1.06h-1.06zM4 49h1.06v1.06h-1.06zM37 49h1.06v1.06h-1.06zM44 49h1.06v1.06h-1.06zM3 50h1.06v1.06h-1.06zM35 50h1.06v1.06h-1.06zM45 50h1.06v1.06h-1.06zM39 51h1.06v1.06h-1.06zM44 51h1.06v1.06h-1.06zM31 52h1.06v1.06h-1.06zM44 52h1.06v1.06h-1.06zM47 52h1.06v1.06h-1.06zM50 52h1.06v1.06h-1.06zM38 53h1.06v1.06h-1.06zM40 53h1.06v1.06h-1.06zM41 54h1.06v1.06h-1.06zM44 54h1.06v1.06h-1.06zM46 54h1.06v1.06h-1.06zM41 55h1.06v1.06h-1.06zM49 55h1.06v1.06h-1.06zM32 56h1.06v1.06h-1.06zM34 56h1.06v1.06h-1.06zM48 56h1.06v1.06h-1.06zM19 57h1.06v1.06h-1.06zM23 57h1.06v1.06h-1.06zM42 57h1.06v1.06h-1.06zM22 58h1.06v1.06h-1.06zM36 58h1.06v1.06h-1.06zM38 58h1.06v1.06h-1.06zM48 58h1.06v1.06h-1.06zM2 59h1.06v1.06h-1.06zM34 59h1.06v1.06h-1.06zM37 59h1.06v1.06h-1.06zM43 59h1.06v1.06h-1.06zM50 59h1.06v1.06h-1.06zM9 60h1.06v1.06h-1.06zM44 60h1.06v1.06h-1.06zM24 61h1.06v1.06h-1.06zM43 61h1.06v1.06h-1.06zM45 61h1.06v1.06h-1.06zM22 62h1.06v1.06h-1.06zM36 62h1.06v1.06h-1.06zM37 62h1.06v1.06h-1.06zM40 62h1.06v1.06h-1.06zM44 62h1.06v1.06h-1.06zM5 63h1.06v1.06h-1.06zM15 63h1.06v1.06h-1.06zM22 63h1.06v1.06h-1.06zM32 63h1.06v1.06h-1.06zM42 63h1.06v1.06h-1.06zM48 63h1.06v1.06h-1.06zM50 63h1.06v1.06h-1.06zM28 64h1.06v1.06h-1.06zM40 64h1.06v1.06h-1.06zM41 64h1.06v1.06h-1.06zM23 65h1.06v1.06h-1.06zM37 65h1.06v1.06h-1.06zM42 65h1.06v1.06h-1.06zM37 66h1.06v1.06h-1.06zM39 66h1.06v1.06h-1.06zM43 66h1.06v1.06h-1.06zM23 67h1.06v1.06h-1.06zM38 67h1.06v1.06h-1.06zM49 68h1.06v1.06h-1.06z"/>
<path fill="#ff9c9c" d="M20 0h1.06v1.06h-1.06zM21 0h1.06v1.06h-1.06zM34 0h1.06v1.06h-1.06zM20 1h1.06v1.06h-1.06zM32 1h1.06v1.06h-1.06zM1 2h1.06v1.06h-1.06zM21 3h1.06v1.06h-1.06zM33 3h1.06v1.06h-1.06zM34 5h1.06v1.06h-1.06zM35 6h1.06v1.06h-1.06zM22 8h1.06v1.06h-1.06zM33 8h1.06v1.06h-1.06zM48 8h1.06v1.06h-1.06zM8 9h1.06v1.06h-1.06zM33 9h1.06v1.06h-1.06zM20 10h1.06v1.06h-1.06zM7 11h1.06v1.06h-1.06zM20 11h1.06v1.06h-1.06zM43 12h1.06v1.06h-1.06zM33 13h1.06v1.06h-1.06zM18 14h1.06v1.06h-1.06zM34 14h1.06v1.06h-1.06zM17 15h1.06v1.06h-1.06zM39 15h1.06v1.06h-1.06zM0 17h1.06v1.06h-1.06zM32 17h1.06v1.06h-1.06zM44 17h1.06v1.06h-1.06zM46 17h1.06v1.06h-1.06zM47 17h1.06v1.06h-1.06zM4 18h1.06v1.06h-1.06zM33 19h1.06v1.06h-1.06zM41 19h1.06v1.06h-1.06zM44 19h1.06v1.06h-1.06zM33 20h1.06v1.06h-1.06zM33 21h1.06v1.06h-1.06zM8 22h1.06v1.06h-1.06zM39 22h1.06v1.06h-1.06zM43 22h1.06v1.06h-1.06zM48 22h1.06v1.06h-1.06zM34 23h1.06v1.06h-1.06zM39 23h1.06v1.06h-1.06zM43 23h1.06v1.06h-1.06zM47 23h1.06v1.06h-1.06zM20 24h1.06v1.06h-1.06zM36 25h1.06v1.06h-1.06zM37 25h1.06v1.06h-1.06zM40 26h1.06v1.06h-1.06zM45 26h1.06v1.06h-1.06zM47 26h1.06v1.06h-1.06zM45 27h1.06v1.06h-1.06zM34 28h1.06v1.06h-1.06zM40 28h1.06v1.06h-1.06zM36 29h1.06v1.06h-1.06zM42 29h1.06v1.06h-1.06zM4 30h1.06v1.06h-1.06zM37 30h1.06v1.06h-1.06zM34 31h1.06v1.06h-1.06zM36 31h1.06v1.06h-1.06zM47 31h1.06v1.06h-1.06zM34 32h1.06v1.06h-1.06zM38 32h1.06v1.06h-1.06zM45 32h1.06v1.06h-1.06zM21 33h1.06v1.06h-1.06zM34 33h1.06v1.06h-1.06zM36 33h1.06v1.06h-1.06zM39 33h1.06v1.06h-1.06zM43 33h1.06v1.06h-1.06zM44 33h1.06v1.06h-1.06zM45 33h1.06v1.06h-1.06zM19 34h1.06v1.06h-1.06zM32 34h1.06v1.06h-1.06zM36 34h1.06v1.06h-1.06zM37 34h1.06v1.06h-1.06zM46 34h1.06v1.06h-1.06zM41 35h1.06v1.06h-1.06zM45 35h1.06v1.06h-1.06zM46 35h1.06v1.06h-1.06zM37 36h1.06v1.06h-1.06zM40 36h1.06v1.06h-1.06zM46 36h1.06v1.06h-1.06zM3 37h1.06v1.06h-1.06zM18 37h1.06v1.06h-1.06zM37 37h1.06v1.06h-1.06zM47 37h1.06v1.06h-1.06zM50 37h1.06v1.06h-1.06zM2 38h1.06v1.06h-1.06zM31 38h1.06v1.06h-1.06zM37 38h1.06v1.06h-1.06zM46 38h1.06v1.06h-1.06zM48 38h1.06v1.06h-1.06zM43 39h1.06v1.06h-1.06zM47 39h1.06v1.06h-1.06zM33 40h1.06v1.06h-1.06zM36 40h1.06v1.06h-1.06zM39 40h1.06v1.06h-1.06zM43 40h1.06v1.06h-1.06zM20 41h1.06v1.06h-1.06zM31 41h1.06v1.06h-1.06zM41 41h1.06v1.06h-1.06zM44 41h1.06v1.06h-1.06zM47 41h1.06v1.06h-1.06zM9 42h1.06v1.06h-1.06zM32 42h1.06v1.06h-1.06zM50 42h1.06v1.06h-1.06zM36 43h1.06v1.06h-1.06zM39 43h1.06v1.06h-1.06zM40 43h1.06v1.06h-1.06zM50 43h1.06v1.06h-1.06zM5 44h1.06v1.06h-1.06zM21 44h1.06v1.06h-1.06zM34 44h1.06v1.06h-1.06zM36 44h1.06v1.06h-1.06zM42 44h1.06v1.06h-1.06zM46 44h1.06v1.06h-1.06zM36 45h1.06v1.06h-1.06zM44 45h1.06v1.06h-1.06zM37 46h1.06v1.06h-1.06zM41 46h1.06v1.06h-1.06zM42 46h1.06v1.06h-1.06zM45 46h1.06v1.06h-1.06zM46 46h1.06v1.06h-1.06zM49 46h1.06v1.06h-1.06zM50 46h1.06v1.06h-1.06zM31 47h1.06v1.06h-1.06zM37 47h1.06v1.06h-1.06zM43 47h1.06v1.06h-1.06zM45 47h1.06v1.06h-1.06zM48 47h1.06v1.06h-1.06zM15 48h1.06v1.06h-1.06zM36 48h1.06v1.06h-1.06zM38 48h1.06v1.06h-1.06zM40 48h1.06v1.06h-1.06zM43 48h1.06v1.06h-1.06zM50 48h1.06v1.06h-1.06zM35 49h1.06v1.06h-1.06zM40 49h1.06v1.06h-1.06zM43 49h1.06v1.06h-1.06zM47 49h1.06v1.06h-1.06zM1 50h1.06v1.06h-1.06zM36 50h1.06v1.06h-1.06zM38 50h1.06v1.06h-1.06zM46 50h1.06v1.06h-1.06zM49 50h1.06v1.06h-1.06zM50 50h1.06v1.06h-1.06zM43 51h1.06v1.06h-1.06zM46 51h1.06v1.06h-1.06zM37 52h1.06v1.06h-1.06zM40 52h1.06v1.06h-1.06zM41 52h1.06v1.06h-1.06zM21 53h1.06v1.06h-1.06zM22 53h1.06v1.06h-1.06zM31 53h1.06v1.06h-1.06zM37 53h1.06v1.06h-1.06zM42 53h1.06v1.06h-1.06zM43 53h1.06v1.06h-1.06zM30 54h1.06v1.06h-1.06zM31 54h1.06v1.06h-1.06zM33 54h1.06v1.06h-1.06zM35 54h1.06v1.06h-1.06zM21 55h1.06v1.06h-1.06zM26 55h1.06v1.06h-1.06zM32 55h1.06v1.06h-1.06zM34 55h1.06v1.06h-1.06zM35 55h1.06v1.06h-1.06zM42 55h1.06v1.06h-1.06zM43 55h1.06v1.06h-1.06zM45 55h1.06v1.06h-1.06zM42 56h1.06v1.06h-1.06zM43 56h1.06v1.06h-1.06zM49 56h1.06v1.06h-1.06zM50 56h1.06v1.06h-1.06zM25 57h1.06v1.06h-1.06zM38 57h1.06v1.06h-1.06zM39 57h1.06v1.06h-1.06zM41 57h1.06v1.06h-1.06zM48 57h1.06v1.06h-1.06zM1 58h1.06v1.06h-1.06zM30 58h1.06v1.06h-1.06zM34 58h1.06v1.06h-1.06zM44 58h1.06v1.06h-1.06zM46 58h1.06v1.06h-1.06zM47 58h1.06v1.06h-1.06zM29 59h1.06v1.06h-1.06zM31 59h1.06v1.06h-1.06zM38 59h1.06v1.06h-1.06zM41 59h1.06v1.06h-1.06zM42 59h1.06v1.06h-1.06zM49 59h1.06v1.06h-1.06zM45 60h1.06v1.06h-1.06zM50 60h1.06v1.06h-1.06zM22 61h1.06v1.06h-1.06zM36 61h1.06v1.06h-1.06zM50 61h1.06v1.06h-1.06zM26 62h1.06v1.06h-1.06zM33 62h1.06v1.06h-1.06zM46 62h1.06v1.06h-1.06zM48 62h1.06v1.06h-1.06zM25 63h1.06v1.06h-1.06zM29 63h1.06v1.06h-1.06zM33 63h1.06v1.06h-1.06zM34 63h1.06v1.06h-1.06zM35 63h1.06v1.06h-1.06zM36 63h1.06v1.06h-1.06zM40 63h1.06v1.06h-1.06zM10 64h1.06v1.06h-1.06zM24 64h1.06v1.06h-1.06zM43 64h1.06v1.06h-1.06zM43 65h1.06v1.06h-1.06zM46 65h1.06v1.06h-1.06zM48 65h1.06v1.06h-1.06zM22 66h1.06v1.06h-1.06zM23 66h1.06v1.06h-1.06zM32 66h1.06v1.06h-1.06zM38 66h1.06v1.06h-1.06zM45 66h1.06v1.06h-1.06zM47 66h1.06v1.06h-1.06zM21 67h1.06v1.06h-1.06zM31 67h1.06v1.06h-1.06zM40 67h1.06v1.06h-1.06zM22 68h1.06v1.06h-1.06zM37 68h1.06v1.06h-1.06zM40 68h1.06v1.06h-1.06zM41 68h1.06v1.06h-1.06zM47 68h1.06v1.06h-1.06z"/>
<path fill="#ff9393" d="M33 0h1.06v1.06h-1.06zM33 1h1.06v1.06h-1.06zM34 1h1.06v1.06h-1.06zM20 2h1.06v1.06h-1.06zM21 2h1.06v1.06h-1.06zM34 3h1.06v1.06h-1.06zM35 3h1.06v1.06h-1.06zM20 4h1.06v1.06h-1.06zM22 4h1.06v1.06h-1.06zM20 6h1.06v1.06h-1.06zM34 6h1.06v1.06h-1.06zM35 7h1.06v1.06h-1.06zM6 10h1.06v1.06h-1.06zM37 11h1.06v1.06h-1.06zM49 11h1.06v1.06h-1.06zM21 12h1.06v1.06h-1.06zM38 13h1.06v1.06h-1.06zM30 14h1.06v1.06h-1.06zM32 14h1.06v1.06h-1.06zM33 14h1.06v1.06h-1.06zM22 16h1.06v1.06h-1.06zM33 16h1.06v1.06h-1.06zM34 16h1.06v1.06h-1.06zM44 16h1.06v1.06h-1.06zM48 16h1.06v1.06h-1.06zM34 17h1.06v1.06h-1.06zM20 18h1.06v1.06h-1.06zM32 18h1.06v1.06h-1.06zM36 18h1.06v1.06h-1.06zM45 18h1.06v1.06h-1.06zM45 19h1.06v1.06h-1.06zM47 19h1.06v1.06h-1.06zM35 20h1.06v1.06h-1.06zM20 21h1.06v1.06h-1.06zM34 21h1.06v1.06h-1.06zM19 22h1.06v1.06h-1.06zM47 24h1.06v1.06h-1.06zM31 25h1.06v1.06h-1.06zM39 25h1.06v1.06h-1.06zM31 26h1.06v1.06h-1.06zM32 26h1.06v1.06h-1.06zM32 27h1.06v1.06h-1.06zM33 27h1.06v1.06h-1.06zM35 27h1.06v1.06h-1.06zM36 27h1.06v1.06h-1.06zM33 28h1.06v1.06h-1.06zM32 29h1.06v1.06h-1.06zM35 29h1.06v1.06h-1.06zM39 29h1.06v1.06h-1.06zM33 30h1.06v1.06h-1.06zM44 30h1.06v1.06h-1.06zM47 30h1.06v1.06h-1.06zM50 30h1.06v1.06h-1.06zM18 31h1.06v1.06h-1.06zM31 31h1.06v1.06h-1.06zM37 31h1.06v1.06h-1.06zM40 31h1.06v1.06h-1.06zM21 32h1.06v1.06h-1.06zM32 32h1.06v1.06h-1.06zM46 32h1.06v1.06h-1.06zM35 34h1.06v1.06h-1.06zM44 34h1.06v1.06h-1.06zM33 35h1.06v1.06h-1.06zM35 35h1.06v1.06h-1.06zM42 35h1.06v1.06h-1.06zM41 36h1.06v1.06h-1.06zM44 36h1.06v1.06h-1.06zM30 37h1.06v1.06h-1.06zM35 37h1.06v1.06h-1.06zM38 37h1.06v1.06h-1.06zM39 37h1.06v1.06h-1.06zM39 38h1.06v1.06h-1.06zM40 38h1.06v1.06h-1.06zM44 38h1.06v1.06h-1.06zM47 38h1.06v1.06h-1.06zM32 39h1.06v1.06h-1.06zM33 39h1.06v1.06h-1.06zM35 39h1.06v1.06h-1.06zM44 39h1.06v1.06h-1.06zM48 40h1.06v1.06h-1.06zM13 41h1.06v1.06h-1.06zM16 41h1.06v1.06h-1.06zM18 41h1.06v1.06h-1.06zM35 41h1.06v1.06h-1.06zM36 41h1.06v1.06h-1.06zM42 41h1.06v1.06h-1.06zM46 41h1.06v1.06h-1.06zM50 41h1.06v1.06h-1.06zM30 42h1.06v1.06h-1.06zM33 42h1.06v1.06h-1.06zM34 42h1.06v1.06h-1.06zM39 42h1.06v1.06h-1.06zM0 43h1.06v1.06h-1.06zM3 43h1.06v1.06h-1.06zM18 43h1.06v1.06h-1.06zM33 43h1.06v1.06h-1.06zM34 43h1.06v1.06h-1.06zM46 43h1.06v1.06h-1.06zM48 43h1.06v1.06h-1.06zM49 43h1.06v1.06h-1.06zM16 44h1.06v1.06h-1.06zM41 44h1.06v1.06h-1.06zM44 44h1.06v1.06h-1.06zM48 44h1.06v1.06h-1.06zM40 45h1.06v1.06h-1.06zM46 45h1.06v1.06h-1.06zM48 45h1.06v1.06h-1.06zM19 46h1.06v1.06h-1.06zM35 46h1.06v1.06h-1.06zM36 46h1.06v1.06h-1.06zM29 47h1.06v1.06h-1.06zM36 47h1.06v1.06h-1.06zM39 47h1.06v1.06h-1.06zM40 47h1.06v1.06h-1.06zM36 49h1.06v1.06h-1.06zM49 49h1.06v1.06h-1.06zM43 50h1.06v1.06h-1.06zM32 51h1.06v1.06h-1.06zM41 51h1.06v1.06h-1.06zM48 51h1.06v1.06h-1.06zM1 52h1.06v1.06h-1.06zM25 52h1.06v1.06h-1.06zM32 52h1.06v1.06h-1.06zM36 52h1.06v1.06h-1.06zM38 52h1.06v1.06h-1.06zM45 52h1.06v1.06h-1.06zM49 52h1.06v1.06h-1.06zM12 53h1.06v1.06h-1.06zM34 53h1.06v1.06h-1.06zM48 53h1.06v1.06h-1.06zM49 53h1.06v1.06h-1.06zM50 53h1.06v1.06h-1.06zM26 54h1.06v1.06h-1.06zM28 54h1.06v1.06h-1.06zM34 54h1.06v1.06h-1.06zM37 54h1.06v1.06h-1.06zM42 54h1.06v1.06h-1.06zM45 54h1.06v1.06h-1.06zM38 55h1.06v1.06h-1.06zM39 55h1.06v1.06h-1.06zM33 56h1.06v1.06h-1.06zM37 56h1.06v1.06h-1.06zM40 56h1.06v1.06h-1.06zM45 56h1.06v1.06h-1.06zM46 56h1.06v1.06h-1.06zM47 56h1.06v1.06h-1.06zM13 57h1.06v1.06h-1.06zM17 57h1.06v1.06h-1.06zM33 57h1.06v1.06h-1.06zM37 57h1.06v1.06h-1.06zM40 57h1.06v1.06h-1.06zM25 58h1.06v1.06h-1.06zM33 58h1.06v1.06h-1.06zM37 58h1.06v1.06h-1.06zM40 58h1.06v1.06h-1.06zM43 58h1.06v1.06h-1.06zM50 58h1.06v1.06h-1.06zM30 59h1.06v1.06h-1.06zM35 59h1.06v1.06h-1.06zM44 59h1.06v1.06h-1.06zM22 60h1.06v1.06h-1.06zM26 60h1.06v1.06h-1.06zM31 60h1.06v1.06h-1.06zM41 60h1.06v1.06h-1.06zM26 61h1.06v1.06h-1.06zM31 61h1.06v1.06h-1.06zM44 61h1.06v1.06h-1.06zM46 61h1.06v1.06h-1.06zM48 61h1.06v1.06h-1.06zM24 62h1.06v1.06h-1.06zM29 62h1.06v1.06h-1.06zM34 62h1.06v1.06h-1.06zM35 62h1.06v1.06h-1.06zM39 62h1.06v1.06h-1.06zM41 62h1.06v1.06h-1.06zM50 62h1.06v1.06h-1.06zM27 63h1.06v1.06h-1.06zM30 63h1.06v1.06h-1.06zM38 63h1.06v1.06h-1.06zM43 63h1.06v1.06h-1.06zM44 63h1.06v1.06h-1.06zM46 63h1.06v1.06h-1.06zM47 63h1.06v1.06h-1.06zM49 63h1.06v1.06h-1.06zM22 64h1.06v1.06h-1.06zM29 64h1.06v1.06h-1.06zM30 64h1.06v1.06h-1.06zM34 64h1.06v1.06h-1.06zM35 64h1.06v1.06h-1.06zM37 64h1.06v1.06h-1.06zM39 64h1.06v1.06h-1.06zM42 64h1.06v1.06h-1.06zM44 64h1.06v1.06h-1.06zM31 65h1.06v1.06h-1.06zM35 65h1.06v1.06h-1.06zM44 65h1.06v1.06h-1.06zM45 65h1.06v1.06h-1.06zM12 66h1.06v1.06h-1.06zM40 66h1.06v1.06h-1.06zM42 66h1.06v1.06h-1.06zM44 66h1.06v1.06h-1.06zM5 67h1.06v1.06h-1.06zM42 67h1.06v1.06h-1.06zM23 68h1.06v1.06h-1.06zM25 68h1.06v1.06h-1.06zM30 68h1.06v1.06h-1.06zM32 68h1.06v1.06h-1.06zM34 68h1.06v1.06h-1.06zM36 68h1.06v1.06h-1.06zM38 68h1.06v1.06h-1.06zM39 68h1.06v1.06h-1.06zM43 68h1.06v1.06h-1.06z"/>
<path fill="#ff8a8a" d="M34 4h1.06v1.06h-1.06zM35 5h1.06v1.06h-1.06zM31 6h1.06v1.06h-1.06zM31 9h1.06v1.06h-1.06zM21 10h1.06v1.06h-1.06zM33 11h1.06v1.06h-1.06zM22 12h1.06v1.06h-1.06zM33 12h1.06v1.06h-1.06zM34 12h1.06v1.06h-1.06zM32 13h1.06v1.06h-1.06zM34 13h1.06v1.06h-1.06zM35 13h1.06v1.06h-1.06zM21 14h1.06v1.06h-1.06zM31 16h1.06v1.06h-1.06zM32 16h1.06v1.06h-1.06zM6 17h1.06v1.06h-1.06zM21 19h1.06v1.06h-1.06zM35 19h1.06v1.06h-1.06zM32 20h1.06v1.06h-1.06zM42 20h1.06v1.06h-1.06zM47 20h1.06v1.06h-1.06zM32 21h1.06v1.06h-1.06zM22 22h1.06v1.06h-1.06zM34 22h1.06v1.06h-1.06zM21 25h1.06v1.06h-1.06zM34 25h1.06v1.06h-1.06zM38 25h1.06v1.06h-1.06zM5 26h1.06v1.06h-1.06zM34 26h1.06v1.06h-1.06zM21 27h1.06v1.06h-1.06zM40 27h1.06v1.06h-1.06zM21 28h1.06v1.06h-1.06zM21 29h1.06v1.06h-1.06zM33 29h1.06v1.06h-1.06zM2 30h1.06v1.06h-1.06zM9 30h1.06v1.06h-1.06zM32 30h1.06v1.06h-1.06zM46 30h1.06v1.06h-1.06zM32 31h1.06v1.06h-1.06zM20 32h1.06v1.06h-1.06zM22 32h1.06v1.06h-1.06zM31 32h1.06v1.06h-1.06zM47 32h1.06v1.06h-1.06zM32 33h1.06v1.06h-1.06zM33 33h1.06v1.06h-1.06zM37 33h1.06v1.06h-1.06zM20 34h1.06v1.06h-1.06zM21 34h1.06v1.06h-1.06zM27 34h1.06v1.06h-1.06zM42 34h1.06v1.06h-1.06zM43 34h1.06v1.06h-1.06zM45 34h1.06v1.06h-1.06zM5 35h1.06v1.06h-1.06zM12 35h1.06v1.06h-1.06zM19 35h1.06v1.06h-1.06zM39 36h1.06v1.06h-1.06zM43 36h1.06v1.06h-1.06zM31 37h1.06v1.06h-1.06zM41 37h1.06v1.06h-1.06zM43 37h1.06v1.06h-1.06zM34 38h1.06v1.06h-1.06zM35 38h1.06v1.06h-1.06zM36 38h1.06v1.06h-1.06zM30 39h1.06v1.06h-1.06zM40 39h1.06v1.06h-1.06zM41 39h1.06v1.06h-1.06zM46 39h1.06v1.06h-1.06zM19 40h1.06v1.06h-1.06zM31 40h1.06v1.06h-1.06zM40 40h1.06v1.06h-1.06zM38 41h1.06v1.06h-1.06zM39 41h1.06v1.06h-1.06zM40 41h1.06v1.06h-1.06zM8 42h1.06v1.06h-1.06zM18 42h1.06v1.06h-1.06zM31 42h1.06v1.06h-1.06zM36 42h1.06v1.06h-1.06zM38 42h1.06v1.06h-1.06zM41 42h1.06v1.06h-1.06zM44 42h1.06v1.06h-1.06zM45 42h1.06v1.06h-1.06zM31 43h1.06v1.06h-1.06zM32 43h1.06v1.06h-1.06zM37 43h1.06v1.06h-1.06zM45 43h1.06v1.06h-1.06zM31 44h1.06v1.06h-1.06zM32 44h1.06v1.06h-1.06zM38 44h1.06v1.06h-1.06zM1 45h1.06v1.06h-1.06zM30 45h1.06v1.06h-1.06zM33 45h1.06v1.06h-1.06zM34 45h1.06v1.06h-1.06zM38 45h1.06v1.06h-1.06zM49 45h1.06v1.06h-1.06zM50 45h1.06v1.06h-1.06zM21 46h1.06v1.06h-1.06zM32 46h1.06v1.06h-1.06zM34 46h1.06v1.06h-1.06zM38 46h1.06v1.06h-1.06zM19 47h1.06v1.06h-1.06zM32 47h1.06v1.06h-1.06zM46 47h1.06v1.06h-1.06zM47 47h1.06v1.06h-1.06zM1 48h1.06v1.06h-1.06zM35 48h1.06v1.06h-1.06zM45 48h1.06v1.06h-1.06zM49 48h1.06v1.06h-1.06zM41 49h1.06v1.06h-1.06zM46 49h1.06v1.06h-1.06zM32 50h1.06v1.06h-1.06zM34 50h1.06v1.06h-1.06zM9 51h1.06v1.06h-1.06zM21 51h1.06v1.06h-1.06zM22 51h1.06v1.06h-1.06zM33 51h1.06v1.06h-1.06zM36 51h1.06v1.06h-1.06zM40 51h1.06v1.06h-1.06zM28 52h1.06v1.06h-1.06zM29 52h1.06v1.06h-1.06zM39 52h1.06v1.06h-1.06zM27 53h1.06v1.06h-1.06zM41 53h1.06v1.06h-1.06zM46 53h1.06v1.06h-1.06zM22 54h1.06v1.06h-1.06zM24 54h1.06v1.06h-1.06zM29 54h1.06v1.06h-1.06zM32 54h1.06v1.06h-1.06zM47 54h1.06v1.06h-1.06zM49 54h1.06v1.06h-1.06zM22 55h1.06v1.06h-1.06zM25 55h1.06v1.06h-1.06zM29 55h1.06v1.06h-1.06zM30 55h1.06v1.06h-1.06zM40 55h1.06v1.06h-1.06zM47 55h1.06v1.06h-1.06zM29 56h1.06v1.06h-1.06zM30 56h1.06v1.06h-1.06zM39 56h1.06v1.06h-1.06zM22 57h1.06v1.06h-1.06zM26 57h1.06v1.06h-1.06zM27 57h1.06v1.06h-1.06zM32 57h1.06v1.06h-1.06zM46 57h1.06v1.06h-1.06zM49 57h1.06v1.06h-1.06zM29 58h1.06v1.06h-1.06zM31 58h1.06v1.06h-1.06zM35 58h1.06v1.06h-1.06zM39 58h1.06v1.06h-1.06zM45 58h1.06v1.06h-1.06zM49 58h1.06v1.06h-1.06zM26 59h1.06v1.06h-1.06zM32 59h1.06v1.06h-1.06zM33 59h1.06v1.06h-1.06zM40 59h1.06v1.06h-1.06zM46 59h1.06v1.06h-1.06zM21 60h1.06v1.06h-1.06zM24 60h1.06v1.06h-1.06zM27 60h1.06v1.06h-1.06zM35 60h1.06v1.06h-1.06zM42 60h1.06v1.06h-1.06zM32 61h1.06v1.06h-1.06zM33 61h1.06v1.06h-1.06zM40 61h1.06v1.06h-1.06zM47 61h1.06v1.06h-1.06zM49 61h1.06v1.06h-1.06zM4 62h1.06v1.06h-1.06zM13 62h1.06v1.06h-1.06zM28 62h1.06v1.06h-1.06zM32 62h1.06v1.06h-1.06zM49 62h1.06v1.06h-1.06zM0 63h1.06v1.06h-1.06zM24 63h1.06v1.06h-1.06zM26 63h1.06v1.06h-1.06zM31 63h1.06v1.06h-1.06zM41 63h1.06v1.06h-1.06zM45 63h1.06v1.06h-1.06zM23 64h1.06v1.06h-1.06zM48 64h1.06v1.06h-1.06zM3 65h1.06v1.06h-1.06zM20 65h1.06v1.06h-1.06zM25 65h1.06v1.06h-1.06zM30 65h1.06v1.06h-1.06zM32 65h1.06v1.06h-1.06zM33 65h1.06v1.06h-1.06zM38 65h1.06v1.06h-1.06zM41 65h1.06v1.06h-1.06zM24 66h1.06v1.06h-1.06zM26 66h1.06v1.06h-1.06zM31 66h1.06v1.06h-1.06zM33 66h1.06v1.06h-1.06zM35 66h1.06v1.06h-1.06zM41 66h1.06v1.06h-1.06zM46 66h1.06v1.06h-1.06zM49 66h1.06v1.06h-1.06zM34 67h1.06v1.06h-1.06zM35 67h1.06v1.06h-1.06zM46 67h1.06v1.06h-1.06zM47 67h1.06v1.06h-1.06zM48 67h1.06v1.06h-1.06zM49 67h1.06v1.06h-1.06zM6 68h1.06v1.06h-1.06zM26 68h1.06v1.06h-1.06zM50 68h1.06v1.06h-1.06z"/>
<path fill="#ff8282" d="M2 1h1.06v1.06h-1.06zM21 1h1.06v1.06h-1.06zM22 2h1.06v1.06h-1.06zM31 2h1.06v1.06h-1.06zM32 2h1.06v1.06h-1.06zM31 3h1.06v1.06h-1.06zM23 4h1.06v1.06h-1.06zM33 4h1.06v1.06h-1.06zM2 6h1.06v1.06h-1.06zM22 6h1.06v1.06h-1.06zM20 7h1.06v1.06h-1.06zM32 7h1.06v1.06h-1.06zM33 7h1.06v1.06h-1.06zM21 8h1.06v1.06h-1.06zM32 9h1.06v1.06h-1.06zM34 9h1.06v1.06h-1.06zM11 10h1.06v1.06h-1.06zM32 10h1.06v1.06h-1.06zM34 11h1.06v1.06h-1.06zM3 12h1.06v1.06h-1.06zM31 14h1.06v1.06h-1.06zM21 15h1.06v1.06h-1.06zM33 15h1.06v1.06h-1.06zM20 16h1.06v1.06h-1.06zM30 16h1.06v1.06h-1.06zM33 17h1.06v1.06h-1.06zM21 18h1.06v1.06h-1.06zM21 20h1.06v1.06h-1.06zM39 21h1.06v1.06h-1.06zM21 22h1.06v1.06h-1.06zM32 22h1.06v1.06h-1.06zM33 22h1.06v1.06h-1.06zM8 23h1.06v1.06h-1.06zM21 23h1.06v1.06h-1.06zM31 23h1.06v1.06h-1.06zM32 24h1.06v1.06h-1.06zM33 24h1.06v1.06h-1.06zM32 25h1.06v1.06h-1.06zM33 25h1.06v1.06h-1.06zM4 26h1.06v1.06h-1.06zM20 26h1.06v1.06h-1.06zM31 28h1.06v1.06h-1.06zM21 30h1.06v1.06h-1.06zM30 30h1.06v1.06h-1.06zM34 30h1.06v1.06h-1.06zM33 32h1.06v1.06h-1.06zM2 33h1.06v1.06h-1.06zM41 33h1.06v1.06h-1.06zM30 34h1.06v1.06h-1.06zM39 35h1.06v1.06h-1.06zM44 35h1.06v1.06h-1.06zM20 36h1.06v1.06h-1.06zM38 36h1.06v1.06h-1.06zM8 37h1.06v1.06h-1.06zM33 37h1.06v1.06h-1.06zM40 37h1.06v1.06h-1.06zM46 37h1.06v1.06h-1.06zM38 38h1.06v1.06h-1.06zM45 38h1.06v1.06h-1.06zM32 40h1.06v1.06h-1.06zM38 40h1.06v1.06h-1.06zM46 40h1.06v1.06h-1.06zM7 41h1.06v1.06h-1.06zM28 41h1.06v1.06h-1.06zM34 41h1.06v1.06h-1.06zM37 41h1.06v1.06h-1.06zM2 42h1.06v1.06h-1.06zM29 42h1.06v1.06h-1.06zM28 43h1.06v1.06h-1.06zM35 43h1.06v1.06h-1.06zM41 43h1.06v1.06h-1.06zM42 43h1.06v1.06h-1.06zM30 44h1.06v1.06h-1.06zM18 45h1.06v1.06h-1.06zM23 45h1.06v1.06h-1.06zM31 45h1.06v1.06h-1.06zM42 45h1.06v1.06h-1.06zM1 46h1.06v1.06h-1.06zM31 46h1.06v1.06h-1.06zM33 46h1.06v1.06h-1.06zM40 46h1.06v1.06h-1.06zM33 47h1.06v1.06h-1.06zM38 47h1.06v1.06h-1.06zM21 48h1.06v1.06h-1.06zM34 48h1.06v1.06h-1.06zM44 48h1.06v1.06h-1.06zM46 48h1.06v1.06h-1.06zM2 49h1.06v1.06h-1.06zM5 49h1.06v1.06h-1.06zM17 49h1.06v1.06h-1.06zM31 49h1.06v1.06h-1.06zM33 49h1.06v1.06h-1.06zM38 49h1.06v1.06h-1.06zM42 49h1.06v1.06h-1.06zM45 49h1.06v1.06h-1.06zM5 50h1.06v1.06h-1.06zM10 50h1.06v1.06h-1.06zM39 50h1.06v1.06h-1.06zM41 50h1.06v1.06h-1.06zM38 51h1.06v1.06h-1.06zM42 51h1.06v1.06h-1.06zM49 51h1.06v1.06h-1.06zM22 52h1.06v1.06h-1.06zM27 52h1.06v1.06h-1.06zM34 52h1.06v1.06h-1.06zM25 53h1.06v1.06h-1.06zM28 53h1.06v1.06h-1.06zM29 53h1.06v1.06h-1.06zM36 53h1.06v1.06h-1.06zM39 53h1.06v1.06h-1.06zM45 53h1.06v1.06h-1.06zM38 54h1.06v1.06h-1.06zM43 54h1.06v1.06h-1.06zM18 55h1.06v1.06h-1.06zM28 55h1.06v1.06h-1.06zM37 55h1.06v1.06h-1.06zM35 56h1.06v1.06h-1.06zM30 57h1.06v1.06h-1.06zM31 57h1.06v1.06h-1.06zM45 57h1.06v1.06h-1.06zM17 58h1.06v1.06h-1.06zM19 58h1.06v1.06h-1.06zM41 58h1.06v1.06h-1.06zM25 59h1.06v1.06h-1.06zM27 59h1.06v1.06h-1.06zM45 59h1.06v1.06h-1.06zM48 59h1.06v1.06h-1.06zM23 60h1.06v1.06h-1.06zM29 60h1.06v1.06h-1.06zM33 60h1.06v1.06h-1.06zM43 60h1.06v1.06h-1.06zM14 61h1.06v1.06h-1.06zM27 61h1.06v1.06h-1.06zM29 61h1.06v1.06h-1.06zM30 61h1.06v1.06h-1.06zM42 61h1.06v1.06h-1.06zM27 62h1.06v1.06h-1.06zM30 62h1.06v1.06h-1.06zM43 62h1.06v1.06h-1.06zM45 62h1.06v1.06h-1.06zM23 63h1.06v1.06h-1.06zM37 63h1.06v1.06h-1.06zM20 64h1.06v1.06h-1.06zM31 64h1.06v1.06h-1.06zM36 64h1.06v1.06h-1.06zM26 65h1.06v1.06h-1.06zM27 65h1.06v1.06h-1.06zM40 65h1.06v1.06h-1.06zM50 65h1.06v1.06h-1.06zM27 66h1.06v1.06h-1.06zM28 66h1.06v1.06h-1.06zM29 66h1.06v1.06h-1.06zM34 66h1.06v1.06h-1.06zM29 67h1.06v1.06h-1.06zM30 67h1.06v1.06h-1.06zM32 67h1.06v1.06h-1.06zM39 67h1.06v1.06h-1.06zM41 67h1.06v1.06h-1.06zM44 67h1.06v1.06h-1.06zM24 68h1.06v1.06h-1.06zM27 68h1.06v1.06h-1.06zM35 68h1.06v1.06h-1.06z"/>
<path fill="#ff7979" d="M24 0h1.06v1.06h-1.06zM30 0h1.06v1.06h-1.06zM32 0h1.06v1.06h-1.06zM24 1h1.06v1.06h-1.06zM23 5h1.06v1.06h-1.06zM31 5h1.06v1.06h-1.06zM23 6h1.06v1.06h-1.06zM22 7h1.06v1.06h-1.06zM32 8h1.06v1.06h-1.06zM22 9h1.06v1.06h-1.06zM22 10h1.06v1.06h-1.06zM30 10h1.06v1.06h-1.06zM33 10h1.06v1.06h-1.06zM32 11h1.06v1.06h-1.06zM31 12h1.06v1.06h-1.06zM29 13h1.06v1.06h-1.06zM31 13h1.06v1.06h-1.06zM23 15h1.06v1.06h-1.06zM24 15h1.06v1.06h-1.06zM22 17h1.06v1.06h-1.06zM32 19h1.06v1.06h-1.06zM8 20h1.06v1.06h-1.06zM31 20h1.06v1.06h-1.06zM21 21h1.06v1.06h-1.06zM30 21h1.06v1.06h-1.06zM31 22h1.06v1.06h-1.06zM5 23h1.06v1.06h-1.06zM22 23h1.06v1.06h-1.06zM29 23h1.06v1.06h-1.06zM30 23h1.06v1.06h-1.06zM32 23h1.06v1.06h-1.06zM21 24h1.06v1.06h-1.06zM30 24h1.06v1.06h-1.06zM21 26h1.06v1.06h-1.06zM33 26h1.06v1.06h-1.06zM31 27h1.06v1.06h-1.06zM32 28h1.06v1.06h-1.06zM31 29h1.06v1.06h-1.06zM29 31h1.06v1.06h-1.06zM28 32h1.06v1.06h-1.06zM5 33h1.06v1.06h-1.06zM29 33h1.06v1.06h-1.06zM2 34h1.06v1.06h-1.06zM9 34h1.06v1.06h-1.06zM29 34h1.06v1.06h-1.06zM0 35h1.06v1.06h-1.06zM28 35h1.06v1.06h-1.06zM30 35h1.06v1.06h-1.06zM31 36h1.06v1.06h-1.06zM34 37h1.06v1.06h-1.06zM20 39h1.06v1.06h-1.06zM29 39h1.06v1.06h-1.06zM28 40h1.06v1.06h-1.06zM37 40h1.06v1.06h-1.06zM30 41h1.06v1.06h-1.06zM20 42h1.06v1.06h-1.06zM37 42h1.06v1.06h-1.06zM42 42h1.06v1.06h-1.06zM29 43h1.06v1.06h-1.06zM38 43h1.06v1.06h-1.06zM37 44h1.06v1.06h-1.06zM39 44h1.06v1.06h-1.06zM32 45h1.06v1.06h-1.06zM20 46h1.06v1.06h-1.06zM30 46h1.06v1.06h-1.06zM30 47h1.06v1.06h-1.06zM41 47h1.06v1.06h-1.06zM32 48h1.06v1.06h-1.06zM21 49h1.06v1.06h-1.06zM32 49h1.06v1.06h-1.06zM39 49h1.06v1.06h-1.06zM48 49h1.06v1.06h-1.06zM31 50h1.06v1.06h-1.06zM30 51h1.06v1.06h-1.06zM31 51h1.06v1.06h-1.06zM34 51h1.06v1.06h-1.06zM33 52h1.06v1.06h-1.06zM42 52h1.06v1.06h-1.06zM7 53h1.06v1.06h-1.06zM23 53h1.06v1.06h-1.06zM32 53h1.06v1.06h-1.06zM35 53h1.06v1.06h-1.06zM44 53h1.06v1.06h-1.06zM25 54h1.06v1.06h-1.06zM24 55h1.06v1.06h-1.06zM22 56h1.06v1.06h-1.06zM25 56h1.06v1.06h-1.06zM27 56h1.06v1.06h-1.06zM28 56h1.06v1.06h-1.06zM0 57h1.06v1.06h-1.06zM28 57h1.06v1.06h-1.06zM29 57h1.06v1.06h-1.06zM24 58h1.06v1.06h-1.06zM26 58h1.06v1.06h-1.06zM28 58h1.06v1.06h-1.06zM32 58h1.06v1.06h-1.06zM28 59h1.06v1.06h-1.06zM28 60h1.06v1.06h-1.06zM34 60h1.06v1.06h-1.06zM36 60h1.06v1.06h-1.06zM37 60h1.06v1.06h-1.06zM12 61h1.06v1.06h-1.06zM28 61h1.06v1.06h-1.06zM34 61h1.06v1.06h-1.06zM25 62h1.06v1.06h-1.06zM47 64h1.06v1.06h-1.06zM28 65h1.06v1.06h-1.06zM29 65h1.06v1.06h-1.06zM34 65h1.06v1.06h-1.06zM39 65h1.06v1.06h-1.06zM25 66h1.06v1.06h-1.06zM36 66h1.06v1.06h-1.06zM48 66h1.06v1.06h-1.06zM25 67h1.06v1.06h-1.06zM45 67h1.06v1.06h-1.06zM50 67h1.06v1.06h-1.06zM31 68h1.06v1.06h-1.06zM33 68h1.06v1.06h-1.06z"/>
<path fill="#ff7070" d="M0 0h1.06v1.06h-1.06zM26 0h1.06v1.06h-1.06zM31 0h1.06v1.06h-1.06zM24 2h1.06v1.06h-1.06zM29 2h1.06v1.06h-1.06zM33 2h1.06v1.06h-1.06zM23 3h1.06v1.06h-1.06zM24 3h1.06v1.06h-1.06zM32 3h1.06v1.06h-1.06zM1 4h1.06v1.06h-1.06zM21 4h1.06v1.06h-1.06zM31 4h1.06v1.06h-1.06zM29 5h1.06v1.06h-1.06zM32 5h1.06v1.06h-1.06zM32 6h1.06v1.06h-1.06zM33 6h1.06v1.06h-1.06zM4 7h1.06v1.06h-1.06zM21 7h1.06v1.06h-1.06zM30 7h1.06v1.06h-1.06zM24 9h1.06v1.06h-1.06zM30 9h1.06v1.06h-1.06zM31 10h1.06v1.06h-1.06zM25 11h1.06v1.06h-1.06zM31 11h1.06v1.06h-1.06zM30 12h1.06v1.06h-1.06zM32 12h1.06v1.06h-1.06zM30 15h1.06v1.06h-1.06zM21 17h1.06v1.06h-1.06zM31 17h1.06v1.06h-1.06zM29 18h1.06v1.06h-1.06zM30 19h1.06v1.06h-1.06zM31 19h1.06v1.06h-1.06zM22 20h1.06v1.06h-1.06zM30 20h1.06v1.06h-1.06zM29 21h1.06v1.06h-1.06zM29 22h1.06v1.06h-1.06zM30 22h1.06v1.06h-1.06zM27 25h1.06v1.06h-1.06zM30 25h1.06v1.06h-1.06zM30 26h1.06v1.06h-1.06zM30 27h1.06v1.06h-1.06zM21 31h1.06v1.06h-1.06zM27 31h1.06v1.06h-1.06zM6 33h1.06v1.06h-1.06zM20 33h1.06v1.06h-1.06zM11 34h1.06v1.06h-1.06zM22 34h1.06v1.06h-1.06zM29 35h1.06v1.06h-1.06zM0 36h1.06v1.06h-1.06zM21 36h1.06v1.06h-1.06zM29 36h1.06v1.06h-1.06zM30 36h1.06v1.06h-1.06zM21 37h1.06v1.06h-1.06zM21 38h1.06v1.06h-1.06zM31 39h1.06v1.06h-1.06zM21 40h1.06v1.06h-1.06zM29 40h1.06v1.06h-1.06zM16 42h1.06v1.06h-1.06zM21 42h1.06v1.06h-1.06zM21 43h1.06v1.06h-1.06zM20 44h1.06v1.06h-1.06zM22 44h1.06v1.06h-1.06zM26 44h1.06v1.06h-1.06zM45 45h1.06v1.06h-1.06zM18 46h1.06v1.06h-1.06zM21 47h1.06v1.06h-1.06zM22 48h1.06v1.06h-1.06zM28 48h1.06v1.06h-1.06zM30 48h1.06v1.06h-1.06zM31 48h1.06v1.06h-1.06zM33 48h1.06v1.06h-1.06zM41 48h1.06v1.06h-1.06zM19 49h1.06v1.06h-1.06zM30 49h1.06v1.06h-1.06zM34 49h1.06v1.06h-1.06zM24 50h1.06v1.06h-1.06zM25 50h1.06v1.06h-1.06zM30 50h1.06v1.06h-1.06zM42 50h1.06v1.06h-1.06zM26 53h1.06v1.06h-1.06zM30 53h1.06v1.06h-1.06zM27 54h1.06v1.06h-1.06zM36 54h1.06v1.06h-1.06zM39 54h1.06v1.06h-1.06zM6 55h1.06v1.06h-1.06zM27 55h1.06v1.06h-1.06zM44 55h1.06v1.06h-1.06zM21 56h1.06v1.06h-1.06zM23 56h1.06v1.06h-1.06zM31 56h1.06v1.06h-1.06zM36 56h1.06v1.06h-1.06zM14 57h1.06v1.06h-1.06zM50 57h1.06v1.06h-1.06zM27 58h1.06v1.06h-1.06zM23 59h1.06v1.06h-1.06zM24 59h1.06v1.06h-1.06zM36 59h1.06v1.06h-1.06zM16 60h1.06v1.06h-1.06zM25 60h1.06v1.06h-1.06zM25 61h1.06v1.06h-1.06zM41 61h1.06v1.06h-1.06zM21 62h1.06v1.06h-1.06zM23 62h1.06v1.06h-1.06zM28 63h1.06v1.06h-1.06zM26 64h1.06v1.06h-1.06zM27 64h1.06v1.06h-1.06zM32 64h1.06v1.06h-1.06zM36 65h1.06v1.06h-1.06zM26 67h1.06v1.06h-1.06zM28 67h1.06v1.06h-1.06zM37 67h1.06v1.06h-1.06zM48 68h1.06v1.06h-1.06z"/>
<path fill="#ff6868" d="M22 0h1.06v1.06h-1.06zM29 0h1.06v1.06h-1.06zM22 1h1.06v1.06h-1.06zM25 1h1.06v1.06h-1.06zM26 1h1.06v1.06h-1.06zM28 1h1.06v1.06h-1.06zM23 2h1.06v1.06h-1.06zM0 3h1.06v1.06h-1.06zM22 3h1.06v1.06h-1.06zM29 3h1.06v1.06h-1.06zM24 4h1.06v1.06h-1.06zM32 4h1.06v1.06h-1.06zM22 5h1.06v1.06h-1.06zM24 6h1.06v1.06h-1.06zM25 6h1.06v1.06h-1.06zM30 6h1.06v1.06h-1.06zM29 7h1.06v1.06h-1.06zM31 7h1.06v1.06h-1.06zM24 8h1.06v1.06h-1.06zM29 8h1.06v1.06h-1.06zM29 9h1.06v1.06h-1.06zM24 11h1.06v1.06h-1.06zM22 13h1.06v1.06h-1.06zM22 14h1.06v1.06h-1.06zM31 15h1.06v1.06h-1.06zM32 15h1.06v1.06h-1.06zM21 16h1.06v1.06h-1.06zM23 16h1.06v1.06h-1.06zM30 18h1.06v1.06h-1.06zM31 18h1.06v1.06h-1.06zM8 19h1.06v1.06h-1.06zM22 19h1.06v1.06h-1.06zM24 19h1.06v1.06h-1.06zM25 19h1.06v1.06h-1.06zM10 20h1.06v1.06h-1.06zM22 21h1.06v1.06h-1.06zM23 21h1.06v1.06h-1.06zM1 22h1.06v1.06h-1.06zM22 24h1.06v1.06h-1.06zM22 25h1.06v1.06h-1.06zM29 25h1.06v1.06h-1.06zM7 27h1.06v1.06h-1.06zM29 27h1.06v1.06h-1.06zM22 28h1.06v1.06h-1.06zM29 29h1.06v1.06h-1.06zM22 30h1.06v1.06h-1.06zM28 30h1.06v1.06h-1.06zM31 30h1.06v1.06h-1.06zM30 31h1.06v1.06h-1.06zM29 32h1.06v1.06h-1.06zM26 33h1.06v1.06h-1.06zM28 33h1.06v1.06h-1.06zM30 33h1.06v1.06h-1.06zM34 34h1.06v1.06h-1.06zM20 38h1.06v1.06h-1.06zM22 38h1.06v1.06h-1.06zM30 38h1.06v1.06h-1.06zM21 39h1.06v1.06h-1.06zM22 39h1.06v1.06h-1.06zM37 39h1.06v1.06h-1.06zM25 40h1.06v1.06h-1.06zM21 41h1.06v1.06h-1.06zM17 43h1.06v1.06h-1.06zM23 43h1.06v1.06h-1.06zM26 43h1.06v1.06h-1.06zM30 43h1.06v1.06h-1.06zM35 44h1.06v1.06h-1.06zM21 45h1.06v1.06h-1.06zM22 45h1.06v1.06h-1.06zM24 46h1.06v1.06h-1.06zM25 46h1.06v1.06h-1.06zM29 46h1.06v1.06h-1.06zM7 47h1.06v1.06h-1.06zM22 47h1.06v1.06h-1.06zM1 49h1.06v1.06h-1.06zM22 49h1.06v1.06h-1.06zM27 49h1.06v1.06h-1.06zM29 50h1.06v1.06h-1.06zM33 50h1.06v1.06h-1.06zM24 51h1.06v1.06h-1.06zM24 52h1.06v1.06h-1.06zM26 52h1.06v1.06h-1.06zM24 53h1.06v1.06h-1.06zM23 54h1.06v1.06h-1.06zM5 55h1.06v1.06h-1.06zM23 55h1.06v1.06h-1.06zM36 55h1.06v1.06h-1.06zM48 55h1.06v1.06h-1.06zM24 56h1.06v1.06h-1.06zM26 56h1.06v1.06h-1.06zM24 57h1.06v1.06h-1.06zM23 58h1.06v1.06h-1.06zM42 58h1.06v1.06h-1.06zM30 60h1.06v1.06h-1.06zM10 63h1.06v1.06h-1.06zM25 64h1.06v1.06h-1.06zM46 64h1.06v1.06h-1.06zM8 65h1.06v1.06h-1.06zM24 65h1.06v1.06h-1.06zM3 67h1.06v1.06h-1.06zM28 68h1.06v1.06h-1.06zM29 68h1.06v1.06h-1.06zM42 68h1.06v1.06h-1.06z"/>
<path fill="#ff5f5f" d="M23 0h1.06v1.06h-1.06zM31 1h1.06v1.06h-1.06zM27 2h1.06v1.06h-1.06zM30 2h1.06v1.06h-1.06zM26 3h1.06v1.06h-1.06zM25 5h1.06v1.06h-1.06zM33 5h1.06v1.06h-1.06zM9 6h1.06v1.06h-1.06zM26 6h1.06v1.06h-1.06zM28 6h1.06v1.06h-1.06zM23 7h1.06v1.06h-1.06zM23 8h1.06v1.06h-1.06zM25 8h1.06v1.06h-1.06zM28 8h1.06v1.06h-1.06zM31 8h1.06v1.06h-1.06zM23 10h1.06v1.06h-1.06zM25 10h1.06v1.06h-1.06zM22 11h1.06v1.06h-1.06zM28 11h1.06v1.06h-1.06zM30 11h1.06v1.06h-1.06zM23 13h1.06v1.06h-1.06zM25 13h1.06v1.06h-1.06zM30 13h1.06v1.06h-1.06zM23 14h1.06v1.06h-1.06zM24 14h1.06v1.06h-1.06zM29 14h1.06v1.06h-1.06zM22 15h1.06v1.06h-1.06zM23 17h1.06v1.06h-1.06zM24 17h1.06v1.06h-1.06zM30 17h1.06v1.06h-1.06zM8 18h1.06v1.06h-1.06zM22 18h1.06v1.06h-1.06zM23 18h1.06v1.06h-1.06zM29 19h1.06v1.06h-1.06zM29 20h1.06v1.06h-1.06zM25 21h1.06v1.06h-1.06zM31 21h1.06v1.06h-1.06zM28 22h1.06v1.06h-1.06zM3 24h1.06v1.06h-1.06zM25 24h1.06v1.06h-1.06zM24 27h1.06v1.06h-1.06zM22 29h1.06v1.06h-1.06zM25 29h1.06v1.06h-1.06zM30 29h1.06v1.06h-1.06zM26 30h1.06v1.06h-1.06zM22 31h1.06v1.06h-1.06zM26 31h1.06v1.06h-1.06zM7 32h1.06v1.06h-1.06zM30 32h1.06v1.06h-1.06zM28 34h1.06v1.06h-1.06zM21 35h1.06v1.06h-1.06zM22 35h1.06v1.06h-1.06zM24 35h1.06v1.06h-1.06zM6 36h1.06v1.06h-1.06zM27 36h1.06v1.06h-1.06zM22 37h1.06v1.06h-1.06zM28 37h1.06v1.06h-1.06zM29 37h1.06v1.06h-1.06zM29 38h1.06v1.06h-1.06zM28 39h1.06v1.06h-1.06zM22 40h1.06v1.06h-1.06zM30 40h1.06v1.06h-1.06zM22 41h1.06v1.06h-1.06zM24 41h1.06v1.06h-1.06zM29 41h1.06v1.06h-1.06zM27 44h1.06v1.06h-1.06zM28 44h1.06v1.06h-1.06zM29 44h1.06v1.06h-1.06zM28 45h1.06v1.06h-1.06zM29 45h1.06v1.06h-1.06zM26 46h1.06v1.06h-1.06zM22 50h1.06v1.06h-1.06zM12 51h1.06v1.06h-1.06zM28 51h1.06v1.06h-1.06zM29 51h1.06v1.06h-1.06zM30 52h1.06v1.06h-1.06zM14 55h1.06v1.06h-1.06zM8 58h1.06v1.06h-1.06zM18 58h1.06v1.06h-1.06zM23 61h1.06v1.06h-1.06zM20 62h1.06v1.06h-1.06zM21 65h1.06v1.06h-1.06zM27 67h1.06v1.06h-1.06zM43 67h1.06v1.06h-1.06z"/>
<path fill="#ff5656" d="M30 1h1.06v1.06h-1.06zM25 3h1.06v1.06h-1.06zM30 3h1.06v1.06h-1.06zM25 4h1.06v1.06h-1.06zM30 4h1.06v1.06h-1.06zM24 5h1.06v1.06h-1.06zM26 5h1.06v1.06h-1.06zM29 6h1.06v1.06h-1.06zM25 7h1.06v1.06h-1.06zM28 7h1.06v1.06h-1.06zM30 8h1.06v1.06h-1.06zM23 9h1.06v1.06h-1.06zM28 10h1.06v1.06h-1.06zM23 11h1.06v1.06h-1.06zM24 12h1.06v1.06h-1.06zM25 12h1.06v1.06h-1.06zM29 12h1.06v1.06h-1.06zM26 13h1.06v1.06h-1.06zM24 16h1.06v1.06h-1.06zM25 16h1.06v1.06h-1.06zM29 16h1.06v1.06h-1.06zM26 17h1.06v1.06h-1.06zM1 19h1.06v1.06h-1.06zM23 19h1.06v1.06h-1.06zM23 20h1.06v1.06h-1.06zM25 20h1.06v1.06h-1.06zM28 20h1.06v1.06h-1.06zM23 22h1.06v1.06h-1.06zM24 23h1.06v1.06h-1.06zM24 24h1.06v1.06h-1.06zM28 25h1.06v1.06h-1.06zM26 26h1.06v1.06h-1.06zM28 26h1.06v1.06h-1.06zM29 26h1.06v1.06h-1.06zM25 27h1.06v1.06h-1.06zM26 27h1.06v1.06h-1.06zM28 28h1.06v1.06h-1.06zM30 28h1.06v1.06h-1.06zM28 29h1.06v1.06h-1.06zM24 30h1.06v1.06h-1.06zM29 30h1.06v1.06h-1.06zM28 31h1.06v1.06h-1.06zM25 36h1.06v1.06h-1.06zM6 38h1.06v1.06h-1.06zM28 38h1.06v1.06h-1.06zM26 41h1.06v1.06h-1.06zM27 41h1.06v1.06h-1.06zM26 42h1.06v1.06h-1.06zM28 42h1.06v1.06h-1.06zM27 43h1.06v1.06h-1.06zM9 46h1.06v1.06h-1.06zM12 46h1.06v1.06h-1.06zM28 46h1.06v1.06h-1.06zM0 47h1.06v1.06h-1.06zM23 47h1.06v1.06h-1.06zM26 48h1.06v1.06h-1.06zM3 49h1.06v1.06h-1.06zM26 49h1.06v1.06h-1.06zM29 49h1.06v1.06h-1.06zM26 50h1.06v1.06h-1.06zM28 50h1.06v1.06h-1.06zM23 51h1.06v1.06h-1.06zM25 51h1.06v1.06h-1.06zM26 51h1.06v1.06h-1.06zM23 52h1.06v1.06h-1.06zM50 55h1.06v1.06h-1.06zM20 57h1.06v1.06h-1.06zM13 60h1.06v1.06h-1.06zM5 65h1.06v1.06h-1.06zM20 67h1.06v1.06h-1.06z"/>
<path fill="#ff4e4e" d="M25 0h1.06v1.06h-1.06zM28 0h1.06v1.06h-1.06zM23 1h1.06v1.06h-1.06zM26 2h1.06v1.06h-1.06zM28 3h1.06v1.06h-1.06zM26 4h1.06v1.06h-1.06zM28 4h1.06v1.06h-1.06zM29 4h1.06v1.06h-1.06zM30 5h1.06v1.06h-1.06zM27 6h1.06v1.06h-1.06zM24 7h1.06v1.06h-1.06zM26 7h1.06v1.06h-1.06zM9 8h1.06v1.06h-1.06zM7 9h1.06v1.06h-1.06zM26 9h1.06v1.06h-1.06zM28 9h1.06v1.06h-1.06zM24 10h1.06v1.06h-1.06zM29 10h1.06v1.06h-1.06zM23 12h1.06v1.06h-1.06zM27 12h1.06v1.06h-1.06zM28 12h1.06v1.06h-1.06zM27 13h1.06v1.06h-1.06zM28 15h1.06v1.06h-1.06zM27 16h1.06v1.06h-1.06zM26 19h1.06v1.06h-1.06zM24 20h1.06v1.06h-1.06zM1 21h1.06v1.06h-1.06zM24 22h1.06v1.06h-1.06zM23 23h1.06v1.06h-1.06zM28 23h1.06v1.06h-1.06zM23 24h1.06v1.06h-1.06zM26 24h1.06v1.06h-1.06zM28 24h1.06v1.06h-1.06zM4 25h1.06v1.06h-1.06zM24 26h1.06v1.06h-1.06zM25 26h1.06v1.06h-1.06zM27 26h1.06v1.06h-1.06zM5 27h1.06v1.06h-1.06zM28 27h1.06v1.06h-1.06zM23 28h1.06v1.06h-1.06zM26 28h1.06v1.06h-1.06zM24 29h1.06v1.06h-1.06zM25 30h1.06v1.06h-1.06zM27 30h1.06v1.06h-1.06zM25 32h1.06v1.06h-1.06zM23 33h1.06v1.06h-1.06zM24 33h1.06v1.06h-1.06zM27 33h1.06v1.06h-1.06zM31 33h1.06v1.06h-1.06zM23 34h1.06v1.06h-1.06zM26 34h1.06v1.06h-1.06zM27 35h1.06v1.06h-1.06zM26 36h1.06v1.06h-1.06zM2 37h1.06v1.06h-1.06zM23 37h1.06v1.06h-1.06zM24 37h1.06v1.06h-1.06zM23 38h1.06v1.06h-1.06zM25 38h1.06v1.06h-1.06zM26 38h1.06v1.06h-1.06zM27 38h1.06v1.06h-1.06zM27 39h1.06v1.06h-1.06zM23 40h1.06v1.06h-1.06zM27 40h1.06v1.06h-1.06zM22 42h1.06v1.06h-1.06zM27 42h1.06v1.06h-1.06zM5 43h1.06v1.06h-1.06zM25 43h1.06v1.06h-1.06zM24 44h1.06v1.06h-1.06zM25 44h1.06v1.06h-1.06zM22 46h1.06v1.06h-1.06zM27 46h1.06v1.06h-1.06zM24 47h1.06v1.06h-1.06zM25 47h1.06v1.06h-1.06zM26 47h1.06v1.06h-1.06zM28 47h1.06v1.06h-1.06zM24 48h1.06v1.06h-1.06zM25 48h1.06v1.06h-1.06zM27 48h1.06v1.06h-1.06zM29 48h1.06v1.06h-1.06zM23 49h1.06v1.06h-1.06zM0 50h1.06v1.06h-1.06zM0 51h1.06v1.06h-1.06zM27 51h1.06v1.06h-1.06zM19 54h1.06v1.06h-1.06zM17 59h1.06v1.06h-1.06zM3 63h1.06v1.06h-1.06zM6 65h1.06v1.06h-1.06zM24 67h1.06v1.06h-1.06z"/>
<path fill="#ff4545" d="M29 1h1.06v1.06h-1.06zM2 2h1.06v1.06h-1.06zM25 2h1.06v1.06h-1.06zM28 5h1.06v1.06h-1.06zM26 8h1.06v1.06h-1.06zM26 10h1.06v1.06h-1.06zM27 10h1.06v1.06h-1.06zM28 13h1.06v1.06h-1.06zM26 14h1.06v1.06h-1.06zM26 15h1.06v1.06h-1.06zM29 15h1.06v1.06h-1.06zM29 17h1.06v1.06h-1.06zM7 18h1.06v1.06h-1.06zM24 18h1.06v1.06h-1.06zM26 18h1.06v1.06h-1.06zM28 18h1.06v1.06h-1.06zM27 20h1.06v1.06h-1.06zM24 21h1.06v1.06h-1.06zM26 22h1.06v1.06h-1.06zM27 22h1.06v1.06h-1.06zM29 24h1.06v1.06h-1.06zM24 25h1.06v1.06h-1.06zM9 26h1.06v1.06h-1.06zM23 27h1.06v1.06h-1.06zM24 28h1.06v1.06h-1.06zM25 28h1.06v1.06h-1.06zM27 28h1.06v1.06h-1.06zM29 28h1.06v1.06h-1.06zM26 29h1.06v1.06h-1.06zM23 30h1.06v1.06h-1.06zM23 31h1.06v1.06h-1.06zM25 31h1.06v1.06h-1.06zM24 32h1.06v1.06h-1.06zM22 33h1.06v1.06h-1.06zM25 33h1.06v1.06h-1.06zM25 34h1.06v1.06h-1.06zM8 35h1.06v1.06h-1.06zM25 35h1.06v1.06h-1.06zM22 36h1.06v1.06h-1.06zM24 36h1.06v1.06h-1.06zM25 37h1.06v1.06h-1.06zM24 38h1.06v1.06h-1.06zM23 39h1.06v1.06h-1.06zM24 39h1.06v1.06h-1.06zM25 39h1.06v1.06h-1.06zM26 39h1.06v1.06h-1.06zM24 40h1.06v1.06h-1.06zM26 40h1.06v1.06h-1.06zM25 41h1.06v1.06h-1.06zM8 43h1.06v1.06h-1.06zM22 43h1.06v1.06h-1.06zM24 43h1.06v1.06h-1.06zM24 45h1.06v1.06h-1.06zM26 45h1.06v1.06h-1.06zM7 52h1.06v1.06h-1.06zM21 54h1.06v1.06h-1.06zM1 56h1.06v1.06h-1.06zM7 56h1.06v1.06h-1.06zM20 58h1.06v1.06h-1.06zM18 65h1.06v1.06h-1.06z"/>
<path fill="#ff3d3d" d="M27 1h1.06v1.06h-1.06zM28 2h1.06v1.06h-1.06zM27 3h1.06v1.06h-1.06zM27 5h1.06v1.06h-1.06zM27 7h1.06v1.06h-1.06zM27 8h1.06v1.06h-1.06zM25 9h1.06v1.06h-1.06zM27 9h1.06v1.06h-1.06zM29 11h1.06v1.06h-1.06zM26 12h1.06v1.06h-1.06zM24 13h1.06v1.06h-1.06zM25 14h1.06v1.06h-1.06zM28 16h1.06v1.06h-1.06zM25 17h1.06v1.06h-1.06zM28 17h1.06v1.06h-1.06zM27 19h1.06v1.06h-1.06zM26 20h1.06v1.06h-1.06zM26 21h1.06v1.06h-1.06zM27 21h1.06v1.06h-1.06zM4 22h1.06v1.06h-1.06zM25 22h1.06v1.06h-1.06zM25 23h1.06v1.06h-1.06zM26 23h1.06v1.06h-1.06zM27 24h1.06v1.06h-1.06zM23 25h1.06v1.06h-1.06zM25 25h1.06v1.06h-1.06zM26 25h1.06v1.06h-1.06zM27 27h1.06v1.06h-1.06zM23 29h1.06v1.06h-1.06zM27 29h1.06v1.06h-1.06zM26 32h1.06v1.06h-1.06zM27 32h1.06v1.06h-1.06zM24 34h1.06v1.06h-1.06zM26 35h1.06v1.06h-1.06zM23 36h1.06v1.06h-1.06zM26 37h1.06v1.06h-1.06zM4 40h1.06v1.06h-1.06zM6 40h1.06v1.06h-1.06zM23 42h1.06v1.06h-1.06zM24 42h1.06v1.06h-1.06zM2 43h1.06v1.06h-1.06zM23 44h1.06v1.06h-1.06zM25 45h1.06v1.06h-1.06zM23 46h1.06v1.06h-1.06zM27 47h1.06v1.06h-1.06zM23 48h1.06v1.06h-1.06zM24 49h1.06v1.06h-1.06zM25 49h1.06v1.06h-1.06zM28 49h1.06v1.06h-1.06zM23 50h1.06v1.06h-1.06zM4 51h1.06v1.06h-1.06zM6 51h1.06v1.06h-1.06zM21 52h1.06v1.06h-1.06zM17 63h1.06v1.06h-1.06zM20 68h1.06v1.06h-1.06z"/>
<path fill="#ff3434" d="M27 0h1.06v1.06h-1.06zM27 4h1.06v1.06h-1.06zM26 11h1.06v1.06h-1.06zM10 15h1.06v1.06h-1.06zM25 15h1.06v1.06h-1.06zM27 17h1.06v1.06h-1.06zM25 18h1.06v1.06h-1.06zM27 18h1.06v1.06h-1.06zM28 19h1.06v1.06h-1.06zM27 23h1.06v1.06h-1.06zM8 24h1.06v1.06h-1.06zM22 26h1.06v1.06h-1.06zM24 31h1.06v1.06h-1.06zM23 32h1.06v1.06h-1.06zM23 35h1.06v1.06h-1.06zM27 37h1.06v1.06h-1.06zM23 41h1.06v1.06h-1.06zM3 42h1.06v1.06h-1.06zM3 44h1.06v1.06h-1.06zM27 45h1.06v1.06h-1.06zM6 59h1.06v1.06h-1.06zM0 64h1.06v1.06h-1.06zM20 66h1.06v1.06h-1.06z"/>
<path fill="#ff2b2b" d="M27 11h1.06v1.06h-1.06zM27 14h1.06v1.06h-1.06zM27 15h1.06v1.06h-1.06zM26 16h1.06v1.06h-1.06zM23 26h1.06v1.06h-1.06zM28 36h1.06v1.06h-1.06zM25 42h1.06v1.06h-1.06zM2 44h1.06v1.06h-1.06zM3 51h1.06v1.06h-1.06zM8 51h1.06v1.06h-1.06zM3 59h1.06v1.06h-1.06z"/>
<path fill="#ff2323" d="M28 14h1.06v1.06h-1.06zM9 18h1.06v1.06h-1.06zM4 24h1.06v1.06h-1.06zM4 33h1.06v1.06h-1.06zM1 35h1.06v1.06h-1.06zM3 45h1.06v1.06h-1.06zM2 52h1.06v1.06h-1.06zM0 53h1.06v1.06h-1.06zM17 61h1.06v1.06h-1.06z"/>
<path fill="#ff1a1a" d="M8 21h1.06v1.06h-1.06zM5 24h1.06v1.06h-1.06zM6 32h1.06v1.06h-1.06zM6 37h1.06v1.06h-1.06zM35 51h1.06v1.06h-1.06z"/>
<path fill="#ff1111" d="M5 18h1.06v1.06h-1.06zM9 31h1.06v1.06h-1.06zM1 37h1.06v1.06h-1.06zM1 53h1.06v1.06h-1.06zM20 54h1.06v1.06h-1.06zM2 58h1.06v1.06h-1.06zM18 63h1.06v1.06h-1.06z"/>
<path fill="#ff0909" d="M42 7h1.06v1.06h-1.06zM5 54h1.06v1.06h-1.06z"/>
<path fill="#ff0000" d="M2 0h1.06v1.06h-1.06zM3 0h1.06v1.06h-1.06zM5 8h1.06v1.06h-1.06zM4 19h1.06v1.06h-1.06zM7 19h1.06v1.06h-1.06zM7 20h1.06v1.06h-1.06zM5 21h1.06v1.06h-1.06zM2 24h1.06v1.06h-1.06zM9 24h1.06v1.06h-1.06zM8 25h1.06v1.06h-1.06zM7 26h1.06v1.06h-1.06zM9 29h1.06v1.06h-1.06zM7 30h1.06v1.06h-1.06zM8 30h1.06v1.06h-1.06zM8 31h1.06v1.06h-1.06zM6 34h1.06v1.06h-1.06zM10 34h1.06v1.06h-1.06zM1 36h1.06v1.06h-1.06zM2 36h1.06v1.06h-1.06zM0 38h1.06v1.06h-1.06zM1 38h1.06v1.06h-1.06zM4 38h1.06v1.06h-1.06zM1 40h1.06v1.06h-1.06zM11 43h1.06v1.06h-1.06zM0 44h1.06v1.06h-1.06zM1 44h1.06v1.06h-1.06zM4 44h1.06v1.06h-1.06zM3 46h1.06v1.06h-1.06zM1 47h1.06v1.06h-1.06zM2 48h1.06v1.06h-1.06zM5 48h1.06v1.06h-1.06zM0 49h1.06v1.06h-1.06zM2 50h1.06v1.06h-1.06zM11 50h1.06v1.06h-1.06zM2 51h1.06v1.06h-1.06zM0 54h1.06v1.06h-1.06zM1 55h1.06v1.06h-1.06zM4 55h1.06v1.06h-1.06zM2 57h1.06v1.06h-1.06zM5 57h1.06v1.06h-1.06zM7 58h1.06v1.06h-1.06zM16 59h1.06v1.06h-1.06zM16 61h1.06v1.06h-1.06zM15 64h1.06v1.06h-1.06zM2 65h1.06v1.06h-1.06zM4 66h1.06v1.06h-1.06zM19 68h1.06v1.06h-1.06z"/>
</g>
<defs><g id="gl"><path d="M0 -6.7 L-6.4 0.1 L-6.0 0.5 L0 -3.1 L6.0 0.7 L6.4 0.3 Z" fill="#000"/><path d="M-0.7 -4.2 L0.7 -4.2 L0.45 -0.4 L-0.45 -0.4 Z" fill="#000"/></g></defs>
<clipPath id="mapclip"><rect x="414" y="11" width="231" height="312"/></clipPath><g clip-path="url(#mapclip)"><use href="#gl" transform="translate(416.5,23.1) rotate(3)"/><use href="#gl" transform="translate(430.1,23.1) rotate(6)"/><use href="#gl" transform="translate(443.6,23.1) rotate(13)"/><use href="#gl" transform="translate(457.2,23.1) rotate(8)"/><use href="#gl" transform="translate(470.7,23.1) rotate(0)"/><use href="#gl" transform="translate(484.3,23.1) rotate(-8)"/><use href="#gl" transform="translate(497.9,23.1) rotate(-22)"/><use href="#gl" transform="translate(511.4,23.1) rotate(-39)"/><use href="#gl" transform="translate(525.0,23.1) rotate(-53)"/><use href="#gl" transform="translate(538.5,23.1) rotate(-64)"/><use href="#gl" transform="translate(552.1,23.1) rotate(-56)"/><use href="#gl" transform="translate(565.7,23.1) rotate(-41)"/><use href="#gl" transform="translate(579.2,23.1) rotate(-26)"/><use href="#gl" transform="translate(592.8,23.1) rotate(-24)"/><use href="#gl" transform="translate(606.3,23.1) rotate(-23)"/><use href="#gl" transform="translate(619.9,23.1) rotate(-22)"/><use href="#gl" transform="translate(633.5,23.1) rotate(-22)"/><use href="#gl" transform="translate(416.5,36.7) rotate(19)"/><use href="#gl" transform="translate(430.1,36.7) rotate(22)"/><use href="#gl" transform="translate(443.6,36.7) rotate(22)"/><use href="#gl" transform="translate(457.2,36.7) rotate(13)"/><use href="#gl" transform="translate(470.7,36.7) rotate(3)"/><use href="#gl" transform="translate(484.3,36.7) rotate(-8)"/><use href="#gl" transform="translate(497.9,36.7) rotate(-21)"/><use href="#gl" transform="translate(511.4,36.7) rotate(-38)"/><use href="#gl" transform="translate(525.0,36.7) rotate(-54)"/><use href="#gl" transform="translate(538.5,36.7) rotate(-65)"/><use href="#gl" transform="translate(552.1,36.7) rotate(-56)"/><use href="#gl" transform="translate(565.7,36.7) rotate(-43)"/><use href="#gl" transform="translate(579.2,36.7) rotate(-27)"/><use href="#gl" transform="translate(592.8,36.7) rotate(-24)"/><use href="#gl" transform="translate(606.3,36.7) rotate(-23)"/><use href="#gl" transform="translate(619.9,36.7) rotate(-22)"/><use href="#gl" transform="translate(633.5,36.7) rotate(-22)"/><use href="#gl" transform="translate(416.5,50.2) rotate(31)"/><use href="#gl" transform="translate(430.1,50.2) rotate(29)"/><use href="#gl" transform="translate(443.6,50.2) rotate(23)"/><use href="#gl" transform="translate(457.2,50.2) rotate(15)"/><use href="#gl" transform="translate(470.7,50.2) rotate(5)"/><use href="#gl" transform="translate(484.3,50.2) rotate(-9)"/><use href="#gl" transform="translate(497.9,50.2) rotate(-22)"/><use href="#gl" transform="translate(511.4,50.2) rotate(-39)"/><use href="#gl" transform="translate(525.0,50.2) rotate(-55)"/><use href="#gl" transform="translate(538.5,50.2) rotate(-65)"/><use href="#gl" transform="translate(552.1,50.2) rotate(-56)"/><use href="#gl" transform="translate(565.7,50.2) rotate(-42)"/><use href="#gl" transform="translate(579.2,50.2) rotate(-27)"/><use href="#gl" transform="translate(592.8,50.2) rotate(-25)"/><use href="#gl" transform="translate(606.3,50.2) rotate(-24)"/><use href="#gl" transform="translate(619.9,50.2) rotate(-23)"/><use href="#gl" transform="translate(633.5,50.2) rotate(-22)"/><use href="#gl" transform="translate(416.5,63.8) rotate(30)"/><use href="#gl" transform="translate(430.1,63.8) rotate(31)"/><use href="#gl" transform="translate(443.6,63.8) rotate(30)"/><use href="#gl" transform="translate(457.2,63.8) rotate(26)"/><use href="#gl" transform="translate(470.7,63.8) rotate(10)"/><use href="#gl" transform="translate(484.3,63.8) rotate(-9)"/><use href="#gl" transform="translate(497.9,63.8) rotate(-22)"/><use href="#gl" transform="translate(511.4,63.8) rotate(-40)"/><use href="#gl" transform="translate(525.0,63.8) rotate(-56)"/><use href="#gl" transform="translate(538.5,63.8) rotate(-65)"/><use href="#gl" transform="translate(552.1,63.8) rotate(-55)"/><use href="#gl" transform="translate(565.7,63.8) rotate(-41)"/><use href="#gl" transform="translate(579.2,63.8) rotate(-26)"/><use href="#gl" transform="translate(592.8,63.8) rotate(-24)"/><use href="#gl" transform="translate(606.3,63.8) rotate(-23)"/><use href="#gl" transform="translate(619.9,63.8) rotate(-23)"/><use href="#gl" transform="translate(633.5,63.8) rotate(-23)"/><use href="#gl" transform="translate(416.5,77.3) rotate(32)"/><use href="#gl" transform="translate(430.1,77.3) rotate(33)"/><use href="#gl" transform="translate(443.6,77.3) rotate(34)"/><use href="#gl" transform="translate(457.2,77.3) rotate(24)"/><use href="#gl" transform="translate(470.7,77.3) rotate(10)"/><use href="#gl" transform="translate(484.3,77.3) rotate(-8)"/><use href="#gl" transform="translate(497.9,77.3) rotate(-22)"/><use href="#gl" transform="translate(511.4,77.3) rotate(-41)"/><use href="#gl" transform="translate(525.0,77.3) rotate(-58)"/><use href="#gl" transform="translate(538.5,77.3) rotate(-65)"/><use href="#gl" transform="translate(552.1,77.3) rotate(-54)"/><use href="#gl" transform="translate(565.7,77.3) rotate(-40)"/><use href="#gl" transform="translate(579.2,77.3) rotate(-27)"/><use href="#gl" transform="translate(592.8,77.3) rotate(-26)"/><use href="#gl" transform="translate(606.3,77.3) rotate(-25)"/><use href="#gl" transform="translate(619.9,77.3) rotate(-23)"/><use href="#gl" transform="translate(633.5,77.3) rotate(-23)"/><use href="#gl" transform="translate(416.5,90.9) rotate(23)"/><use href="#gl" transform="translate(430.1,90.9) rotate(23)"/><use href="#gl" transform="translate(443.6,90.9) rotate(14)"/><use href="#gl" transform="translate(457.2,90.9) rotate(7)"/><use href="#gl" transform="translate(470.7,90.9) rotate(0)"/><use href="#gl" transform="translate(484.3,90.9) rotate(-7)"/><use href="#gl" transform="translate(497.9,90.9) rotate(-21)"/><use href="#gl" transform="translate(511.4,90.9) rotate(-42)"/><use href="#gl" transform="translate(525.0,90.9) rotate(-59)"/><use href="#gl" transform="translate(538.5,90.9) rotate(-65)"/><use href="#gl" transform="translate(552.1,90.9) rotate(-53)"/><use href="#gl" transform="translate(565.7,90.9) rotate(-39)"/><use href="#gl" transform="translate(579.2,90.9) rotate(-27)"/><use href="#gl" transform="translate(592.8,90.9) rotate(-26)"/><use href="#gl" transform="translate(606.3,90.9) rotate(-26)"/><use href="#gl" transform="translate(619.9,90.9) rotate(-25)"/><use href="#gl" transform="translate(633.5,90.9) rotate(-25)"/><use href="#gl" transform="translate(416.5,104.5) rotate(12)"/><use href="#gl" transform="translate(430.1,104.5) rotate(0)"/><use href="#gl" transform="translate(443.6,104.5) rotate(-28)"/><use href="#gl" transform="translate(457.2,104.5) rotate(-25)"/><use href="#gl" transform="translate(470.7,104.5) rotate(-11)"/><use href="#gl" transform="translate(484.3,104.5) rotate(-6)"/><use href="#gl" transform="translate(497.9,104.5) rotate(-19)"/><use href="#gl" transform="translate(511.4,104.5) rotate(-43)"/><use href="#gl" transform="translate(525.0,104.5) rotate(-61)"/><use href="#gl" transform="translate(538.5,104.5) rotate(-64)"/><use href="#gl" transform="translate(552.1,104.5) rotate(-51)"/><use href="#gl" transform="translate(565.7,104.5) rotate(-38)"/><use href="#gl" transform="translate(579.2,104.5) rotate(-28)"/><use href="#gl" transform="translate(592.8,104.5) rotate(-27)"/><use href="#gl" transform="translate(606.3,104.5) rotate(-27)"/><use href="#gl" transform="translate(619.9,104.5) rotate(-27)"/><use href="#gl" transform="translate(633.5,104.5) rotate(-26)"/><use href="#gl" transform="translate(416.5,118.0) rotate(8)"/><use href="#gl" transform="translate(430.1,118.0) rotate(1)"/><use href="#gl" transform="translate(443.6,118.0) rotate(-14)"/><use href="#gl" transform="translate(457.2,118.0) rotate(-13)"/><use href="#gl" transform="translate(470.7,118.0) rotate(-6)"/><use href="#gl" transform="translate(484.3,118.0) rotate(-5)"/><use href="#gl" transform="translate(497.9,118.0) rotate(-18)"/><use href="#gl" transform="translate(511.4,118.0) rotate(-42)"/><use href="#gl" transform="translate(525.0,118.0) rotate(-62)"/><use href="#gl" transform="translate(538.5,118.0) rotate(-63)"/><use href="#gl" transform="translate(552.1,118.0) rotate(-49)"/><use href="#gl" transform="translate(565.7,118.0) rotate(-38)"/><use href="#gl" transform="translate(579.2,118.0) rotate(-29)"/><use href="#gl" transform="translate(592.8,118.0) rotate(-28)"/><use href="#gl" transform="translate(606.3,118.0) rotate(-27)"/><use href="#gl" transform="translate(619.9,118.0) rotate(-27)"/><use href="#gl" transform="translate(633.5,118.0) rotate(-27)"/><use href="#gl" transform="translate(416.5,131.6) rotate(13)"/><use href="#gl" transform="translate(430.1,131.6) rotate(2)"/><use href="#gl" transform="translate(443.6,131.6) rotate(-7)"/><use href="#gl" transform="translate(457.2,131.6) rotate(-6)"/><use href="#gl" transform="translate(470.7,131.6) rotate(-2)"/><use href="#gl" transform="translate(484.3,131.6) rotate(-5)"/><use href="#gl" transform="translate(497.9,131.6) rotate(-17)"/><use href="#gl" transform="translate(511.4,131.6) rotate(-43)"/><use href="#gl" transform="translate(525.0,131.6) rotate(-63)"/><use href="#gl" transform="translate(538.5,131.6) rotate(-64)"/><use href="#gl" transform="translate(552.1,131.6) rotate(-50)"/><use href="#gl" transform="translate(565.7,131.6) rotate(-38)"/><use href="#gl" transform="translate(579.2,131.6) rotate(-30)"/><use href="#gl" transform="translate(592.8,131.6) rotate(-29)"/><use href="#gl" transform="translate(606.3,131.6) rotate(-28)"/><use href="#gl" transform="translate(619.9,131.6) rotate(-27)"/><use href="#gl" transform="translate(633.5,131.6) rotate(-27)"/><use href="#gl" transform="translate(416.5,145.1) rotate(24)"/><use href="#gl" transform="translate(430.1,145.1) rotate(15)"/><use href="#gl" transform="translate(443.6,145.1) rotate(3)"/><use href="#gl" transform="translate(457.2,145.1) rotate(-2)"/><use href="#gl" transform="translate(470.7,145.1) rotate(-2)"/><use href="#gl" transform="translate(484.3,145.1) rotate(-5)"/><use href="#gl" transform="translate(497.9,145.1) rotate(-17)"/><use href="#gl" transform="translate(511.4,145.1) rotate(-42)"/><use href="#gl" transform="translate(525.0,145.1) rotate(-63)"/><use href="#gl" transform="translate(538.5,145.1) rotate(-64)"/><use href="#gl" transform="translate(552.1,145.1) rotate(-50)"/><use href="#gl" transform="translate(565.7,145.1) rotate(-38)"/><use href="#gl" transform="translate(579.2,145.1) rotate(-31)"/><use href="#gl" transform="translate(592.8,145.1) rotate(-29)"/><use href="#gl" transform="translate(606.3,145.1) rotate(-28)"/><use href="#gl" transform="translate(619.9,145.1) rotate(-28)"/><use href="#gl" transform="translate(633.5,145.1) rotate(-28)"/><use href="#gl" transform="translate(416.5,158.7) rotate(18)"/><use href="#gl" transform="translate(430.1,158.7) rotate(12)"/><use href="#gl" transform="translate(443.6,158.7) rotate(-0)"/><use href="#gl" transform="translate(457.2,158.7) rotate(-9)"/><use href="#gl" transform="translate(470.7,158.7) rotate(-4)"/><use href="#gl" transform="translate(484.3,158.7) rotate(-5)"/><use href="#gl" transform="translate(497.9,158.7) rotate(-18)"/><use href="#gl" transform="translate(511.4,158.7) rotate(-45)"/><use href="#gl" transform="translate(525.0,158.7) rotate(-64)"/><use href="#gl" transform="translate(538.5,158.7) rotate(-63)"/><use href="#gl" transform="translate(552.1,158.7) rotate(-49)"/><use href="#gl" transform="translate(565.7,158.7) rotate(-38)"/><use href="#gl" transform="translate(579.2,158.7) rotate(-32)"/><use href="#gl" transform="translate(592.8,158.7) rotate(-30)"/><use href="#gl" transform="translate(606.3,158.7) rotate(-29)"/><use href="#gl" transform="translate(619.9,158.7) rotate(-30)"/><use href="#gl" transform="translate(633.5,158.7) rotate(-30)"/><use href="#gl" transform="translate(416.5,172.3) rotate(-10)"/><use href="#gl" transform="translate(430.1,172.3) rotate(-5)"/><use href="#gl" transform="translate(443.6,172.3) rotate(-1)"/><use href="#gl" transform="translate(457.2,172.3) rotate(-0)"/><use href="#gl" transform="translate(470.7,172.3) rotate(1)"/><use href="#gl" transform="translate(484.3,172.3) rotate(-5)"/><use href="#gl" transform="translate(497.9,172.3) rotate(-19)"/><use href="#gl" transform="translate(511.4,172.3) rotate(-46)"/><use href="#gl" transform="translate(525.0,172.3) rotate(-64)"/><use href="#gl" transform="translate(538.5,172.3) rotate(-61)"/><use href="#gl" transform="translate(552.1,172.3) rotate(-48)"/><use href="#gl" transform="translate(565.7,172.3) rotate(-39)"/><use href="#gl" transform="translate(579.2,172.3) rotate(-34)"/><use href="#gl" transform="translate(592.8,172.3) rotate(-33)"/><use href="#gl" transform="translate(606.3,172.3) rotate(-33)"/><use href="#gl" transform="translate(619.9,172.3) rotate(-33)"/><use href="#gl" transform="translate(633.5,172.3) rotate(-32)"/><use href="#gl" transform="translate(416.5,185.8) rotate(-40)"/><use href="#gl" transform="translate(430.1,185.8) rotate(-23)"/><use href="#gl" transform="translate(443.6,185.8) rotate(2)"/><use href="#gl" transform="translate(457.2,185.8) rotate(9)"/><use href="#gl" transform="translate(470.7,185.8) rotate(8)"/><use href="#gl" transform="translate(484.3,185.8) rotate(-5)"/><use href="#gl" transform="translate(497.9,185.8) rotate(-19)"/><use href="#gl" transform="translate(511.4,185.8) rotate(-45)"/><use href="#gl" transform="translate(525.0,185.8) rotate(-63)"/><use href="#gl" transform="translate(538.5,185.8) rotate(-60)"/><use href="#gl" transform="translate(552.1,185.8) rotate(-48)"/><use href="#gl" transform="translate(565.7,185.8) rotate(-39)"/><use href="#gl" transform="translate(579.2,185.8) rotate(-36)"/><use href="#gl" transform="translate(592.8,185.8) rotate(-36)"/><use href="#gl" transform="translate(606.3,185.8) rotate(-35)"/><use href="#gl" transform="translate(619.9,185.8) rotate(-36)"/><use href="#gl" transform="translate(633.5,185.8) rotate(-34)"/><use href="#gl" transform="translate(416.5,199.4) rotate(-26)"/><use href="#gl" transform="translate(430.1,199.4) rotate(-19)"/><use href="#gl" transform="translate(443.6,199.4) rotate(4)"/><use href="#gl" transform="translate(457.2,199.4) rotate(8)"/><use href="#gl" transform="translate(470.7,199.4) rotate(3)"/><use href="#gl" transform="translate(484.3,199.4) rotate(-9)"/><use href="#gl" transform="translate(497.9,199.4) rotate(-22)"/><use href="#gl" transform="translate(511.4,199.4) rotate(-46)"/><use href="#gl" transform="translate(525.0,199.4) rotate(-63)"/><use href="#gl" transform="translate(538.5,199.4) rotate(-60)"/><use href="#gl" transform="translate(552.1,199.4) rotate(-48)"/><use href="#gl" transform="translate(565.7,199.4) rotate(-39)"/><use href="#gl" transform="translate(579.2,199.4) rotate(-37)"/><use href="#gl" transform="translate(592.8,199.4) rotate(-37)"/><use href="#gl" transform="translate(606.3,199.4) rotate(-35)"/><use href="#gl" transform="translate(619.9,199.4) rotate(-35)"/><use href="#gl" transform="translate(633.5,199.4) rotate(-35)"/><use href="#gl" transform="translate(416.5,212.9) rotate(-30)"/><use href="#gl" transform="translate(430.1,212.9) rotate(-22)"/><use href="#gl" transform="translate(443.6,212.9) rotate(6)"/><use href="#gl" transform="translate(457.2,212.9) rotate(7)"/><use href="#gl" transform="translate(470.7,212.9) rotate(2)"/><use href="#gl" transform="translate(484.3,212.9) rotate(-11)"/><use href="#gl" transform="translate(497.9,212.9) rotate(-23)"/><use href="#gl" transform="translate(511.4,212.9) rotate(-46)"/><use href="#gl" transform="translate(525.0,212.9) rotate(-63)"/><use href="#gl" transform="translate(538.5,212.9) rotate(-58)"/><use href="#gl" transform="translate(552.1,212.9) rotate(-47)"/><use href="#gl" transform="translate(565.7,212.9) rotate(-40)"/><use href="#gl" transform="translate(579.2,212.9) rotate(-37)"/><use href="#gl" transform="translate(592.8,212.9) rotate(-37)"/><use href="#gl" transform="translate(606.3,212.9) rotate(-36)"/><use href="#gl" transform="translate(619.9,212.9) rotate(-36)"/><use href="#gl" transform="translate(633.5,212.9) rotate(-35)"/><use href="#gl" transform="translate(416.5,226.5) rotate(-29)"/><use href="#gl" transform="translate(430.1,226.5) rotate(-17)"/><use href="#gl" transform="translate(443.6,226.5) rotate(7)"/><use href="#gl" transform="translate(457.2,226.5) rotate(14)"/><use href="#gl" transform="translate(470.7,226.5) rotate(6)"/><use href="#gl" transform="translate(484.3,226.5) rotate(-8)"/><use href="#gl" transform="translate(497.9,226.5) rotate(-22)"/><use href="#gl" transform="translate(511.4,226.5) rotate(-46)"/><use href="#gl" transform="translate(525.0,226.5) rotate(-61)"/><use href="#gl" transform="translate(538.5,226.5) rotate(-58)"/><use href="#gl" transform="translate(552.1,226.5) rotate(-48)"/><use href="#gl" transform="translate(565.7,226.5) rotate(-41)"/><use href="#gl" transform="translate(579.2,226.5) rotate(-36)"/><use href="#gl" transform="translate(592.8,226.5) rotate(-37)"/><use href="#gl" transform="translate(606.3,226.5) rotate(-36)"/><use href="#gl" transform="translate(619.9,226.5) rotate(-36)"/><use href="#gl" transform="translate(633.5,226.5) rotate(-36)"/><use href="#gl" transform="translate(416.5,240.1) rotate(-31)"/><use href="#gl" transform="translate(430.1,240.1) rotate(-18)"/><use href="#gl" transform="translate(443.6,240.1) rotate(7)"/><use href="#gl" transform="translate(457.2,240.1) rotate(10)"/><use href="#gl" transform="translate(470.7,240.1) rotate(6)"/><use href="#gl" transform="translate(484.3,240.1) rotate(-3)"/><use href="#gl" transform="translate(497.9,240.1) rotate(-18)"/><use href="#gl" transform="translate(511.4,240.1) rotate(-43)"/><use href="#gl" transform="translate(525.0,240.1) rotate(-60)"/><use href="#gl" transform="translate(538.5,240.1) rotate(-54)"/><use href="#gl" transform="translate(552.1,240.1) rotate(-48)"/><use href="#gl" transform="translate(565.7,240.1) rotate(-42)"/><use href="#gl" transform="translate(579.2,240.1) rotate(-37)"/><use href="#gl" transform="translate(592.8,240.1) rotate(-37)"/><use href="#gl" transform="translate(606.3,240.1) rotate(-37)"/><use href="#gl" transform="translate(619.9,240.1) rotate(-36)"/><use href="#gl" transform="translate(633.5,240.1) rotate(-36)"/><use href="#gl" transform="translate(416.5,253.6) rotate(-26)"/><use href="#gl" transform="translate(430.1,253.6) rotate(-18)"/><use href="#gl" transform="translate(443.6,253.6) rotate(2)"/><use href="#gl" transform="translate(457.2,253.6) rotate(10)"/><use href="#gl" transform="translate(470.7,253.6) rotate(15)"/><use href="#gl" transform="translate(484.3,253.6) rotate(13)"/><use href="#gl" transform="translate(497.9,253.6) rotate(-4)"/><use href="#gl" transform="translate(511.4,253.6) rotate(-35)"/><use href="#gl" transform="translate(525.0,253.6) rotate(-52)"/><use href="#gl" transform="translate(538.5,253.6) rotate(-48)"/><use href="#gl" transform="translate(552.1,253.6) rotate(-44)"/><use href="#gl" transform="translate(565.7,253.6) rotate(-40)"/><use href="#gl" transform="translate(579.2,253.6) rotate(-38)"/><use href="#gl" transform="translate(592.8,253.6) rotate(-37)"/><use href="#gl" transform="translate(606.3,253.6) rotate(-37)"/><use href="#gl" transform="translate(619.9,253.6) rotate(-36)"/><use href="#gl" transform="translate(633.5,253.6) rotate(-36)"/><use href="#gl" transform="translate(416.5,267.2) rotate(-20)"/><use href="#gl" transform="translate(430.1,267.2) rotate(-9)"/><use href="#gl" transform="translate(443.6,267.2) rotate(5)"/><use href="#gl" transform="translate(457.2,267.2) rotate(16)"/><use href="#gl" transform="translate(470.7,267.2) rotate(22)"/><use href="#gl" transform="translate(484.3,267.2) rotate(15)"/><use href="#gl" transform="translate(497.9,267.2) rotate(1)"/><use href="#gl" transform="translate(511.4,267.2) rotate(-30)"/><use href="#gl" transform="translate(525.0,267.2) rotate(-47)"/><use href="#gl" transform="translate(538.5,267.2) rotate(-45)"/><use href="#gl" transform="translate(552.1,267.2) rotate(-41)"/><use href="#gl" transform="translate(565.7,267.2) rotate(-38)"/><use href="#gl" transform="translate(579.2,267.2) rotate(-38)"/><use href="#gl" transform="translate(592.8,267.2) rotate(-38)"/><use href="#gl" transform="translate(606.3,267.2) rotate(-37)"/><use href="#gl" transform="translate(619.9,267.2) rotate(-37)"/><use href="#gl" transform="translate(633.5,267.2) rotate(-38)"/><use href="#gl" transform="translate(416.5,280.7) rotate(-13)"/><use href="#gl" transform="translate(430.1,280.7) rotate(-5)"/><use href="#gl" transform="translate(443.6,280.7) rotate(6)"/><use href="#gl" transform="translate(457.2,280.7) rotate(14)"/><use href="#gl" transform="translate(470.7,280.7) rotate(21)"/><use href="#gl" transform="translate(484.3,280.7) rotate(16)"/><use href="#gl" transform="translate(497.9,280.7) rotate(2)"/><use href="#gl" transform="translate(511.4,280.7) rotate(-24)"/><use href="#gl" transform="translate(525.0,280.7) rotate(-45)"/><use href="#gl" transform="translate(538.5,280.7) rotate(-44)"/><use href="#gl" transform="translate(552.1,280.7) rotate(-41)"/><use href="#gl" transform="translate(565.7,280.7) rotate(-39)"/><use href="#gl" transform="translate(579.2,280.7) rotate(-38)"/><use href="#gl" transform="translate(592.8,280.7) rotate(-37)"/><use href="#gl" transform="translate(606.3,280.7) rotate(-38)"/><use href="#gl" transform="translate(619.9,280.7) rotate(-37)"/><use href="#gl" transform="translate(633.5,280.7) rotate(-37)"/><use href="#gl" transform="translate(416.5,294.3) rotate(0)"/><use href="#gl" transform="translate(430.1,294.3) rotate(1)"/><use href="#gl" transform="translate(443.6,294.3) rotate(12)"/><use href="#gl" transform="translate(457.2,294.3) rotate(18)"/><use href="#gl" transform="translate(470.7,294.3) rotate(17)"/><use href="#gl" transform="translate(484.3,294.3) rotate(16)"/><use href="#gl" transform="translate(497.9,294.3) rotate(7)"/><use href="#gl" transform="translate(511.4,294.3) rotate(-20)"/><use href="#gl" transform="translate(525.0,294.3) rotate(-43)"/><use href="#gl" transform="translate(538.5,294.3) rotate(-43)"/><use href="#gl" transform="translate(552.1,294.3) rotate(-41)"/><use href="#gl" transform="translate(565.7,294.3) rotate(-39)"/><use href="#gl" transform="translate(579.2,294.3) rotate(-38)"/><use href="#gl" transform="translate(592.8,294.3) rotate(-37)"/><use href="#gl" transform="translate(606.3,294.3) rotate(-38)"/><use href="#gl" transform="translate(619.9,294.3) rotate(-37)"/><use href="#gl" transform="translate(633.5,294.3) rotate(-36)"/><use href="#gl" transform="translate(416.5,307.9) rotate(-1)"/><use href="#gl" transform="translate(430.1,307.9) rotate(-1)"/><use href="#gl" transform="translate(443.6,307.9) rotate(9)"/><use href="#gl" transform="translate(457.2,307.9) rotate(19)"/><use href="#gl" transform="translate(470.7,307.9) rotate(18)"/><use href="#gl" transform="translate(484.3,307.9) rotate(18)"/><use href="#gl" transform="translate(497.9,307.9) rotate(6)"/><use href="#gl" transform="translate(511.4,307.9) rotate(-22)"/><use href="#gl" transform="translate(525.0,307.9) rotate(-41)"/><use href="#gl" transform="translate(538.5,307.9) rotate(-43)"/><use href="#gl" transform="translate(552.1,307.9) rotate(-41)"/><use href="#gl" transform="translate(565.7,307.9) rotate(-39)"/><use href="#gl" transform="translate(579.2,307.9) rotate(-38)"/><use href="#gl" transform="translate(592.8,307.9) rotate(-38)"/><use href="#gl" transform="translate(606.3,307.9) rotate(-38)"/><use href="#gl" transform="translate(619.9,307.9) rotate(-38)"/><use href="#gl" transform="translate(633.5,307.9) rotate(-36)"/><use href="#gl" transform="translate(416.5,321.4) rotate(9)"/><use href="#gl" transform="translate(430.1,321.4) rotate(0)"/><use href="#gl" transform="translate(443.6,321.4) rotate(6)"/><use href="#gl" transform="translate(457.2,321.4) rotate(22)"/><use href="#gl" transform="translate(470.7,321.4) rotate(23)"/><use href="#gl" transform="translate(484.3,321.4) rotate(21)"/><use href="#gl" transform="translate(497.9,321.4) rotate(6)"/><use href="#gl" transform="translate(511.4,321.4) rotate(-25)"/><use href="#gl" transform="translate(525.0,321.4) rotate(-41)"/><use href="#gl" transform="translate(538.5,321.4) rotate(-43)"/><use href="#gl" transform="translate(552.1,321.4) rotate(-41)"/><use href="#gl" transform="translate(565.7,321.4) rotate(-39)"/><use href="#gl" transform="translate(579.2,321.4) rotate(-39)"/><use href="#gl" transform="translate(592.8,321.4) rotate(-38)"/><use href="#gl" transform="translate(606.3,321.4) rotate(-39)"/><use href="#gl" transform="translate(619.9,321.4) rotate(-38)"/><use href="#gl" transform="translate(633.5,321.4) rotate(-38)"/></g>
<rect x="414" y="11" width="231" height="312" fill="none" stroke="#777" stroke-width="0.9"/>
<line x1="416.3" y1="323" x2="416.3" y2="325.5" stroke="#555" stroke-width="0.8"/>
<text x="416.30" y="335.20" font-size="10.7" text-anchor="middle" textLength="5.6" lengthAdjust="spacingAndGlyphs">0</text>
<line x1="524.8" y1="323" x2="524.8" y2="325.5" stroke="#555" stroke-width="0.8"/>
<text x="524.80" y="335.20" font-size="10.7" text-anchor="middle" textLength="15.3" lengthAdjust="spacingAndGlyphs">1.0</text>
<line x1="637.9" y1="323" x2="637.9" y2="325.5" stroke="#555" stroke-width="0.8"/>
<text x="637.90" y="335.20" font-size="10.7" text-anchor="middle" textLength="15.3" lengthAdjust="spacingAndGlyphs">2.0</text>
<line x1="411.5" y1="321.2" x2="414" y2="321.2" stroke="#555" stroke-width="0.8"/>
<text x="410.30" y="325.30" font-size="10.7" text-anchor="end" textLength="5.6" lengthAdjust="spacingAndGlyphs">0</text>
<line x1="411.5" y1="208.2" x2="414" y2="208.2" stroke="#555" stroke-width="0.8"/>
<text x="410.30" y="212.30" font-size="10.7" text-anchor="end" textLength="21.2" lengthAdjust="spacingAndGlyphs">0.75</text>
<line x1="411.5" y1="94.6" x2="414" y2="94.6" stroke="#555" stroke-width="0.8"/>
<text x="410.30" y="98.70" font-size="10.7" text-anchor="end" textLength="14.4" lengthAdjust="spacingAndGlyphs">1.5</text>
<g font-family='"Liberation Sans", sans-serif'>
</g>
<defs><linearGradient id="bwr659" x1="0" y1="1" x2="0" y2="0"><stop offset="0" stop-color="#0000ff"/><stop offset="0.5" stop-color="#ffffff"/><stop offset="1" stop-color="#ff0000"/></linearGradient></defs>
<rect x="659.5" y="11" width="15.7" height="312" fill="url(#bwr659)" stroke="#777" stroke-width="0.8"/>
<line x1="675.2" y1="11.00" x2="677.7" y2="11.00" stroke="#555" stroke-width="0.8"/>
<text x="679.50" y="15.10" font-size="10.7" textLength="17.6" lengthAdjust="spacingAndGlyphs">180</text>
<line x1="675.2" y1="45.67" x2="677.7" y2="45.67" stroke="#555" stroke-width="0.8"/>
<text x="679.50" y="49.77" font-size="10.7" textLength="17.6" lengthAdjust="spacingAndGlyphs">160</text>
<line x1="675.2" y1="80.33" x2="677.7" y2="80.33" stroke="#555" stroke-width="0.8"/>
<text x="679.50" y="84.43" font-size="10.7" textLength="17.6" lengthAdjust="spacingAndGlyphs">140</text>
<line x1="675.2" y1="115.00" x2="677.7" y2="115.00" stroke="#555" stroke-width="0.8"/>
<text x="679.50" y="119.10" font-size="10.7" textLength="17.6" lengthAdjust="spacingAndGlyphs">120</text>
<line x1="675.2" y1="149.67" x2="677.7" y2="149.67" stroke="#555" stroke-width="0.8"/>
<text x="679.50" y="153.77" font-size="10.7" textLength="17.6" lengthAdjust="spacingAndGlyphs">100</text>
<line x1="675.2" y1="184.33" x2="677.7" y2="184.33" stroke="#555" stroke-width="0.8"/>
<text x="679.50" y="188.43" font-size="10.7" textLength="11.6" lengthAdjust="spacingAndGlyphs">80</text>
<line x1="675.2" y1="219.00" x2="677.7" y2="219.00" stroke="#555" stroke-width="0.8"/>
<text x="679.50" y="223.10" font-size="10.7" textLength="11.6" lengthAdjust="spacingAndGlyphs">60</text>
<line x1="675.2" y1="253.67" x2="677.7" y2="253.67" stroke="#555" stroke-width="0.8"/>
<text x="679.50" y="257.77" font-size="10.7" textLength="11.6" lengthAdjust="spacingAndGlyphs">40</text>
<line x1="675.2" y1="288.33" x2="677.7" y2="288.33" stroke="#555" stroke-width="0.8"/>
<text x="679.50" y="292.43" font-size="10.7" textLength="11.6" lengthAdjust="spacingAndGlyphs">20</text>
<line x1="675.2" y1="323.00" x2="677.7" y2="323.00" stroke="#555" stroke-width="0.8"/>
<text x="679.50" y="327.10" font-size="10.7" textLength="5.6" lengthAdjust="spacingAndGlyphs">0</text>
<text x="156.5" y="7.6" font-size="10.3" text-anchor="middle" textLength="23.2" lengthAdjust="spacingAndGlyphs"><tspan font-style="italic">γ</tspan> [°]</text>
<text x="156.3" y="346.2" font-size="10.3" text-anchor="middle" textLength="22.4" lengthAdjust="spacingAndGlyphs">X ["]</text>
<text transform="translate(11.6,167.3) rotate(-90)" font-size="10.3" text-anchor="middle" textLength="22.4" lengthAdjust="spacingAndGlyphs">Y ["]</text>
<text x="529.5" y="7.6" font-size="10.3" text-anchor="middle" textLength="23.5" lengthAdjust="spacingAndGlyphs"><tspan font-style="italic">ϕ</tspan> [°]</text>
<text x="529.3" y="346.2" font-size="10.3" text-anchor="middle" textLength="22.4" lengthAdjust="spacingAndGlyphs">X ["]</text>
<text transform="translate(384.6,167.3) rotate(-90)" font-size="10.3" text-anchor="middle" textLength="22.4" lengthAdjust="spacingAndGlyphs">Y ["]</text>
<line x1="102.4" y1="104" x2="210.6" y2="212.5" stroke="#22e4ec" stroke-width="1.35" stroke-dasharray="2.2 1.1"/>
<circle cx="102.4" cy="104" r="2.1" fill="#22e4ec"/><circle cx="210.6" cy="212.5" r="2.1" fill="#22e4ec"/>
<line x1="102.4" y1="126.3" x2="210.6" y2="235.1" stroke="#22e4ec" stroke-width="1.35" stroke-dasharray="2.2 1.1"/>
<circle cx="102.4" cy="126.3" r="2.1" fill="#22e4ec"/><circle cx="210.6" cy="235.1" r="2.1" fill="#22e4ec"/>
<path d="M123.5 131.1H135.5M129.5 125.1V137.1" stroke="#e040e8" stroke-width="1"/>
<line x1="475.4" y1="104" x2="583.6" y2="212.5" stroke="#22e4ec" stroke-width="1.35" stroke-dasharray="2.2 1.1"/>
<circle cx="475.4" cy="104" r="2.1" fill="#22e4ec"/><circle cx="583.6" cy="212.5" r="2.1" fill="#22e4ec"/>
<line x1="475.4" y1="126.3" x2="583.6" y2="235.1" stroke="#22e4ec" stroke-width="1.35" stroke-dasharray="2.2 1.1"/>
<circle cx="475.4" cy="126.3" r="2.1" fill="#22e4ec"/><circle cx="583.6" cy="235.1" r="2.1" fill="#22e4ec"/>
<path d="M496.5 131.1H508.5M502.5 125.1V137.1" stroke="#e040e8" stroke-width="1"/>
<text x="92.2" y="99.5" font-size="9.8" font-weight="bold" fill="#22e4ec" style="stroke:#22e4ec;stroke-width:0.35px" text-anchor="middle">1</text>
<text x="92.0" y="122.1" font-size="9.8" font-weight="bold" fill="#22e4ec" style="stroke:#22e4ec;stroke-width:0.35px" text-anchor="middle">2</text>
<text x="138.6" y="122.1" font-size="9.8" font-weight="bold" fill="#f010f0" style="stroke:#f010f0;stroke-width:0.35px" textLength="17.4" lengthAdjust="spacingAndGlyphs">A.1</text>
<defs><clipPath id="cp0"><rect x="35" y="365.2" width="296.3" height="135.10000000000002"/></clipPath></defs>
<g clip-path="url(#cp0)">
<line x1="35" y1="432.75" x2="331.3" y2="432.75" stroke="#8a8a8a" stroke-width="1.1" stroke-dasharray="2.4 1.5"/>
<path d="M35.0 392.2 43.8 417.3 44.0 417.3 52.8 415.4 55.1 407.2 61.9 382.6 75.2 394.5 79.5 398.3 87.8 392.2 93.1 392.2 97.1 392.2 106.4 384.2 107.1 383.5 115.4 475.4 115.9 481.0 125.5 444.3 128.2 431.5 133.8 405.7 147.8 402.8 160.1 380.6 160.4 380.2 169.4 395.4 185.3 393.2 187.8 394.1 190.8 401.9 200.1 416.2 204.6 423.2 206.1 425.5 212.2 422.4 222.7 428.9 232.0 434.7 235.0 430.3 241.1 421.5 241.3 421.2 255.1 439.0 259.7 444.8 268.7 444.1 275.0 438.6 277.3 436.6 281.0 444.8 285.5 449.8 295.6 461.0 298.6 458.2 306.2 451.1 312.4 451.1 315.5 451.1 316.7 450.6 323.0 448.2 336.6 452.1" fill="none" stroke="#440154" stroke-width="1.05" stroke-dasharray="1.05 1.15"/>
<path d="M35.0 394.1 43.8 416.5 44.0 416.4 52.8 415.0 55.1 407.3 61.9 384.3 75.2 396.2 79.5 399.9 87.8 394.3 93.1 394.4 97.1 394.6 106.4 387.4 107.1 386.7 115.4 472.7 115.9 478.1 125.5 444.3 128.2 432.1 133.8 407.4 147.8 404.0 160.1 382.3 160.4 381.9 169.4 396.5 185.3 394.4 187.8 395.4 190.8 402.7 200.1 416.4 204.6 422.9 206.1 425.1 212.2 422.2 222.7 428.5 232.0 434.1 235.0 430.0 241.1 422.3 241.3 422.0 255.1 438.9 259.7 444.5 268.7 444.0 275.0 438.9 277.3 436.9 281.0 444.6 285.5 449.2 295.6 460.0 298.6 457.4 306.2 450.6 312.4 450.6 315.5 450.9 316.7 450.5 323.0 448.6 336.6 452.1" fill="none" stroke="#461364" stroke-width="1.05" stroke-dasharray="1.05 1.15"/>
<path d="M35.0 395.9 43.8 415.7 44.0 415.5 52.8 414.7 55.1 407.5 61.9 386.0 75.2 397.8 79.5 401.4 87.8 396.3 93.1 396.6 97.1 397.0 106.4 390.7 107.1 389.9 115.4 470.0 115.9 475.1 125.5 444.2 128.2 432.8 133.8 409.1 147.8 405.2 160.1 384.1 160.4 383.7 169.4 397.5 185.3 395.7 187.8 396.6 190.8 403.6 200.1 416.5 204.6 422.6 206.1 424.7 212.2 422.0 222.7 428.1 232.0 433.5 235.0 429.7 241.1 423.1 241.3 422.8 255.1 438.7 259.7 444.1 268.7 443.9 275.0 439.2 277.3 437.2 281.0 444.3 285.5 448.6 295.6 459.1 298.6 456.6 306.2 450.2 312.4 450.2 315.5 450.7 316.7 450.4 323.0 449.0 336.6 452.1" fill="none" stroke="#482475" stroke-width="1.05" stroke-dasharray="1.05 1.15"/>
<path d="M35.0 397.7 43.8 414.8 44.0 414.7 52.8 414.3 55.1 407.7 61.9 387.6 75.2 399.5 79.5 403.0 87.8 398.4 93.1 398.7 97.1 399.3 106.4 393.9 107.1 393.0 115.4 467.3 115.9 472.2 125.5 444.1 128.2 433.4 133.8 410.8 147.8 406.4 160.1 385.8 160.4 385.4 169.4 398.6 185.3 396.9 187.8 397.8 190.8 404.4 200.1 416.7 204.6 422.3 206.1 424.3 212.2 421.8 222.7 427.6 232.0 432.9 235.0 429.4 241.1 423.9 241.3 423.6 255.1 438.6 259.7 443.8 268.7 443.8 275.0 439.4 277.3 437.5 281.0 444.1 285.5 447.9 295.6 458.1 298.6 455.9 306.2 449.8 312.4 449.7 315.5 450.4 316.7 450.3 323.0 449.4 336.6 452.1" fill="none" stroke="#44347e" stroke-width="1.05" stroke-dasharray="1.05 1.15"/>
<path d="M35.0 399.6 43.8 414.0 44.0 413.8 52.8 414.0 55.1 407.9 61.9 389.3 75.2 401.2 79.5 404.6 87.8 400.4 93.1 400.9 97.1 401.7 106.4 397.2 107.1 396.2 115.4 464.6 115.9 469.3 125.5 444.1 128.2 434.0 133.8 412.4 147.8 407.6 160.1 387.6 160.4 387.2 169.4 399.6 185.3 398.2 187.8 399.0 190.8 405.2 200.1 416.9 204.6 422.0 206.1 423.9 212.2 421.6 222.7 427.2 232.0 432.4 235.0 429.1 241.1 424.6 241.3 424.4 255.1 438.5 259.7 443.5 268.7 443.6 275.0 439.7 277.3 437.8 281.0 443.9 285.5 447.3 295.6 457.1 298.6 455.1 306.2 449.3 312.4 449.3 315.5 450.2 316.7 450.3 323.0 449.8 336.6 452.1" fill="none" stroke="#414487" stroke-width="1.05" stroke-dasharray="1.05 1.15"/>
<path d="M35.0 401.4 43.8 413.2 44.0 412.9 52.8 413.6 55.1 408.0 61.9 391.0 75.2 402.8 79.5 406.2 87.8 402.5 93.1 403.1 97.1 404.1 106.4 400.4 107.1 399.4 115.4 461.9 115.9 466.3 125.5 444.0 128.2 434.7 133.8 414.1 147.8 408.8 160.1 389.3 160.4 389.0 169.4 400.7 185.3 399.5 187.8 400.2 190.8 406.1 200.1 417.0 204.6 421.7 206.1 423.5 212.2 421.4 222.7 426.8 232.0 431.8 235.0 428.7 241.1 425.4 241.3 425.1 255.1 438.3 259.7 443.2 268.7 443.5 275.0 440.0 277.3 438.1 281.0 443.6 285.5 446.7 295.6 456.1 298.6 454.3 306.2 448.9 312.4 448.8 315.5 450.0 316.7 450.2 323.0 450.3 336.6 452.1" fill="none" stroke="#3b518a" stroke-width="1.05" stroke-dasharray="1.05 1.15"/>
<path d="M35.0 403.2 43.8 412.3 44.0 412.1 52.8 413.3 55.1 408.2 61.9 392.7 75.2 404.5 79.5 407.7 87.8 404.6 93.1 405.2 97.1 406.5 106.4 403.7 107.1 402.5 115.4 459.2 115.9 463.4 125.5 443.9 128.2 435.3 133.8 415.8 147.8 409.9 160.1 391.0 160.4 390.7 169.4 401.7 185.3 400.7 187.8 401.4 190.8 406.9 200.1 417.2 204.6 421.4 206.1 423.1 212.2 421.2 222.7 426.3 232.0 431.2 235.0 428.4 241.1 426.2 241.3 425.9 255.1 438.2 259.7 442.8 268.7 443.4 275.0 440.3 277.3 438.4 281.0 443.4 285.5 446.0 295.6 455.2 298.6 453.6 306.2 448.5 312.4 448.4 315.5 449.8 316.7 450.1 323.0 450.7 336.6 452.1" fill="none" stroke="#355f8d" stroke-width="1.05" stroke-dasharray="1.05 1.15"/>
<path d="M35.0 405.1 43.8 411.5 44.0 411.2 52.8 412.9 55.1 408.4 61.9 394.4 75.2 406.2 79.5 409.3 87.8 406.6 93.1 407.4 97.1 408.8 106.4 406.9 107.1 405.7 115.4 456.4 115.9 460.4 125.5 443.9 128.2 436.0 133.8 417.5 147.8 411.1 160.1 392.8 160.4 392.5 169.4 402.8 185.3 402.0 187.8 402.7 190.8 407.8 200.1 417.3 204.6 421.1 206.1 422.7 212.2 421.0 222.7 425.9 232.0 430.6 235.0 428.1 241.1 427.0 241.3 426.7 255.1 438.1 259.7 442.5 268.7 443.3 275.0 440.5 277.3 438.7 281.0 443.2 285.5 445.4 295.6 454.2 298.6 452.8 306.2 448.0 312.4 447.9 315.5 449.6 316.7 450.0 323.0 451.1 336.6 452.1" fill="none" stroke="#2f6b8e" stroke-width="1.05" stroke-dasharray="1.05 1.15"/>
<path d="M35.0 406.9 43.8 410.7 44.0 410.3 52.8 412.6 55.1 408.5 61.9 396.1 75.2 407.9 79.5 410.9 87.8 408.7 93.1 409.6 97.1 411.2 106.4 410.2 107.1 408.9 115.4 453.7 115.9 457.5 125.5 443.8 128.2 436.6 133.8 419.2 147.8 412.3 160.1 394.5 160.4 394.3 169.4 403.8 185.3 403.2 187.8 403.9 190.8 408.6 200.1 417.5 204.6 420.8 206.1 422.3 212.2 420.8 222.7 425.4 232.0 430.1 235.0 427.8 241.1 427.8 241.3 427.5 255.1 438.0 259.7 442.2 268.7 443.2 275.0 440.8 277.3 439.0 281.0 442.9 285.5 444.7 295.6 453.2 298.6 452.0 306.2 447.6 312.4 447.5 315.5 449.4 316.7 449.9 323.0 451.5 336.6 452.1" fill="none" stroke="#2a788e" stroke-width="1.05" stroke-dasharray="1.05 1.15"/>
<path d="M35.0 408.7 43.8 409.9 44.0 409.5 52.8 412.2 55.1 408.7 61.9 397.8 75.2 409.5 79.5 412.5 87.8 410.7 93.1 411.8 97.1 413.6 106.4 413.4 107.1 412.0 115.4 451.0 115.9 454.6 125.5 443.7 128.2 437.3 133.8 420.8 147.8 413.5 160.1 396.3 160.4 396.0 169.4 404.9 185.3 404.5 187.8 405.1 190.8 409.4 200.1 417.7 204.6 420.5 206.1 421.9 212.2 420.6 222.7 425.0 232.0 429.5 235.0 427.5 241.1 428.5 241.3 428.3 255.1 437.8 259.7 441.8 268.7 443.0 275.0 441.1 277.3 439.3 281.0 442.7 285.5 444.1 295.6 452.2 298.6 451.3 306.2 447.2 312.4 447.0 315.5 449.2 316.7 449.8 323.0 451.9 336.6 452.1" fill="none" stroke="#25848d" stroke-width="1.05" stroke-dasharray="1.05 1.15"/>
<path d="M35.0 410.6 43.8 409.0 44.0 408.6 52.8 411.9 55.1 408.9 61.9 399.5 75.2 411.2 79.5 414.0 87.8 412.8 93.1 413.9 97.1 416.0 106.4 416.7 107.1 415.2 115.4 448.3 115.9 451.6 125.5 443.7 128.2 437.9 133.8 422.5 147.8 414.7 160.1 398.0 160.4 397.8 169.4 405.9 185.3 405.7 187.8 406.3 190.8 410.3 200.1 417.8 204.6 420.2 206.1 421.4 212.2 420.4 222.7 424.6 232.0 428.9 235.0 427.2 241.1 429.3 241.3 429.1 255.1 437.7 259.7 441.5 268.7 442.9 275.0 441.4 277.3 439.6 281.0 442.5 285.5 443.5 295.6 451.2 298.6 450.5 306.2 446.7 312.4 446.5 315.5 449.0 316.7 449.7 323.0 452.3 336.6 452.1" fill="none" stroke="#21918d" stroke-width="1.05" stroke-dasharray="1.05 1.15"/>
<path d="M35.0 412.4 43.8 408.2 44.0 407.7 52.8 411.5 55.1 409.0 61.9 401.2 75.2 412.9 79.5 415.6 87.8 414.8 93.1 416.1 97.1 418.3 106.4 419.9 107.1 418.3 115.4 445.6 115.9 448.7 125.5 443.6 128.2 438.5 133.8 424.2 147.8 415.9 160.1 399.7 160.4 399.5 169.4 407.0 185.3 407.0 187.8 407.5 190.8 411.1 200.1 418.0 204.6 419.8 206.1 421.0 212.2 420.2 222.7 424.1 232.0 428.3 235.0 426.9 241.1 430.1 241.3 429.9 255.1 437.6 259.7 441.2 268.7 442.8 275.0 441.6 277.3 439.9 281.0 442.2 285.5 442.8 295.6 450.3 298.6 449.7 306.2 446.3 312.4 446.1 315.5 448.8 316.7 449.6 323.0 452.8 336.6 452.1" fill="none" stroke="#229c88" stroke-width="1.05" stroke-dasharray="1.05 1.15"/>
<path d="M35.0 414.2 43.8 407.4 44.0 406.9 52.8 411.2 55.1 409.2 61.9 402.9 75.2 414.5 79.5 417.2 87.8 416.9 93.1 418.3 97.1 420.7 106.4 423.2 107.1 421.5 115.4 442.9 115.9 445.8 125.5 443.5 128.2 439.2 133.8 425.9 147.8 417.1 160.1 401.5 160.4 401.3 169.4 408.0 185.3 408.2 187.8 408.7 190.8 412.0 200.1 418.1 204.6 419.5 206.1 420.6 212.2 420.0 222.7 423.7 232.0 427.7 235.0 426.6 241.1 430.9 241.3 430.7 255.1 437.4 259.7 440.8 268.7 442.7 275.0 441.9 277.3 440.2 281.0 442.0 285.5 442.2 295.6 449.3 298.6 448.9 306.2 445.9 312.4 445.6 315.5 448.5 316.7 449.6 323.0 453.2 336.6 452.1" fill="none" stroke="#22a884" stroke-width="1.05" stroke-dasharray="1.05 1.15"/>
<path d="M35.0 416.1 43.8 406.5 44.0 406.0 52.8 410.8 55.1 409.4 61.9 404.6 75.2 416.2 79.5 418.8 87.8 419.0 93.1 420.4 97.1 423.1 106.4 426.4 107.1 424.7 115.4 440.2 115.9 442.8 125.5 443.5 128.2 439.8 133.8 427.6 147.8 418.2 160.1 403.2 160.4 403.1 169.4 409.1 185.3 409.5 187.8 410.0 190.8 412.8 200.1 418.3 204.6 419.2 206.1 420.2 212.2 419.8 222.7 423.3 232.0 427.2 235.0 426.2 241.1 431.6 241.3 431.5 255.1 437.3 259.7 440.5 268.7 442.5 275.0 442.2 277.3 440.5 281.0 441.8 285.5 441.6 295.6 448.3 298.6 448.2 306.2 445.4 312.4 445.2 315.5 448.3 316.7 449.5 323.0 453.6 336.6 452.1" fill="none" stroke="#33b47a" stroke-width="1.05" stroke-dasharray="1.05 1.15"/>
<path d="M35.0 417.9 43.8 405.7 44.0 405.1 52.8 410.5 55.1 409.5 61.9 406.3 75.2 417.9 79.5 420.3 87.8 421.0 93.1 422.6 97.1 425.5 106.4 429.7 107.1 427.8 115.4 437.4 115.9 439.9 125.5 443.4 128.2 440.5 133.8 429.2 147.8 419.4 160.1 404.9 160.4 404.8 169.4 410.1 185.3 410.7 187.8 411.2 190.8 413.7 200.1 418.5 204.6 418.9 206.1 419.8 212.2 419.6 222.7 422.8 232.0 426.6 235.0 425.9 241.1 432.4 241.3 432.3 255.1 437.2 259.7 440.2 268.7 442.4 275.0 442.5 277.3 440.8 281.0 441.5 285.5 440.9 295.6 447.3 298.6 447.4 306.2 445.0 312.4 444.7 315.5 448.1 316.7 449.4 323.0 454.0 336.6 452.1" fill="none" stroke="#44bf70" stroke-width="1.05" stroke-dasharray="1.05 1.15"/>
<path d="M35.0 419.7 43.8 404.9 44.0 404.3 52.8 410.1 55.1 409.7 61.9 408.0 75.2 419.6 79.5 421.9 87.8 423.1 93.1 424.8 97.1 427.8 106.4 432.9 107.1 431.0 115.4 434.7 115.9 436.9 125.5 443.3 128.2 441.1 133.8 430.9 147.8 420.6 160.1 406.7 160.4 406.6 169.4 411.2 185.3 412.0 187.8 412.4 190.8 414.5 200.1 418.6 204.6 418.6 206.1 419.4 212.2 419.4 222.7 422.4 232.0 426.0 235.0 425.6 241.1 433.2 241.3 433.1 255.1 437.1 259.7 439.8 268.7 442.3 275.0 442.8 277.3 441.1 281.0 441.3 285.5 440.3 295.6 446.4 298.6 446.6 306.2 444.5 312.4 444.3 315.5 447.9 316.7 449.3 323.0 454.4 336.6 452.1" fill="none" stroke="#5fc861" stroke-width="1.05" stroke-dasharray="1.05 1.15"/>
<path d="M35.0 421.6 43.8 404.1 44.0 403.4 52.8 409.8 55.1 409.9 61.9 409.6 75.2 421.2 79.5 423.5 87.8 425.1 93.1 427.0 97.1 430.2 106.4 436.2 107.1 434.2 115.4 432.0 115.9 434.0 125.5 443.2 128.2 441.8 133.8 432.6 147.8 421.8 160.1 408.4 160.4 408.4 169.4 412.2 185.3 413.3 187.8 413.6 190.8 415.3 200.1 418.8 204.6 418.3 206.1 419.0 212.2 419.2 222.7 422.0 232.0 425.4 235.0 425.3 241.1 434.0 241.3 433.9 255.1 436.9 259.7 439.5 268.7 442.2 275.0 443.0 277.3 441.4 281.0 441.1 285.5 439.6 295.6 445.4 298.6 445.9 306.2 444.1 312.4 443.8 315.5 447.7 316.7 449.2 323.0 454.8 336.6 452.1" fill="none" stroke="#7ad151" stroke-width="1.05" stroke-dasharray="1.05 1.15"/>
<path d="M35.0 423.4 43.8 403.2 44.0 402.5 52.8 409.4 55.1 410.0 61.9 411.3 75.2 422.9 79.5 425.1 87.8 427.2 93.1 429.1 97.1 432.6 106.4 439.4 107.1 437.3 115.4 429.3 115.9 431.1 125.5 443.2 128.2 442.4 133.8 434.3 147.8 423.0 160.1 410.2 160.4 410.1 169.4 413.3 185.3 414.5 187.8 414.8 190.8 416.2 200.1 418.9 204.6 418.0 206.1 418.6 212.2 419.0 222.7 421.5 232.0 424.9 235.0 425.0 241.1 434.8 241.3 434.7 255.1 436.8 259.7 439.2 268.7 442.1 275.0 443.3 277.3 441.7 281.0 440.8 285.5 439.0 295.6 444.4 298.6 445.1 306.2 443.7 312.4 443.4 315.5 447.5 316.7 449.1 323.0 455.2 336.6 452.1" fill="none" stroke="#9bd83c" stroke-width="1.05" stroke-dasharray="1.05 1.15"/>
<path d="M35.0 425.2 43.8 402.4 44.0 401.7 52.8 409.1 55.1 410.2 61.9 413.0 75.2 424.6 79.5 426.6 87.8 429.2 93.1 431.3 97.1 435.0 106.4 442.7 107.1 440.5 115.4 426.6 115.9 428.1 125.5 443.1 128.2 443.0 133.8 436.0 147.8 424.2 160.1 411.9 160.4 411.9 169.4 414.3 185.3 415.8 187.8 416.0 190.8 417.0 200.1 419.1 204.6 417.7 206.1 418.2 212.2 418.8 222.7 421.1 232.0 424.3 235.0 424.7 241.1 435.5 241.3 435.5 255.1 436.7 259.7 438.8 268.7 441.9 275.0 443.6 277.3 442.0 281.0 440.6 285.5 438.4 295.6 443.4 298.6 444.3 306.2 443.2 312.4 442.9 315.5 447.3 316.7 449.0 323.0 455.7 336.6 452.1" fill="none" stroke="#bddf26" stroke-width="1.05" stroke-dasharray="1.05 1.15"/>
<path d="M35.0 427.1 43.8 401.6 44.0 400.8 52.8 408.7 55.1 410.4 61.9 414.7 75.2 426.3 79.5 428.2 87.8 431.3 93.1 433.5 97.1 437.3 106.4 445.9 107.1 443.7 115.4 423.9 115.9 425.2 125.5 443.0 128.2 443.7 133.8 437.6 147.8 425.4 160.1 413.6 160.4 413.6 169.4 415.4 185.3 417.0 187.8 417.3 190.8 417.9 200.1 419.3 204.6 417.4 206.1 417.8 212.2 418.6 222.7 420.6 232.0 423.7 235.0 424.4 241.1 436.3 241.3 436.3 255.1 436.5 259.7 438.5 268.7 441.8 275.0 443.9 277.3 442.3 281.0 440.3 285.5 437.7 295.6 442.4 298.6 443.6 306.2 442.8 312.4 442.5 315.5 447.1 316.7 449.0 323.0 456.1 336.6 452.1" fill="none" stroke="#dde325" stroke-width="1.05" stroke-dasharray="1.05 1.15"/>
<path d="M35.0 428.9 43.8 400.7 44.0 399.9 52.8 408.4 55.1 410.6 61.9 416.4 75.2 427.9 79.5 429.8 87.8 433.4 93.1 435.6 97.1 439.7 106.4 449.2 107.1 446.8 115.4 421.2 115.9 422.3 125.5 443.0 128.2 444.3 133.8 439.3 147.8 426.5 160.1 415.4 160.4 415.4 169.4 416.5 185.3 418.3 187.8 418.5 190.8 418.7 200.1 419.4 204.6 417.1 206.1 417.4 212.2 418.4 222.7 420.2 232.0 423.1 235.0 424.1 241.1 437.1 241.3 437.1 255.1 436.4 259.7 438.2 268.7 441.7 275.0 444.1 277.3 442.6 281.0 440.1 285.5 437.1 295.6 441.5 298.6 442.8 306.2 442.4 312.4 442.0 315.5 446.9 316.7 448.9 323.0 456.5 336.6 452.1" fill="none" stroke="#fde725" stroke-width="1.05" stroke-dasharray="1.05 1.15"/>
<path d="M35.0 434.6 43.3 432.0 52.6 434.6 62.1 435.2 80.7 427.9 99.3 421.3 110.1 418.0 115.4 417.2 124.7 402.7 133.0 403.5 143.3 393.8 152.6 396.9 160.9 387.0 169.9 393.1 185.3 396.9 200.1 397.3 226.0 398.8 240.3 402.7 259.4 405.2 268.2 405.2 298.1 407.0 304.1 409.1 313.7 405.2 322.5 407.8 336.6 407.3" fill="none" stroke="#ff2020" stroke-width="1.1"/>
</g>
<path d="M35 365.2V500.3H331.3V365.2Z" fill="none" stroke="#999" stroke-width="1.1"/>
<line x1="32.5" y1="500.30" x2="35" y2="500.30" stroke="#555" stroke-width="0.8"/>
<text x="30.80" y="504.30" font-size="10.7" text-anchor="end" textLength="11.6" lengthAdjust="spacingAndGlyphs">20</text>
<line x1="32.5" y1="481.00" x2="35" y2="481.00" stroke="#555" stroke-width="0.8"/>
<text x="30.80" y="485.00" font-size="10.7" text-anchor="end" textLength="11.6" lengthAdjust="spacingAndGlyphs">40</text>
<line x1="32.5" y1="461.70" x2="35" y2="461.70" stroke="#555" stroke-width="0.8"/>
<text x="30.80" y="465.70" font-size="10.7" text-anchor="end" textLength="11.6" lengthAdjust="spacingAndGlyphs">60</text>
<line x1="32.5" y1="442.40" x2="35" y2="442.40" stroke="#555" stroke-width="0.8"/>
<text x="30.80" y="446.40" font-size="10.7" text-anchor="end" textLength="11.6" lengthAdjust="spacingAndGlyphs">80</text>
<line x1="32.5" y1="423.10" x2="35" y2="423.10" stroke="#555" stroke-width="0.8"/>
<text x="30.80" y="427.10" font-size="10.7" text-anchor="end" textLength="17.5" lengthAdjust="spacingAndGlyphs">100</text>
<line x1="32.5" y1="403.80" x2="35" y2="403.80" stroke="#555" stroke-width="0.8"/>
<text x="30.80" y="407.80" font-size="10.7" text-anchor="end" textLength="17.5" lengthAdjust="spacingAndGlyphs">120</text>
<line x1="32.5" y1="384.50" x2="35" y2="384.50" stroke="#555" stroke-width="0.8"/>
<text x="30.80" y="388.50" font-size="10.7" text-anchor="end" textLength="17.5" lengthAdjust="spacingAndGlyphs">140</text>
<line x1="32.5" y1="365.20" x2="35" y2="365.20" stroke="#555" stroke-width="0.8"/>
<text x="30.80" y="369.20" font-size="10.7" text-anchor="end" textLength="17.5" lengthAdjust="spacingAndGlyphs">160</text>
<line x1="331.3" y1="500.30" x2="333.8" y2="500.30" stroke="#555" stroke-width="0.8"/>
<text x="335.50" y="504.30" font-size="10.7" textLength="5.6" lengthAdjust="spacingAndGlyphs" fill="#ff0000" style="stroke:#ff0000">0</text>
<line x1="331.3" y1="485.29" x2="333.8" y2="485.29" stroke="#555" stroke-width="0.8"/>
<text x="335.50" y="489.29" font-size="10.7" textLength="11.6" lengthAdjust="spacingAndGlyphs" fill="#ff0000" style="stroke:#ff0000">20</text>
<line x1="331.3" y1="470.28" x2="333.8" y2="470.28" stroke="#555" stroke-width="0.8"/>
<text x="335.50" y="474.28" font-size="10.7" textLength="11.6" lengthAdjust="spacingAndGlyphs" fill="#ff0000" style="stroke:#ff0000">40</text>
<line x1="331.3" y1="455.27" x2="333.8" y2="455.27" stroke="#555" stroke-width="0.8"/>
<text x="335.50" y="459.27" font-size="10.7" textLength="11.6" lengthAdjust="spacingAndGlyphs" fill="#ff0000" style="stroke:#ff0000">60</text>
<line x1="331.3" y1="440.26" x2="333.8" y2="440.26" stroke="#555" stroke-width="0.8"/>
<text x="335.50" y="444.26" font-size="10.7" textLength="11.6" lengthAdjust="spacingAndGlyphs" fill="#ff0000" style="stroke:#ff0000">80</text>
<line x1="331.3" y1="425.24" x2="333.8" y2="425.24" stroke="#555" stroke-width="0.8"/>
<text x="335.50" y="429.24" font-size="10.7" textLength="17.5" lengthAdjust="spacingAndGlyphs" fill="#ff0000" style="stroke:#ff0000">100</text>
<line x1="331.3" y1="410.23" x2="333.8" y2="410.23" stroke="#555" stroke-width="0.8"/>
<text x="335.50" y="414.23" font-size="10.7" textLength="17.5" lengthAdjust="spacingAndGlyphs" fill="#ff0000" style="stroke:#ff0000">120</text>
<line x1="331.3" y1="395.22" x2="333.8" y2="395.22" stroke="#555" stroke-width="0.8"/>
<text x="335.50" y="399.22" font-size="10.7" textLength="17.5" lengthAdjust="spacingAndGlyphs" fill="#ff0000" style="stroke:#ff0000">140</text>
<line x1="331.3" y1="380.21" x2="333.8" y2="380.21" stroke="#555" stroke-width="0.8"/>
<text x="335.50" y="384.21" font-size="10.7" textLength="17.5" lengthAdjust="spacingAndGlyphs" fill="#ff0000" style="stroke:#ff0000">160</text>
<line x1="331.3" y1="365.20" x2="333.8" y2="365.20" stroke="#555" stroke-width="0.8"/>
<text x="335.50" y="369.20" font-size="10.7" textLength="17.5" lengthAdjust="spacingAndGlyphs" fill="#ff0000" style="stroke:#ff0000">180</text>
<line x1="35.00" y1="500.3" x2="35.00" y2="502.8" stroke="#555" stroke-width="0.8"/>
<text x="35.00" y="511.50" font-size="10.7" text-anchor="middle" textLength="5.6" lengthAdjust="spacingAndGlyphs">0</text>
<line x1="97.83" y1="500.3" x2="97.83" y2="502.8" stroke="#555" stroke-width="0.8"/>
<text x="97.83" y="511.50" font-size="10.7" text-anchor="middle" textLength="21.2" lengthAdjust="spacingAndGlyphs">0.25</text>
<line x1="160.65" y1="500.3" x2="160.65" y2="502.8" stroke="#555" stroke-width="0.8"/>
<text x="160.65" y="511.50" font-size="10.7" text-anchor="middle" textLength="14.4" lengthAdjust="spacingAndGlyphs">0.5</text>
<line x1="223.48" y1="500.3" x2="223.48" y2="502.8" stroke="#555" stroke-width="0.8"/>
<text x="223.48" y="511.50" font-size="10.7" text-anchor="middle" textLength="21.2" lengthAdjust="spacingAndGlyphs">0.75</text>
<line x1="286.30" y1="500.3" x2="286.30" y2="502.8" stroke="#555" stroke-width="0.8"/>
<text x="286.30" y="511.50" font-size="10.7" text-anchor="middle" textLength="21.2" lengthAdjust="spacingAndGlyphs">1.00</text>
<text x="183.5" y="522.4" font-size="10.3" text-anchor="middle" textLength="115" lengthAdjust="spacingAndGlyphs">Distance along slice ["]</text>
<text x="182.8" y="362.1" font-size="10.3" text-anchor="middle" textLength="32" lengthAdjust="spacingAndGlyphs">Slice 1</text>
<text transform="translate(8.4,432.4) rotate(-90)" font-size="10.3" text-anchor="middle" textLength="24.4" lengthAdjust="spacingAndGlyphs"><tspan font-style="italic">γ</tspan> [°]</text>
<text transform="translate(363.4,432.6) rotate(-90)" font-size="10.3" text-anchor="middle" fill="#ff0000" style="stroke:#ff0000" textLength="23.6" lengthAdjust="spacingAndGlyphs"><tspan font-style="italic">ϕ</tspan> [°]</text>
<defs><clipPath id="cp373"><rect x="408" y="365.2" width="296.29999999999995" height="135.10000000000002"/></clipPath></defs>
<g clip-path="url(#cp373)">
<line x1="408" y1="432.75" x2="704.3" y2="432.75" stroke="#8a8a8a" stroke-width="1.1" stroke-dasharray="2.4 1.5"/>
<path d="M408.0 404.2 415.8 418.7 416.3 418.9 426.3 423.2 427.9 419.8 435.4 402.6 450.7 403.1 461.3 403.4 466.1 442.7 471.1 484.1 472.3 483.1 482.4 475.4 497.2 455.9 498.5 454.3 508.3 410.8 511.0 409.1 515.6 405.9 524.9 399.4 533.1 385.1 541.7 383.2 550.2 393.7 565.1 402.9 578.1 412.7 585.9 426.0 596.5 443.9 605.5 440.1 610.3 441.4 619.8 443.9 637.7 450.1 640.7 451.0 650.0 453.6 651.5 454.0 666.8 450.1 676.9 444.7 694.2 451.4 709.6 453.3" fill="none" stroke="#440154" stroke-width="1.05" stroke-dasharray="1.05 1.15"/>
<path d="M408.0 405.0 415.8 418.5 416.3 418.6 426.3 422.9 427.9 419.6 435.4 403.8 450.7 404.7 461.3 405.5 466.1 442.7 471.1 481.7 472.3 480.7 482.4 473.5 497.2 454.3 498.5 452.7 508.3 410.9 511.0 409.1 515.6 405.9 524.9 399.4 533.1 386.1 541.7 384.5 550.2 394.7 565.1 403.8 578.1 413.5 585.9 425.7 596.5 442.8 605.5 439.5 610.3 440.9 619.8 443.4 637.7 449.5 640.7 450.3 650.0 453.2 651.5 453.6 666.8 449.9 676.9 444.8 694.2 451.5 709.6 453.5" fill="none" stroke="#461364" stroke-width="1.05" stroke-dasharray="1.05 1.15"/>
<path d="M408.0 405.8 415.8 418.2 416.3 418.4 426.3 422.5 427.9 419.5 435.4 405.0 450.7 406.3 461.3 407.5 466.1 442.6 471.1 479.3 472.3 478.2 482.4 471.7 497.2 452.6 498.5 451.0 508.3 411.0 511.0 409.1 515.6 405.8 524.9 399.5 533.1 387.1 541.7 385.8 550.2 395.7 565.1 404.8 578.1 414.3 585.9 425.5 596.5 441.7 605.5 438.9 610.3 440.4 619.8 442.9 637.7 448.9 640.7 449.7 650.0 452.8 651.5 453.2 666.8 449.7 676.9 444.9 694.2 451.7 709.6 453.8" fill="none" stroke="#482475" stroke-width="1.05" stroke-dasharray="1.05 1.15"/>
<path d="M408.0 406.6 415.8 418.0 416.3 418.2 426.3 422.2 427.9 419.4 435.4 406.2 450.7 408.0 461.3 409.6 466.1 442.6 471.1 476.9 472.3 475.8 482.4 469.8 497.2 451.0 498.5 449.4 508.3 411.0 511.0 409.1 515.6 405.7 524.9 399.6 533.1 388.1 541.7 387.2 550.2 396.7 565.1 405.7 578.1 415.1 585.9 425.2 596.5 440.6 605.5 438.3 610.3 439.9 619.8 442.3 637.7 448.3 640.7 449.1 650.0 452.5 651.5 452.8 666.8 449.5 676.9 445.0 694.2 451.8 709.6 454.0" fill="none" stroke="#44347e" stroke-width="1.05" stroke-dasharray="1.05 1.15"/>
<path d="M408.0 407.4 415.8 417.8 416.3 417.9 426.3 421.9 427.9 419.2 435.4 407.4 450.7 409.6 461.3 411.6 466.1 442.5 471.1 474.4 472.3 473.4 482.4 468.0 497.2 449.4 498.5 447.8 508.3 411.1 511.0 409.1 515.6 405.6 524.9 399.6 533.1 389.0 541.7 388.5 550.2 397.7 565.1 406.6 578.1 415.9 585.9 425.0 596.5 439.5 605.5 437.7 610.3 439.5 619.8 441.8 637.7 447.7 640.7 448.5 650.0 452.1 651.5 452.4 666.8 449.2 676.9 445.1 694.2 452.0 709.6 454.3" fill="none" stroke="#414487" stroke-width="1.05" stroke-dasharray="1.05 1.15"/>
<path d="M408.0 408.2 415.8 417.6 416.3 417.7 426.3 421.6 427.9 419.1 435.4 408.6 450.7 411.2 461.3 413.7 466.1 442.5 471.1 472.0 472.3 470.9 482.4 466.1 497.2 447.7 498.5 446.2 508.3 411.1 511.0 409.1 515.6 405.6 524.9 399.7 533.1 390.0 541.7 389.8 550.2 398.7 565.1 407.5 578.1 416.7 585.9 424.7 596.5 438.4 605.5 437.2 610.3 439.0 619.8 441.3 637.7 447.1 640.7 447.9 650.0 451.7 651.5 452.0 666.8 449.0 676.9 445.2 694.2 452.1 709.6 454.5" fill="none" stroke="#3b518a" stroke-width="1.05" stroke-dasharray="1.05 1.15"/>
<path d="M408.0 409.0 415.8 417.4 416.3 417.5 426.3 421.3 427.9 419.0 435.4 409.7 450.7 412.8 461.3 415.7 466.1 442.4 471.1 469.6 472.3 468.5 482.4 464.2 497.2 446.1 498.5 444.6 508.3 411.2 511.0 409.1 515.6 405.5 524.9 399.8 533.1 391.0 541.7 391.1 550.2 399.7 565.1 408.4 578.1 417.5 585.9 424.5 596.5 437.3 605.5 436.6 610.3 438.5 619.8 440.7 637.7 446.4 640.7 447.3 650.0 451.4 651.5 451.6 666.8 448.8 676.9 445.3 694.2 452.2 709.6 454.7" fill="none" stroke="#355f8d" stroke-width="1.05" stroke-dasharray="1.05 1.15"/>
<path d="M408.0 409.8 415.8 417.2 416.3 417.2 426.3 420.9 427.9 418.8 435.4 410.9 450.7 414.4 461.3 417.8 466.1 442.4 471.1 467.2 472.3 466.1 482.4 462.4 497.2 444.5 498.5 442.9 508.3 411.2 511.0 409.1 515.6 405.4 524.9 399.8 533.1 392.0 541.7 392.4 550.2 400.7 565.1 409.3 578.1 418.3 585.9 424.2 596.5 436.2 605.5 436.0 610.3 438.0 619.8 440.2 637.7 445.8 640.7 446.6 650.0 451.0 651.5 451.3 666.8 448.6 676.9 445.4 694.2 452.4 709.6 455.0" fill="none" stroke="#2f6b8e" stroke-width="1.05" stroke-dasharray="1.05 1.15"/>
<path d="M408.0 410.6 415.8 417.0 416.3 417.0 426.3 420.6 427.9 418.7 435.4 412.1 450.7 416.0 461.3 419.9 466.1 442.4 471.1 464.8 472.3 463.6 482.4 460.5 497.2 442.8 498.5 441.3 508.3 411.3 511.0 409.1 515.6 405.4 524.9 399.9 533.1 393.0 541.7 393.7 550.2 401.7 565.1 410.2 578.1 419.1 585.9 424.0 596.5 435.1 605.5 435.4 610.3 437.5 619.8 439.7 637.7 445.2 640.7 446.0 650.0 450.6 651.5 450.9 666.8 448.3 676.9 445.5 694.2 452.5 709.6 455.2" fill="none" stroke="#2a788e" stroke-width="1.05" stroke-dasharray="1.05 1.15"/>
<path d="M408.0 411.4 415.8 416.8 416.3 416.7 426.3 420.3 427.9 418.6 435.4 413.3 450.7 417.7 461.3 421.9 466.1 442.3 471.1 462.4 472.3 461.2 482.4 458.6 497.2 441.2 498.5 439.7 508.3 411.4 511.0 409.1 515.6 405.3 524.9 400.0 533.1 394.0 541.7 395.0 550.2 402.6 565.1 411.1 578.1 419.9 585.9 423.8 596.5 434.0 605.5 434.8 610.3 437.1 619.8 439.1 637.7 444.6 640.7 445.4 650.0 450.3 651.5 450.5 666.8 448.1 676.9 445.6 694.2 452.7 709.6 455.4" fill="none" stroke="#25848d" stroke-width="1.05" stroke-dasharray="1.05 1.15"/>
<path d="M408.0 412.2 415.8 416.6 416.3 416.5 426.3 420.0 427.9 418.4 435.4 414.5 450.7 419.3 461.3 424.0 466.1 442.3 471.1 460.0 472.3 458.8 482.4 456.8 497.2 439.6 498.5 438.1 508.3 411.4 511.0 409.1 515.6 405.2 524.9 400.0 533.1 395.0 541.7 396.3 550.2 403.6 565.1 412.1 578.1 420.7 585.9 423.5 596.5 432.9 605.5 434.2 610.3 436.6 619.8 438.6 637.7 444.0 640.7 444.8 650.0 449.9 651.5 450.1 666.8 447.9 676.9 445.7 694.2 452.8 709.6 455.7" fill="none" stroke="#21918d" stroke-width="1.05" stroke-dasharray="1.05 1.15"/>
<path d="M408.0 413.0 415.8 416.4 416.3 416.3 426.3 419.6 427.9 418.3 435.4 415.6 450.7 420.9 461.3 426.0 466.1 442.2 471.1 457.6 472.3 456.3 482.4 454.9 497.2 437.9 498.5 436.5 508.3 411.5 511.0 409.1 515.6 405.2 524.9 400.1 533.1 396.0 541.7 397.6 550.2 404.6 565.1 413.0 578.1 421.5 585.9 423.3 596.5 431.8 605.5 433.6 610.3 436.1 619.8 438.1 637.7 443.4 640.7 444.2 650.0 449.5 651.5 449.7 666.8 447.7 676.9 445.8 694.2 453.0 709.6 455.9" fill="none" stroke="#229c88" stroke-width="1.05" stroke-dasharray="1.05 1.15"/>
<path d="M408.0 413.8 415.8 416.2 416.3 416.0 426.3 419.3 427.9 418.2 435.4 416.8 450.7 422.5 461.3 428.1 466.1 442.2 471.1 455.2 472.3 453.9 482.4 453.1 497.2 436.3 498.5 434.9 508.3 411.5 511.0 409.1 515.6 405.1 524.9 400.2 533.1 397.0 541.7 398.9 550.2 405.6 565.1 413.9 578.1 422.3 585.9 423.0 596.5 430.7 605.5 433.0 610.3 435.6 619.8 437.5 637.7 442.8 640.7 443.6 650.0 449.2 651.5 449.3 666.8 447.5 676.9 445.9 694.2 453.1 709.6 456.1" fill="none" stroke="#22a884" stroke-width="1.05" stroke-dasharray="1.05 1.15"/>
<path d="M408.0 414.6 415.8 416.0 416.3 415.8 426.3 419.0 427.9 418.0 435.4 418.0 450.7 424.1 461.3 430.1 466.1 442.1 471.1 452.8 472.3 451.4 482.4 451.2 497.2 434.6 498.5 433.2 508.3 411.6 511.0 409.1 515.6 405.0 524.9 400.2 533.1 398.0 541.7 400.2 550.2 406.6 565.1 414.8 578.1 423.1 585.9 422.8 596.5 429.6 605.5 432.5 610.3 435.1 619.8 437.0 637.7 442.1 640.7 443.0 650.0 448.8 651.5 448.9 666.8 447.2 676.9 446.0 694.2 453.3 709.6 456.4" fill="none" stroke="#33b47a" stroke-width="1.05" stroke-dasharray="1.05 1.15"/>
<path d="M408.0 415.4 415.8 415.7 416.3 415.6 426.3 418.7 427.9 417.9 435.4 419.2 450.7 425.7 461.3 432.2 466.1 442.1 471.1 450.3 472.3 449.0 482.4 449.3 497.2 433.0 498.5 431.6 508.3 411.6 511.0 409.1 515.6 405.0 524.9 400.3 533.1 399.0 541.7 401.5 550.2 407.6 565.1 415.7 578.1 423.9 585.9 422.5 596.5 428.5 605.5 431.9 610.3 434.7 619.8 436.4 637.7 441.5 640.7 442.3 650.0 448.4 651.5 448.5 666.8 447.0 676.9 446.1 694.2 453.4 709.6 456.6" fill="none" stroke="#44bf70" stroke-width="1.05" stroke-dasharray="1.05 1.15"/>
<path d="M408.0 416.2 415.8 415.5 416.3 415.3 426.3 418.3 427.9 417.8 435.4 420.4 450.7 427.4 461.3 434.2 466.1 442.0 471.1 447.9 472.3 446.6 482.4 447.5 497.2 431.4 498.5 430.0 508.3 411.7 511.0 409.2 515.6 404.9 524.9 400.4 533.1 400.0 541.7 402.8 550.2 408.6 565.1 416.6 578.1 424.7 585.9 422.3 596.5 427.4 605.5 431.3 610.3 434.2 619.8 435.9 637.7 440.9 640.7 441.7 650.0 448.1 651.5 448.2 666.8 446.8 676.9 446.2 694.2 453.5 709.6 456.9" fill="none" stroke="#5fc861" stroke-width="1.05" stroke-dasharray="1.05 1.15"/>
<path d="M408.0 417.0 415.8 415.3 416.3 415.1 426.3 418.0 427.9 417.6 435.4 421.6 450.7 429.0 461.3 436.3 466.1 442.0 471.1 445.5 472.3 444.1 482.4 445.6 497.2 429.7 498.5 428.4 508.3 411.7 511.0 409.2 515.6 404.8 524.9 400.4 533.1 401.0 541.7 404.1 550.2 409.6 565.1 417.5 578.1 425.5 585.9 422.0 596.5 426.3 605.5 430.7 610.3 433.7 619.8 435.4 637.7 440.3 640.7 441.1 650.0 447.7 651.5 447.8 666.8 446.6 676.9 446.3 694.2 453.7 709.6 457.1" fill="none" stroke="#7ad151" stroke-width="1.05" stroke-dasharray="1.05 1.15"/>
<path d="M408.0 417.8 415.8 415.1 416.3 414.8 426.3 417.7 427.9 417.5 435.4 422.7 450.7 430.6 461.3 438.4 466.1 442.0 471.1 443.1 472.3 441.7 482.4 443.7 497.2 428.1 498.5 426.8 508.3 411.8 511.0 409.2 515.6 404.8 524.9 400.5 533.1 402.0 541.7 405.4 550.2 410.6 565.1 418.4 578.1 426.3 585.9 421.8 596.5 425.2 605.5 430.1 610.3 433.2 619.8 434.8 637.7 439.7 640.7 440.5 650.0 447.4 651.5 447.4 666.8 446.3 676.9 446.4 694.2 453.8 709.6 457.3" fill="none" stroke="#9bd83c" stroke-width="1.05" stroke-dasharray="1.05 1.15"/>
<path d="M408.0 418.6 415.8 414.9 416.3 414.6 426.3 417.4 427.9 417.4 435.4 423.9 450.7 432.2 461.3 440.4 466.1 441.9 471.1 440.7 472.3 439.3 482.4 441.9 497.2 426.5 498.5 425.2 508.3 411.9 511.0 409.2 515.6 404.7 524.9 400.6 533.1 402.9 541.7 406.7 550.2 411.6 565.1 419.3 578.1 427.1 585.9 421.6 596.5 424.1 605.5 429.5 610.3 432.7 619.8 434.3 637.7 439.1 640.7 439.9 650.0 447.0 651.5 447.0 666.8 446.1 676.9 446.5 694.2 454.0 709.6 457.6" fill="none" stroke="#bddf26" stroke-width="1.05" stroke-dasharray="1.05 1.15"/>
<path d="M408.0 419.4 415.8 414.7 416.3 414.4 426.3 417.1 427.9 417.2 435.4 425.1 450.7 433.8 461.3 442.5 466.1 441.9 471.1 438.3 472.3 436.8 482.4 440.0 497.2 424.8 498.5 423.5 508.3 411.9 511.0 409.2 515.6 404.6 524.9 400.6 533.1 403.9 541.7 408.0 550.2 412.6 565.1 420.3 578.1 427.9 585.9 421.3 596.5 423.0 605.5 428.9 610.3 432.3 619.8 433.8 637.7 438.5 640.7 439.3 650.0 446.6 651.5 446.6 666.8 445.9 676.9 446.5 694.2 454.1 709.6 457.8" fill="none" stroke="#dde325" stroke-width="1.05" stroke-dasharray="1.05 1.15"/>
<path d="M408.0 420.2 415.8 414.5 416.3 414.1 426.3 416.7 427.9 417.1 435.4 426.3 450.7 435.5 461.3 444.5 466.1 441.8 471.1 435.9 472.3 434.4 482.4 438.2 497.2 423.2 498.5 421.9 508.3 412.0 511.0 409.2 515.6 404.6 524.9 400.7 533.1 404.9 541.7 409.3 550.2 413.6 565.1 421.2 578.1 428.7 585.9 421.1 596.5 421.8 605.5 428.4 610.3 431.8 619.8 433.2 637.7 437.9 640.7 438.6 650.0 446.3 651.5 446.2 666.8 445.7 676.9 446.6 694.2 454.3 709.6 458.0" fill="none" stroke="#fde725" stroke-width="1.05" stroke-dasharray="1.05 1.15"/>
<path d="M408.0 435.5 416.3 434.0 423.3 435.5 435.4 437.0 444.7 434.0 455.2 430.0 471.1 428.2 487.2 415.9 498.5 400.9 505.8 396.0 515.6 384.7 527.9 389.3 541.4 394.6 565.1 399.2 578.1 401.2 587.4 398.2 605.5 402.1 622.4 404.5 639.2 403.6 650.0 407.5 666.8 404.5 675.1 404.3 694.2 406.6 704.5 411.4 709.6 411.7" fill="none" stroke="#ff2020" stroke-width="1.1"/>
</g>
<path d="M408 365.2V500.3H704.3V365.2Z" fill="none" stroke="#999" stroke-width="1.1"/>
<line x1="405.5" y1="500.30" x2="408" y2="500.30" stroke="#555" stroke-width="0.8"/>
<text x="403.80" y="504.30" font-size="10.7" text-anchor="end" textLength="11.6" lengthAdjust="spacingAndGlyphs">20</text>
<line x1="405.5" y1="481.00" x2="408" y2="481.00" stroke="#555" stroke-width="0.8"/>
<text x="403.80" y="485.00" font-size="10.7" text-anchor="end" textLength="11.6" lengthAdjust="spacingAndGlyphs">40</text>
<line x1="405.5" y1="461.70" x2="408" y2="461.70" stroke="#555" stroke-width="0.8"/>
<text x="403.80" y="465.70" font-size="10.7" text-anchor="end" textLength="11.6" lengthAdjust="spacingAndGlyphs">60</text>
<line x1="405.5" y1="442.40" x2="408" y2="442.40" stroke="#555" stroke-width="0.8"/>
<text x="403.80" y="446.40" font-size="10.7" text-anchor="end" textLength="11.6" lengthAdjust="spacingAndGlyphs">80</text>
<line x1="405.5" y1="423.10" x2="408" y2="423.10" stroke="#555" stroke-width="0.8"/>
<text x="403.80" y="427.10" font-size="10.7" text-anchor="end" textLength="17.5" lengthAdjust="spacingAndGlyphs">100</text>
<line x1="405.5" y1="403.80" x2="408" y2="403.80" stroke="#555" stroke-width="0.8"/>
<text x="403.80" y="407.80" font-size="10.7" text-anchor="end" textLength="17.5" lengthAdjust="spacingAndGlyphs">120</text>
<line x1="405.5" y1="384.50" x2="408" y2="384.50" stroke="#555" stroke-width="0.8"/>
<text x="403.80" y="388.50" font-size="10.7" text-anchor="end" textLength="17.5" lengthAdjust="spacingAndGlyphs">140</text>
<line x1="405.5" y1="365.20" x2="408" y2="365.20" stroke="#555" stroke-width="0.8"/>
<text x="403.80" y="369.20" font-size="10.7" text-anchor="end" textLength="17.5" lengthAdjust="spacingAndGlyphs">160</text>
<line x1="704.3" y1="500.30" x2="706.8" y2="500.30" stroke="#555" stroke-width="0.8"/>
<text x="708.50" y="504.30" font-size="10.7" textLength="5.6" lengthAdjust="spacingAndGlyphs" fill="#ff0000" style="stroke:#ff0000">0</text>
<line x1="704.3" y1="485.29" x2="706.8" y2="485.29" stroke="#555" stroke-width="0.8"/>
<text x="708.50" y="489.29" font-size="10.7" textLength="11.6" lengthAdjust="spacingAndGlyphs" fill="#ff0000" style="stroke:#ff0000">20</text>
<line x1="704.3" y1="470.28" x2="706.8" y2="470.28" stroke="#555" stroke-width="0.8"/>
<text x="708.50" y="474.28" font-size="10.7" textLength="11.6" lengthAdjust="spacingAndGlyphs" fill="#ff0000" style="stroke:#ff0000">40</text>
<line x1="704.3" y1="455.27" x2="706.8" y2="455.27" stroke="#555" stroke-width="0.8"/>
<text x="708.50" y="459.27" font-size="10.7" textLength="11.6" lengthAdjust="spacingAndGlyphs" fill="#ff0000" style="stroke:#ff0000">60</text>
<line x1="704.3" y1="440.26" x2="706.8" y2="440.26" stroke="#555" stroke-width="0.8"/>
<text x="708.50" y="444.26" font-size="10.7" textLength="11.6" lengthAdjust="spacingAndGlyphs" fill="#ff0000" style="stroke:#ff0000">80</text>
<line x1="704.3" y1="425.24" x2="706.8" y2="425.24" stroke="#555" stroke-width="0.8"/>
<text x="708.50" y="429.24" font-size="10.7" textLength="17.5" lengthAdjust="spacingAndGlyphs" fill="#ff0000" style="stroke:#ff0000">100</text>
<line x1="704.3" y1="410.23" x2="706.8" y2="410.23" stroke="#555" stroke-width="0.8"/>
<text x="708.50" y="414.23" font-size="10.7" textLength="17.5" lengthAdjust="spacingAndGlyphs" fill="#ff0000" style="stroke:#ff0000">120</text>
<line x1="704.3" y1="395.22" x2="706.8" y2="395.22" stroke="#555" stroke-width="0.8"/>
<text x="708.50" y="399.22" font-size="10.7" textLength="17.5" lengthAdjust="spacingAndGlyphs" fill="#ff0000" style="stroke:#ff0000">140</text>
<line x1="704.3" y1="380.21" x2="706.8" y2="380.21" stroke="#555" stroke-width="0.8"/>
<text x="708.50" y="384.21" font-size="10.7" textLength="17.5" lengthAdjust="spacingAndGlyphs" fill="#ff0000" style="stroke:#ff0000">160</text>
<line x1="704.3" y1="365.20" x2="706.8" y2="365.20" stroke="#555" stroke-width="0.8"/>
<text x="708.50" y="369.20" font-size="10.7" textLength="17.5" lengthAdjust="spacingAndGlyphs" fill="#ff0000" style="stroke:#ff0000">180</text>
<line x1="408.00" y1="500.3" x2="408.00" y2="502.8" stroke="#555" stroke-width="0.8"/>
<text x="408.00" y="511.50" font-size="10.7" text-anchor="middle" textLength="5.6" lengthAdjust="spacingAndGlyphs">0</text>
<line x1="470.82" y1="500.3" x2="470.82" y2="502.8" stroke="#555" stroke-width="0.8"/>
<text x="470.82" y="511.50" font-size="10.7" text-anchor="middle" textLength="21.2" lengthAdjust="spacingAndGlyphs">0.25</text>
<line x1="533.65" y1="500.3" x2="533.65" y2="502.8" stroke="#555" stroke-width="0.8"/>
<text x="533.65" y="511.50" font-size="10.7" text-anchor="middle" textLength="14.4" lengthAdjust="spacingAndGlyphs">0.5</text>
<line x1="596.48" y1="500.3" x2="596.48" y2="502.8" stroke="#555" stroke-width="0.8"/>
<text x="596.48" y="511.50" font-size="10.7" text-anchor="middle" textLength="21.2" lengthAdjust="spacingAndGlyphs">0.75</text>
<line x1="659.30" y1="500.3" x2="659.30" y2="502.8" stroke="#555" stroke-width="0.8"/>
<text x="659.30" y="511.50" font-size="10.7" text-anchor="middle" textLength="21.2" lengthAdjust="spacingAndGlyphs">1.00</text>
<text x="556.5" y="522.4" font-size="10.3" text-anchor="middle" textLength="115" lengthAdjust="spacingAndGlyphs">Distance along slice ["]</text>
<text x="555.8" y="362.1" font-size="10.3" text-anchor="middle" textLength="32" lengthAdjust="spacingAndGlyphs">Slice 2</text>
<text transform="translate(381.4,432.4) rotate(-90)" font-size="10.3" text-anchor="middle" textLength="24.4" lengthAdjust="spacingAndGlyphs"><tspan font-style="italic">γ</tspan> [°]</text>
<text transform="translate(736.4,432.6) rotate(-90)" font-size="10.3" text-anchor="middle" fill="#ff0000" style="stroke:#ff0000" textLength="23.6" lengthAdjust="spacingAndGlyphs"><tspan font-style="italic">ϕ</tspan> [°]</text>
<defs><linearGradient id="vir" x1="0" y1="0" x2="1" y2="0"><stop offset="0.0" stop-color="#440154"/><stop offset="0.1" stop-color="#482475"/><stop offset="0.2" stop-color="#414487"/><stop offset="0.3" stop-color="#355f8d"/><stop offset="0.4" stop-color="#2a788e"/><stop offset="0.5" stop-color="#21918d"/><stop offset="0.6" stop-color="#22a884"/><stop offset="0.7" stop-color="#44bf70"/><stop offset="0.8" stop-color="#7ad151"/><stop offset="0.9" stop-color="#bddf26"/><stop offset="1.0" stop-color="#fde725"/></linearGradient></defs>
<rect x="144.2" y="461.7" width="75.2" height="5.4" fill="url(#vir)" stroke="#666" stroke-width="0.6"/>
<line x1="144.2" y1="467.1" x2="144.2" y2="469.3" stroke="#555" stroke-width="0.8"/>
<line x1="181.8" y1="467.1" x2="181.8" y2="469.3" stroke="#555" stroke-width="0.8"/>
<line x1="219.4" y1="467.1" x2="219.4" y2="469.3" stroke="#555" stroke-width="0.8"/>
<text x="144.20" y="477.90" font-size="10.7" text-anchor="middle" textLength="14.9" lengthAdjust="spacingAndGlyphs">0.0</text>
<text x="181.80" y="477.90" font-size="10.7" text-anchor="middle" textLength="23.9" lengthAdjust="spacingAndGlyphs">−1.0</text>
<text x="219.40" y="477.90" font-size="10.7" text-anchor="middle" textLength="22.3" lengthAdjust="spacingAndGlyphs">−2.0</text>
<text x="155.6" y="457.5" font-size="10.3" textLength="52.4" lengthAdjust="spacingAndGlyphs">log(τ<tspan font-size="7.2" dy="1.8">5000Å</tspan><tspan dy="-1.8">)</tspan></text>
</svg></body></html>
